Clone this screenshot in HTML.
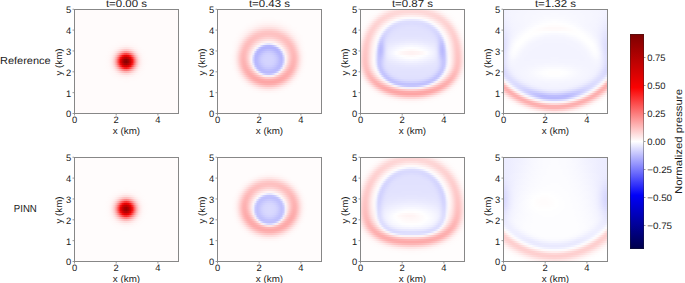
<!DOCTYPE html><html><head><meta charset="utf-8"><style>html,body{margin:0;padding:0;background:#fff;width:685px;height:283px;overflow:hidden}</style></head><body><div style="position:relative;width:685px;height:283px"><div style="position:absolute;left:74px;top:9px;width:105px;height:105px"><div style="height:2px;background:linear-gradient(90deg,#fffbfb,#fffbfb,#fffbfb,#fffbfb,#fffbfb,#fffbfb,#fffbfb,#fffbfb,#fffbfb,#fffbfb,#fffbfb,#fffbfb,#fffbfb,#fffbfb,#fffbfb,#fffbfb,#fffbfb,#fffbfb,#fffbfb,#fffbfb,#fffbfb,#fffbfb,#fffbfb,#fffbfb,#fffbfb,#fffbfb,#fffbfb,#fffbfb,#fffbfb,#fffbfb,#fffbfb,#fffbfb,#fffbfb,#fffbfb,#fffbfb,#fffbfb,#fffbfb,#fffbfb,#fffbfb,#fffbfb,#fffbfb,#fffbfb,#fffbfb,#fffbfb,#fffbfb,#fffbfb,#fffbfb,#fffbfb,#fffbfb,#fffbfb,#fffbfb,#fffbfb,#fffbfb)"></div><div style="height:2px;background:linear-gradient(90deg,#fffbfb,#fffbfb,#fffbfb,#fffbfb,#fffbfb,#fffbfb,#fffbfb,#fffbfb,#fffbfb,#fffbfb,#fffbfb,#fffbfb,#fffbfb,#fffbfb,#fffbfb,#fffbfb,#fffbfb,#fffbfb,#fffbfb,#fffbfb,#fffbfb,#fffbfb,#fffbfb,#fffbfb,#fffbfb,#fffbfb,#fffbfb,#fffbfb,#fffbfb,#fffbfb,#fffbfb,#fffbfb,#fffbfb,#fffbfb,#fffbfb,#fffbfb,#fffbfb,#fffbfb,#fffbfb,#fffbfb,#fffbfb,#fffbfb,#fffbfb,#fffbfb,#fffbfb,#fffbfb,#fffbfb,#fffbfb,#fffbfb,#fffbfb,#fffbfb,#fffbfb,#fffbfb)"></div><div style="height:2px;background:linear-gradient(90deg,#fffbfb,#fffbfb,#fffbfb,#fffbfb,#fffbfb,#fffbfb,#fffbfb,#fffbfb,#fffbfb,#fffbfb,#fffbfb,#fffbfb,#fffbfb,#fffbfb,#fffbfb,#fffbfb,#fffbfb,#fffbfb,#fffbfb,#fffbfb,#fffbfb,#fffbfb,#fffbfb,#fffbfb,#fffbfb,#fffbfb,#fffbfb,#fffbfb,#fffbfb,#fffbfb,#fffbfb,#fffbfb,#fffbfb,#fffbfb,#fffbfb,#fffbfb,#fffbfb,#fffbfb,#fffbfb,#fffbfb,#fffbfb,#fffbfb,#fffbfb,#fffbfb,#fffbfb,#fffbfb,#fffbfb,#fffbfb,#fffbfb,#fffbfb,#fffbfb,#fffbfb,#fffbfb)"></div><div style="height:2px;background:linear-gradient(90deg,#fffbfb,#fffbfb,#fffbfb,#fffbfb,#fffbfb,#fffbfb,#fffbfb,#fffbfb,#fffbfb,#fffbfb,#fffbfb,#fffbfb,#fffbfb,#fffbfb,#fffbfb,#fffbfb,#fffbfb,#fffbfb,#fffbfb,#fffbfb,#fffbfb,#fffbfb,#fffbfb,#fffbfb,#fffbfb,#fffbfb,#fffbfb,#fffbfb,#fffbfb,#fffbfb,#fffbfb,#fffbfb,#fffbfb,#fffbfb,#fffbfb,#fffbfb,#fffbfb,#fffbfb,#fffbfb,#fffbfb,#fffbfb,#fffbfb,#fffbfb,#fffbfb,#fffbfb,#fffbfb,#fffbfb,#fffbfb,#fffbfb,#fffbfb,#fffbfb,#fffbfb,#fffbfb)"></div><div style="height:2px;background:linear-gradient(90deg,#fffbfb,#fffbfb,#fffbfb,#fffbfb,#fffbfb,#fffbfb,#fffbfb,#fffbfb,#fffbfb,#fffbfb,#fffbfb,#fffbfb,#fffbfb,#fffbfb,#fffbfb,#fffbfb,#fffbfb,#fffbfb,#fffbfb,#fffbfb,#fffbfb,#fffbfb,#fffbfb,#fffbfb,#fffbfb,#fffbfb,#fffbfb,#fffbfb,#fffbfb,#fffbfb,#fffbfb,#fffbfb,#fffbfb,#fffbfb,#fffbfb,#fffbfb,#fffbfb,#fffbfb,#fffbfb,#fffbfb,#fffbfb,#fffbfb,#fffbfb,#fffbfb,#fffbfb,#fffbfb,#fffbfb,#fffbfb,#fffbfb,#fffbfb,#fffbfb,#fffbfb,#fffbfb)"></div><div style="height:2px;background:linear-gradient(90deg,#fffbfb,#fffbfb,#fffbfb,#fffbfb,#fffbfb,#fffbfb,#fffbfb,#fffbfb,#fffbfb,#fffbfb,#fffbfb,#fffbfb,#fffbfb,#fffbfb,#fffbfb,#fffbfb,#fffbfb,#fffbfb,#fffbfb,#fffbfb,#fffbfb,#fffbfb,#fffbfb,#fffbfb,#fffbfb,#fffbfb,#fffbfb,#fffbfb,#fffbfb,#fffbfb,#fffbfb,#fffbfb,#fffbfb,#fffbfb,#fffbfb,#fffbfb,#fffbfb,#fffbfb,#fffbfb,#fffbfb,#fffbfb,#fffbfb,#fffbfb,#fffbfb,#fffbfb,#fffbfb,#fffbfb,#fffbfb,#fffbfb,#fffbfb,#fffbfb,#fffbfb,#fffbfb)"></div><div style="height:2px;background:linear-gradient(90deg,#fffbfb,#fffbfb,#fffbfb,#fffbfb,#fffbfb,#fffbfb,#fffbfb,#fffbfb,#fffbfb,#fffbfb,#fffbfb,#fffbfb,#fffbfb,#fffbfb,#fffbfb,#fffbfb,#fffbfb,#fffbfb,#fffbfb,#fffbfb,#fffbfb,#fffbfb,#fffbfb,#fffbfb,#fffbfb,#fffbfb,#fffbfb,#fffbfb,#fffbfb,#fffbfb,#fffbfb,#fffbfb,#fffbfb,#fffbfb,#fffbfb,#fffbfb,#fffbfb,#fffbfb,#fffbfb,#fffbfb,#fffbfb,#fffbfb,#fffbfb,#fffbfb,#fffbfb,#fffbfb,#fffbfb,#fffbfb,#fffbfb,#fffbfb,#fffbfb,#fffbfb,#fffbfb)"></div><div style="height:2px;background:linear-gradient(90deg,#fffbfb,#fffbfb,#fffbfb,#fffbfb,#fffbfb,#fffbfb,#fffbfb,#fffbfb,#fffbfb,#fffbfb,#fffbfb,#fffbfb,#fffbfb,#fffbfb,#fffbfb,#fffbfb,#fffbfb,#fffbfb,#fffbfb,#fffbfb,#fffbfb,#fffbfb,#fffbfb,#fffbfb,#fffbfb,#fffbfb,#fffbfb,#fffbfb,#fffbfb,#fffbfb,#fffbfb,#fffbfb,#fffbfb,#fffbfb,#fffbfb,#fffbfb,#fffbfb,#fffbfb,#fffbfb,#fffbfb,#fffbfb,#fffbfb,#fffbfb,#fffbfb,#fffbfb,#fffbfb,#fffbfb,#fffbfb,#fffbfb,#fffbfb,#fffbfb,#fffbfb,#fffbfb)"></div><div style="height:2px;background:linear-gradient(90deg,#fffbfb,#fffbfb,#fffbfb,#fffbfb,#fffbfb,#fffbfb,#fffbfb,#fffbfb,#fffbfb,#fffbfb,#fffbfb,#fffbfb,#fffbfb,#fffbfb,#fffbfb,#fffbfb,#fffbfb,#fffbfb,#fffbfb,#fffbfb,#fffbfb,#fffbfb,#fffbfb,#fffbfb,#fffbfb,#fffbfb,#fffbfb,#fffbfb,#fffbfb,#fffbfb,#fffbfb,#fffbfb,#fffbfb,#fffbfb,#fffbfb,#fffbfb,#fffbfb,#fffbfb,#fffbfb,#fffbfb,#fffbfb,#fffbfb,#fffbfb,#fffbfb,#fffbfb,#fffbfb,#fffbfb,#fffbfb,#fffbfb,#fffbfb,#fffbfb,#fffbfb,#fffbfb)"></div><div style="height:2px;background:linear-gradient(90deg,#fffbfb,#fffbfb,#fffbfb,#fffbfb,#fffbfb,#fffbfb,#fffbfb,#fffbfb,#fffbfb,#fffbfb,#fffbfb,#fffbfb,#fffbfb,#fffbfb,#fffbfb,#fffbfb,#fffbfb,#fffbfb,#fffbfb,#fffbfb,#fffbfb,#fffbfb,#fffbfb,#fffbfb,#fffbfb,#fffbfb,#fffbfb,#fffbfb,#fffbfb,#fffbfb,#fffbfb,#fffbfb,#fffbfb,#fffbfb,#fffbfb,#fffbfb,#fffbfb,#fffbfb,#fffbfb,#fffbfb,#fffbfb,#fffbfb,#fffbfb,#fffbfb,#fffbfb,#fffbfb,#fffbfb,#fffbfb,#fffbfb,#fffbfb,#fffbfb,#fffbfb,#fffbfb)"></div><div style="height:2px;background:linear-gradient(90deg,#fffbfb,#fffbfb,#fffbfb,#fffbfb,#fffbfb,#fffbfb,#fffbfb,#fffbfb,#fffbfb,#fffbfb,#fffbfb,#fffbfb,#fffbfb,#fffbfb,#fffbfb,#fffbfb,#fffbfb,#fffbfb,#fffbfb,#fffbfb,#fffbfb,#fffbfb,#fffbfb,#fffbfb,#fffbfb,#fffbfb,#fffbfb,#fffbfb,#fffbfb,#fffbfb,#fffbfb,#fffbfb,#fffbfb,#fffbfb,#fffbfb,#fffbfb,#fffbfb,#fffbfb,#fffbfb,#fffbfb,#fffbfb,#fffbfb,#fffbfb,#fffbfb,#fffbfb,#fffbfb,#fffbfb,#fffbfb,#fffbfb,#fffbfb,#fffbfb,#fffbfb,#fffbfb)"></div><div style="height:2px;background:linear-gradient(90deg,#fffbfb,#fffbfb,#fffbfb,#fffbfb,#fffbfb,#fffbfb,#fffbfb,#fffbfb,#fffbfb,#fffbfb,#fffbfb,#fffbfb,#fffbfb,#fffbfb,#fffbfb,#fffbfb,#fffbfb,#fffbfb,#fffbfb,#fffbfb,#fffbfb,#fffbfb,#fffbfb,#fffbfb,#fffbfb,#fffbfb,#fffbfb,#fffbfb,#fffbfb,#fffbfb,#fffbfb,#fffbfb,#fffbfb,#fffbfb,#fffbfb,#fffbfb,#fffbfb,#fffbfb,#fffbfb,#fffbfb,#fffbfb,#fffbfb,#fffbfb,#fffbfb,#fffbfb,#fffbfb,#fffbfb,#fffbfb,#fffbfb,#fffbfb,#fffbfb,#fffbfb,#fffbfb)"></div><div style="height:2px;background:linear-gradient(90deg,#fffbfb,#fffbfb,#fffbfb,#fffbfb,#fffbfb,#fffbfb,#fffbfb,#fffbfb,#fffbfb,#fffbfb,#fffbfb,#fffbfb,#fffbfb,#fffbfb,#fffbfb,#fffbfb,#fffbfb,#fffbfb,#fffbfb,#fffbfb,#fffbfb,#fffbfb,#fffbfb,#fffbfb,#fffbfb,#fffbfb,#fffbfb,#fffbfb,#fffbfb,#fffbfb,#fffbfb,#fffbfb,#fffbfb,#fffbfb,#fffbfb,#fffbfb,#fffbfb,#fffbfb,#fffbfb,#fffbfb,#fffbfb,#fffbfb,#fffbfb,#fffbfb,#fffbfb,#fffbfb,#fffbfb,#fffbfb,#fffbfb,#fffbfb,#fffbfb,#fffbfb,#fffbfb)"></div><div style="height:2px;background:linear-gradient(90deg,#fffbfb,#fffbfb,#fffbfb,#fffbfb,#fffbfb,#fffbfb,#fffbfb,#fffbfb,#fffbfb,#fffbfb,#fffbfb,#fffbfb,#fffbfb,#fffbfb,#fffbfb,#fffbfb,#fffbfb,#fffbfb,#fffbfb,#fffbfb,#fffbfb,#fffbfb,#fffbfb,#fffbfb,#fffbfb,#fffbfb,#fffbfb,#fffbfb,#fffbfb,#fffbfb,#fffbfb,#fffbfb,#fffbfb,#fffbfb,#fffbfb,#fffbfb,#fffbfb,#fffbfb,#fffbfb,#fffbfb,#fffbfb,#fffbfb,#fffbfb,#fffbfb,#fffbfb,#fffbfb,#fffbfb,#fffbfb,#fffbfb,#fffbfb,#fffbfb,#fffbfb,#fffbfb)"></div><div style="height:2px;background:linear-gradient(90deg,#fffbfb,#fffbfb,#fffbfb,#fffbfb,#fffbfb,#fffbfb,#fffbfb,#fffbfb,#fffbfb,#fffbfb,#fffbfb,#fffbfb,#fffbfb,#fffbfb,#fffbfb,#fffbfb,#fffbfb,#fffbfb,#fffbfb,#fffbfb,#fffbfb,#fffbfb,#fffbfb,#fffbfb,#fffbfb,#fffbfb,#fffbfb,#fffbfb,#fffbfb,#fffbfb,#fffbfb,#fffbfb,#fffbfb,#fffbfb,#fffbfb,#fffbfb,#fffbfb,#fffbfb,#fffbfb,#fffbfb,#fffbfb,#fffbfb,#fffbfb,#fffbfb,#fffbfb,#fffbfb,#fffbfb,#fffbfb,#fffbfb,#fffbfb,#fffbfb,#fffbfb,#fffbfb)"></div><div style="height:2px;background:linear-gradient(90deg,#fffbfb,#fffbfb,#fffbfb,#fffbfb,#fffbfb,#fffbfb,#fffbfb,#fffbfb,#fffbfb,#fffbfb,#fffbfb,#fffbfb,#fffbfb,#fffbfb,#fffbfb,#fffbfb,#fffbfb,#fffbfb,#fffbfb,#fffbfb,#fffbfb,#fffbfb,#fffbfb,#fffbfb,#fffbfb,#fffbfb,#fffbfb,#fffbfb,#fffbfb,#fffbfb,#fffbfb,#fffbfb,#fffbfb,#fffbfb,#fffbfb,#fffbfb,#fffbfb,#fffbfb,#fffbfb,#fffbfb,#fffbfb,#fffbfb,#fffbfb,#fffbfb,#fffbfb,#fffbfb,#fffbfb,#fffbfb,#fffbfb,#fffbfb,#fffbfb,#fffbfb,#fffbfb)"></div><div style="height:2px;background:linear-gradient(90deg,#fffbfb,#fffbfb,#fffbfb,#fffbfb,#fffbfb,#fffbfb,#fffbfb,#fffbfb,#fffbfb,#fffbfb,#fffbfb,#fffbfb,#fffbfb,#fffbfb,#fffbfb,#fffbfb,#fffbfb,#fffbfb,#fffbfb,#fffbfb,#fffbfb,#fffbfb,#fffafa,#fffafa,#fffafa,#fffafa,#fffafa,#fffafa,#fffafa,#fffafa,#fffbfb,#fffbfb,#fffbfb,#fffbfb,#fffbfb,#fffbfb,#fffbfb,#fffbfb,#fffbfb,#fffbfb,#fffbfb,#fffbfb,#fffbfb,#fffbfb,#fffbfb,#fffbfb,#fffbfb,#fffbfb,#fffbfb,#fffbfb,#fffbfb,#fffbfb,#fffbfb)"></div><div style="height:2px;background:linear-gradient(90deg,#fffbfb,#fffbfb,#fffbfb,#fffbfb,#fffbfb,#fffbfb,#fffbfb,#fffbfb,#fffbfb,#fffbfb,#fffbfb,#fffbfb,#fffbfb,#fffbfb,#fffbfb,#fffbfb,#fffbfb,#fffbfb,#fffbfb,#fffbfb,#fffbfb,#fffafa,#fffafa,#fff9f9,#fff9f9,#fff8f8,#fff8f8,#fff8f8,#fff9f9,#fff9f9,#fffafa,#fffafa,#fffbfb,#fffbfb,#fffbfb,#fffbfb,#fffbfb,#fffbfb,#fffbfb,#fffbfb,#fffbfb,#fffbfb,#fffbfb,#fffbfb,#fffbfb,#fffbfb,#fffbfb,#fffbfb,#fffbfb,#fffbfb,#fffbfb,#fffbfb,#fffbfb)"></div><div style="height:2px;background:linear-gradient(90deg,#fffbfb,#fffbfb,#fffbfb,#fffbfb,#fffbfb,#fffbfb,#fffbfb,#fffbfb,#fffbfb,#fffbfb,#fffbfb,#fffbfb,#fffbfb,#fffbfb,#fffbfb,#fffbfb,#fffbfb,#fffbfb,#fffbfb,#fffafa,#fffafa,#fff9f9,#fff8f8,#fff6f6,#fff4f4,#fff3f3,#fff2f2,#fff3f3,#fff5f5,#fff7f7,#fff8f8,#fff9f9,#fffafa,#fffbfb,#fffbfb,#fffbfb,#fffbfb,#fffbfb,#fffbfb,#fffbfb,#fffbfb,#fffbfb,#fffbfb,#fffbfb,#fffbfb,#fffbfb,#fffbfb,#fffbfb,#fffbfb,#fffbfb,#fffbfb,#fffbfb,#fffbfb)"></div><div style="height:2px;background:linear-gradient(90deg,#fffbfb,#fffbfb,#fffbfb,#fffbfb,#fffbfb,#fffbfb,#fffbfb,#fffbfb,#fffbfb,#fffbfb,#fffbfb,#fffbfb,#fffbfb,#fffbfb,#fffbfb,#fffbfb,#fffbfb,#fffbfb,#fffafa,#fffafa,#fff8f8,#fff6f6,#fff2f2,#ffeded,#ffe9e9,#fee5e5,#fee4e4,#fee6e6,#ffeaea,#ffefef,#fff4f4,#fff7f7,#fff9f9,#fffafa,#fffbfb,#fffbfb,#fffbfb,#fffbfb,#fffbfb,#fffbfb,#fffbfb,#fffbfb,#fffbfb,#fffbfb,#fffbfb,#fffbfb,#fffbfb,#fffbfb,#fffbfb,#fffbfb,#fffbfb,#fffbfb,#fffbfb)"></div><div style="height:2px;background:linear-gradient(90deg,#fffbfb,#fffbfb,#fffbfb,#fffbfb,#fffbfb,#fffbfb,#fffbfb,#fffbfb,#fffbfb,#fffbfb,#fffbfb,#fffbfb,#fffbfb,#fffbfb,#fffbfb,#fffbfb,#fffbfb,#fffbfb,#fffafa,#fff9f9,#fff5f5,#fff0f0,#fee7e7,#fedcdc,#fed0d0,#fec8c8,#fec6c6,#fecbcb,#fed5d5,#fee1e1,#ffebeb,#fff2f2,#fff7f7,#fff9f9,#fffafa,#fffbfb,#fffbfb,#fffbfb,#fffbfb,#fffbfb,#fffbfb,#fffbfb,#fffbfb,#fffbfb,#fffbfb,#fffbfb,#fffbfb,#fffbfb,#fffbfb,#fffbfb,#fffbfb,#fffbfb,#fffbfb)"></div><div style="height:2px;background:linear-gradient(90deg,#fffbfb,#fffbfb,#fffbfb,#fffbfb,#fffbfb,#fffbfb,#fffbfb,#fffbfb,#fffbfb,#fffbfb,#fffbfb,#fffbfb,#fffbfb,#fffbfb,#fffbfb,#fffbfb,#fffbfb,#fffafa,#fff9f9,#fff6f6,#fff0f0,#fee4e4,#fed3d3,#febcbc,#fda5a5,#fd9494,#fd9090,#fd9a9a,#fdaeae,#fec5c5,#fedbdb,#ffeaea,#fff3f3,#fff8f8,#fffafa,#fffafa,#fffbfb,#fffbfb,#fffbfb,#fffbfb,#fffbfb,#fffbfb,#fffbfb,#fffbfb,#fffbfb,#fffbfb,#fffbfb,#fffbfb,#fffbfb,#fffbfb,#fffbfb,#fffbfb,#fffbfb)"></div><div style="height:2px;background:linear-gradient(90deg,#fffbfb,#fffbfb,#fffbfb,#fffbfb,#fffbfb,#fffbfb,#fffbfb,#fffbfb,#fffbfb,#fffbfb,#fffbfb,#fffbfb,#fffbfb,#fffbfb,#fffbfb,#fffbfb,#fffbfb,#fffafa,#fff8f8,#fff3f3,#ffe8e8,#fed3d3,#fdb4b4,#fd8c8c,#fc6363,#fb4646,#fb3e3e,#fb4f4f,#fc7373,#fd9c9c,#fec2c2,#fedddd,#ffeded,#fff5f5,#fff9f9,#fffafa,#fffbfb,#fffbfb,#fffbfb,#fffbfb,#fffbfb,#fffbfb,#fffbfb,#fffbfb,#fffbfb,#fffbfb,#fffbfb,#fffbfb,#fffbfb,#fffbfb,#fffbfb,#fffbfb,#fffbfb)"></div><div style="height:2px;background:linear-gradient(90deg,#fffbfb,#fffbfb,#fffbfb,#fffbfb,#fffbfb,#fffbfb,#fffbfb,#fffbfb,#fffbfb,#fffbfb,#fffbfb,#fffbfb,#fffbfb,#fffbfb,#fffbfb,#fffbfb,#fffafa,#fff9f9,#fff6f6,#ffeeee,#fedddd,#febebe,#fd8d8d,#fb4f4f,#f71616,#ea0202,#e40202,#ef0707,#fa2828,#fc6969,#fda3a3,#fecccc,#fee5e5,#fff2f2,#fff8f8,#fffafa,#fffbfb,#fffbfb,#fffbfb,#fffbfb,#fffbfb,#fffbfb,#fffbfb,#fffbfb,#fffbfb,#fffbfb,#fffbfb,#fffbfb,#fffbfb,#fffbfb,#fffbfb,#fffbfb,#fffbfb)"></div><div style="height:2px;background:linear-gradient(90deg,#fffbfb,#fffbfb,#fffbfb,#fffbfb,#fffbfb,#fffbfb,#fffbfb,#fffbfb,#fffbfb,#fffbfb,#fffbfb,#fffbfb,#fffbfb,#fffbfb,#fffbfb,#fffbfb,#fffafa,#fff9f9,#fff4f4,#ffeaea,#fed3d3,#fda8a8,#fc6767,#f81818,#d80202,#ba0202,#b20202,#c40202,#e80202,#fb3636,#fc8484,#febcbc,#fedede,#ffefef,#fff7f7,#fffafa,#fffafa,#fffbfb,#fffbfb,#fffbfb,#fffbfb,#fffbfb,#fffbfb,#fffbfb,#fffbfb,#fffbfb,#fffbfb,#fffbfb,#fffbfb,#fffbfb,#fffbfb,#fffbfb,#fffbfb)"></div><div style="height:2px;background:linear-gradient(90deg,#fffbfb,#fffbfb,#fffbfb,#fffbfb,#fffbfb,#fffbfb,#fffbfb,#fffbfb,#fffbfb,#fffbfb,#fffbfb,#fffbfb,#fffbfb,#fffbfb,#fffbfb,#fffbfb,#fffafa,#fff8f8,#fff3f3,#fee7e7,#fecccc,#fd9a9a,#fb4d4d,#ed0404,#bc0202,#990101,#900101,#a40202,#cf0202,#f81717,#fc6f6f,#fdb1b1,#fed9d9,#ffeded,#fff6f6,#fff9f9,#fffafa,#fffbfb,#fffbfb,#fffbfb,#fffbfb,#fffbfb,#fffbfb,#fffbfb,#fffbfb,#fffbfb,#fffbfb,#fffbfb,#fffbfb,#fffbfb,#fffbfb,#fffbfb,#fffbfb)"></div><div style="height:2px;background:linear-gradient(90deg,#fffbfb,#fffbfb,#fffbfb,#fffbfb,#fffbfb,#fffbfb,#fffbfb,#fffbfb,#fffbfb,#fffbfb,#fffbfb,#fffbfb,#fffbfb,#fffbfb,#fffbfb,#fffbfb,#fffafa,#fff8f8,#fff3f3,#fee6e6,#fecaca,#fd9797,#fb4848,#ea0202,#b70202,#930101,#890101,#9f0101,#cb0202,#f61515,#fc6b6b,#fdafaf,#fed8d8,#ffeded,#fff6f6,#fff9f9,#fffafa,#fffbfb,#fffbfb,#fffbfb,#fffbfb,#fffbfb,#fffbfb,#fffbfb,#fffbfb,#fffbfb,#fffbfb,#fffbfb,#fffbfb,#fffbfb,#fffbfb,#fffbfb,#fffbfb)"></div><div style="height:2px;background:linear-gradient(90deg,#fffbfb,#fffbfb,#fffbfb,#fffbfb,#fffbfb,#fffbfb,#fffbfb,#fffbfb,#fffbfb,#fffbfb,#fffbfb,#fffbfb,#fffbfb,#fffbfb,#fffbfb,#fffbfb,#fffafa,#fff9f9,#fff4f4,#ffe8e8,#fecfcf,#fda1a1,#fc5a5a,#f30d0d,#cb0202,#aa0202,#a20101,#b50202,#dc0202,#fa2525,#fc7a7a,#fdb7b7,#fedbdb,#ffeeee,#fff6f6,#fff9f9,#fffafa,#fffbfb,#fffbfb,#fffbfb,#fffbfb,#fffbfb,#fffbfb,#fffbfb,#fffbfb,#fffbfb,#fffbfb,#fffbfb,#fffbfb,#fffbfb,#fffbfb,#fffbfb,#fffbfb)"></div><div style="height:2px;background:linear-gradient(90deg,#fffbfb,#fffbfb,#fffbfb,#fffbfb,#fffbfb,#fffbfb,#fffbfb,#fffbfb,#fffbfb,#fffbfb,#fffbfb,#fffbfb,#fffbfb,#fffbfb,#fffbfb,#fffbfb,#fffafa,#fff9f9,#fff5f5,#ffecec,#fed9d9,#fdb5b5,#fc7d7d,#fb3636,#ee0606,#d60202,#cf0202,#de0202,#f61111,#fb5454,#fd9696,#fec5c5,#fee2e2,#fff1f1,#fff7f7,#fffafa,#fffbfb,#fffbfb,#fffbfb,#fffbfb,#fffbfb,#fffbfb,#fffbfb,#fffbfb,#fffbfb,#fffbfb,#fffbfb,#fffbfb,#fffbfb,#fffbfb,#fffbfb,#fffbfb,#fffbfb)"></div><div style="height:2px;background:linear-gradient(90deg,#fffbfb,#fffbfb,#fffbfb,#fffbfb,#fffbfb,#fffbfb,#fffbfb,#fffbfb,#fffbfb,#fffbfb,#fffbfb,#fffbfb,#fffbfb,#fffbfb,#fffbfb,#fffbfb,#fffafa,#fffafa,#fff7f7,#fff1f1,#fee4e4,#fecbcb,#fda5a5,#fc7474,#fb4343,#fa2020,#f91919,#fb2b2b,#fb5656,#fc8989,#fdb6b6,#fed6d6,#ffeaea,#fff4f4,#fff8f8,#fffafa,#fffbfb,#fffbfb,#fffbfb,#fffbfb,#fffbfb,#fffbfb,#fffbfb,#fffbfb,#fffbfb,#fffbfb,#fffbfb,#fffbfb,#fffbfb,#fffbfb,#fffbfb,#fffbfb,#fffbfb)"></div><div style="height:2px;background:linear-gradient(90deg,#fffbfb,#fffbfb,#fffbfb,#fffbfb,#fffbfb,#fffbfb,#fffbfb,#fffbfb,#fffbfb,#fffbfb,#fffbfb,#fffbfb,#fffbfb,#fffbfb,#fffbfb,#fffbfb,#fffbfb,#fffafa,#fff9f9,#fff5f5,#ffeded,#fedede,#fec8c8,#fdabab,#fd8d8d,#fc7878,#fc7373,#fc7f7f,#fd9999,#fdb7b7,#fed2d2,#fee5e5,#fff1f1,#fff7f7,#fff9f9,#fffafa,#fffbfb,#fffbfb,#fffbfb,#fffbfb,#fffbfb,#fffbfb,#fffbfb,#fffbfb,#fffbfb,#fffbfb,#fffbfb,#fffbfb,#fffbfb,#fffbfb,#fffbfb,#fffbfb,#fffbfb)"></div><div style="height:2px;background:linear-gradient(90deg,#fffbfb,#fffbfb,#fffbfb,#fffbfb,#fffbfb,#fffbfb,#fffbfb,#fffbfb,#fffbfb,#fffbfb,#fffbfb,#fffbfb,#fffbfb,#fffbfb,#fffbfb,#fffbfb,#fffbfb,#fffafa,#fffafa,#fff8f8,#fff4f4,#ffecec,#fee0e0,#fed1d1,#fec2c2,#fdb7b7,#fdb4b4,#febaba,#fec8c8,#fed7d7,#fee5e5,#ffefef,#fff6f6,#fff9f9,#fffafa,#fffbfb,#fffbfb,#fffbfb,#fffbfb,#fffbfb,#fffbfb,#fffbfb,#fffbfb,#fffbfb,#fffbfb,#fffbfb,#fffbfb,#fffbfb,#fffbfb,#fffbfb,#fffbfb,#fffbfb,#fffbfb)"></div><div style="height:2px;background:linear-gradient(90deg,#fffbfb,#fffbfb,#fffbfb,#fffbfb,#fffbfb,#fffbfb,#fffbfb,#fffbfb,#fffbfb,#fffbfb,#fffbfb,#fffbfb,#fffbfb,#fffbfb,#fffbfb,#fffbfb,#fffbfb,#fffbfb,#fffafa,#fff9f9,#fff8f8,#fff4f4,#ffefef,#ffe8e8,#fee1e1,#fedcdc,#fedbdb,#fedddd,#fee4e4,#ffebeb,#fff1f1,#fff6f6,#fff8f8,#fffafa,#fffafa,#fffbfb,#fffbfb,#fffbfb,#fffbfb,#fffbfb,#fffbfb,#fffbfb,#fffbfb,#fffbfb,#fffbfb,#fffbfb,#fffbfb,#fffbfb,#fffbfb,#fffbfb,#fffbfb,#fffbfb,#fffbfb)"></div><div style="height:2px;background:linear-gradient(90deg,#fffbfb,#fffbfb,#fffbfb,#fffbfb,#fffbfb,#fffbfb,#fffbfb,#fffbfb,#fffbfb,#fffbfb,#fffbfb,#fffbfb,#fffbfb,#fffbfb,#fffbfb,#fffbfb,#fffbfb,#fffbfb,#fffbfb,#fffafa,#fff9f9,#fff8f8,#fff6f6,#fff3f3,#fff1f1,#ffefef,#ffeeee,#ffefef,#fff2f2,#fff4f4,#fff7f7,#fff9f9,#fffafa,#fffafa,#fffbfb,#fffbfb,#fffbfb,#fffbfb,#fffbfb,#fffbfb,#fffbfb,#fffbfb,#fffbfb,#fffbfb,#fffbfb,#fffbfb,#fffbfb,#fffbfb,#fffbfb,#fffbfb,#fffbfb,#fffbfb,#fffbfb)"></div><div style="height:2px;background:linear-gradient(90deg,#fffbfb,#fffbfb,#fffbfb,#fffbfb,#fffbfb,#fffbfb,#fffbfb,#fffbfb,#fffbfb,#fffbfb,#fffbfb,#fffbfb,#fffbfb,#fffbfb,#fffbfb,#fffbfb,#fffbfb,#fffbfb,#fffbfb,#fffbfb,#fffafa,#fffafa,#fff9f9,#fff8f8,#fff7f7,#fff7f7,#fff6f6,#fff7f7,#fff8f8,#fff9f9,#fff9f9,#fffafa,#fffafa,#fffbfb,#fffbfb,#fffbfb,#fffbfb,#fffbfb,#fffbfb,#fffbfb,#fffbfb,#fffbfb,#fffbfb,#fffbfb,#fffbfb,#fffbfb,#fffbfb,#fffbfb,#fffbfb,#fffbfb,#fffbfb,#fffbfb,#fffbfb)"></div><div style="height:2px;background:linear-gradient(90deg,#fffbfb,#fffbfb,#fffbfb,#fffbfb,#fffbfb,#fffbfb,#fffbfb,#fffbfb,#fffbfb,#fffbfb,#fffbfb,#fffbfb,#fffbfb,#fffbfb,#fffbfb,#fffbfb,#fffbfb,#fffbfb,#fffbfb,#fffbfb,#fffbfb,#fffbfb,#fffafa,#fffafa,#fffafa,#fffafa,#fff9f9,#fffafa,#fffafa,#fffafa,#fffafa,#fffbfb,#fffbfb,#fffbfb,#fffbfb,#fffbfb,#fffbfb,#fffbfb,#fffbfb,#fffbfb,#fffbfb,#fffbfb,#fffbfb,#fffbfb,#fffbfb,#fffbfb,#fffbfb,#fffbfb,#fffbfb,#fffbfb,#fffbfb,#fffbfb,#fffbfb)"></div><div style="height:2px;background:linear-gradient(90deg,#fffbfb,#fffbfb,#fffbfb,#fffbfb,#fffbfb,#fffbfb,#fffbfb,#fffbfb,#fffbfb,#fffbfb,#fffbfb,#fffbfb,#fffbfb,#fffbfb,#fffbfb,#fffbfb,#fffbfb,#fffbfb,#fffbfb,#fffbfb,#fffbfb,#fffbfb,#fffbfb,#fffbfb,#fffbfb,#fffafa,#fffafa,#fffafa,#fffbfb,#fffbfb,#fffbfb,#fffbfb,#fffbfb,#fffbfb,#fffbfb,#fffbfb,#fffbfb,#fffbfb,#fffbfb,#fffbfb,#fffbfb,#fffbfb,#fffbfb,#fffbfb,#fffbfb,#fffbfb,#fffbfb,#fffbfb,#fffbfb,#fffbfb,#fffbfb,#fffbfb,#fffbfb)"></div><div style="height:2px;background:linear-gradient(90deg,#fffbfb,#fffbfb,#fffbfb,#fffbfb,#fffbfb,#fffbfb,#fffbfb,#fffbfb,#fffbfb,#fffbfb,#fffbfb,#fffbfb,#fffbfb,#fffbfb,#fffbfb,#fffbfb,#fffbfb,#fffbfb,#fffbfb,#fffbfb,#fffbfb,#fffbfb,#fffbfb,#fffbfb,#fffbfb,#fffbfb,#fffbfb,#fffbfb,#fffbfb,#fffbfb,#fffbfb,#fffbfb,#fffbfb,#fffbfb,#fffbfb,#fffbfb,#fffbfb,#fffbfb,#fffbfb,#fffbfb,#fffbfb,#fffbfb,#fffbfb,#fffbfb,#fffbfb,#fffbfb,#fffbfb,#fffbfb,#fffbfb,#fffbfb,#fffbfb,#fffbfb,#fffbfb)"></div><div style="height:2px;background:linear-gradient(90deg,#fffbfb,#fffbfb,#fffbfb,#fffbfb,#fffbfb,#fffbfb,#fffbfb,#fffbfb,#fffbfb,#fffbfb,#fffbfb,#fffbfb,#fffbfb,#fffbfb,#fffbfb,#fffbfb,#fffbfb,#fffbfb,#fffbfb,#fffbfb,#fffbfb,#fffbfb,#fffbfb,#fffbfb,#fffbfb,#fffbfb,#fffbfb,#fffbfb,#fffbfb,#fffbfb,#fffbfb,#fffbfb,#fffbfb,#fffbfb,#fffbfb,#fffbfb,#fffbfb,#fffbfb,#fffbfb,#fffbfb,#fffbfb,#fffbfb,#fffbfb,#fffbfb,#fffbfb,#fffbfb,#fffbfb,#fffbfb,#fffbfb,#fffbfb,#fffbfb,#fffbfb,#fffbfb)"></div><div style="height:2px;background:linear-gradient(90deg,#fffbfb,#fffbfb,#fffbfb,#fffbfb,#fffbfb,#fffbfb,#fffbfb,#fffbfb,#fffbfb,#fffbfb,#fffbfb,#fffbfb,#fffbfb,#fffbfb,#fffbfb,#fffbfb,#fffbfb,#fffbfb,#fffbfb,#fffbfb,#fffbfb,#fffbfb,#fffbfb,#fffbfb,#fffbfb,#fffbfb,#fffbfb,#fffbfb,#fffbfb,#fffbfb,#fffbfb,#fffbfb,#fffbfb,#fffbfb,#fffbfb,#fffbfb,#fffbfb,#fffbfb,#fffbfb,#fffbfb,#fffbfb,#fffbfb,#fffbfb,#fffbfb,#fffbfb,#fffbfb,#fffbfb,#fffbfb,#fffbfb,#fffbfb,#fffbfb,#fffbfb,#fffbfb)"></div><div style="height:2px;background:linear-gradient(90deg,#fffbfb,#fffbfb,#fffbfb,#fffbfb,#fffbfb,#fffbfb,#fffbfb,#fffbfb,#fffbfb,#fffbfb,#fffbfb,#fffbfb,#fffbfb,#fffbfb,#fffbfb,#fffbfb,#fffbfb,#fffbfb,#fffbfb,#fffbfb,#fffbfb,#fffbfb,#fffbfb,#fffbfb,#fffbfb,#fffbfb,#fffbfb,#fffbfb,#fffbfb,#fffbfb,#fffbfb,#fffbfb,#fffbfb,#fffbfb,#fffbfb,#fffbfb,#fffbfb,#fffbfb,#fffbfb,#fffbfb,#fffbfb,#fffbfb,#fffbfb,#fffbfb,#fffbfb,#fffbfb,#fffbfb,#fffbfb,#fffbfb,#fffbfb,#fffbfb,#fffbfb,#fffbfb)"></div><div style="height:2px;background:linear-gradient(90deg,#fffbfb,#fffbfb,#fffbfb,#fffbfb,#fffbfb,#fffbfb,#fffbfb,#fffbfb,#fffbfb,#fffbfb,#fffbfb,#fffbfb,#fffbfb,#fffbfb,#fffbfb,#fffbfb,#fffbfb,#fffbfb,#fffbfb,#fffbfb,#fffbfb,#fffbfb,#fffbfb,#fffbfb,#fffbfb,#fffbfb,#fffbfb,#fffbfb,#fffbfb,#fffbfb,#fffbfb,#fffbfb,#fffbfb,#fffbfb,#fffbfb,#fffbfb,#fffbfb,#fffbfb,#fffbfb,#fffbfb,#fffbfb,#fffbfb,#fffbfb,#fffbfb,#fffbfb,#fffbfb,#fffbfb,#fffbfb,#fffbfb,#fffbfb,#fffbfb,#fffbfb,#fffbfb)"></div><div style="height:2px;background:linear-gradient(90deg,#fffbfb,#fffbfb,#fffbfb,#fffbfb,#fffbfb,#fffbfb,#fffbfb,#fffbfb,#fffbfb,#fffbfb,#fffbfb,#fffbfb,#fffbfb,#fffbfb,#fffbfb,#fffbfb,#fffbfb,#fffbfb,#fffbfb,#fffbfb,#fffbfb,#fffbfb,#fffbfb,#fffbfb,#fffbfb,#fffbfb,#fffbfb,#fffbfb,#fffbfb,#fffbfb,#fffbfb,#fffbfb,#fffbfb,#fffbfb,#fffbfb,#fffbfb,#fffbfb,#fffbfb,#fffbfb,#fffbfb,#fffbfb,#fffbfb,#fffbfb,#fffbfb,#fffbfb,#fffbfb,#fffbfb,#fffbfb,#fffbfb,#fffbfb,#fffbfb,#fffbfb,#fffbfb)"></div><div style="height:2px;background:linear-gradient(90deg,#fffbfb,#fffbfb,#fffbfb,#fffbfb,#fffbfb,#fffbfb,#fffbfb,#fffbfb,#fffbfb,#fffbfb,#fffbfb,#fffbfb,#fffbfb,#fffbfb,#fffbfb,#fffbfb,#fffbfb,#fffbfb,#fffbfb,#fffbfb,#fffbfb,#fffbfb,#fffbfb,#fffbfb,#fffbfb,#fffbfb,#fffbfb,#fffbfb,#fffbfb,#fffbfb,#fffbfb,#fffbfb,#fffbfb,#fffbfb,#fffbfb,#fffbfb,#fffbfb,#fffbfb,#fffbfb,#fffbfb,#fffbfb,#fffbfb,#fffbfb,#fffbfb,#fffbfb,#fffbfb,#fffbfb,#fffbfb,#fffbfb,#fffbfb,#fffbfb,#fffbfb,#fffbfb)"></div><div style="height:2px;background:linear-gradient(90deg,#fffbfb,#fffbfb,#fffbfb,#fffbfb,#fffbfb,#fffbfb,#fffbfb,#fffbfb,#fffbfb,#fffbfb,#fffbfb,#fffbfb,#fffbfb,#fffbfb,#fffbfb,#fffbfb,#fffbfb,#fffbfb,#fffbfb,#fffbfb,#fffbfb,#fffbfb,#fffbfb,#fffbfb,#fffbfb,#fffbfb,#fffbfb,#fffbfb,#fffbfb,#fffbfb,#fffbfb,#fffbfb,#fffbfb,#fffbfb,#fffbfb,#fffbfb,#fffbfb,#fffbfb,#fffbfb,#fffbfb,#fffbfb,#fffbfb,#fffbfb,#fffbfb,#fffbfb,#fffbfb,#fffbfb,#fffbfb,#fffbfb,#fffbfb,#fffbfb,#fffbfb,#fffbfb)"></div><div style="height:2px;background:linear-gradient(90deg,#fffbfb,#fffbfb,#fffbfb,#fffbfb,#fffbfb,#fffbfb,#fffbfb,#fffbfb,#fffbfb,#fffbfb,#fffbfb,#fffbfb,#fffbfb,#fffbfb,#fffbfb,#fffbfb,#fffbfb,#fffbfb,#fffbfb,#fffbfb,#fffbfb,#fffbfb,#fffbfb,#fffbfb,#fffbfb,#fffbfb,#fffbfb,#fffbfb,#fffbfb,#fffbfb,#fffbfb,#fffbfb,#fffbfb,#fffbfb,#fffbfb,#fffbfb,#fffbfb,#fffbfb,#fffbfb,#fffbfb,#fffbfb,#fffbfb,#fffbfb,#fffbfb,#fffbfb,#fffbfb,#fffbfb,#fffbfb,#fffbfb,#fffbfb,#fffbfb,#fffbfb,#fffbfb)"></div><div style="height:2px;background:linear-gradient(90deg,#fffbfb,#fffbfb,#fffbfb,#fffbfb,#fffbfb,#fffbfb,#fffbfb,#fffbfb,#fffbfb,#fffbfb,#fffbfb,#fffbfb,#fffbfb,#fffbfb,#fffbfb,#fffbfb,#fffbfb,#fffbfb,#fffbfb,#fffbfb,#fffbfb,#fffbfb,#fffbfb,#fffbfb,#fffbfb,#fffbfb,#fffbfb,#fffbfb,#fffbfb,#fffbfb,#fffbfb,#fffbfb,#fffbfb,#fffbfb,#fffbfb,#fffbfb,#fffbfb,#fffbfb,#fffbfb,#fffbfb,#fffbfb,#fffbfb,#fffbfb,#fffbfb,#fffbfb,#fffbfb,#fffbfb,#fffbfb,#fffbfb,#fffbfb,#fffbfb,#fffbfb,#fffbfb)"></div><div style="height:2px;background:linear-gradient(90deg,#fffbfb,#fffbfb,#fffbfb,#fffbfb,#fffbfb,#fffbfb,#fffbfb,#fffbfb,#fffbfb,#fffbfb,#fffbfb,#fffbfb,#fffbfb,#fffbfb,#fffbfb,#fffbfb,#fffbfb,#fffbfb,#fffbfb,#fffbfb,#fffbfb,#fffbfb,#fffbfb,#fffbfb,#fffbfb,#fffbfb,#fffbfb,#fffbfb,#fffbfb,#fffbfb,#fffbfb,#fffbfb,#fffbfb,#fffbfb,#fffbfb,#fffbfb,#fffbfb,#fffbfb,#fffbfb,#fffbfb,#fffbfb,#fffbfb,#fffbfb,#fffbfb,#fffbfb,#fffbfb,#fffbfb,#fffbfb,#fffbfb,#fffbfb,#fffbfb,#fffbfb,#fffbfb)"></div><div style="height:2px;background:linear-gradient(90deg,#fffbfb,#fffbfb,#fffbfb,#fffbfb,#fffbfb,#fffbfb,#fffbfb,#fffbfb,#fffbfb,#fffbfb,#fffbfb,#fffbfb,#fffbfb,#fffbfb,#fffbfb,#fffbfb,#fffbfb,#fffbfb,#fffbfb,#fffbfb,#fffbfb,#fffbfb,#fffbfb,#fffbfb,#fffbfb,#fffbfb,#fffbfb,#fffbfb,#fffbfb,#fffbfb,#fffbfb,#fffbfb,#fffbfb,#fffbfb,#fffbfb,#fffbfb,#fffbfb,#fffbfb,#fffbfb,#fffbfb,#fffbfb,#fffbfb,#fffbfb,#fffbfb,#fffbfb,#fffbfb,#fffbfb,#fffbfb,#fffbfb,#fffbfb,#fffbfb,#fffbfb,#fffbfb)"></div><div style="height:2px;background:linear-gradient(90deg,#fffbfb,#fffbfb,#fffbfb,#fffbfb,#fffbfb,#fffbfb,#fffbfb,#fffbfb,#fffbfb,#fffbfb,#fffbfb,#fffbfb,#fffbfb,#fffbfb,#fffbfb,#fffbfb,#fffbfb,#fffbfb,#fffbfb,#fffbfb,#fffbfb,#fffbfb,#fffbfb,#fffbfb,#fffbfb,#fffbfb,#fffbfb,#fffbfb,#fffbfb,#fffbfb,#fffbfb,#fffbfb,#fffbfb,#fffbfb,#fffbfb,#fffbfb,#fffbfb,#fffbfb,#fffbfb,#fffbfb,#fffbfb,#fffbfb,#fffbfb,#fffbfb,#fffbfb,#fffbfb,#fffbfb,#fffbfb,#fffbfb,#fffbfb,#fffbfb,#fffbfb,#fffbfb)"></div><div style="height:2px;background:linear-gradient(90deg,#fffbfb,#fffbfb,#fffbfb,#fffbfb,#fffbfb,#fffbfb,#fffbfb,#fffbfb,#fffbfb,#fffbfb,#fffbfb,#fffbfb,#fffbfb,#fffbfb,#fffbfb,#fffbfb,#fffbfb,#fffbfb,#fffbfb,#fffbfb,#fffbfb,#fffbfb,#fffbfb,#fffbfb,#fffbfb,#fffbfb,#fffbfb,#fffbfb,#fffbfb,#fffbfb,#fffbfb,#fffbfb,#fffbfb,#fffbfb,#fffbfb,#fffbfb,#fffbfb,#fffbfb,#fffbfb,#fffbfb,#fffbfb,#fffbfb,#fffbfb,#fffbfb,#fffbfb,#fffbfb,#fffbfb,#fffbfb,#fffbfb,#fffbfb,#fffbfb,#fffbfb,#fffbfb)"></div><div style="height:2px;background:linear-gradient(90deg,#fffbfb,#fffbfb,#fffbfb,#fffbfb,#fffbfb,#fffbfb,#fffbfb,#fffbfb,#fffbfb,#fffbfb,#fffbfb,#fffbfb,#fffbfb,#fffbfb,#fffbfb,#fffbfb,#fffbfb,#fffbfb,#fffbfb,#fffbfb,#fffbfb,#fffbfb,#fffbfb,#fffbfb,#fffbfb,#fffbfb,#fffbfb,#fffbfb,#fffbfb,#fffbfb,#fffbfb,#fffbfb,#fffbfb,#fffbfb,#fffbfb,#fffbfb,#fffbfb,#fffbfb,#fffbfb,#fffbfb,#fffbfb,#fffbfb,#fffbfb,#fffbfb,#fffbfb,#fffbfb,#fffbfb,#fffbfb,#fffbfb,#fffbfb,#fffbfb,#fffbfb,#fffbfb)"></div><div style="height:1px;background:linear-gradient(90deg,#fffbfb,#fffbfb,#fffbfb,#fffbfb,#fffbfb,#fffbfb,#fffbfb,#fffbfb,#fffbfb,#fffbfb,#fffbfb,#fffbfb,#fffbfb,#fffbfb,#fffbfb,#fffbfb,#fffbfb,#fffbfb,#fffbfb,#fffbfb,#fffbfb,#fffbfb,#fffbfb,#fffbfb,#fffbfb,#fffbfb,#fffbfb,#fffbfb,#fffbfb,#fffbfb,#fffbfb,#fffbfb,#fffbfb,#fffbfb,#fffbfb,#fffbfb,#fffbfb,#fffbfb,#fffbfb,#fffbfb,#fffbfb,#fffbfb,#fffbfb,#fffbfb,#fffbfb,#fffbfb,#fffbfb,#fffbfb,#fffbfb,#fffbfb,#fffbfb,#fffbfb,#fffbfb)"></div></div><div style="position:absolute;left:217px;top:9px;width:105px;height:105px"><div style="height:2px;background:linear-gradient(90deg,#fffcfc,#fffcfc,#fffcfc,#fffcfc,#fffcfc,#fffcfc,#fffcfc,#fffcfc,#fffcfc,#fffcfc,#fffcfc,#fffcfc,#fffcfc,#fffcfc,#fffcfc,#fffcfc,#fffcfc,#fffcfc,#fffcfc,#fffcfc,#fffcfc,#fffcfc,#fffcfc,#fffcfc,#fffcfc,#fffcfc,#fffcfc,#fffcfc,#fffcfc,#fffcfc,#fffcfc,#fffcfc,#fffcfc,#fffcfc,#fffcfc,#fffcfc,#fffcfc,#fffcfc,#fffcfc,#fffcfc,#fffcfc,#fffcfc,#fffcfc,#fffcfc,#fffcfc,#fffcfc,#fffcfc,#fffcfc,#fffcfc,#fffcfc,#fffcfc,#fffcfc,#fffcfc)"></div><div style="height:2px;background:linear-gradient(90deg,#fffcfc,#fffcfc,#fffcfc,#fffcfc,#fffcfc,#fffcfc,#fffcfc,#fffcfc,#fffcfc,#fffcfc,#fffcfc,#fffcfc,#fffcfc,#fffcfc,#fffcfc,#fffcfc,#fffcfc,#fffcfc,#fffcfc,#fffcfc,#fffcfc,#fffcfc,#fffcfc,#fffcfc,#fffcfc,#fffcfc,#fffcfc,#fffcfc,#fffcfc,#fffcfc,#fffcfc,#fffcfc,#fffcfc,#fffcfc,#fffcfc,#fffcfc,#fffcfc,#fffcfc,#fffcfc,#fffcfc,#fffcfc,#fffcfc,#fffcfc,#fffcfc,#fffcfc,#fffcfc,#fffcfc,#fffcfc,#fffcfc,#fffcfc,#fffcfc,#fffcfc,#fffcfc)"></div><div style="height:2px;background:linear-gradient(90deg,#fffcfc,#fffcfc,#fffcfc,#fffcfc,#fffcfc,#fffcfc,#fffcfc,#fffcfc,#fffcfc,#fffcfc,#fffcfc,#fffcfc,#fffcfc,#fffcfc,#fffcfc,#fffcfc,#fffcfc,#fffcfc,#fffcfc,#fffcfc,#fffcfc,#fffcfc,#fffcfc,#fffcfc,#fffcfc,#fffcfc,#fffcfc,#fffcfc,#fffcfc,#fffcfc,#fffcfc,#fffcfc,#fffcfc,#fffcfc,#fffcfc,#fffcfc,#fffcfc,#fffcfc,#fffcfc,#fffcfc,#fffcfc,#fffcfc,#fffcfc,#fffcfc,#fffcfc,#fffcfc,#fffcfc,#fffcfc,#fffcfc,#fffcfc,#fffcfc,#fffcfc,#fffcfc)"></div><div style="height:2px;background:linear-gradient(90deg,#fffcfc,#fffcfc,#fffcfc,#fffcfc,#fffcfc,#fffcfc,#fffcfc,#fffcfc,#fffcfc,#fffcfc,#fffcfc,#fffcfc,#fffcfc,#fffcfc,#fffcfc,#fffcfc,#fffcfc,#fffcfc,#fffcfc,#fffcfc,#fffcfc,#fffcfc,#fffcfc,#fffcfc,#fffcfc,#fffcfc,#fffcfc,#fffcfc,#fffcfc,#fffcfc,#fffcfc,#fffcfc,#fffcfc,#fffcfc,#fffcfc,#fffcfc,#fffcfc,#fffcfc,#fffcfc,#fffcfc,#fffcfc,#fffcfc,#fffcfc,#fffcfc,#fffcfc,#fffcfc,#fffcfc,#fffcfc,#fffcfc,#fffcfc,#fffcfc,#fffcfc,#fffcfc)"></div><div style="height:2px;background:linear-gradient(90deg,#fffcfc,#fffcfc,#fffcfc,#fffcfc,#fffcfc,#fffcfc,#fffcfc,#fffcfc,#fffcfc,#fffcfc,#fffcfc,#fffcfc,#fffcfc,#fffcfc,#fffcfc,#fffcfc,#fffcfc,#fffcfc,#fffcfc,#fffcfc,#fffcfc,#fffcfc,#fffcfc,#fffbfb,#fffbfb,#fffbfb,#fffbfb,#fffbfb,#fffbfb,#fffcfc,#fffcfc,#fffcfc,#fffcfc,#fffcfc,#fffcfc,#fffcfc,#fffcfc,#fffcfc,#fffcfc,#fffcfc,#fffcfc,#fffcfc,#fffcfc,#fffcfc,#fffcfc,#fffcfc,#fffcfc,#fffcfc,#fffcfc,#fffcfc,#fffcfc,#fffcfc,#fffcfc)"></div><div style="height:2px;background:linear-gradient(90deg,#fffcfc,#fffcfc,#fffcfc,#fffcfc,#fffcfc,#fffcfc,#fffcfc,#fffcfc,#fffcfc,#fffcfc,#fffcfc,#fffcfc,#fffcfc,#fffcfc,#fffcfc,#fffcfc,#fffcfc,#fffcfc,#fffcfc,#fffbfb,#fffbfb,#fffbfb,#fffafa,#fffafa,#fffafa,#fffafa,#fffafa,#fffafa,#fffafa,#fffafa,#fffbfb,#fffbfb,#fffbfb,#fffcfc,#fffcfc,#fffcfc,#fffcfc,#fffcfc,#fffcfc,#fffcfc,#fffcfc,#fffcfc,#fffcfc,#fffcfc,#fffcfc,#fffcfc,#fffcfc,#fffcfc,#fffcfc,#fffcfc,#fffcfc,#fffcfc,#fffcfc)"></div><div style="height:2px;background:linear-gradient(90deg,#fffcfc,#fffcfc,#fffcfc,#fffcfc,#fffcfc,#fffcfc,#fffcfc,#fffcfc,#fffcfc,#fffcfc,#fffcfc,#fffcfc,#fffcfc,#fffcfc,#fffcfc,#fffcfc,#fffcfc,#fffbfb,#fffbfb,#fffafa,#fff9f9,#fff9f9,#fff8f8,#fff7f7,#fff7f7,#fff7f7,#fff7f7,#fff7f7,#fff7f7,#fff8f8,#fff9f9,#fff9f9,#fffafa,#fffbfb,#fffbfb,#fffcfc,#fffcfc,#fffcfc,#fffcfc,#fffcfc,#fffcfc,#fffcfc,#fffcfc,#fffcfc,#fffcfc,#fffcfc,#fffcfc,#fffcfc,#fffcfc,#fffcfc,#fffcfc,#fffcfc,#fffcfc)"></div><div style="height:2px;background:linear-gradient(90deg,#fffcfc,#fffcfc,#fffcfc,#fffcfc,#fffcfc,#fffcfc,#fffcfc,#fffcfc,#fffcfc,#fffcfc,#fffcfc,#fffcfc,#fffcfc,#fffcfc,#fffcfc,#fffbfb,#fffbfb,#fffafa,#fff9f9,#fff8f8,#fff6f6,#fff5f5,#fff4f4,#fff3f3,#fff2f2,#fff2f2,#fff2f2,#fff2f2,#fff3f3,#fff4f4,#fff5f5,#fff6f6,#fff8f8,#fff9f9,#fffafa,#fffbfb,#fffbfb,#fffcfc,#fffcfc,#fffcfc,#fffcfc,#fffcfc,#fffcfc,#fffcfc,#fffcfc,#fffcfc,#fffcfc,#fffcfc,#fffcfc,#fffcfc,#fffcfc,#fffcfc,#fffcfc)"></div><div style="height:2px;background:linear-gradient(90deg,#fffcfc,#fffcfc,#fffcfc,#fffcfc,#fffcfc,#fffcfc,#fffcfc,#fffcfc,#fffcfc,#fffcfc,#fffcfc,#fffcfc,#fffcfc,#fffcfc,#fffbfb,#fffafa,#fff9f9,#fff8f8,#fff6f6,#fff4f4,#fff2f2,#ffefef,#ffeded,#ffecec,#ffebeb,#ffeaea,#ffeaea,#ffebeb,#ffecec,#ffeded,#ffefef,#fff1f1,#fff3f3,#fff6f6,#fff7f7,#fff9f9,#fffafa,#fffbfb,#fffcfc,#fffcfc,#fffcfc,#fffcfc,#fffcfc,#fffcfc,#fffcfc,#fffcfc,#fffcfc,#fffcfc,#fffcfc,#fffcfc,#fffcfc,#fffcfc,#fffcfc)"></div><div style="height:2px;background:linear-gradient(90deg,#fffcfc,#fffcfc,#fffcfc,#fffcfc,#fffcfc,#fffcfc,#fffcfc,#fffcfc,#fffcfc,#fffcfc,#fffcfc,#fffcfc,#fffcfc,#fffbfb,#fffafa,#fff8f8,#fff6f6,#fff4f4,#fff1f1,#ffeded,#ffeaea,#fee7e7,#fee4e4,#fee1e1,#fee0e0,#fedfdf,#fedfdf,#fedfdf,#fee1e1,#fee3e3,#fee6e6,#ffeaea,#ffeded,#fff0f0,#fff3f3,#fff6f6,#fff8f8,#fffafa,#fffbfb,#fffbfb,#fffcfc,#fffcfc,#fffcfc,#fffcfc,#fffcfc,#fffcfc,#fffcfc,#fffcfc,#fffcfc,#fffcfc,#fffcfc,#fffcfc,#fffcfc)"></div><div style="height:2px;background:linear-gradient(90deg,#fffcfc,#fffcfc,#fffcfc,#fffcfc,#fffcfc,#fffcfc,#fffcfc,#fffcfc,#fffcfc,#fffcfc,#fffcfc,#fffcfc,#fffbfb,#fffafa,#fff8f8,#fff5f5,#fff2f2,#ffeeee,#ffe9e9,#fee4e4,#fedfdf,#fedada,#fed7d7,#fed4d4,#fed2d2,#fed1d1,#fed0d0,#fed1d1,#fed3d3,#fed6d6,#fedada,#fedfdf,#fee4e4,#ffe9e9,#ffeded,#fff2f2,#fff5f5,#fff8f8,#fffafa,#fffbfb,#fffcfc,#fffcfc,#fffcfc,#fffcfc,#fffcfc,#fffcfc,#fffcfc,#fffcfc,#fffcfc,#fffcfc,#fffcfc,#fffcfc,#fffcfc)"></div><div style="height:2px;background:linear-gradient(90deg,#fffcfc,#fffcfc,#fffcfc,#fffcfc,#fffcfc,#fffcfc,#fffcfc,#fffcfc,#fffcfc,#fffcfc,#fffcfc,#fffbfb,#fffafa,#fff8f8,#fff5f5,#fff1f1,#ffebeb,#fee5e5,#fedede,#fed8d8,#fed1d1,#fecdcd,#fec9c9,#fec7c7,#fec5c5,#fec5c5,#fec5c5,#fec5c5,#fec7c7,#fec9c9,#fecccc,#fed1d1,#fed7d7,#fedede,#fee4e4,#ffebeb,#fff0f0,#fff5f5,#fff8f8,#fffafa,#fffbfb,#fffcfc,#fffcfc,#fffcfc,#fffcfc,#fffcfc,#fffcfc,#fffcfc,#fffcfc,#fffcfc,#fffcfc,#fffcfc,#fffcfc)"></div><div style="height:2px;background:linear-gradient(90deg,#fffcfc,#fffcfc,#fffcfc,#fffcfc,#fffcfc,#fffcfc,#fffcfc,#fffcfc,#fffcfc,#fffcfc,#fffbfb,#fffafa,#fff8f8,#fff5f5,#fff0f0,#ffeaea,#fee2e2,#fedada,#fed1d1,#fecaca,#fec5c5,#fec3c3,#fec1c1,#fec1c1,#fec1c1,#fec1c1,#fec1c1,#fec1c1,#fec1c1,#fec1c1,#fec2c2,#fec5c5,#fecaca,#fed0d0,#fed9d9,#fee1e1,#ffe9e9,#fff0f0,#fff5f5,#fff8f8,#fffafa,#fffbfb,#fffcfc,#fffcfc,#fffcfc,#fffcfc,#fffcfc,#fffcfc,#fffcfc,#fffcfc,#fffcfc,#fffcfc,#fffcfc)"></div><div style="height:2px;background:linear-gradient(90deg,#fffcfc,#fffcfc,#fffcfc,#fffcfc,#fffcfc,#fffcfc,#fffcfc,#fffcfc,#fffcfc,#fffcfc,#fffbfb,#fff9f9,#fff6f6,#fff1f1,#ffeaea,#fee1e1,#fed7d7,#fecdcd,#fec5c5,#fec1c1,#fec0c0,#fec1c1,#fec2c2,#fec4c4,#fec6c6,#fec7c7,#fec7c7,#fec6c6,#fec4c4,#fec3c3,#fec1c1,#fec0c0,#fec1c1,#fec5c5,#fecccc,#fed6d6,#fee0e0,#ffe9e9,#fff0f0,#fff5f5,#fff9f9,#fffafa,#fffbfb,#fffcfc,#fffcfc,#fffcfc,#fffcfc,#fffcfc,#fffcfc,#fffcfc,#fffcfc,#fffcfc,#fffcfc)"></div><div style="height:2px;background:linear-gradient(90deg,#fffcfc,#fffcfc,#fffcfc,#fffcfc,#fffcfc,#fffcfc,#fffcfc,#fffcfc,#fffcfc,#fffbfb,#fffafa,#fff7f7,#fff2f2,#ffebeb,#fee1e1,#fed5d5,#fecaca,#fec3c3,#febfbf,#febfbf,#fec2c2,#fec7c7,#fecbcb,#fecfcf,#fed2d2,#fed3d3,#fed3d3,#fed2d2,#fecfcf,#fecbcb,#fec7c7,#fec3c3,#fec0c0,#febfbf,#fec2c2,#fec9c9,#fed4d4,#fee0e0,#ffeaea,#fff2f2,#fff7f7,#fff9f9,#fffbfb,#fffcfc,#fffcfc,#fffcfc,#fffcfc,#fffcfc,#fffcfc,#fffcfc,#fffcfc,#fffcfc,#fffcfc)"></div><div style="height:2px;background:linear-gradient(90deg,#fffcfc,#fffcfc,#fffcfc,#fffcfc,#fffcfc,#fffcfc,#fffcfc,#fffcfc,#fffcfc,#fffbfb,#fff9f9,#fff4f4,#ffeeee,#fee3e3,#fed7d7,#fecaca,#fec1c1,#febdbd,#febfbf,#fec4c4,#fecbcb,#fed2d2,#fed8d8,#fedddd,#fee0e0,#fee2e2,#fee2e2,#fee1e1,#fedede,#fed9d9,#fed3d3,#fecccc,#fec5c5,#fec0c0,#febdbd,#fec0c0,#fec9c9,#fed5d5,#fee2e2,#ffeded,#fff4f4,#fff8f8,#fffafa,#fffcfc,#fffcfc,#fffcfc,#fffcfc,#fffcfc,#fffcfc,#fffcfc,#fffcfc,#fffcfc,#fffcfc)"></div><div style="height:2px;background:linear-gradient(90deg,#fffcfc,#fffcfc,#fffcfc,#fffcfc,#fffcfc,#fffcfc,#fffcfc,#fffcfc,#fffbfb,#fffafa,#fff7f7,#fff1f1,#ffe8e8,#fedada,#fecccc,#fec1c1,#febcbc,#febebe,#fec5c5,#fecece,#fed8d8,#fee0e0,#fee7e7,#ffecec,#fff0f0,#fff2f2,#fff2f2,#fff0f0,#ffeded,#ffe8e8,#fee1e1,#fed9d9,#fecfcf,#fec6c6,#febfbf,#febcbc,#fec0c0,#fecbcb,#fed9d9,#fee6e6,#fff0f0,#fff6f6,#fffafa,#fffbfb,#fffcfc,#fffcfc,#fffcfc,#fffcfc,#fffcfc,#fffcfc,#fffcfc,#fffcfc,#fffcfc)"></div><div style="height:2px;background:linear-gradient(90deg,#fffcfc,#fffcfc,#fffcfc,#fffcfc,#fffcfc,#fffcfc,#fffcfc,#fffcfc,#fffbfb,#fff9f9,#fff5f5,#ffeded,#fee0e0,#fed1d1,#fec3c3,#febcbc,#febcbc,#fec4c4,#fecfcf,#fedbdb,#fee5e5,#ffeeee,#fef7f7,#f7f5fd,#ececfe,#e5e5fe,#e4e4fe,#ebebfe,#f6f4fd,#fef7f8,#ffefef,#fee6e6,#fedcdc,#fed0d0,#fec5c5,#febdbd,#febbbb,#fec2c2,#fecfcf,#fedfdf,#ffecec,#fff4f4,#fff9f9,#fffbfb,#fffcfc,#fffcfc,#fffcfc,#fffcfc,#fffcfc,#fffcfc,#fffcfc,#fffcfc,#fffcfc)"></div><div style="height:2px;background:linear-gradient(90deg,#fffcfc,#fffcfc,#fffcfc,#fffcfc,#fffcfc,#fffcfc,#fffcfc,#fffcfc,#fffbfb,#fff8f8,#fff3f3,#ffe8e8,#fed9d9,#fec9c9,#febdbd,#febbbb,#fec1c1,#fecdcd,#fedbdb,#fee7e7,#fff3f3,#f6f4fd,#dbdbfe,#c4c4fd,#b9b9fd,#b6b6fd,#b5b5fd,#b9b9fd,#c3c3fd,#d8d8fe,#f4f2fd,#fff5f5,#ffe8e8,#fedcdc,#fecece,#fec2c2,#febbbb,#febcbc,#fec7c7,#fed7d7,#fee7e7,#fff2f2,#fff8f8,#fffbfb,#fffcfc,#fffcfc,#fffcfc,#fffcfc,#fffcfc,#fffcfc,#fffcfc,#fffcfc,#fffcfc)"></div><div style="height:2px;background:linear-gradient(90deg,#fffcfc,#fffcfc,#fffcfc,#fffcfc,#fffcfc,#fffcfc,#fffcfc,#fffcfc,#fffbfb,#fff7f7,#fff0f0,#fee3e3,#fed2d2,#fec2c2,#febaba,#febdbd,#fec8c8,#fed7d7,#fee5e5,#fff4f4,#efeffe,#cacafe,#b6b6fd,#b2b2fd,#b2b2fd,#b3b3fd,#b3b3fd,#b2b2fd,#b2b2fd,#b5b5fd,#c6c6fd,#ececfe,#fff6f6,#fee7e7,#fed8d8,#fec9c9,#febebe,#febaba,#fec1c1,#fed0d0,#fee2e2,#ffefef,#fff7f7,#fffafa,#fffcfc,#fffcfc,#fffcfc,#fffcfc,#fffcfc,#fffcfc,#fffcfc,#fffcfc,#fffcfc)"></div><div style="height:2px;background:linear-gradient(90deg,#fffcfc,#fffcfc,#fffcfc,#fffcfc,#fffcfc,#fffcfc,#fffcfc,#fffcfc,#fffafa,#fff6f6,#ffeded,#fedede,#fecccc,#febdbd,#feb9b9,#fec1c1,#fecfcf,#fee0e0,#ffefef,#f3f2fe,#c8c8fe,#b4b4fd,#b3b3fd,#b7b7fd,#bbbbfd,#bebefd,#bebefd,#bcbcfd,#b8b8fd,#b3b3fd,#b3b3fd,#c4c4fd,#efeffe,#fff1f1,#fee1e1,#fed1d1,#fec2c2,#feb9b9,#febcbc,#fecaca,#fedcdc,#ffecec,#fff5f5,#fffafa,#fffcfc,#fffcfc,#fffcfc,#fffcfc,#fffcfc,#fffcfc,#fffcfc,#fffcfc,#fffcfc)"></div><div style="height:2px;background:linear-gradient(90deg,#fffcfc,#fffcfc,#fffcfc,#fffcfc,#fffcfc,#fffcfc,#fffcfc,#fffcfc,#fffafa,#fff4f4,#ffe9e9,#fed8d8,#fec6c6,#feb9b9,#feb9b9,#fec5c5,#fed6d6,#fee7e7,#fcf7fa,#d4d4fe,#b5b5fd,#b4b4fd,#babafd,#c1c1fd,#c6c6fd,#c9c9fe,#c9c9fe,#c7c7fd,#c2c2fd,#bbbbfd,#b4b4fd,#b5b5fd,#cfcffe,#faf6fb,#ffe9e9,#fed7d7,#fec6c6,#febaba,#feb9b9,#fec4c4,#fed6d6,#ffe8e8,#fff3f3,#fff9f9,#fffbfb,#fffcfc,#fffcfc,#fffcfc,#fffcfc,#fffcfc,#fffcfc,#fffcfc,#fffcfc)"></div><div style="height:2px;background:linear-gradient(90deg,#fffcfc,#fffcfc,#fffcfc,#fffcfc,#fffcfc,#fffcfc,#fffcfc,#fffbfb,#fff9f9,#fff3f3,#fee6e6,#fed4d4,#fec1c1,#fdb7b7,#febaba,#fec8c8,#fedbdb,#ffeded,#f0effe,#bfbffd,#b4b4fd,#b9b9fd,#c2c2fd,#cacafe,#cecefe,#d0d0fe,#d0d0fe,#cecefe,#cacafe,#c3c3fd,#babafd,#b4b4fd,#bcbcfd,#ebebfe,#ffefef,#fedcdc,#fecaca,#febbbb,#fdb7b7,#fec0c0,#fed2d2,#fee5e5,#fff2f2,#fff8f8,#fffbfb,#fffcfc,#fffcfc,#fffcfc,#fffcfc,#fffcfc,#fffcfc,#fffcfc,#fffcfc)"></div><div style="height:2px;background:linear-gradient(90deg,#fffcfc,#fffcfc,#fffcfc,#fffcfc,#fffcfc,#fffcfc,#fffcfc,#fffbfb,#fff8f8,#fff1f1,#fee4e4,#fed1d1,#febebe,#fdb6b6,#febbbb,#fecaca,#fedede,#fff3f3,#dfdffe,#b7b7fd,#b6b6fd,#bfbffd,#c8c8fe,#cfcffe,#d2d2fe,#d3d3fe,#d3d3fe,#d2d2fe,#cfcffe,#c9c9fe,#c0c0fd,#b7b7fd,#b6b6fd,#d9d9fe,#fff6f6,#fee0e0,#fecccc,#febcbc,#fdb5b5,#febdbd,#fecfcf,#fee2e2,#fff0f0,#fff8f8,#fffbfb,#fffcfc,#fffcfc,#fffcfc,#fffcfc,#fffcfc,#fffcfc,#fffcfc,#fffcfc)"></div><div style="height:2px;background:linear-gradient(90deg,#fffcfc,#fffcfc,#fffcfc,#fffcfc,#fffcfc,#fffcfc,#fffcfc,#fffbfb,#fff8f8,#fff1f1,#fee3e3,#fecfcf,#febdbd,#fdb4b4,#febaba,#fecbcb,#fedfdf,#fff6f7,#d5d5fe,#b6b6fd,#b8b8fd,#c3c3fd,#ccccfe,#d1d1fe,#d3d3fe,#d4d4fe,#d4d4fe,#d4d4fe,#d1d1fe,#ccccfe,#c4c4fd,#b9b9fd,#b5b5fd,#cfcffe,#fdf6f8,#fee1e1,#fecdcd,#febcbc,#fdb4b4,#febbbb,#fecdcd,#fee1e1,#fff0f0,#fff8f8,#fffbfb,#fffcfc,#fffcfc,#fffcfc,#fffcfc,#fffcfc,#fffcfc,#fffcfc,#fffcfc)"></div><div style="height:2px;background:linear-gradient(90deg,#fffcfc,#fffcfc,#fffcfc,#fffcfc,#fffcfc,#fffcfc,#fffcfc,#fffbfb,#fff8f8,#fff1f1,#fee3e3,#fecfcf,#febcbc,#fdb3b3,#feb9b9,#fec9c9,#fedede,#fef6f7,#d2d2fe,#b6b6fd,#babafd,#c4c4fd,#cdcdfe,#d2d2fe,#d4d4fe,#d4d4fe,#d4d4fe,#d4d4fe,#d2d2fe,#cdcdfe,#c5c5fd,#bbbbfd,#b6b6fd,#cdcdfe,#fcf5f8,#fee0e0,#fecbcb,#febaba,#fdb3b3,#febbbb,#fecdcd,#fee1e1,#fff0f0,#fff8f8,#fffbfb,#fffcfc,#fffcfc,#fffcfc,#fffcfc,#fffcfc,#fffcfc,#fffcfc,#fffcfc)"></div><div style="height:2px;background:linear-gradient(90deg,#fffcfc,#fffcfc,#fffcfc,#fffcfc,#fffcfc,#fffcfc,#fffcfc,#fffbfb,#fff9f9,#fff2f2,#fee4e4,#fed1d1,#febdbd,#fdb2b2,#fdb6b6,#fec6c6,#fedada,#fff4f4,#d8d8fe,#b8b8fd,#b9b9fd,#c3c3fd,#ccccfe,#d1d1fe,#d3d3fe,#d4d4fe,#d4d4fe,#d3d3fe,#d1d1fe,#ccccfe,#c4c4fd,#babafd,#b7b7fd,#d2d2fe,#fef6f6,#fedcdc,#fec7c7,#fdb7b7,#fdb2b2,#febbbb,#fecfcf,#fee3e3,#fff1f1,#fff8f8,#fffbfb,#fffcfc,#fffcfc,#fffcfc,#fffcfc,#fffcfc,#fffcfc,#fffcfc,#fffcfc)"></div><div style="height:2px;background:linear-gradient(90deg,#fffcfc,#fffcfc,#fffcfc,#fffcfc,#fffcfc,#fffcfc,#fffcfc,#fffbfb,#fff9f9,#fff3f3,#fee7e7,#fed4d4,#febfbf,#fdb2b2,#fdb3b3,#fec0c0,#fed4d4,#ffecec,#e5e5fe,#bbbbfd,#b8b8fd,#c0c0fd,#c8c8fe,#cecefe,#d2d2fe,#d3d3fe,#d3d3fe,#d2d2fe,#cfcffe,#c9c9fe,#c1c1fd,#b9b9fd,#babafd,#dfdffe,#ffefef,#fed6d6,#fec2c2,#fdb4b4,#fdb2b2,#febebe,#fed2d2,#fee5e5,#fff2f2,#fff9f9,#fffbfb,#fffcfc,#fffcfc,#fffcfc,#fffcfc,#fffcfc,#fffcfc,#fffcfc,#fffcfc)"></div><div style="height:2px;background:linear-gradient(90deg,#fffcfc,#fffcfc,#fffcfc,#fffcfc,#fffcfc,#fffcfc,#fffcfc,#fffcfc,#fffafa,#fff5f5,#ffeaea,#fed8d8,#fec4c4,#fdb3b3,#fdb0b0,#feb9b9,#fecbcb,#fee1e1,#f5f2fc,#c6c6fd,#b8b8fd,#bcbcfd,#c3c3fd,#cacafe,#cecefe,#cfcffe,#cfcffe,#cecefe,#cacafe,#c4c4fd,#bcbcfd,#b8b8fd,#c3c3fd,#f2f0fd,#fee4e4,#fecdcd,#febbbb,#fdb0b0,#fdb2b2,#fec2c2,#fed6d6,#ffe8e8,#fff4f4,#fff9f9,#fffcfc,#fffcfc,#fffcfc,#fffcfc,#fffcfc,#fffcfc,#fffcfc,#fffcfc,#fffcfc)"></div><div style="height:2px;background:linear-gradient(90deg,#fffcfc,#fffcfc,#fffcfc,#fffcfc,#fffcfc,#fffcfc,#fffcfc,#fffcfc,#fffafa,#fff6f6,#ffeeee,#fedede,#fecaca,#fdb7b7,#fdaeae,#fdb3b3,#fec1c1,#fed4d4,#ffefef,#e0e0fe,#bdbdfd,#b9b9fd,#bdbdfd,#c3c3fd,#c7c7fd,#c9c9fe,#c9c9fe,#c7c7fe,#c3c3fd,#bebefd,#b9b9fd,#bcbcfd,#dbdbfe,#fef1f2,#fed7d7,#fec3c3,#fdb4b4,#fdaeae,#fdb6b6,#fec8c8,#fedcdc,#ffecec,#fff6f6,#fffafa,#fffcfc,#fffcfc,#fffcfc,#fffcfc,#fffcfc,#fffcfc,#fffcfc,#fffcfc,#fffcfc)"></div><div style="height:2px;background:linear-gradient(90deg,#fffcfc,#fffcfc,#fffcfc,#fffcfc,#fffcfc,#fffcfc,#fffcfc,#fffcfc,#fffbfb,#fff8f8,#fff1f1,#fee4e4,#fed2d2,#febebe,#fdb0b0,#fdadad,#fdb6b6,#fec6c6,#fedbdb,#fbf3f7,#d5d5fe,#bcbcfd,#b9b9fd,#bbbbfd,#bebefd,#c0c0fd,#c0c0fd,#bebefd,#bbbbfd,#b9b9fd,#bcbcfd,#d1d1fe,#f9f4fa,#fedede,#fec8c8,#fdb8b8,#fdaeae,#fdafaf,#febcbc,#fed0d0,#fee3e3,#fff0f0,#fff8f8,#fffbfb,#fffcfc,#fffcfc,#fffcfc,#fffcfc,#fffcfc,#fffcfc,#fffcfc,#fffcfc,#fffcfc)"></div><div style="height:2px;background:linear-gradient(90deg,#fffcfc,#fffcfc,#fffcfc,#fffcfc,#fffcfc,#fffcfc,#fffcfc,#fffcfc,#fffcfc,#fffafa,#fff5f5,#ffebeb,#fedbdb,#fec7c7,#fdb6b6,#fdacac,#fdaeae,#fdb8b8,#fec8c8,#fedddd,#faf3f7,#dadafe,#c1c1fd,#babafd,#b9b9fd,#b9b9fd,#b9b9fd,#b9b9fd,#babafd,#c0c0fd,#d6d6fe,#f8f3fa,#fedfdf,#fecaca,#febaba,#fdaeae,#fdacac,#fdb4b4,#fec5c5,#fed9d9,#ffeaea,#fff4f4,#fff9f9,#fffbfb,#fffcfc,#fffcfc,#fffcfc,#fffcfc,#fffcfc,#fffcfc,#fffcfc,#fffcfc,#fffcfc)"></div><div style="height:2px;background:linear-gradient(90deg,#fffcfc,#fffcfc,#fffcfc,#fffcfc,#fffcfc,#fffcfc,#fffcfc,#fffcfc,#fffcfc,#fffbfb,#fff8f8,#fff1f1,#fee4e4,#fed3d3,#fec0c0,#fdb1b1,#fdaaaa,#fdadad,#fdb7b7,#fec5c5,#fed7d7,#fdedef,#eeecfd,#d7d7fe,#c9c9fe,#c4c4fd,#c3c3fd,#c8c8fe,#d5d5fe,#ecebfd,#fceff1,#fedada,#fec7c7,#fdb8b8,#fdaeae,#fdaaaa,#fdb0b0,#febebe,#fed1d1,#fee3e3,#fff0f0,#fff7f7,#fffbfb,#fffcfc,#fffcfc,#fffcfc,#fffcfc,#fffcfc,#fffcfc,#fffcfc,#fffcfc,#fffcfc,#fffcfc)"></div><div style="height:2px;background:linear-gradient(90deg,#fffcfc,#fffcfc,#fffcfc,#fffcfc,#fffcfc,#fffcfc,#fffcfc,#fffcfc,#fffcfc,#fffcfc,#fffafa,#fff5f5,#ffeded,#fedfdf,#fecece,#febcbc,#fdafaf,#fda9a9,#fdabab,#fdb3b3,#febebe,#fecbcb,#fedada,#ffebeb,#faeff4,#f5eef7,#f5eef7,#f9eff4,#ffecec,#fedcdc,#fecccc,#febfbf,#fdb4b4,#fdacac,#fda9a9,#fdaeae,#febaba,#fecccc,#fedddd,#ffecec,#fff5f5,#fff9f9,#fffbfb,#fffcfc,#fffcfc,#fffcfc,#fffcfc,#fffcfc,#fffcfc,#fffcfc,#fffcfc,#fffcfc,#fffcfc)"></div><div style="height:2px;background:linear-gradient(90deg,#fffcfc,#fffcfc,#fffcfc,#fffcfc,#fffcfc,#fffcfc,#fffcfc,#fffcfc,#fffcfc,#fffcfc,#fffbfb,#fff9f9,#fff3f3,#ffeaea,#fedcdc,#fecbcb,#febbbb,#fdafaf,#fda8a8,#fda8a8,#fdacac,#fdb3b3,#febbbb,#fec2c2,#fec9c9,#fecccc,#fecccc,#fec9c9,#fec3c3,#febcbc,#fdb4b4,#fdadad,#fda8a8,#fda8a8,#fdaeae,#feb9b9,#fecaca,#fedada,#ffe9e9,#fff2f2,#fff8f8,#fffbfb,#fffcfc,#fffcfc,#fffcfc,#fffcfc,#fffcfc,#fffcfc,#fffcfc,#fffcfc,#fffcfc,#fffcfc,#fffcfc)"></div><div style="height:2px;background:linear-gradient(90deg,#fffcfc,#fffcfc,#fffcfc,#fffcfc,#fffcfc,#fffcfc,#fffcfc,#fffcfc,#fffcfc,#fffcfc,#fffcfc,#fffbfb,#fff8f8,#fff2f2,#ffe9e9,#fedcdc,#fecccc,#febdbd,#fdb1b1,#fda9a9,#fda6a6,#fda7a7,#fda9a9,#fdacac,#fdafaf,#fdb0b0,#fdb0b0,#fdafaf,#fdacac,#fda9a9,#fda7a7,#fda6a6,#fda9a9,#fdb0b0,#febcbc,#fecbcb,#fedada,#fee7e7,#fff1f1,#fff7f7,#fffafa,#fffcfc,#fffcfc,#fffcfc,#fffcfc,#fffcfc,#fffcfc,#fffcfc,#fffcfc,#fffcfc,#fffcfc,#fffcfc,#fffcfc)"></div><div style="height:2px;background:linear-gradient(90deg,#fffcfc,#fffcfc,#fffcfc,#fffcfc,#fffcfc,#fffcfc,#fffcfc,#fffcfc,#fffcfc,#fffcfc,#fffcfc,#fffcfc,#fffafa,#fff7f7,#fff2f2,#ffe9e9,#fedede,#fed1d1,#fec3c3,#fdb8b8,#fdafaf,#fda9a9,#fda6a6,#fda5a5,#fda5a5,#fda5a5,#fda5a5,#fda5a5,#fda5a5,#fda6a6,#fda9a9,#fdaeae,#fdb7b7,#fec2c2,#fecfcf,#fedddd,#ffe8e8,#fff1f1,#fff7f7,#fffafa,#fffcfc,#fffcfc,#fffcfc,#fffcfc,#fffcfc,#fffcfc,#fffcfc,#fffcfc,#fffcfc,#fffcfc,#fffcfc,#fffcfc,#fffcfc)"></div><div style="height:2px;background:linear-gradient(90deg,#fffcfc,#fffcfc,#fffcfc,#fffcfc,#fffcfc,#fffcfc,#fffcfc,#fffcfc,#fffcfc,#fffcfc,#fffcfc,#fffcfc,#fffcfc,#fffafa,#fff8f8,#fff3f3,#ffecec,#fee3e3,#fed8d8,#fecdcd,#fec3c3,#febaba,#fdb4b4,#fdb0b0,#fdadad,#fdacac,#fdacac,#fdadad,#fdafaf,#fdb3b3,#febaba,#fec2c2,#fecccc,#fed7d7,#fee2e2,#ffebeb,#fff2f2,#fff7f7,#fffafa,#fffbfb,#fffcfc,#fffcfc,#fffcfc,#fffcfc,#fffcfc,#fffcfc,#fffcfc,#fffcfc,#fffcfc,#fffcfc,#fffcfc,#fffcfc,#fffcfc)"></div><div style="height:2px;background:linear-gradient(90deg,#fffcfc,#fffcfc,#fffcfc,#fffcfc,#fffcfc,#fffcfc,#fffcfc,#fffcfc,#fffcfc,#fffcfc,#fffcfc,#fffcfc,#fffcfc,#fffcfc,#fffafa,#fff8f8,#fff5f5,#fff0f0,#ffe9e9,#fee2e2,#fedada,#fed2d2,#fecccc,#fec7c7,#fec3c3,#fec1c1,#fec1c1,#fec3c3,#fec6c6,#fecbcb,#fed1d1,#fed9d9,#fee1e1,#ffe9e9,#ffefef,#fff5f5,#fff8f8,#fffafa,#fffcfc,#fffcfc,#fffcfc,#fffcfc,#fffcfc,#fffcfc,#fffcfc,#fffcfc,#fffcfc,#fffcfc,#fffcfc,#fffcfc,#fffcfc,#fffcfc,#fffcfc)"></div><div style="height:2px;background:linear-gradient(90deg,#fffcfc,#fffcfc,#fffcfc,#fffcfc,#fffcfc,#fffcfc,#fffcfc,#fffcfc,#fffcfc,#fffcfc,#fffcfc,#fffcfc,#fffcfc,#fffcfc,#fffcfc,#fffbfb,#fffafa,#fff7f7,#fff4f4,#fff0f0,#ffebeb,#fee6e6,#fee2e2,#fedede,#fedbdb,#fedada,#fedada,#fedbdb,#fedede,#fee2e2,#fee6e6,#ffebeb,#fff0f0,#fff4f4,#fff7f7,#fff9f9,#fffbfb,#fffcfc,#fffcfc,#fffcfc,#fffcfc,#fffcfc,#fffcfc,#fffcfc,#fffcfc,#fffcfc,#fffcfc,#fffcfc,#fffcfc,#fffcfc,#fffcfc,#fffcfc,#fffcfc)"></div><div style="height:2px;background:linear-gradient(90deg,#fffcfc,#fffcfc,#fffcfc,#fffcfc,#fffcfc,#fffcfc,#fffcfc,#fffcfc,#fffcfc,#fffcfc,#fffcfc,#fffcfc,#fffcfc,#fffcfc,#fffcfc,#fffcfc,#fffbfb,#fffbfb,#fff9f9,#fff8f8,#fff6f6,#fff3f3,#fff1f1,#ffefef,#ffeded,#ffecec,#ffecec,#ffeded,#ffefef,#fff1f1,#fff3f3,#fff5f5,#fff7f7,#fff9f9,#fffbfb,#fffbfb,#fffcfc,#fffcfc,#fffcfc,#fffcfc,#fffcfc,#fffcfc,#fffcfc,#fffcfc,#fffcfc,#fffcfc,#fffcfc,#fffcfc,#fffcfc,#fffcfc,#fffcfc,#fffcfc,#fffcfc)"></div><div style="height:2px;background:linear-gradient(90deg,#fffcfc,#fffcfc,#fffcfc,#fffcfc,#fffcfc,#fffcfc,#fffcfc,#fffcfc,#fffcfc,#fffcfc,#fffcfc,#fffcfc,#fffcfc,#fffcfc,#fffcfc,#fffcfc,#fffcfc,#fffcfc,#fffbfb,#fffbfb,#fffafa,#fff9f9,#fff8f8,#fff7f7,#fff7f7,#fff6f6,#fff6f6,#fff7f7,#fff7f7,#fff8f8,#fff9f9,#fffafa,#fffbfb,#fffbfb,#fffcfc,#fffcfc,#fffcfc,#fffcfc,#fffcfc,#fffcfc,#fffcfc,#fffcfc,#fffcfc,#fffcfc,#fffcfc,#fffcfc,#fffcfc,#fffcfc,#fffcfc,#fffcfc,#fffcfc,#fffcfc,#fffcfc)"></div><div style="height:2px;background:linear-gradient(90deg,#fffcfc,#fffcfc,#fffcfc,#fffcfc,#fffcfc,#fffcfc,#fffcfc,#fffcfc,#fffcfc,#fffcfc,#fffcfc,#fffcfc,#fffcfc,#fffcfc,#fffcfc,#fffcfc,#fffcfc,#fffcfc,#fffcfc,#fffcfc,#fffcfc,#fffcfc,#fffbfb,#fffbfb,#fffbfb,#fffbfb,#fffbfb,#fffbfb,#fffbfb,#fffbfb,#fffbfb,#fffcfc,#fffcfc,#fffcfc,#fffcfc,#fffcfc,#fffcfc,#fffcfc,#fffcfc,#fffcfc,#fffcfc,#fffcfc,#fffcfc,#fffcfc,#fffcfc,#fffcfc,#fffcfc,#fffcfc,#fffcfc,#fffcfc,#fffcfc,#fffcfc,#fffcfc)"></div><div style="height:2px;background:linear-gradient(90deg,#fffcfc,#fffcfc,#fffcfc,#fffcfc,#fffcfc,#fffcfc,#fffcfc,#fffcfc,#fffcfc,#fffcfc,#fffcfc,#fffcfc,#fffcfc,#fffcfc,#fffcfc,#fffcfc,#fffcfc,#fffcfc,#fffcfc,#fffcfc,#fffcfc,#fffcfc,#fffcfc,#fffcfc,#fffcfc,#fffcfc,#fffcfc,#fffcfc,#fffcfc,#fffcfc,#fffcfc,#fffcfc,#fffcfc,#fffcfc,#fffcfc,#fffcfc,#fffcfc,#fffcfc,#fffcfc,#fffcfc,#fffcfc,#fffcfc,#fffcfc,#fffcfc,#fffcfc,#fffcfc,#fffcfc,#fffcfc,#fffcfc,#fffcfc,#fffcfc,#fffcfc,#fffcfc)"></div><div style="height:2px;background:linear-gradient(90deg,#fffcfc,#fffcfc,#fffcfc,#fffcfc,#fffcfc,#fffcfc,#fffcfc,#fffcfc,#fffcfc,#fffcfc,#fffcfc,#fffcfc,#fffcfc,#fffcfc,#fffcfc,#fffcfc,#fffcfc,#fffcfc,#fffcfc,#fffcfc,#fffcfc,#fffcfc,#fffcfc,#fffcfc,#fffcfc,#fffcfc,#fffcfc,#fffcfc,#fffcfc,#fffcfc,#fffcfc,#fffcfc,#fffcfc,#fffcfc,#fffcfc,#fffcfc,#fffcfc,#fffcfc,#fffcfc,#fffcfc,#fffcfc,#fffcfc,#fffcfc,#fffcfc,#fffcfc,#fffcfc,#fffcfc,#fffcfc,#fffcfc,#fffcfc,#fffcfc,#fffcfc,#fffcfc)"></div><div style="height:2px;background:linear-gradient(90deg,#fffcfc,#fffcfc,#fffcfc,#fffcfc,#fffcfc,#fffcfc,#fffcfc,#fffcfc,#fffcfc,#fffcfc,#fffcfc,#fffcfc,#fffcfc,#fffcfc,#fffcfc,#fffcfc,#fffcfc,#fffcfc,#fffcfc,#fffcfc,#fffcfc,#fffcfc,#fffcfc,#fffcfc,#fffcfc,#fffcfc,#fffcfc,#fffcfc,#fffcfc,#fffcfc,#fffcfc,#fffcfc,#fffcfc,#fffcfc,#fffcfc,#fffcfc,#fffcfc,#fffcfc,#fffcfc,#fffcfc,#fffcfc,#fffcfc,#fffcfc,#fffcfc,#fffcfc,#fffcfc,#fffcfc,#fffcfc,#fffcfc,#fffcfc,#fffcfc,#fffcfc,#fffcfc)"></div><div style="height:2px;background:linear-gradient(90deg,#fffcfc,#fffcfc,#fffcfc,#fffcfc,#fffcfc,#fffcfc,#fffcfc,#fffcfc,#fffcfc,#fffcfc,#fffcfc,#fffcfc,#fffcfc,#fffcfc,#fffcfc,#fffcfc,#fffcfc,#fffcfc,#fffcfc,#fffcfc,#fffcfc,#fffcfc,#fffcfc,#fffcfc,#fffcfc,#fffcfc,#fffcfc,#fffcfc,#fffcfc,#fffcfc,#fffcfc,#fffcfc,#fffcfc,#fffcfc,#fffcfc,#fffcfc,#fffcfc,#fffcfc,#fffcfc,#fffcfc,#fffcfc,#fffcfc,#fffcfc,#fffcfc,#fffcfc,#fffcfc,#fffcfc,#fffcfc,#fffcfc,#fffcfc,#fffcfc,#fffcfc,#fffcfc)"></div><div style="height:2px;background:linear-gradient(90deg,#fffcfc,#fffcfc,#fffcfc,#fffcfc,#fffcfc,#fffcfc,#fffcfc,#fffcfc,#fffcfc,#fffcfc,#fffcfc,#fffcfc,#fffcfc,#fffcfc,#fffcfc,#fffcfc,#fffcfc,#fffcfc,#fffcfc,#fffcfc,#fffcfc,#fffcfc,#fffcfc,#fffcfc,#fffcfc,#fffcfc,#fffcfc,#fffcfc,#fffcfc,#fffcfc,#fffcfc,#fffcfc,#fffcfc,#fffcfc,#fffcfc,#fffcfc,#fffcfc,#fffcfc,#fffcfc,#fffcfc,#fffcfc,#fffcfc,#fffcfc,#fffcfc,#fffcfc,#fffcfc,#fffcfc,#fffcfc,#fffcfc,#fffcfc,#fffcfc,#fffcfc,#fffcfc)"></div><div style="height:2px;background:linear-gradient(90deg,#fffcfc,#fffcfc,#fffcfc,#fffcfc,#fffcfc,#fffcfc,#fffcfc,#fffcfc,#fffcfc,#fffcfc,#fffcfc,#fffcfc,#fffcfc,#fffcfc,#fffcfc,#fffcfc,#fffcfc,#fffcfc,#fffcfc,#fffcfc,#fffcfc,#fffcfc,#fffcfc,#fffcfc,#fffcfc,#fffcfc,#fffcfc,#fffcfc,#fffcfc,#fffcfc,#fffcfc,#fffcfc,#fffcfc,#fffcfc,#fffcfc,#fffcfc,#fffcfc,#fffcfc,#fffcfc,#fffcfc,#fffcfc,#fffcfc,#fffcfc,#fffcfc,#fffcfc,#fffcfc,#fffcfc,#fffcfc,#fffcfc,#fffcfc,#fffcfc,#fffcfc,#fffcfc)"></div><div style="height:2px;background:linear-gradient(90deg,#fffcfc,#fffcfc,#fffcfc,#fffcfc,#fffcfc,#fffcfc,#fffcfc,#fffcfc,#fffcfc,#fffcfc,#fffcfc,#fffcfc,#fffcfc,#fffcfc,#fffcfc,#fffcfc,#fffcfc,#fffcfc,#fffcfc,#fffcfc,#fffcfc,#fffcfc,#fffcfc,#fffcfc,#fffcfc,#fffcfc,#fffcfc,#fffcfc,#fffcfc,#fffcfc,#fffcfc,#fffcfc,#fffcfc,#fffcfc,#fffcfc,#fffcfc,#fffcfc,#fffcfc,#fffcfc,#fffcfc,#fffcfc,#fffcfc,#fffcfc,#fffcfc,#fffcfc,#fffcfc,#fffcfc,#fffcfc,#fffcfc,#fffcfc,#fffcfc,#fffcfc,#fffcfc)"></div><div style="height:2px;background:linear-gradient(90deg,#fffcfc,#fffcfc,#fffcfc,#fffcfc,#fffcfc,#fffcfc,#fffcfc,#fffcfc,#fffcfc,#fffcfc,#fffcfc,#fffcfc,#fffcfc,#fffcfc,#fffcfc,#fffcfc,#fffcfc,#fffcfc,#fffcfc,#fffcfc,#fffcfc,#fffcfc,#fffcfc,#fffcfc,#fffcfc,#fffcfc,#fffcfc,#fffcfc,#fffcfc,#fffcfc,#fffcfc,#fffcfc,#fffcfc,#fffcfc,#fffcfc,#fffcfc,#fffcfc,#fffcfc,#fffcfc,#fffcfc,#fffcfc,#fffcfc,#fffcfc,#fffcfc,#fffcfc,#fffcfc,#fffcfc,#fffcfc,#fffcfc,#fffcfc,#fffcfc,#fffcfc,#fffcfc)"></div><div style="height:2px;background:linear-gradient(90deg,#fffcfc,#fffcfc,#fffcfc,#fffcfc,#fffcfc,#fffcfc,#fffcfc,#fffcfc,#fffcfc,#fffcfc,#fffcfc,#fffcfc,#fffcfc,#fffcfc,#fffcfc,#fffcfc,#fffcfc,#fffcfc,#fffcfc,#fffcfc,#fffcfc,#fffcfc,#fffcfc,#fffcfc,#fffcfc,#fffcfc,#fffcfc,#fffcfc,#fffcfc,#fffcfc,#fffcfc,#fffcfc,#fffcfc,#fffcfc,#fffcfc,#fffcfc,#fffcfc,#fffcfc,#fffcfc,#fffcfc,#fffcfc,#fffcfc,#fffcfc,#fffcfc,#fffcfc,#fffcfc,#fffcfc,#fffcfc,#fffcfc,#fffcfc,#fffcfc,#fffcfc,#fffcfc)"></div><div style="height:1px;background:linear-gradient(90deg,#fffcfc,#fffcfc,#fffcfc,#fffcfc,#fffcfc,#fffcfc,#fffcfc,#fffcfc,#fffcfc,#fffcfc,#fffcfc,#fffcfc,#fffcfc,#fffcfc,#fffcfc,#fffcfc,#fffcfc,#fffcfc,#fffcfc,#fffcfc,#fffcfc,#fffcfc,#fffcfc,#fffcfc,#fffcfc,#fffcfc,#fffcfc,#fffcfc,#fffcfc,#fffcfc,#fffcfc,#fffcfc,#fffcfc,#fffcfc,#fffcfc,#fffcfc,#fffcfc,#fffcfc,#fffcfc,#fffcfc,#fffcfc,#fffcfc,#fffcfc,#fffcfc,#fffcfc,#fffcfc,#fffcfc,#fffcfc,#fffcfc,#fffcfc,#fffcfc,#fffcfc,#fffcfc)"></div></div><div style="position:absolute;left:360px;top:9px;width:105px;height:105px"><div style="height:2px;background:linear-gradient(90deg,#fffdfd,#fffdfd,#fffdfd,#fffdfd,#fffdfd,#fffdfd,#fffdfd,#fffdfd,#fffdfd,#fffcfc,#fffbfb,#fffafa,#fff7f7,#fff4f4,#fff0f0,#ffecec,#ffe8e8,#fee4e4,#fee1e1,#fedede,#fedddd,#fedbdb,#fedada,#fedada,#fedada,#fedada,#fedada,#fedada,#fedada,#fedada,#fedbdb,#fedddd,#fedede,#fee1e1,#fee4e4,#ffe8e8,#ffecec,#fff0f0,#fff4f4,#fff7f7,#fffafa,#fffbfb,#fffcfc,#fffdfd,#fffdfd,#fffdfd,#fffdfd,#fffdfd,#fffdfd,#fffdfd,#fffdfd,#fffdfd,#fffdfd)"></div><div style="height:2px;background:linear-gradient(90deg,#fffdfd,#fffdfd,#fffdfd,#fffdfd,#fffdfd,#fffdfd,#fffdfd,#fffdfd,#fffcfc,#fffbfb,#fff8f8,#fff4f4,#ffefef,#ffeaea,#fee4e4,#fedfdf,#fedcdc,#fed9d9,#fed8d8,#fed7d7,#fed7d7,#fed7d7,#fed8d8,#fed8d8,#fed8d8,#fed8d8,#fed8d8,#fed8d8,#fed8d8,#fed8d8,#fed7d7,#fed7d7,#fed7d7,#fed8d8,#fed9d9,#fedcdc,#fedfdf,#fee4e4,#ffeaea,#ffefef,#fff4f4,#fff8f8,#fffbfb,#fffcfc,#fffdfd,#fffdfd,#fffdfd,#fffdfd,#fffdfd,#fffdfd,#fffdfd,#fffdfd,#fffdfd)"></div><div style="height:2px;background:linear-gradient(90deg,#fffdfd,#fffdfd,#fffdfd,#fffdfd,#fffdfd,#fffdfd,#fffcfc,#fffcfc,#fffafa,#fff6f6,#fff1f1,#ffebeb,#fee4e4,#fedede,#fed9d9,#fed7d7,#fed6d6,#fed7d7,#fed8d8,#fedada,#fedcdc,#fedede,#fedfdf,#fee0e0,#fee1e1,#fee1e1,#fee1e1,#fee1e1,#fee0e0,#fedfdf,#fedede,#fedcdc,#fedada,#fed8d8,#fed7d7,#fed6d6,#fed7d7,#fed9d9,#fedede,#fee4e4,#ffebeb,#fff1f1,#fff6f6,#fffafa,#fffcfc,#fffcfc,#fffdfd,#fffdfd,#fffdfd,#fffdfd,#fffdfd,#fffdfd,#fffdfd)"></div><div style="height:2px;background:linear-gradient(90deg,#fffdfd,#fffdfd,#fffdfd,#fffdfd,#fffdfd,#fffcfc,#fffbfb,#fff9f9,#fff5f5,#ffeeee,#fee7e7,#fedfdf,#fed9d9,#fed6d6,#fed5d5,#fed7d7,#fedada,#fedede,#fee2e2,#fee5e5,#ffe8e8,#ffeaea,#ffecec,#ffeded,#ffeeee,#ffefef,#ffefef,#ffeeee,#ffeded,#ffecec,#ffeaea,#ffe8e8,#fee5e5,#fee2e2,#fedede,#fedada,#fed7d7,#fed5d5,#fed6d6,#fed9d9,#fedfdf,#fee7e7,#ffeeee,#fff5f5,#fff9f9,#fffbfb,#fffcfc,#fffdfd,#fffdfd,#fffdfd,#fffdfd,#fffdfd,#fffdfd)"></div><div style="height:2px;background:linear-gradient(90deg,#fffdfd,#fffdfd,#fffdfd,#fffdfd,#fffcfc,#fffbfb,#fff9f9,#fff4f4,#ffeded,#fee3e3,#fedbdb,#fed6d6,#fed4d4,#fed6d6,#fedbdb,#fee0e0,#fee5e5,#ffeaea,#ffefef,#fff3f3,#fff6f6,#fff9f9,#fefafb,#fdfafc,#fcfafc,#fcfafd,#fcfafd,#fcfafc,#fdfafc,#fefafb,#fff9f9,#fff6f6,#fff3f3,#ffefef,#ffeaea,#fee5e5,#fee0e0,#fedbdb,#fed6d6,#fed4d4,#fed6d6,#fedbdb,#fee3e3,#ffeded,#fff4f4,#fff9f9,#fffbfb,#fffcfc,#fffdfd,#fffdfd,#fffdfd,#fffdfd,#fffdfd)"></div><div style="height:2px;background:linear-gradient(90deg,#fffdfd,#fffdfd,#fffdfd,#fffdfd,#fffcfc,#fff9f9,#fff4f4,#ffecec,#fee2e2,#fed9d9,#fed4d4,#fed4d4,#fed8d8,#fedede,#fee5e5,#ffecec,#fff1f1,#fff7f7,#fefbfc,#fafafe,#f5f5ff,#f0f0ff,#ececff,#eaeafe,#e9e9fe,#e8e8fe,#e8e8fe,#e9e9fe,#eaeafe,#ececff,#f0f0ff,#f5f5ff,#fafafe,#fefbfc,#fff7f7,#fff1f1,#ffecec,#fee5e5,#fedede,#fed8d8,#fed4d4,#fed4d4,#fed9d9,#fee2e2,#ffecec,#fff4f4,#fff9f9,#fffcfc,#fffdfd,#fffdfd,#fffdfd,#fffdfd,#fffdfd)"></div><div style="height:2px;background:linear-gradient(90deg,#fffdfd,#fffdfd,#fffdfd,#fffcfc,#fffafa,#fff5f5,#ffecec,#fee1e1,#fed8d8,#fed3d3,#fed4d4,#fedada,#fee1e1,#ffe9e9,#fff0f0,#fff7f7,#fdfbfd,#f6f6ff,#ededff,#e6e6fe,#e1e1fe,#dfdffe,#dedefe,#ddddfe,#ddddfe,#ddddfe,#ddddfe,#ddddfe,#ddddfe,#dedefe,#dfdffe,#e1e1fe,#e6e6fe,#ededff,#f6f6ff,#fdfbfd,#fff7f7,#fff0f0,#ffe9e9,#fee1e1,#fedada,#fed4d4,#fed3d3,#fed8d8,#fee1e1,#ffecec,#fff5f5,#fffafa,#fffcfc,#fffdfd,#fffdfd,#fffdfd,#fffdfd)"></div><div style="height:2px;background:linear-gradient(90deg,#fffdfd,#fffdfd,#fffcfc,#fffbfb,#fff6f6,#ffeeee,#fee2e2,#fed8d8,#fed2d2,#fed3d3,#fedada,#fee3e3,#ffecec,#fff3f3,#fffafb,#f9f9ff,#ececff,#e2e2fe,#dedefe,#dcdcfe,#dbdbfe,#dcdcfe,#dcdcfe,#dcdcfe,#dcdcfe,#ddddfe,#ddddfe,#dcdcfe,#dcdcfe,#dcdcfe,#dcdcfe,#dbdbfe,#dcdcfe,#dedefe,#e2e2fe,#ececff,#f9f9ff,#fffafb,#fff3f3,#ffecec,#fee3e3,#fedada,#fed3d3,#fed2d2,#fed8d8,#fee2e2,#ffeeee,#fff6f6,#fffbfb,#fffcfc,#fffdfd,#fffdfd,#fffdfd)"></div><div style="height:2px;background:linear-gradient(90deg,#fffdfd,#fffdfd,#fffbfb,#fff8f8,#fff1f1,#fee5e5,#fed9d9,#fed1d1,#fed2d2,#fed9d9,#fee3e3,#ffeded,#fff5f5,#fefbfc,#f4f4ff,#e5e5fe,#ddddfe,#dadafe,#dadafe,#dcdcfe,#ddddfe,#dedefe,#dedefe,#dfdffe,#dfdffe,#dfdffe,#dfdffe,#dfdffe,#dfdffe,#dedefe,#dedefe,#ddddfe,#dcdcfe,#dadafe,#dadafe,#ddddfe,#e5e5fe,#f4f4ff,#fefbfc,#fff5f5,#ffeded,#fee3e3,#fed9d9,#fed2d2,#fed1d1,#fed9d9,#fee5e5,#fff1f1,#fff8f8,#fffbfb,#fffdfd,#fffdfd,#fffdfd)"></div><div style="height:2px;background:linear-gradient(90deg,#fffdfd,#fffcfc,#fffafa,#fff4f4,#ffe9e9,#fedcdc,#fed2d2,#fed0d0,#fed7d7,#fee1e1,#ffecec,#fff5f5,#fefbfc,#f2f2ff,#e2e2fe,#dadafe,#d9d9fe,#dbdbfe,#ddddfe,#dedefe,#dfdffe,#e0e0fe,#e0e0fe,#e1e1fe,#e1e1fe,#e1e1fe,#e1e1fe,#e1e1fe,#e1e1fe,#e0e0fe,#e0e0fe,#dfdffe,#dedefe,#ddddfe,#dbdbfe,#d9d9fe,#dadafe,#e2e2fe,#f2f2ff,#fefbfc,#fff5f5,#ffecec,#fee1e1,#fed7d7,#fed0d0,#fed2d2,#fedcdc,#ffe9e9,#fff4f4,#fffafa,#fffcfc,#fffdfd,#fffdfd)"></div><div style="height:2px;background:linear-gradient(90deg,#fffcfc,#fffbfb,#fff7f7,#ffeeee,#fee1e1,#fed4d4,#fecfcf,#fed3d3,#fedede,#ffeaea,#fff3f3,#fffbfb,#f4f4ff,#e0e0fe,#d8d8fe,#d8d8fe,#dbdbfe,#dedefe,#dfdffe,#e0e0fe,#e1e1fe,#e1e1fe,#e1e1fe,#e1e1fe,#e1e1fe,#e1e1fe,#e1e1fe,#e1e1fe,#e1e1fe,#e1e1fe,#e1e1fe,#e1e1fe,#e0e0fe,#dfdffe,#dedefe,#dbdbfe,#d8d8fe,#d8d8fe,#e0e0fe,#f4f4ff,#fffbfb,#fff3f3,#ffeaea,#fedede,#fed3d3,#fecfcf,#fed4d4,#fee1e1,#ffeeee,#fff7f7,#fffbfb,#fffcfc,#fffdfd)"></div><div style="height:2px;background:linear-gradient(90deg,#fffcfc,#fffafa,#fff3f3,#fee7e7,#fed9d9,#fecfcf,#fed0d0,#fed9d9,#fee5e5,#fff1f1,#fff9f9,#f8f8ff,#e2e2fe,#d7d7fe,#d7d7fe,#dbdbfe,#dedefe,#e0e0fe,#e1e1fe,#e1e1fe,#e2e2fe,#e2e2fe,#e2e2fe,#e2e2fe,#e2e2fe,#e2e2fe,#e2e2fe,#e2e2fe,#e2e2fe,#e2e2fe,#e2e2fe,#e2e2fe,#e1e1fe,#e1e1fe,#e0e0fe,#dedefe,#dbdbfe,#d7d7fe,#d7d7fe,#e2e2fe,#f8f8ff,#fff9f9,#fff1f1,#fee5e5,#fed9d9,#fed0d0,#fecfcf,#fed9d9,#fee7e7,#fff3f3,#fffafa,#fffcfc,#fffdfd)"></div><div style="height:2px;background:linear-gradient(90deg,#fffbfb,#fff7f7,#ffeeee,#fee0e0,#fed2d2,#fecdcd,#fed3d3,#fedfdf,#ffecec,#fff6f6,#fdfbfe,#e8e8fe,#d7d7fe,#d5d5fe,#dadafe,#dedefe,#e0e0fe,#e1e1fe,#e2e2fe,#e2e2fe,#e2e2fe,#e2e2fe,#e2e2fe,#e2e2fe,#e2e2fe,#e2e2fe,#e2e2fe,#e2e2fe,#e2e2fe,#e2e2fe,#e2e2fe,#e2e2fe,#e2e2fe,#e2e2fe,#e1e1fe,#e0e0fe,#dedefe,#dadafe,#d5d5fe,#d7d7fe,#e8e8fe,#fdfbfe,#fff6f6,#ffecec,#fedfdf,#fed3d3,#fecdcd,#fed2d2,#fee0e0,#ffeeee,#fff7f7,#fffbfb,#fffcfc)"></div><div style="height:2px;background:linear-gradient(90deg,#fffafa,#fff5f5,#ffe9e9,#fed9d9,#fecdcd,#fecece,#fed8d8,#fee6e6,#fff2f2,#fffbfb,#f3f3ff,#d9d9fe,#d2d2fe,#d7d7fe,#ddddfe,#e0e0fe,#e2e2fe,#e2e2fe,#e3e3fe,#e3e3fe,#e3e3fe,#e3e3fe,#e3e3fe,#e3e3fe,#e3e3fe,#e3e3fe,#e3e3fe,#e3e3fe,#e3e3fe,#e3e3fe,#e3e3fe,#e3e3fe,#e3e3fe,#e3e3fe,#e2e2fe,#e2e2fe,#e0e0fe,#ddddfe,#d7d7fe,#d2d2fe,#d9d9fe,#f3f3ff,#fffbfb,#fff2f2,#fee6e6,#fed8d8,#fecece,#fecdcd,#fed9d9,#ffe9e9,#fff5f5,#fffafa,#fffcfc)"></div><div style="height:2px;background:linear-gradient(90deg,#fff9f9,#fff1f1,#fee3e3,#fed3d3,#fecbcb,#fed0d0,#fedddd,#ffebeb,#fff6f6,#fcfbfe,#e3e3fe,#cfcffe,#d1d1fe,#dadafe,#e0e0fe,#e2e2fe,#e3e3fe,#e4e4fe,#e4e4fe,#e4e4fe,#e4e4fe,#e5e5fe,#e5e5fe,#e5e5fe,#e5e5fe,#e5e5fe,#e5e5fe,#e5e5fe,#e5e5fe,#e5e5fe,#e5e5fe,#e4e4fe,#e4e4fe,#e4e4fe,#e4e4fe,#e3e3fe,#e2e2fe,#e0e0fe,#dadafe,#d1d1fe,#cfcffe,#e3e3fe,#fcfbfe,#fff6f6,#ffebeb,#fedddd,#fed0d0,#fecbcb,#fed3d3,#fee3e3,#fff1f1,#fff9f9,#fffcfc)"></div><div style="height:2px;background:linear-gradient(90deg,#fff7f7,#ffeded,#fedddd,#fecece,#fecaca,#fed3d3,#fee2e2,#ffefef,#fff9f9,#f5f5ff,#d5d5fe,#cacafe,#d2d2fe,#ddddfe,#e2e2fe,#e4e4fe,#e5e5fe,#e5e5fe,#e6e6fe,#e6e6fe,#e7e7fe,#e7e7fe,#e7e7fe,#e8e8fe,#e8e8fe,#e8e8fe,#e8e8fe,#e8e8fe,#e8e8fe,#e7e7fe,#e7e7fe,#e7e7fe,#e6e6fe,#e6e6fe,#e5e5fe,#e5e5fe,#e4e4fe,#e2e2fe,#ddddfe,#d2d2fe,#cacafe,#d5d5fe,#f5f5ff,#fff9f9,#ffefef,#fee2e2,#fed3d3,#fecaca,#fecece,#fedddd,#ffeded,#fff7f7,#fffbfb)"></div><div style="height:2px;background:linear-gradient(90deg,#fff5f5,#ffe9e9,#fed8d8,#fecbcb,#fecbcb,#fed7d7,#fee6e6,#fff2f2,#fffbfb,#ebebfe,#cacafe,#c6c6fd,#d3d3fe,#dfdffe,#e4e4fe,#e6e6fe,#e7e7fe,#e8e8fe,#e9e9fe,#e9e9fe,#eaeafe,#ebebfe,#ebebfe,#ececfe,#ececfe,#ececfe,#ececfe,#ececfe,#ececfe,#ebebfe,#ebebfe,#eaeafe,#e9e9fe,#e9e9fe,#e8e8fe,#e7e7fe,#e6e6fe,#e4e4fe,#dfdffe,#d3d3fe,#c6c6fd,#cacafe,#ebebfe,#fffbfb,#fff2f2,#fee6e6,#fed7d7,#fecbcb,#fecbcb,#fed8d8,#ffe9e9,#fff5f5,#fffafa)"></div><div style="height:2px;background:linear-gradient(90deg,#fff3f3,#fee5e5,#fed3d3,#fec8c8,#fecccc,#fedada,#ffe9e9,#fff4f4,#fdfbfd,#dfdffe,#c2c2fd,#c3c3fd,#d3d3fe,#e1e1fe,#e7e7fe,#e9e9fe,#eaeafe,#ebebfe,#ececff,#ededff,#efefff,#efefff,#f0f0ff,#f1f1ff,#f1f1ff,#f2f2ff,#f2f2ff,#f1f1ff,#f1f1ff,#f0f0ff,#efefff,#efefff,#ededff,#ececff,#ebebfe,#eaeafe,#e9e9fe,#e7e7fe,#e1e1fe,#d3d3fe,#c3c3fd,#c2c2fd,#dfdffe,#fdfbfd,#fff4f4,#ffe9e9,#fedada,#fecccc,#fec8c8,#fed3d3,#fee5e5,#fff3f3,#fff9f9)"></div><div style="height:2px;background:linear-gradient(90deg,#fff1f1,#fee1e1,#fecfcf,#fec7c7,#fecdcd,#fedcdc,#ffebeb,#fff6f6,#faf9fe,#d5d5fe,#bdbdfd,#c0c0fd,#d3d3fe,#e2e2fe,#e9e9fe,#ececfe,#ededff,#efefff,#f1f1ff,#f2f2ff,#f4f4ff,#f5f5ff,#f6f6ff,#f7f7ff,#f7f7ff,#f8f8ff,#f8f8ff,#f7f7ff,#f7f7ff,#f6f6ff,#f5f5ff,#f4f4ff,#f2f2ff,#f1f1ff,#efefff,#ededff,#ececfe,#e9e9fe,#e2e2fe,#d3d3fe,#c0c0fd,#bdbdfd,#d5d5fe,#faf9fe,#fff6f6,#ffebeb,#fedcdc,#fecdcd,#fec7c7,#fecfcf,#fee1e1,#fff1f1,#fff8f8)"></div><div style="height:2px;background:linear-gradient(90deg,#ffefef,#fedede,#fecccc,#fec6c6,#fecece,#fedede,#ffeded,#fff7f7,#f6f6ff,#cecefe,#babafd,#bfbffd,#d3d3fe,#e4e4fe,#ececfe,#efefff,#f1f1ff,#f3f3ff,#f5f5ff,#f7f7ff,#f9f9ff,#fafaff,#fcfcff,#fdfdff,#fefdff,#fefeff,#fefeff,#fefdff,#fdfdff,#fcfcff,#fafaff,#f9f9ff,#f7f7ff,#f5f5ff,#f3f3ff,#f1f1ff,#efefff,#ececfe,#e4e4fe,#d3d3fe,#bfbffd,#babafd,#cecefe,#f6f6ff,#fff7f7,#ffeded,#fedede,#fecece,#fec6c6,#fecccc,#fedede,#ffefef,#fff7f7)"></div><div style="height:2px;background:linear-gradient(90deg,#ffeded,#fedbdb,#fecaca,#fec5c5,#fecfcf,#fee0e0,#ffeeee,#fff8f8,#f2f2ff,#c9c9fe,#b8b8fd,#bfbffd,#d4d4fe,#e5e5fe,#eeeeff,#f1f1ff,#f4f4ff,#f6f6ff,#f9f9ff,#fbfbff,#fdfdff,#fefefe,#fffdfd,#fffcfc,#fffbfb,#fffafa,#fffafa,#fffbfb,#fffcfc,#fffdfd,#fefefe,#fdfdff,#fbfbff,#f9f9ff,#f6f6ff,#f4f4ff,#f1f1ff,#eeeeff,#e5e5fe,#d4d4fe,#bfbffd,#b8b8fd,#c9c9fe,#f2f2ff,#fff8f8,#ffeeee,#fee0e0,#fecfcf,#fec5c5,#fecaca,#fedbdb,#ffeded,#fff6f6)"></div><div style="height:2px;background:linear-gradient(90deg,#ffebeb,#fed8d8,#fec8c8,#fec5c5,#fed0d0,#fee1e1,#ffefef,#fff8f8,#eeeeff,#c7c7fe,#b9b9fd,#c0c0fd,#d5d5fe,#e7e7fe,#efefff,#f3f3ff,#f6f6ff,#fafaff,#fefdff,#fffcfc,#fff9f9,#fff7f7,#fff5f5,#fff4f4,#fff3f3,#fff2f2,#fff2f2,#fff3f3,#fff4f4,#fff5f5,#fff7f7,#fff9f9,#fffcfc,#fefdff,#fafaff,#f6f6ff,#f3f3ff,#efefff,#e7e7fe,#d5d5fe,#c0c0fd,#b9b9fd,#c7c7fe,#eeeeff,#fff8f8,#ffefef,#fee1e1,#fed0d0,#fec5c5,#fec8c8,#fed8d8,#ffebeb,#fff5f5)"></div><div style="height:2px;background:linear-gradient(90deg,#ffeaea,#fed7d7,#fec6c6,#fec4c4,#fed0d0,#fee2e2,#fff0f0,#fff9f9,#ebebfe,#c6c6fd,#bbbbfd,#c3c3fd,#d7d7fe,#e7e7fe,#efefff,#f3f3ff,#f6f6ff,#fafaff,#fefdff,#fffcfc,#fff9f9,#fff7f7,#fff5f5,#fff4f4,#fff3f3,#fff2f2,#fff2f2,#fff3f3,#fff4f4,#fff5f5,#fff7f7,#fff9f9,#fffcfc,#fefdff,#fafaff,#f6f6ff,#f3f3ff,#efefff,#e7e7fe,#d7d7fe,#c3c3fd,#bbbbfd,#c6c6fd,#ebebfe,#fff9f9,#fff0f0,#fee2e2,#fed0d0,#fec4c4,#fec6c6,#fed7d7,#ffeaea,#fff4f4)"></div><div style="height:2px;background:linear-gradient(90deg,#ffe9e9,#fed5d5,#fec5c5,#fec4c4,#fed1d1,#fee2e2,#fff0f0,#fffafa,#e9e9fe,#c6c6fd,#bebefd,#c7c7fe,#d9d9fe,#e7e7fe,#eeeeff,#f1f1ff,#f4f4ff,#f6f6ff,#f9f9ff,#fbfbff,#fdfdff,#fefefe,#fffdfd,#fffcfc,#fffbfb,#fffafa,#fffafa,#fffbfb,#fffcfc,#fffdfd,#fefefe,#fdfdff,#fbfbff,#f9f9ff,#f6f6ff,#f4f4ff,#f1f1ff,#eeeeff,#e7e7fe,#d9d9fe,#c7c7fe,#bebefd,#c6c6fd,#e9e9fe,#fffafa,#fff0f0,#fee2e2,#fed1d1,#fec4c4,#fec5c5,#fed5d5,#ffe9e9,#fff3f3)"></div><div style="height:2px;background:linear-gradient(90deg,#ffe8e8,#fed4d4,#fec4c4,#fec3c3,#fed0d0,#fee2e2,#fff0f0,#fffbfb,#e8e8fe,#c7c7fd,#c1c1fd,#cbcbfe,#dadafe,#e6e6fe,#ececfe,#efefff,#f1f1ff,#f3f3ff,#f5f5ff,#f7f7ff,#f9f9ff,#fafaff,#fcfcff,#fdfdff,#fefdff,#fefeff,#fefeff,#fefdff,#fdfdff,#fcfcff,#fafaff,#f9f9ff,#f7f7ff,#f5f5ff,#f3f3ff,#f1f1ff,#efefff,#ececfe,#e6e6fe,#dadafe,#cbcbfe,#c1c1fd,#c7c7fd,#e8e8fe,#fffbfb,#fff0f0,#fee2e2,#fed0d0,#fec3c3,#fec4c4,#fed4d4,#ffe8e8,#fff3f3)"></div><div style="height:2px;background:linear-gradient(90deg,#ffe8e8,#fed4d4,#fec3c3,#fec2c2,#fed0d0,#fee2e2,#fff1f1,#fffbfb,#e7e7fe,#c7c7fe,#c4c4fd,#cecefe,#dcdcfe,#e5e5fe,#eaeafe,#ececfe,#ededff,#efefff,#f1f1ff,#f2f2ff,#f4f4ff,#f5f5ff,#f6f6ff,#f7f7ff,#f7f7ff,#f8f8ff,#f8f8ff,#f7f7ff,#f7f7ff,#f6f6ff,#f5f5ff,#f4f4ff,#f2f2ff,#f1f1ff,#efefff,#ededff,#ececfe,#eaeafe,#e5e5fe,#dcdcfe,#cecefe,#c4c4fd,#c7c7fe,#e7e7fe,#fffbfb,#fff1f1,#fee2e2,#fed0d0,#fec2c2,#fec3c3,#fed4d4,#ffe8e8,#fff3f3)"></div><div style="height:2px;background:linear-gradient(90deg,#ffe8e8,#fed4d4,#fec3c3,#fec1c1,#fecfcf,#fee1e1,#fff0f0,#fffbfb,#e9e9fe,#c8c8fe,#c5c5fd,#d0d0fe,#dcdcfe,#e4e4fe,#e7e7fe,#e9e9fe,#eaeafe,#ebebfe,#ececff,#ededff,#efefff,#efefff,#f0f0ff,#f1f1ff,#f1f1ff,#f2f2ff,#f2f2ff,#f1f1ff,#f1f1ff,#f0f0ff,#efefff,#efefff,#ededff,#ececff,#ebebfe,#eaeafe,#e9e9fe,#e7e7fe,#e4e4fe,#dcdcfe,#d0d0fe,#c5c5fd,#c8c8fe,#e9e9fe,#fffbfb,#fff0f0,#fee1e1,#fecfcf,#fec1c1,#fec3c3,#fed4d4,#ffe8e8,#fff3f3)"></div><div style="height:2px;background:linear-gradient(90deg,#ffeaea,#fed6d6,#fec3c3,#fec0c0,#fecccc,#fedfdf,#ffefef,#fffafa,#ededff,#c9c9fe,#c5c5fd,#d0d0fe,#dcdcfe,#e3e3fe,#e5e5fe,#e6e6fe,#e7e7fe,#e8e8fe,#e9e9fe,#e9e9fe,#eaeafe,#ebebfe,#ebebfe,#ececfe,#ececfe,#ececfe,#ececfe,#ececfe,#ececfe,#ebebfe,#ebebfe,#eaeafe,#e9e9fe,#e9e9fe,#e8e8fe,#e7e7fe,#e6e6fe,#e5e5fe,#e3e3fe,#dcdcfe,#d0d0fe,#c5c5fd,#c9c9fe,#ededff,#fffafa,#ffefef,#fedfdf,#fecccc,#fec0c0,#fec3c3,#fed6d6,#ffeaea,#fff4f4)"></div><div style="height:2px;background:linear-gradient(90deg,#ffecec,#fed8d8,#fec5c5,#febebe,#fec8c8,#fedbdb,#ffecec,#fff8f8,#f3f3ff,#cdcdfe,#c4c4fd,#cfcffe,#dadafe,#e1e1fe,#e4e4fe,#e4e4fe,#e5e5fe,#e5e5fe,#e6e6fe,#e6e6fe,#e7e7fe,#e7e7fe,#e7e7fe,#e8e8fe,#e8e8fe,#e8e8fe,#e8e8fe,#e8e8fe,#e8e8fe,#e7e7fe,#e7e7fe,#e7e7fe,#e6e6fe,#e6e6fe,#e5e5fe,#e5e5fe,#e4e4fe,#e4e4fe,#e1e1fe,#dadafe,#cfcffe,#c4c4fd,#cdcdfe,#f3f3ff,#fff8f8,#ffecec,#fedbdb,#fec8c8,#febebe,#fec5c5,#fed8d8,#ffecec,#fff5f5)"></div><div style="height:2px;background:linear-gradient(90deg,#ffefef,#fedddd,#fec8c8,#febdbd,#fec4c4,#fed5d5,#ffe8e8,#fff5f5,#faf9fe,#d6d6fe,#c4c4fd,#cbcbfe,#d7d7fe,#dfdffe,#e2e2fe,#e3e3fe,#e3e3fe,#e4e4fe,#e4e4fe,#e4e4fe,#e4e4fe,#e5e5fe,#e5e5fe,#e5e5fe,#e5e5fe,#e5e5fe,#e5e5fe,#e5e5fe,#e5e5fe,#e5e5fe,#e5e5fe,#e4e4fe,#e4e4fe,#e4e4fe,#e4e4fe,#e3e3fe,#e3e3fe,#e2e2fe,#dfdffe,#d7d7fe,#cbcbfe,#c4c4fd,#d6d6fe,#faf9fe,#fff5f5,#ffe8e8,#fed5d5,#fec4c4,#febdbd,#fec8c8,#fedddd,#ffefef,#fff7f7)"></div><div style="height:2px;background:linear-gradient(90deg,#fff2f2,#fee2e2,#fecccc,#febdbd,#febfbf,#fecece,#fee1e1,#fff0f0,#fefbfc,#e4e4fe,#c6c6fd,#c6c6fd,#d2d2fe,#dbdbfe,#e0e0fe,#e2e2fe,#e2e2fe,#e3e3fe,#e3e3fe,#e3e3fe,#e3e3fe,#e3e3fe,#e3e3fe,#e3e3fe,#e3e3fe,#e3e3fe,#e3e3fe,#e3e3fe,#e3e3fe,#e3e3fe,#e3e3fe,#e3e3fe,#e3e3fe,#e3e3fe,#e3e3fe,#e2e2fe,#e2e2fe,#e0e0fe,#dbdbfe,#d2d2fe,#c6c6fd,#c6c6fd,#e4e4fe,#fefbfc,#fff0f0,#fee1e1,#fecece,#febfbf,#febdbd,#fecccc,#fee2e2,#fff2f2,#fff8f8)"></div><div style="height:2px;background:linear-gradient(90deg,#fff5f5,#fee7e7,#fed2d2,#febfbf,#febaba,#fec4c4,#fed7d7,#ffe8e8,#fff6f6,#f5f5ff,#d0d0fe,#c3c3fd,#cacafe,#d5d5fe,#ddddfe,#e0e0fe,#e1e1fe,#e2e2fe,#e2e2fe,#e2e2fe,#e2e2fe,#e2e2fe,#e2e2fe,#e2e2fe,#e2e2fe,#e2e2fe,#e2e2fe,#e2e2fe,#e2e2fe,#e2e2fe,#e2e2fe,#e2e2fe,#e2e2fe,#e2e2fe,#e2e2fe,#e1e1fe,#e0e0fe,#ddddfe,#d5d5fe,#cacafe,#c3c3fd,#d0d0fe,#f5f5ff,#fff6f6,#ffe8e8,#fed7d7,#fec4c4,#febaba,#febfbf,#fed2d2,#fee7e7,#fff5f5,#fffafa)"></div><div style="height:2px;background:linear-gradient(90deg,#fff8f8,#ffeded,#fedbdb,#fec5c5,#fdb8b8,#febbbb,#fecaca,#fedddd,#ffeded,#fefafb,#e6e6fe,#c7c7fe,#c3c3fd,#ccccfe,#d6d6fe,#dcdcfe,#e0e0fe,#e1e1fe,#e1e1fe,#e2e2fe,#e2e2fe,#e2e2fe,#e2e2fe,#e2e2fe,#e2e2fe,#e2e2fe,#e2e2fe,#e2e2fe,#e2e2fe,#e2e2fe,#e2e2fe,#e2e2fe,#e2e2fe,#e1e1fe,#e1e1fe,#e0e0fe,#dcdcfe,#d6d6fe,#ccccfe,#c3c3fd,#c7c7fe,#e6e6fe,#fefafb,#ffeded,#fedddd,#fecaca,#febbbb,#fdb8b8,#fec5c5,#fedbdb,#ffeded,#fff8f8,#fffbfb)"></div><div style="height:2px;background:linear-gradient(90deg,#fffafa,#fff3f3,#fee4e4,#fecfcf,#febcbc,#fdb5b5,#febebe,#fecfcf,#fee1e1,#fff0f0,#fbf9fd,#dcdcfe,#c4c4fd,#c3c3fd,#ccccfe,#d5d5fe,#dbdbfe,#dedefe,#e0e0fe,#e1e1fe,#e1e1fe,#e1e1fe,#e1e1fe,#e1e1fe,#e1e1fe,#e1e1fe,#e1e1fe,#e1e1fe,#e1e1fe,#e1e1fe,#e1e1fe,#e1e1fe,#e1e1fe,#e0e0fe,#dedefe,#dbdbfe,#d5d5fe,#ccccfe,#c3c3fd,#c4c4fd,#dcdcfe,#fbf9fd,#fff0f0,#fee1e1,#fecfcf,#febebe,#fdb5b5,#febcbc,#fecfcf,#fee4e4,#fff3f3,#fffafa,#fffcfc)"></div><div style="height:2px;background:linear-gradient(90deg,#fffbfb,#fff7f7,#ffeded,#fedbdb,#fec6c6,#fdb6b6,#fdb4b4,#febfbf,#fed0d0,#fee1e1,#fff1f1,#f8f6fd,#d9d9fe,#c4c4fd,#c2c2fd,#c9c9fe,#d0d0fe,#d7d7fe,#dbdbfe,#ddddfe,#dfdffe,#e0e0fe,#e0e0fe,#e0e0fe,#e0e0fe,#e0e0fe,#e0e0fe,#e0e0fe,#e0e0fe,#e0e0fe,#e0e0fe,#dfdffe,#ddddfe,#dbdbfe,#d7d7fe,#d0d0fe,#c9c9fe,#c2c2fd,#c4c4fd,#d9d9fe,#f8f6fd,#fff1f1,#fee1e1,#fed0d0,#febfbf,#fdb4b4,#fdb6b6,#fec6c6,#fedbdb,#ffeded,#fff7f7,#fffbfb,#fffcfc)"></div><div style="height:2px;background:linear-gradient(90deg,#fffcfc,#fffafa,#fff4f4,#fee7e7,#fed4d4,#febfbf,#fdb2b2,#fdb3b3,#febebe,#fecece,#fedfdf,#ffefef,#f9f7fd,#ddddfe,#c6c6fd,#c1c1fd,#c4c4fd,#cacafe,#cfcffe,#d4d4fe,#d7d7fe,#d9d9fe,#dbdbfe,#dbdbfe,#dcdcfe,#dcdcfe,#dcdcfe,#dcdcfe,#dbdbfe,#dbdbfe,#d9d9fe,#d7d7fe,#d4d4fe,#cfcffe,#cacafe,#c4c4fd,#c1c1fd,#c6c6fd,#ddddfe,#f9f7fd,#ffefef,#fedfdf,#fecece,#febebe,#fdb3b3,#fdb2b2,#febfbf,#fed4d4,#fee7e7,#fff4f4,#fffafa,#fffcfc,#fffdfd)"></div><div style="height:2px;background:linear-gradient(90deg,#fffdfd,#fffcfc,#fff9f9,#fff1f1,#fee3e3,#fecfcf,#febcbc,#fdb0b0,#fdb0b0,#febaba,#fec8c8,#fed8d8,#ffe8e8,#fcf6f8,#eaeafe,#d0d0fe,#c3c3fd,#c0c0fd,#c2c2fd,#c6c6fd,#c9c9fe,#ccccfe,#cecefe,#d0d0fe,#d0d0fe,#d1d1fe,#d1d1fe,#d0d0fe,#d0d0fe,#cecefe,#ccccfe,#c9c9fe,#c6c6fd,#c2c2fd,#c0c0fd,#c3c3fd,#d0d0fe,#eaeafe,#fcf6f8,#ffe8e8,#fed8d8,#fec8c8,#febaba,#fdb0b0,#fdb0b0,#febcbc,#fecfcf,#fee3e3,#fff1f1,#fff9f9,#fffcfc,#fffdfd,#fffdfd)"></div><div style="height:2px;background:linear-gradient(90deg,#fffdfd,#fffcfc,#fffbfb,#fff7f7,#ffefef,#fee1e1,#fecece,#febbbb,#fdafaf,#fdadad,#fdb4b4,#fec0c0,#fecece,#fedddd,#ffeded,#f9f4fa,#e6e6fe,#d2d2fe,#c6c6fd,#c1c1fd,#c0c0fd,#c0c0fd,#c1c1fd,#c2c2fd,#c2c2fd,#c2c2fd,#c2c2fd,#c2c2fd,#c2c2fd,#c1c1fd,#c0c0fd,#c0c0fd,#c1c1fd,#c6c6fd,#d2d2fe,#e6e6fe,#f9f4fa,#ffeded,#fedddd,#fecece,#fec0c0,#fdb4b4,#fdadad,#fdafaf,#febbbb,#fecece,#fee1e1,#ffefef,#fff7f7,#fffbfb,#fffcfc,#fffdfd,#fffdfd)"></div><div style="height:2px;background:linear-gradient(90deg,#fffdfd,#fffdfd,#fffcfc,#fffbfb,#fff7f7,#ffefef,#fee1e1,#fecfcf,#febdbd,#fdb0b0,#fdabab,#fdadad,#fdb5b5,#fec0c0,#fecccc,#fedada,#ffe8e8,#fcf3f5,#f2f0fd,#e4e4fe,#d8d8fe,#cfcffe,#cacafe,#c7c7fd,#c5c5fd,#c5c5fd,#c5c5fd,#c5c5fd,#c7c7fd,#cacafe,#cfcffe,#d8d8fe,#e4e4fe,#f2f0fd,#fcf3f5,#ffe8e8,#fedada,#fecccc,#fec0c0,#fdb5b5,#fdadad,#fdabab,#fdb0b0,#febdbd,#fecfcf,#fee1e1,#ffefef,#fff7f7,#fffbfb,#fffcfc,#fffdfd,#fffdfd,#fffdfd)"></div><div style="height:2px;background:linear-gradient(90deg,#fffdfd,#fffdfd,#fffdfd,#fffcfc,#fffbfb,#fff7f7,#fff0f0,#fee4e4,#fed4d4,#fec3c3,#fdb5b5,#fdabab,#fda8a8,#fdabab,#fdb1b1,#febaba,#fec3c3,#fecece,#fed8d8,#fee2e2,#ffecec,#fcf1f3,#f8f0f6,#f5eff9,#f3effa,#f2effb,#f2effb,#f3effa,#f5eff9,#f8f0f6,#fcf1f3,#ffecec,#fee2e2,#fed8d8,#fecece,#fec3c3,#febaba,#fdb1b1,#fdabab,#fda8a8,#fdabab,#fdb5b5,#fec3c3,#fed4d4,#fee4e4,#fff0f0,#fff7f7,#fffbfb,#fffcfc,#fffdfd,#fffdfd,#fffdfd,#fffdfd)"></div><div style="height:2px;background:linear-gradient(90deg,#fffdfd,#fffdfd,#fffdfd,#fffdfd,#fffcfc,#fffbfb,#fff8f8,#fff2f2,#ffe9e9,#fedcdc,#fecdcd,#febebe,#fdb2b2,#fdaaaa,#fda7a7,#fda7a7,#fdaaaa,#fdafaf,#fdb4b4,#febaba,#fec0c0,#fec5c5,#fec9c9,#fecdcd,#fecfcf,#fed0d0,#fed0d0,#fecfcf,#fecdcd,#fec9c9,#fec5c5,#fec0c0,#febaba,#fdb4b4,#fdafaf,#fdaaaa,#fda7a7,#fda7a7,#fdaaaa,#fdb2b2,#febebe,#fecdcd,#fedcdc,#ffe9e9,#fff2f2,#fff8f8,#fffbfb,#fffcfc,#fffdfd,#fffdfd,#fffdfd,#fffdfd,#fffdfd)"></div><div style="height:2px;background:linear-gradient(90deg,#fffdfd,#fffdfd,#fffdfd,#fffdfd,#fffdfd,#fffcfc,#fffcfc,#fff9f9,#fff5f5,#ffeeee,#fee5e5,#fed9d9,#fecbcb,#febfbf,#fdb4b4,#fdacac,#fda7a7,#fda5a5,#fda4a4,#fda5a5,#fda7a7,#fda8a8,#fdaaaa,#fdabab,#fdacac,#fdacac,#fdacac,#fdacac,#fdabab,#fdaaaa,#fda8a8,#fda7a7,#fda5a5,#fda4a4,#fda5a5,#fda7a7,#fdacac,#fdb4b4,#febfbf,#fecbcb,#fed9d9,#fee5e5,#ffeeee,#fff5f5,#fff9f9,#fffcfc,#fffcfc,#fffdfd,#fffdfd,#fffdfd,#fffdfd,#fffdfd,#fffdfd)"></div><div style="height:2px;background:linear-gradient(90deg,#fffdfd,#fffdfd,#fffdfd,#fffdfd,#fffdfd,#fffdfd,#fffdfd,#fffcfc,#fffbfb,#fff8f8,#fff4f4,#ffeded,#fee5e5,#fedbdb,#fed1d1,#fec7c7,#febdbd,#fdb6b6,#fdb0b0,#fdabab,#fda8a8,#fda6a6,#fda5a5,#fda4a4,#fda4a4,#fda4a4,#fda4a4,#fda4a4,#fda4a4,#fda5a5,#fda6a6,#fda8a8,#fdabab,#fdb0b0,#fdb6b6,#febdbd,#fec7c7,#fed1d1,#fedbdb,#fee5e5,#ffeded,#fff4f4,#fff8f8,#fffbfb,#fffcfc,#fffdfd,#fffdfd,#fffdfd,#fffdfd,#fffdfd,#fffdfd,#fffdfd,#fffdfd)"></div><div style="height:2px;background:linear-gradient(90deg,#fffdfd,#fffdfd,#fffdfd,#fffdfd,#fffdfd,#fffdfd,#fffdfd,#fffdfd,#fffcfc,#fffcfc,#fffafa,#fff8f8,#fff5f5,#fff0f0,#ffeaea,#fee3e3,#fedcdc,#fed5d5,#fecece,#fec8c8,#fec3c3,#febfbf,#febcbc,#febaba,#feb9b9,#feb9b9,#feb9b9,#feb9b9,#febaba,#febcbc,#febfbf,#fec3c3,#fec8c8,#fecece,#fed5d5,#fedcdc,#fee3e3,#ffeaea,#fff0f0,#fff5f5,#fff8f8,#fffafa,#fffcfc,#fffcfc,#fffdfd,#fffdfd,#fffdfd,#fffdfd,#fffdfd,#fffdfd,#fffdfd,#fffdfd,#fffdfd)"></div><div style="height:2px;background:linear-gradient(90deg,#fffdfd,#fffdfd,#fffdfd,#fffdfd,#fffdfd,#fffdfd,#fffdfd,#fffdfd,#fffdfd,#fffdfd,#fffcfc,#fffcfc,#fffbfb,#fff9f9,#fff7f7,#fff4f4,#fff1f1,#ffeded,#ffe9e9,#fee5e5,#fee1e1,#fedede,#fedbdb,#fedada,#fed8d8,#fed8d8,#fed8d8,#fed8d8,#fedada,#fedbdb,#fedede,#fee1e1,#fee5e5,#ffe9e9,#ffeded,#fff1f1,#fff4f4,#fff7f7,#fff9f9,#fffbfb,#fffcfc,#fffcfc,#fffdfd,#fffdfd,#fffdfd,#fffdfd,#fffdfd,#fffdfd,#fffdfd,#fffdfd,#fffdfd,#fffdfd,#fffdfd)"></div><div style="height:2px;background:linear-gradient(90deg,#fffdfd,#fffdfd,#fffdfd,#fffdfd,#fffdfd,#fffdfd,#fffdfd,#fffdfd,#fffdfd,#fffdfd,#fffdfd,#fffdfd,#fffcfc,#fffcfc,#fffcfc,#fffbfb,#fffafa,#fff8f8,#fff7f7,#fff5f5,#fff3f3,#fff2f2,#fff1f1,#fff0f0,#ffefef,#ffefef,#ffefef,#ffefef,#fff0f0,#fff1f1,#fff2f2,#fff3f3,#fff5f5,#fff7f7,#fff8f8,#fffafa,#fffbfb,#fffcfc,#fffcfc,#fffcfc,#fffdfd,#fffdfd,#fffdfd,#fffdfd,#fffdfd,#fffdfd,#fffdfd,#fffdfd,#fffdfd,#fffdfd,#fffdfd,#fffdfd,#fffdfd)"></div><div style="height:2px;background:linear-gradient(90deg,#fffdfd,#fffdfd,#fffdfd,#fffdfd,#fffdfd,#fffdfd,#fffdfd,#fffdfd,#fffdfd,#fffdfd,#fffdfd,#fffdfd,#fffdfd,#fffdfd,#fffdfd,#fffcfc,#fffcfc,#fffcfc,#fffcfc,#fffbfb,#fffbfb,#fffafa,#fffafa,#fff9f9,#fff9f9,#fff9f9,#fff9f9,#fff9f9,#fff9f9,#fffafa,#fffafa,#fffbfb,#fffbfb,#fffcfc,#fffcfc,#fffcfc,#fffcfc,#fffdfd,#fffdfd,#fffdfd,#fffdfd,#fffdfd,#fffdfd,#fffdfd,#fffdfd,#fffdfd,#fffdfd,#fffdfd,#fffdfd,#fffdfd,#fffdfd,#fffdfd,#fffdfd)"></div><div style="height:2px;background:linear-gradient(90deg,#fffdfd,#fffdfd,#fffdfd,#fffdfd,#fffdfd,#fffdfd,#fffdfd,#fffdfd,#fffdfd,#fffdfd,#fffdfd,#fffdfd,#fffdfd,#fffdfd,#fffdfd,#fffdfd,#fffdfd,#fffdfd,#fffdfd,#fffdfd,#fffcfc,#fffcfc,#fffcfc,#fffcfc,#fffcfc,#fffcfc,#fffcfc,#fffcfc,#fffcfc,#fffcfc,#fffcfc,#fffcfc,#fffdfd,#fffdfd,#fffdfd,#fffdfd,#fffdfd,#fffdfd,#fffdfd,#fffdfd,#fffdfd,#fffdfd,#fffdfd,#fffdfd,#fffdfd,#fffdfd,#fffdfd,#fffdfd,#fffdfd,#fffdfd,#fffdfd,#fffdfd,#fffdfd)"></div><div style="height:2px;background:linear-gradient(90deg,#fffdfd,#fffdfd,#fffdfd,#fffdfd,#fffdfd,#fffdfd,#fffdfd,#fffdfd,#fffdfd,#fffdfd,#fffdfd,#fffdfd,#fffdfd,#fffdfd,#fffdfd,#fffdfd,#fffdfd,#fffdfd,#fffdfd,#fffdfd,#fffdfd,#fffdfd,#fffdfd,#fffdfd,#fffdfd,#fffdfd,#fffdfd,#fffdfd,#fffdfd,#fffdfd,#fffdfd,#fffdfd,#fffdfd,#fffdfd,#fffdfd,#fffdfd,#fffdfd,#fffdfd,#fffdfd,#fffdfd,#fffdfd,#fffdfd,#fffdfd,#fffdfd,#fffdfd,#fffdfd,#fffdfd,#fffdfd,#fffdfd,#fffdfd,#fffdfd,#fffdfd,#fffdfd)"></div><div style="height:2px;background:linear-gradient(90deg,#fffdfd,#fffdfd,#fffdfd,#fffdfd,#fffdfd,#fffdfd,#fffdfd,#fffdfd,#fffdfd,#fffdfd,#fffdfd,#fffdfd,#fffdfd,#fffdfd,#fffdfd,#fffdfd,#fffdfd,#fffdfd,#fffdfd,#fffdfd,#fffdfd,#fffdfd,#fffdfd,#fffdfd,#fffdfd,#fffdfd,#fffdfd,#fffdfd,#fffdfd,#fffdfd,#fffdfd,#fffdfd,#fffdfd,#fffdfd,#fffdfd,#fffdfd,#fffdfd,#fffdfd,#fffdfd,#fffdfd,#fffdfd,#fffdfd,#fffdfd,#fffdfd,#fffdfd,#fffdfd,#fffdfd,#fffdfd,#fffdfd,#fffdfd,#fffdfd,#fffdfd,#fffdfd)"></div><div style="height:2px;background:linear-gradient(90deg,#fffdfd,#fffdfd,#fffdfd,#fffdfd,#fffdfd,#fffdfd,#fffdfd,#fffdfd,#fffdfd,#fffdfd,#fffdfd,#fffdfd,#fffdfd,#fffdfd,#fffdfd,#fffdfd,#fffdfd,#fffdfd,#fffdfd,#fffdfd,#fffdfd,#fffdfd,#fffdfd,#fffdfd,#fffdfd,#fffdfd,#fffdfd,#fffdfd,#fffdfd,#fffdfd,#fffdfd,#fffdfd,#fffdfd,#fffdfd,#fffdfd,#fffdfd,#fffdfd,#fffdfd,#fffdfd,#fffdfd,#fffdfd,#fffdfd,#fffdfd,#fffdfd,#fffdfd,#fffdfd,#fffdfd,#fffdfd,#fffdfd,#fffdfd,#fffdfd,#fffdfd,#fffdfd)"></div><div style="height:2px;background:linear-gradient(90deg,#fffdfd,#fffdfd,#fffdfd,#fffdfd,#fffdfd,#fffdfd,#fffdfd,#fffdfd,#fffdfd,#fffdfd,#fffdfd,#fffdfd,#fffdfd,#fffdfd,#fffdfd,#fffdfd,#fffdfd,#fffdfd,#fffdfd,#fffdfd,#fffdfd,#fffdfd,#fffdfd,#fffdfd,#fffdfd,#fffdfd,#fffdfd,#fffdfd,#fffdfd,#fffdfd,#fffdfd,#fffdfd,#fffdfd,#fffdfd,#fffdfd,#fffdfd,#fffdfd,#fffdfd,#fffdfd,#fffdfd,#fffdfd,#fffdfd,#fffdfd,#fffdfd,#fffdfd,#fffdfd,#fffdfd,#fffdfd,#fffdfd,#fffdfd,#fffdfd,#fffdfd,#fffdfd)"></div><div style="height:1px;background:linear-gradient(90deg,#fffdfd,#fffdfd,#fffdfd,#fffdfd,#fffdfd,#fffdfd,#fffdfd,#fffdfd,#fffdfd,#fffdfd,#fffdfd,#fffdfd,#fffdfd,#fffdfd,#fffdfd,#fffdfd,#fffdfd,#fffdfd,#fffdfd,#fffdfd,#fffdfd,#fffdfd,#fffdfd,#fffdfd,#fffdfd,#fffdfd,#fffdfd,#fffdfd,#fffdfd,#fffdfd,#fffdfd,#fffdfd,#fffdfd,#fffdfd,#fffdfd,#fffdfd,#fffdfd,#fffdfd,#fffdfd,#fffdfd,#fffdfd,#fffdfd,#fffdfd,#fffdfd,#fffdfd,#fffdfd,#fffdfd,#fffdfd,#fffdfd,#fffdfd,#fffdfd,#fffdfd,#fffdfd)"></div></div><div style="position:absolute;left:503px;top:9px;width:105px;height:105px"><div style="height:2px;background:linear-gradient(90deg,#f2f2ff,#f3f3ff,#f3f3ff,#f4f4ff,#f4f4ff,#f5f5ff,#f5f5ff,#f5f5ff,#f5f5ff,#f5f5ff,#f6f6ff,#f6f6ff,#f6f6ff,#f6f6ff,#f6f6ff,#f6f6ff,#f7f7ff,#f7f7ff,#f7f7ff,#f7f7ff,#f7f7ff,#f7f7ff,#f7f7ff,#f7f7ff,#f7f7ff,#f7f7ff,#f7f7ff,#f7f7ff,#f7f7ff,#f7f7ff,#f7f7ff,#f7f7ff,#f7f7ff,#f7f7ff,#f7f7ff,#f7f7ff,#f6f6ff,#f6f6ff,#f6f6ff,#f6f6ff,#f6f6ff,#f6f6ff,#f5f5ff,#f5f5ff,#f5f5ff,#f5f5ff,#f5f5ff,#f4f4ff,#f4f4ff,#f3f3ff,#f3f3ff,#f2f2ff,#f2f2ff)"></div><div style="height:2px;background:linear-gradient(90deg,#f2f2ff,#f3f3ff,#f3f3ff,#f4f4ff,#f5f5ff,#f5f5ff,#f5f5ff,#f5f5ff,#f6f6ff,#f6f6ff,#f6f6ff,#f6f6ff,#f6f6ff,#f7f7ff,#f7f7ff,#f7f7ff,#f7f7ff,#f7f7ff,#f7f7ff,#f8f8ff,#f8f8ff,#f8f8ff,#f8f8ff,#f8f8ff,#f8f8ff,#f8f8ff,#f8f8ff,#f8f8ff,#f8f8ff,#f8f8ff,#f8f8ff,#f8f8ff,#f8f8ff,#f7f7ff,#f7f7ff,#f7f7ff,#f7f7ff,#f7f7ff,#f7f7ff,#f6f6ff,#f6f6ff,#f6f6ff,#f6f6ff,#f6f6ff,#f5f5ff,#f5f5ff,#f5f5ff,#f5f5ff,#f4f4ff,#f3f3ff,#f3f3ff,#f2f2ff,#f2f2ff)"></div><div style="height:2px;background:linear-gradient(90deg,#f2f2ff,#f2f2ff,#f3f3ff,#f4f4ff,#f5f5ff,#f5f5ff,#f5f5ff,#f6f6ff,#f6f6ff,#f6f6ff,#f6f6ff,#f6f6ff,#f7f7ff,#f7f7ff,#f7f7ff,#f7f7ff,#f7f7ff,#f8f8ff,#f8f8ff,#f8f8ff,#f8f8ff,#f8f8ff,#f8f8ff,#f8f8ff,#f9f9ff,#f9f9ff,#f9f9ff,#f9f9ff,#f8f8ff,#f8f8ff,#f8f8ff,#f8f8ff,#f8f8ff,#f8f8ff,#f8f8ff,#f7f7ff,#f7f7ff,#f7f7ff,#f7f7ff,#f7f7ff,#f6f6ff,#f6f6ff,#f6f6ff,#f6f6ff,#f6f6ff,#f5f5ff,#f5f5ff,#f5f5ff,#f4f4ff,#f3f3ff,#f2f2ff,#f2f2ff,#f1f1ff)"></div><div style="height:2px;background:linear-gradient(90deg,#f1f1ff,#f2f2ff,#f3f3ff,#f4f4ff,#f5f5ff,#f5f5ff,#f5f5ff,#f6f6ff,#f6f6ff,#f6f6ff,#f6f6ff,#f7f7ff,#f7f7ff,#f7f7ff,#f7f7ff,#f8f8ff,#f8f8ff,#f8f8ff,#f8f8ff,#f8f8ff,#f9f9ff,#f9f9ff,#f9f9ff,#f9f9ff,#f9f9ff,#f9f9ff,#f9f9ff,#f9f9ff,#f9f9ff,#f9f9ff,#f9f9ff,#f9f9ff,#f8f8ff,#f8f8ff,#f8f8ff,#f8f8ff,#f8f8ff,#f7f7ff,#f7f7ff,#f7f7ff,#f7f7ff,#f6f6ff,#f6f6ff,#f6f6ff,#f6f6ff,#f5f5ff,#f5f5ff,#f5f5ff,#f4f4ff,#f3f3ff,#f2f2ff,#f1f1ff,#f1f1ff)"></div><div style="height:2px;background:linear-gradient(90deg,#f0f0ff,#f1f1ff,#f2f2ff,#f3f3ff,#f4f4ff,#f5f5ff,#f5f5ff,#f6f6ff,#f6f6ff,#f6f6ff,#f6f6ff,#f7f7ff,#f7f7ff,#f7f7ff,#f7f7ff,#f8f8ff,#f8f8ff,#f8f8ff,#f9f9ff,#f9f9ff,#f9f9ff,#fafaff,#fafaff,#fafaff,#fafaff,#fafaff,#fafaff,#fafaff,#fafaff,#fafaff,#fafaff,#f9f9ff,#f9f9ff,#f9f9ff,#f8f8ff,#f8f8ff,#f8f8ff,#f7f7ff,#f7f7ff,#f7f7ff,#f7f7ff,#f6f6ff,#f6f6ff,#f6f6ff,#f6f6ff,#f5f5ff,#f5f5ff,#f4f4ff,#f3f3ff,#f2f2ff,#f1f1ff,#f0f0ff,#f0f0ff)"></div><div style="height:2px;background:linear-gradient(90deg,#efefff,#f0f0ff,#f2f2ff,#f3f3ff,#f4f4ff,#f5f5ff,#f5f5ff,#f6f6ff,#f6f6ff,#f6f6ff,#f6f6ff,#f7f7ff,#f7f7ff,#f7f7ff,#f8f8ff,#f8f8ff,#f8f8ff,#f9f9ff,#f9f9ff,#fafaff,#fafaff,#fbfbff,#fbfbff,#fbfbff,#fcfcff,#fcfcff,#fcfcff,#fcfcff,#fbfbff,#fbfbff,#fbfbff,#fafaff,#fafaff,#f9f9ff,#f9f9ff,#f8f8ff,#f8f8ff,#f8f8ff,#f7f7ff,#f7f7ff,#f7f7ff,#f6f6ff,#f6f6ff,#f6f6ff,#f6f6ff,#f5f5ff,#f5f5ff,#f4f4ff,#f3f3ff,#f2f2ff,#f0f0ff,#efefff,#efefff)"></div><div style="height:2px;background:linear-gradient(90deg,#eeeeff,#efefff,#f1f1ff,#f2f2ff,#f4f4ff,#f5f5ff,#f5f5ff,#f5f5ff,#f6f6ff,#f6f6ff,#f6f6ff,#f7f7ff,#f7f7ff,#f7f7ff,#f8f8ff,#f9f9ff,#f9f9ff,#fafaff,#fbfbff,#fbfbff,#fcfcff,#fcfcff,#fdfdff,#fdfdff,#fdfdff,#fefeff,#fefeff,#fdfdff,#fdfdff,#fdfdff,#fcfcff,#fcfcff,#fbfbff,#fbfbff,#fafaff,#f9f9ff,#f9f9ff,#f8f8ff,#f7f7ff,#f7f7ff,#f7f7ff,#f6f6ff,#f6f6ff,#f6f6ff,#f5f5ff,#f5f5ff,#f5f5ff,#f4f4ff,#f2f2ff,#f1f1ff,#efefff,#eeeeff,#eeeeff)"></div><div style="height:2px;background:linear-gradient(90deg,#ededff,#eeeeff,#f0f0ff,#f2f2ff,#f3f3ff,#f4f4ff,#f5f5ff,#f5f5ff,#f5f5ff,#f6f6ff,#f6f6ff,#f7f7ff,#f7f7ff,#f8f8ff,#f9f9ff,#fafaff,#fbfbff,#fbfbff,#fcfcff,#fdfdff,#fefeff,#fefeff,#fffeff,#fffeff,#fffefe,#fffefe,#fffefe,#fffefe,#fffeff,#fffeff,#fefeff,#fefeff,#fdfdff,#fcfcff,#fbfbff,#fbfbff,#fafaff,#f9f9ff,#f8f8ff,#f7f7ff,#f7f7ff,#f6f6ff,#f6f6ff,#f5f5ff,#f5f5ff,#f5f5ff,#f4f4ff,#f3f3ff,#f2f2ff,#f0f0ff,#eeeeff,#ededff,#ececff)"></div><div style="height:2px;background:linear-gradient(90deg,#ebebfe,#ededff,#efefff,#f1f1ff,#f3f3ff,#f4f4ff,#f5f5ff,#f5f5ff,#f5f5ff,#f6f6ff,#f6f6ff,#f7f7ff,#f8f8ff,#f9f9ff,#fafaff,#fbfbff,#fdfdff,#fefeff,#fffeff,#fffefe,#fffefe,#fffdfd,#fffdfd,#fffcfc,#fffcfc,#fffcfc,#fffcfc,#fffcfc,#fffcfc,#fffdfd,#fffdfd,#fffefe,#fffefe,#fffeff,#fefeff,#fdfdff,#fbfbff,#fafaff,#f9f9ff,#f8f8ff,#f7f7ff,#f6f6ff,#f6f6ff,#f5f5ff,#f5f5ff,#f5f5ff,#f4f4ff,#f3f3ff,#f1f1ff,#efefff,#ededff,#ebebfe,#ebebfe)"></div><div style="height:2px;background:linear-gradient(90deg,#eaeafe,#ebebfe,#eeeeff,#f0f0ff,#f2f2ff,#f4f4ff,#f4f4ff,#f5f5ff,#f6f6ff,#f6f6ff,#f7f7ff,#f8f8ff,#fafaff,#fbfbff,#fcfcff,#fefeff,#fffeff,#fffefe,#fffdfd,#fffcfc,#fffbfb,#fffafa,#fff9f9,#fff9f9,#fff9f9,#fff9f9,#fff9f9,#fff9f9,#fff9f9,#fff9f9,#fffafa,#fffbfb,#fffcfc,#fffdfd,#fffefe,#fffeff,#fefeff,#fcfcff,#fbfbff,#fafaff,#f8f8ff,#f7f7ff,#f6f6ff,#f6f6ff,#f5f5ff,#f4f4ff,#f4f4ff,#f2f2ff,#f0f0ff,#eeeeff,#ebebfe,#eaeafe,#e9e9fe)"></div><div style="height:2px;background:linear-gradient(90deg,#e8e8fe,#eaeafe,#ededff,#efefff,#f2f2ff,#f3f3ff,#f4f4ff,#f5f5ff,#f6f6ff,#f7f7ff,#f8f8ff,#fafaff,#fbfbff,#fdfdff,#fefeff,#fffefe,#fffefe,#fffdfd,#fffcfc,#fffcfc,#fffbfb,#fffbfb,#fffbfb,#fffafa,#fffafa,#fffafa,#fffafa,#fffafa,#fffafa,#fffbfb,#fffbfb,#fffbfb,#fffcfc,#fffcfc,#fffdfd,#fffefe,#fffefe,#fefeff,#fdfdff,#fbfbff,#fafaff,#f8f8ff,#f7f7ff,#f6f6ff,#f5f5ff,#f4f4ff,#f3f3ff,#f2f2ff,#efefff,#ededff,#eaeafe,#e8e8fe,#e8e8fe)"></div><div style="height:2px;background:linear-gradient(90deg,#e6e6fe,#e8e8fe,#ececfe,#efefff,#f1f1ff,#f3f3ff,#f5f5ff,#f6f6ff,#f7f7ff,#f9f9ff,#fafaff,#fcfcff,#fdfdff,#fffeff,#ffffff,#fffefe,#fffefe,#fffefe,#fffefe,#fffefe,#fefeff,#fefeff,#fefeff,#fefeff,#fdfdff,#fdfdff,#fdfdff,#fdfdff,#fefeff,#fefeff,#fefeff,#fefeff,#fffefe,#fffefe,#fffefe,#fffefe,#fffefe,#ffffff,#fffeff,#fdfdff,#fcfcff,#fafaff,#f9f9ff,#f7f7ff,#f6f6ff,#f5f5ff,#f3f3ff,#f1f1ff,#efefff,#ececfe,#e8e8fe,#e6e6fe,#e6e6fe)"></div><div style="height:2px;background:linear-gradient(90deg,#e5e5fe,#e7e7fe,#eaeafe,#eeeeff,#f1f1ff,#f4f4ff,#f5f5ff,#f7f7ff,#f9f9ff,#fafaff,#fcfcff,#fefeff,#ffffff,#ffffff,#fffefe,#ffffff,#fffeff,#fefeff,#fdfdff,#fcfcff,#fbfbff,#fafaff,#fafaff,#f9f9ff,#f9f9ff,#f9f9ff,#f9f9ff,#f9f9ff,#f9f9ff,#fafaff,#fafaff,#fbfbff,#fcfcff,#fdfdff,#fefeff,#fffeff,#ffffff,#fffefe,#ffffff,#ffffff,#fefeff,#fcfcff,#fafaff,#f9f9ff,#f7f7ff,#f5f5ff,#f4f4ff,#f1f1ff,#eeeeff,#eaeafe,#e7e7fe,#e5e5fe,#e4e4fe)"></div><div style="height:2px;background:linear-gradient(90deg,#e3e3fe,#e6e6fe,#eaeafe,#eeeeff,#f1f1ff,#f4f4ff,#f6f6ff,#f9f9ff,#fbfbff,#fcfcff,#fefeff,#ffffff,#ffffff,#ffffff,#fefeff,#fdfdff,#fcfcff,#fbfbff,#fafaff,#f9f9ff,#f8f8ff,#f7f7ff,#f7f7ff,#f7f7ff,#f6f6ff,#f6f6ff,#f6f6ff,#f6f6ff,#f7f7ff,#f7f7ff,#f7f7ff,#f8f8ff,#f9f9ff,#fafaff,#fbfbff,#fcfcff,#fdfdff,#fefeff,#ffffff,#ffffff,#ffffff,#fefeff,#fcfcff,#fbfbff,#f9f9ff,#f6f6ff,#f4f4ff,#f1f1ff,#eeeeff,#eaeafe,#e6e6fe,#e3e3fe,#e3e3fe)"></div><div style="height:2px;background:linear-gradient(90deg,#e2e2fe,#e4e4fe,#e9e9fe,#eeeeff,#f2f2ff,#f5f5ff,#f8f8ff,#fafaff,#fcfcff,#fefeff,#ffffff,#ffffff,#ffffff,#fdfdff,#fcfcff,#fafaff,#f9f9ff,#f8f8ff,#f7f7ff,#f6f6ff,#f6f6ff,#f5f5ff,#f5f5ff,#f5f5ff,#f5f5ff,#f5f5ff,#f5f5ff,#f5f5ff,#f5f5ff,#f5f5ff,#f5f5ff,#f6f6ff,#f6f6ff,#f7f7ff,#f8f8ff,#f9f9ff,#fafaff,#fcfcff,#fdfdff,#ffffff,#ffffff,#ffffff,#fefeff,#fcfcff,#fafaff,#f8f8ff,#f5f5ff,#f2f2ff,#eeeeff,#e9e9fe,#e4e4fe,#e2e2fe,#e1e1fe)"></div><div style="height:2px;background:linear-gradient(90deg,#e0e0fe,#e3e3fe,#e8e8fe,#eeeeff,#f3f3ff,#f7f7ff,#fafaff,#fcfcff,#fefeff,#ffffff,#ffffff,#fefeff,#fdfdff,#fbfbff,#f9f9ff,#f8f8ff,#f7f7ff,#f6f6ff,#f5f5ff,#f5f5ff,#f4f4ff,#f4f4ff,#f4f4ff,#f4f4ff,#f4f4ff,#f4f4ff,#f4f4ff,#f4f4ff,#f4f4ff,#f4f4ff,#f4f4ff,#f4f4ff,#f5f5ff,#f5f5ff,#f6f6ff,#f7f7ff,#f8f8ff,#f9f9ff,#fbfbff,#fdfdff,#fefeff,#ffffff,#ffffff,#fefeff,#fcfcff,#fafaff,#f7f7ff,#f3f3ff,#eeeeff,#e8e8fe,#e3e3fe,#e0e0fe,#e0e0fe)"></div><div style="height:2px;background:linear-gradient(90deg,#dfdffe,#e3e3fe,#e8e8fe,#eeeeff,#f4f4ff,#f8f8ff,#fbfbff,#fefeff,#ffffff,#ffffff,#fefeff,#fcfcff,#fafaff,#f8f8ff,#f7f7ff,#f6f6ff,#f5f5ff,#f4f4ff,#f4f4ff,#f4f4ff,#f4f4ff,#f4f4ff,#f4f4ff,#f4f4ff,#f4f4ff,#f4f4ff,#f4f4ff,#f4f4ff,#f4f4ff,#f4f4ff,#f4f4ff,#f4f4ff,#f4f4ff,#f4f4ff,#f4f4ff,#f5f5ff,#f6f6ff,#f7f7ff,#f8f8ff,#fafaff,#fcfcff,#fefeff,#ffffff,#ffffff,#fefeff,#fbfbff,#f8f8ff,#f4f4ff,#eeeeff,#e8e8fe,#e3e3fe,#dfdffe,#dfdffe)"></div><div style="height:2px;background:linear-gradient(90deg,#dedefe,#e2e2fe,#e8e8fe,#efefff,#f5f5ff,#fafaff,#fdfdff,#ffffff,#ffffff,#fefeff,#fcfcff,#fafaff,#f8f8ff,#f6f6ff,#f5f5ff,#f4f4ff,#f4f4ff,#f4f4ff,#f4f4ff,#f4f4ff,#f3f3ff,#f3f3ff,#f3f3ff,#f3f3ff,#f3f3ff,#f3f3ff,#f3f3ff,#f3f3ff,#f3f3ff,#f3f3ff,#f3f3ff,#f3f3ff,#f4f4ff,#f4f4ff,#f4f4ff,#f4f4ff,#f4f4ff,#f5f5ff,#f6f6ff,#f8f8ff,#fafaff,#fcfcff,#fefeff,#ffffff,#ffffff,#fdfdff,#fafaff,#f5f5ff,#efefff,#e8e8fe,#e2e2fe,#dedefe,#dedefe)"></div><div style="height:2px;background:linear-gradient(90deg,#dedefe,#e2e2fe,#e9e9fe,#f0f0ff,#f6f6ff,#fbfbff,#fefeff,#ffffff,#fefeff,#fcfcff,#fafaff,#f8f8ff,#f6f6ff,#f5f5ff,#f4f4ff,#f4f4ff,#f4f4ff,#f4f4ff,#f3f3ff,#f3f3ff,#f3f3ff,#f3f3ff,#f3f3ff,#f3f3ff,#f3f3ff,#f3f3ff,#f3f3ff,#f3f3ff,#f3f3ff,#f3f3ff,#f3f3ff,#f3f3ff,#f3f3ff,#f3f3ff,#f4f4ff,#f4f4ff,#f4f4ff,#f4f4ff,#f5f5ff,#f6f6ff,#f8f8ff,#fafaff,#fcfcff,#fefeff,#ffffff,#fefeff,#fbfbff,#f6f6ff,#f0f0ff,#e9e9fe,#e2e2fe,#dedefe,#ddddfe)"></div><div style="height:2px;background:linear-gradient(90deg,#dedefe,#e2e2fe,#eaeafe,#f1f1ff,#f8f8ff,#fcfcff,#fefeff,#fefeff,#fcfcff,#fafaff,#f8f8ff,#f6f6ff,#f5f5ff,#f4f4ff,#f4f4ff,#f4f4ff,#f3f3ff,#f3f3ff,#f3f3ff,#f3f3ff,#f3f3ff,#f3f3ff,#f3f3ff,#f3f3ff,#f3f3ff,#f3f3ff,#f3f3ff,#f3f3ff,#f3f3ff,#f3f3ff,#f3f3ff,#f3f3ff,#f3f3ff,#f3f3ff,#f3f3ff,#f3f3ff,#f4f4ff,#f4f4ff,#f4f4ff,#f5f5ff,#f6f6ff,#f8f8ff,#fafaff,#fcfcff,#fefeff,#fefeff,#fcfcff,#f8f8ff,#f1f1ff,#eaeafe,#e2e2fe,#dedefe,#ddddfe)"></div><div style="height:2px;background:linear-gradient(90deg,#dedefe,#e3e3fe,#ebebfe,#f2f2ff,#f9f9ff,#fdfdff,#fefeff,#fdfdff,#fbfbff,#f8f8ff,#f6f6ff,#f5f5ff,#f4f4ff,#f4f4ff,#f4f4ff,#f3f3ff,#f3f3ff,#f3f3ff,#f3f3ff,#f3f3ff,#f3f3ff,#f3f3ff,#f3f3ff,#f3f3ff,#f3f3ff,#f3f3ff,#f3f3ff,#f3f3ff,#f3f3ff,#f3f3ff,#f3f3ff,#f3f3ff,#f3f3ff,#f3f3ff,#f3f3ff,#f3f3ff,#f3f3ff,#f4f4ff,#f4f4ff,#f4f4ff,#f5f5ff,#f6f6ff,#f8f8ff,#fbfbff,#fdfdff,#fefeff,#fdfdff,#f9f9ff,#f2f2ff,#ebebfe,#e3e3fe,#dedefe,#dcdcfe)"></div><div style="height:2px;background:linear-gradient(90deg,#dedefe,#e4e4fe,#ececfe,#f4f4ff,#fafaff,#fdfdff,#fdfdff,#fbfbff,#f9f9ff,#f7f7ff,#f5f5ff,#f4f4ff,#f4f4ff,#f3f3ff,#f3f3ff,#f3f3ff,#f3f3ff,#f3f3ff,#f3f3ff,#f3f3ff,#f3f3ff,#f3f3ff,#f3f3ff,#f3f3ff,#f3f3ff,#f3f3ff,#f3f3ff,#f3f3ff,#f3f3ff,#f3f3ff,#f3f3ff,#f3f3ff,#f3f3ff,#f3f3ff,#f3f3ff,#f3f3ff,#f3f3ff,#f3f3ff,#f3f3ff,#f4f4ff,#f4f4ff,#f5f5ff,#f7f7ff,#f9f9ff,#fbfbff,#fdfdff,#fdfdff,#fafaff,#f4f4ff,#ececfe,#e4e4fe,#dedefe,#ddddfe)"></div><div style="height:2px;background:linear-gradient(90deg,#dfdffe,#e5e5fe,#ededff,#f5f5ff,#fafaff,#fcfcff,#fcfcff,#fafaff,#f7f7ff,#f6f6ff,#f4f4ff,#f4f4ff,#f4f4ff,#f3f3ff,#f3f3ff,#f3f3ff,#f3f3ff,#f3f3ff,#f3f3ff,#f3f3ff,#f3f3ff,#f3f3ff,#f3f3ff,#f3f3ff,#f3f3ff,#f3f3ff,#f3f3ff,#f3f3ff,#f3f3ff,#f3f3ff,#f3f3ff,#f3f3ff,#f3f3ff,#f3f3ff,#f3f3ff,#f3f3ff,#f3f3ff,#f3f3ff,#f3f3ff,#f4f4ff,#f4f4ff,#f4f4ff,#f6f6ff,#f7f7ff,#fafaff,#fcfcff,#fcfcff,#fafaff,#f5f5ff,#ededff,#e5e5fe,#dfdffe,#ddddfe)"></div><div style="height:2px;background:linear-gradient(90deg,#e0e0fe,#e6e6fe,#ededff,#f4f4ff,#f9f9ff,#fbfbff,#fafaff,#f8f8ff,#f6f6ff,#f5f5ff,#f4f4ff,#f4f4ff,#f3f3ff,#f3f3ff,#f3f3ff,#f3f3ff,#f3f3ff,#f3f3ff,#f3f3ff,#f3f3ff,#f3f3ff,#f3f3ff,#f3f3ff,#f3f3ff,#f3f3ff,#f3f3ff,#f3f3ff,#f3f3ff,#f3f3ff,#f3f3ff,#f3f3ff,#f3f3ff,#f3f3ff,#f3f3ff,#f3f3ff,#f3f3ff,#f3f3ff,#f3f3ff,#f3f3ff,#f3f3ff,#f4f4ff,#f4f4ff,#f5f5ff,#f6f6ff,#f8f8ff,#fafaff,#fbfbff,#f9f9ff,#f4f4ff,#ededff,#e6e6fe,#e0e0fe,#ddddfe)"></div><div style="height:2px;background:linear-gradient(90deg,#e0e0fe,#e6e6fe,#ededff,#f4f4ff,#f8f8ff,#f9f9ff,#f8f8ff,#f6f6ff,#f5f5ff,#f4f4ff,#f4f4ff,#f3f3ff,#f3f3ff,#f3f3ff,#f3f3ff,#f3f3ff,#f3f3ff,#f3f3ff,#f3f3ff,#f3f3ff,#f3f3ff,#f3f3ff,#f3f3ff,#f3f3ff,#f4f4ff,#f4f4ff,#f4f4ff,#f4f4ff,#f3f3ff,#f3f3ff,#f3f3ff,#f3f3ff,#f3f3ff,#f3f3ff,#f3f3ff,#f3f3ff,#f3f3ff,#f3f3ff,#f3f3ff,#f3f3ff,#f3f3ff,#f4f4ff,#f4f4ff,#f5f5ff,#f6f6ff,#f8f8ff,#f9f9ff,#f8f8ff,#f4f4ff,#ededff,#e6e6fe,#e0e0fe,#ddddfe)"></div><div style="height:2px;background:linear-gradient(90deg,#e0e0fe,#e6e6fe,#ededff,#f3f3ff,#f6f6ff,#f7f7ff,#f6f6ff,#f5f5ff,#f4f4ff,#f4f4ff,#f4f4ff,#f3f3ff,#f3f3ff,#f3f3ff,#f4f4ff,#f4f4ff,#f4f4ff,#f4f4ff,#f4f4ff,#f4f4ff,#f4f4ff,#f4f4ff,#f4f4ff,#f4f4ff,#f4f4ff,#f4f4ff,#f4f4ff,#f4f4ff,#f4f4ff,#f4f4ff,#f4f4ff,#f4f4ff,#f4f4ff,#f4f4ff,#f4f4ff,#f4f4ff,#f4f4ff,#f4f4ff,#f3f3ff,#f3f3ff,#f3f3ff,#f4f4ff,#f4f4ff,#f4f4ff,#f5f5ff,#f6f6ff,#f7f7ff,#f6f6ff,#f3f3ff,#ededff,#e6e6fe,#e0e0fe,#ddddfe)"></div><div style="height:2px;background:linear-gradient(90deg,#dfdffe,#e6e6fe,#ededff,#f2f2ff,#f5f5ff,#f6f6ff,#f5f5ff,#f5f5ff,#f4f4ff,#f4f4ff,#f4f4ff,#f4f4ff,#f4f4ff,#f4f4ff,#f4f4ff,#f4f4ff,#f4f4ff,#f4f4ff,#f4f4ff,#f4f4ff,#f4f4ff,#f4f4ff,#f4f4ff,#f4f4ff,#f5f5ff,#f5f5ff,#f5f5ff,#f5f5ff,#f4f4ff,#f4f4ff,#f4f4ff,#f4f4ff,#f4f4ff,#f4f4ff,#f4f4ff,#f4f4ff,#f4f4ff,#f4f4ff,#f4f4ff,#f4f4ff,#f4f4ff,#f4f4ff,#f4f4ff,#f4f4ff,#f5f5ff,#f5f5ff,#f6f6ff,#f5f5ff,#f2f2ff,#ededff,#e6e6fe,#dfdffe,#dcdcfe)"></div><div style="height:2px;background:linear-gradient(90deg,#dedefe,#e5e5fe,#ececfe,#f1f1ff,#f4f4ff,#f5f5ff,#f5f5ff,#f4f4ff,#f4f4ff,#f4f4ff,#f4f4ff,#f4f4ff,#f4f4ff,#f4f4ff,#f4f4ff,#f4f4ff,#f5f5ff,#f5f5ff,#f5f5ff,#f5f5ff,#f5f5ff,#f6f6ff,#f6f6ff,#f6f6ff,#f6f6ff,#f6f6ff,#f6f6ff,#f6f6ff,#f6f6ff,#f6f6ff,#f6f6ff,#f5f5ff,#f5f5ff,#f5f5ff,#f5f5ff,#f5f5ff,#f4f4ff,#f4f4ff,#f4f4ff,#f4f4ff,#f4f4ff,#f4f4ff,#f4f4ff,#f4f4ff,#f4f4ff,#f5f5ff,#f5f5ff,#f4f4ff,#f1f1ff,#ececfe,#e5e5fe,#dedefe,#dadafe)"></div><div style="height:2px;background:linear-gradient(90deg,#dcdcfe,#e3e3fe,#eaeafe,#f0f0ff,#f3f3ff,#f4f4ff,#f4f4ff,#f4f4ff,#f4f4ff,#f4f4ff,#f4f4ff,#f4f4ff,#f5f5ff,#f5f5ff,#f5f5ff,#f5f5ff,#f6f6ff,#f6f6ff,#f7f7ff,#f7f7ff,#f7f7ff,#f8f8ff,#f8f8ff,#f8f8ff,#f8f8ff,#f8f8ff,#f8f8ff,#f8f8ff,#f8f8ff,#f8f8ff,#f8f8ff,#f7f7ff,#f7f7ff,#f7f7ff,#f6f6ff,#f6f6ff,#f5f5ff,#f5f5ff,#f5f5ff,#f5f5ff,#f4f4ff,#f4f4ff,#f4f4ff,#f4f4ff,#f4f4ff,#f4f4ff,#f4f4ff,#f3f3ff,#f0f0ff,#eaeafe,#e3e3fe,#dcdcfe,#d9d9fe)"></div><div style="height:2px;background:linear-gradient(90deg,#dadafe,#e0e0fe,#e8e8fe,#eeeeff,#f1f1ff,#f3f3ff,#f4f4ff,#f4f4ff,#f4f4ff,#f4f4ff,#f5f5ff,#f5f5ff,#f5f5ff,#f6f6ff,#f6f6ff,#f7f7ff,#f7f7ff,#f8f8ff,#f9f9ff,#f9f9ff,#fafaff,#fafaff,#fbfbff,#fbfbff,#fbfbff,#fbfbff,#fbfbff,#fbfbff,#fbfbff,#fbfbff,#fafaff,#fafaff,#f9f9ff,#f9f9ff,#f8f8ff,#f7f7ff,#f7f7ff,#f6f6ff,#f6f6ff,#f5f5ff,#f5f5ff,#f5f5ff,#f4f4ff,#f4f4ff,#f4f4ff,#f4f4ff,#f3f3ff,#f1f1ff,#eeeeff,#e8e8fe,#e0e0fe,#dadafe,#d7d7fe)"></div><div style="height:2px;background:linear-gradient(90deg,#d8d8fe,#ddddfe,#e4e4fe,#ebebfe,#f0f0ff,#f2f2ff,#f3f3ff,#f4f4ff,#f4f4ff,#f5f5ff,#f5f5ff,#f5f5ff,#f6f6ff,#f7f7ff,#f7f7ff,#f8f8ff,#f9f9ff,#fafaff,#fafaff,#fbfbff,#fcfcff,#fdfdff,#fdfdff,#fefeff,#fefeff,#fefeff,#fefeff,#fefeff,#fefeff,#fdfdff,#fdfdff,#fcfcff,#fbfbff,#fafaff,#fafaff,#f9f9ff,#f8f8ff,#f7f7ff,#f7f7ff,#f6f6ff,#f5f5ff,#f5f5ff,#f5f5ff,#f4f4ff,#f4f4ff,#f3f3ff,#f2f2ff,#f0f0ff,#ebebfe,#e4e4fe,#ddddfe,#d8d8fe,#d8d8fe)"></div><div style="height:2px;background:linear-gradient(90deg,#d9d9fe,#dbdbfe,#e1e1fe,#e8e8fe,#ededff,#f1f1ff,#f3f3ff,#f4f4ff,#f4f4ff,#f5f5ff,#f5f5ff,#f6f6ff,#f6f6ff,#f7f7ff,#f8f8ff,#f9f9ff,#fafaff,#fbfbff,#fcfcff,#fdfdff,#fefeff,#fefeff,#ffffff,#fffefe,#fffefe,#fffefe,#fffefe,#fffefe,#fffefe,#ffffff,#fefeff,#fefeff,#fdfdff,#fcfcff,#fbfbff,#fafaff,#f9f9ff,#f8f8ff,#f7f7ff,#f6f6ff,#f6f6ff,#f5f5ff,#f5f5ff,#f4f4ff,#f4f4ff,#f3f3ff,#f1f1ff,#ededff,#e8e8fe,#e1e1fe,#dbdbfe,#d9d9fe,#dcdcfe)"></div><div style="height:2px;background:linear-gradient(90deg,#ddddfe,#dadafe,#dedefe,#e4e4fe,#eaeafe,#efefff,#f2f2ff,#f3f3ff,#f4f4ff,#f5f5ff,#f5f5ff,#f6f6ff,#f6f6ff,#f7f7ff,#f8f8ff,#f9f9ff,#fafaff,#fbfbff,#fcfcff,#fdfdff,#fefeff,#fefeff,#ffffff,#fffefe,#fffefe,#fffefe,#fffefe,#fffefe,#fffefe,#ffffff,#fefeff,#fefeff,#fdfdff,#fcfcff,#fbfbff,#fafaff,#f9f9ff,#f8f8ff,#f7f7ff,#f6f6ff,#f6f6ff,#f5f5ff,#f5f5ff,#f4f4ff,#f3f3ff,#f2f2ff,#efefff,#eaeafe,#e4e4fe,#dedefe,#dadafe,#ddddfe,#e4e4fe)"></div><div style="height:2px;background:linear-gradient(90deg,#e6e6fe,#ddddfe,#dcdcfe,#e0e0fe,#e5e5fe,#ebebfe,#efefff,#f2f2ff,#f3f3ff,#f4f4ff,#f5f5ff,#f5f5ff,#f6f6ff,#f7f7ff,#f7f7ff,#f8f8ff,#f9f9ff,#fafaff,#fafaff,#fbfbff,#fcfcff,#fdfdff,#fdfdff,#fefeff,#fefeff,#fefeff,#fefeff,#fefeff,#fefeff,#fdfdff,#fdfdff,#fcfcff,#fbfbff,#fafaff,#fafaff,#f9f9ff,#f8f8ff,#f7f7ff,#f7f7ff,#f6f6ff,#f5f5ff,#f5f5ff,#f4f4ff,#f3f3ff,#f2f2ff,#efefff,#ebebfe,#e5e5fe,#e0e0fe,#dcdcfe,#ddddfe,#e6e6fe,#f0f0ff)"></div><div style="height:2px;background:linear-gradient(90deg,#f3f3ff,#e6e6fe,#dedefe,#ddddfe,#e0e0fe,#e5e5fe,#eaeafe,#efefff,#f1f1ff,#f3f3ff,#f4f4ff,#f5f5ff,#f5f5ff,#f6f6ff,#f6f6ff,#f7f7ff,#f7f7ff,#f8f8ff,#f9f9ff,#f9f9ff,#fafaff,#fafaff,#fbfbff,#fbfbff,#fbfbff,#fbfbff,#fbfbff,#fbfbff,#fbfbff,#fbfbff,#fafaff,#fafaff,#f9f9ff,#f9f9ff,#f8f8ff,#f7f7ff,#f7f7ff,#f6f6ff,#f6f6ff,#f5f5ff,#f5f5ff,#f4f4ff,#f3f3ff,#f1f1ff,#efefff,#eaeafe,#e5e5fe,#e0e0fe,#ddddfe,#dedefe,#e6e6fe,#f3f3ff,#fefafb)"></div><div style="height:2px;background:linear-gradient(90deg,#fef5f6,#f3f3ff,#e6e6fe,#dfdffe,#ddddfe,#e0e0fe,#e4e4fe,#e9e9fe,#ededff,#f0f0ff,#f2f2ff,#f3f3ff,#f4f4ff,#f5f5ff,#f5f5ff,#f5f5ff,#f6f6ff,#f6f6ff,#f7f7ff,#f7f7ff,#f7f7ff,#f8f8ff,#f8f8ff,#f8f8ff,#f8f8ff,#f8f8ff,#f8f8ff,#f8f8ff,#f8f8ff,#f8f8ff,#f8f8ff,#f7f7ff,#f7f7ff,#f7f7ff,#f6f6ff,#f6f6ff,#f5f5ff,#f5f5ff,#f5f5ff,#f4f4ff,#f3f3ff,#f2f2ff,#f0f0ff,#ededff,#e9e9fe,#e4e4fe,#e0e0fe,#ddddfe,#dfdffe,#e6e6fe,#f3f3ff,#fef5f6,#fee1e1)"></div><div style="height:2px;background:linear-gradient(90deg,#fedada,#fef6f6,#f4f4ff,#e8e8fe,#dfdffe,#dcdcfe,#dedefe,#e2e2fe,#e7e7fe,#ebebfe,#eeeeff,#f1f1ff,#f2f2ff,#f3f3ff,#f4f4ff,#f4f4ff,#f5f5ff,#f5f5ff,#f5f5ff,#f5f5ff,#f5f5ff,#f6f6ff,#f6f6ff,#f6f6ff,#f6f6ff,#f6f6ff,#f6f6ff,#f6f6ff,#f6f6ff,#f6f6ff,#f6f6ff,#f5f5ff,#f5f5ff,#f5f5ff,#f5f5ff,#f5f5ff,#f4f4ff,#f4f4ff,#f3f3ff,#f2f2ff,#f1f1ff,#eeeeff,#ebebfe,#e7e7fe,#e2e2fe,#dedefe,#dcdcfe,#dfdffe,#e8e8fe,#f4f4ff,#fef6f6,#fedada,#fec1c1)"></div><div style="height:2px;background:linear-gradient(90deg,#febcbc,#fedada,#fef5f5,#f6f6ff,#e9e9fe,#dfdffe,#dbdbfe,#dbdbfe,#dfdffe,#e3e3fe,#e8e8fe,#ebebfe,#eeeeff,#f0f0ff,#f2f2ff,#f3f3ff,#f3f3ff,#f4f4ff,#f4f4ff,#f4f4ff,#f4f4ff,#f4f4ff,#f4f4ff,#f4f4ff,#f5f5ff,#f5f5ff,#f5f5ff,#f5f5ff,#f4f4ff,#f4f4ff,#f4f4ff,#f4f4ff,#f4f4ff,#f4f4ff,#f4f4ff,#f3f3ff,#f3f3ff,#f2f2ff,#f0f0ff,#eeeeff,#ebebfe,#e8e8fe,#e3e3fe,#dfdffe,#dbdbfe,#dbdbfe,#dfdffe,#e9e9fe,#f6f6ff,#fef5f5,#fedada,#febcbc,#fdaeae)"></div><div style="height:2px;background:linear-gradient(90deg,#fdadad,#febbbb,#fed7d7,#fff3f3,#f8f8fe,#ebebfe,#e0e0fe,#dadafe,#d9d9fe,#dbdbfe,#dedefe,#e2e2fe,#e7e7fe,#eaeafe,#ededff,#efefff,#f1f1ff,#f2f2ff,#f2f2ff,#f3f3ff,#f3f3ff,#f3f3ff,#f3f3ff,#f4f4ff,#f4f4ff,#f4f4ff,#f4f4ff,#f4f4ff,#f4f4ff,#f3f3ff,#f3f3ff,#f3f3ff,#f3f3ff,#f2f2ff,#f2f2ff,#f1f1ff,#efefff,#ededff,#eaeafe,#e7e7fe,#e2e2fe,#dedefe,#dbdbfe,#d9d9fe,#dadafe,#e0e0fe,#ebebfe,#f8f8fe,#fff3f3,#fed7d7,#febbbb,#fdadad,#fdb0b0)"></div><div style="height:2px;background:linear-gradient(90deg,#fdb4b4,#fdadad,#fdb8b8,#fed2d2,#ffeded,#fbf9fd,#efefff,#e2e2fe,#dadafe,#d7d7fe,#d6d6fe,#d8d8fe,#dbdbfe,#e0e0fe,#e4e4fe,#e8e8fe,#eaeafe,#ededff,#eeeeff,#f0f0ff,#f1f1ff,#f1f1ff,#f2f2ff,#f2f2ff,#f2f2ff,#f2f2ff,#f2f2ff,#f2f2ff,#f2f2ff,#f2f2ff,#f1f1ff,#f1f1ff,#f0f0ff,#eeeeff,#ededff,#eaeafe,#e8e8fe,#e4e4fe,#e0e0fe,#dbdbfe,#d8d8fe,#d6d6fe,#d7d7fe,#dadafe,#e2e2fe,#efefff,#fbf9fd,#ffeded,#fed2d2,#fdb8b8,#fdadad,#fdb4b4,#fec1c1)"></div><div style="height:2px;background:linear-gradient(90deg,#fec8c8,#fdb6b6,#fdadad,#fdb4b4,#fecbcb,#fee5e5,#fdf8f9,#f4f4ff,#e7e7fe,#dcdcfe,#d5d5fe,#d1d1fe,#d1d1fe,#d3d3fe,#d6d6fe,#dadafe,#dedefe,#e2e2fe,#e5e5fe,#e7e7fe,#eaeafe,#ebebfe,#ededff,#ededff,#eeeeff,#eeeeff,#eeeeff,#eeeeff,#ededff,#ededff,#ebebfe,#eaeafe,#e7e7fe,#e5e5fe,#e2e2fe,#dedefe,#dadafe,#d6d6fe,#d3d3fe,#d1d1fe,#d1d1fe,#d5d5fe,#dcdcfe,#e7e7fe,#f4f4ff,#fdf8f9,#fee5e5,#fecbcb,#fdb4b4,#fdadad,#fdb6b6,#fec8c8,#fed8d8)"></div><div style="height:2px;background:linear-gradient(90deg,#fedfdf,#fecbcb,#feb9b9,#fdaeae,#fdb0b0,#fec2c2,#fedbdb,#fff1f1,#faf8fd,#eeeeff,#e1e1fe,#d6d6fe,#cfcffe,#cbcbfe,#cacafe,#ccccfe,#cecefe,#d1d1fe,#d5d5fe,#d8d8fe,#dbdbfe,#dedefe,#e0e0fe,#e2e2fe,#e3e3fe,#e4e4fe,#e4e4fe,#e3e3fe,#e2e2fe,#e0e0fe,#dedefe,#dbdbfe,#d8d8fe,#d5d5fe,#d1d1fe,#cecefe,#ccccfe,#cacafe,#cbcbfe,#cfcffe,#d6d6fe,#e1e1fe,#eeeeff,#faf8fd,#fff1f1,#fedbdb,#fec2c2,#fdb0b0,#fdaeae,#feb9b9,#fecbcb,#fedfdf,#ffebeb)"></div><div style="height:2px;background:linear-gradient(90deg,#fff0f0,#fee2e2,#fed0d0,#febebe,#fdb0b0,#fdadad,#fdb8b8,#fecdcd,#fee4e4,#fef6f6,#f7f7fe,#eaeafe,#ddddfe,#d2d2fe,#cacafe,#c5c5fd,#c2c2fd,#c2c2fd,#c3c3fd,#c4c4fd,#c7c7fd,#cacafe,#cdcdfe,#cfcffe,#d0d0fe,#d1d1fe,#d1d1fe,#d0d0fe,#cfcffe,#cdcdfe,#cacafe,#c7c7fd,#c4c4fd,#c3c3fd,#c2c2fd,#c2c2fd,#c5c5fd,#cacafe,#d2d2fe,#ddddfe,#eaeafe,#f7f7fe,#fef6f6,#fee4e4,#fecdcd,#fdb8b8,#fdadad,#fdb0b0,#febebe,#fed0d0,#fee2e2,#fff0f0,#fff7f7)"></div><div style="height:2px;background:linear-gradient(90deg,#fff9f9,#fff2f2,#fee6e6,#fed6d6,#fec4c4,#fdb5b5,#fdadad,#fdb0b0,#febebe,#fed3d3,#fee7e7,#fef6f7,#f7f6fe,#ebebfe,#dedefe,#d2d2fe,#c8c8fe,#c1c1fd,#bcbcfd,#b8b8fd,#b8b8fd,#b9b9fd,#bbbbfd,#bcbcfd,#bdbdfd,#bdbdfd,#bdbdfd,#bdbdfd,#bcbcfd,#bbbbfd,#b9b9fd,#b8b8fd,#b8b8fd,#bcbcfd,#c1c1fd,#c8c8fe,#d2d2fe,#dedefe,#ebebfe,#f7f6fe,#fef6f7,#fee7e7,#fed3d3,#febebe,#fdb0b0,#fdadad,#fdb5b5,#fec4c4,#fed6d6,#fee6e6,#fff2f2,#fff9f9,#fffcfc)"></div><div style="height:2px;background:linear-gradient(90deg,#fffdfd,#fffbfb,#fff5f5,#ffebeb,#fedddd,#fecdcd,#febdbd,#fdb1b1,#fdadad,#fdb2b2,#fec0c0,#fed2d2,#fee5e5,#fef4f4,#faf7fc,#f1f1ff,#e5e5fe,#dadafe,#cfcffe,#c6c6fd,#bfbffd,#bcbcfd,#babafd,#b9b9fd,#b8b8fd,#b8b8fd,#b8b8fd,#b8b8fd,#b9b9fd,#babafd,#bcbcfd,#bfbffd,#c6c6fd,#cfcffe,#dadafe,#e5e5fe,#f1f1ff,#faf7fc,#fef4f4,#fee5e5,#fed2d2,#fec0c0,#fdb2b2,#fdadad,#fdb1b1,#febdbd,#fecdcd,#fedddd,#ffebeb,#fff5f5,#fffbfb,#fffdfd,#fffefe)"></div><div style="height:2px;background:linear-gradient(90deg,#ffffff,#fffefe,#fffcfc,#fff8f8,#fff0f0,#fee5e5,#fed7d7,#fec8c8,#febaba,#fdb0b0,#fdadad,#fdb1b1,#febcbc,#fecbcb,#fedbdb,#ffe9e9,#fef4f5,#faf6fb,#f4f4ff,#ebebfe,#e3e3fe,#ddddfe,#d8d8fe,#d4d4fe,#d2d2fe,#d1d1fe,#d1d1fe,#d2d2fe,#d4d4fe,#d8d8fe,#ddddfe,#e3e3fe,#ebebfe,#f4f4ff,#faf6fb,#fef4f5,#ffe9e9,#fedbdb,#fecbcb,#febcbc,#fdb1b1,#fdadad,#fdb0b0,#febaba,#fec8c8,#fed7d7,#fee5e5,#fff0f0,#fff8f8,#fffcfc,#fffefe,#ffffff,#ffffff)"></div><div style="height:2px;background:linear-gradient(90deg,#ffffff,#ffffff,#fffefe,#fffdfd,#fffafa,#fff5f5,#ffeded,#fee1e1,#fed4d4,#fec6c6,#febaba,#fdb1b1,#fdadad,#fdaeae,#fdb5b5,#febfbf,#fecbcb,#fed7d7,#fee2e2,#ffebeb,#fff2f2,#fdf5f7,#fbf5f9,#f9f5fb,#f8f5fc,#f7f5fd,#f7f5fd,#f8f5fc,#f9f5fb,#fbf5f9,#fdf5f7,#fff2f2,#ffebeb,#fee2e2,#fed7d7,#fecbcb,#febfbf,#fdb5b5,#fdaeae,#fdadad,#fdb1b1,#febaba,#fec6c6,#fed4d4,#fee1e1,#ffeded,#fff5f5,#fffafa,#fffdfd,#fffefe,#ffffff,#ffffff,#ffffff)"></div><div style="height:2px;background:linear-gradient(90deg,#ffffff,#ffffff,#ffffff,#ffffff,#fffefe,#fffcfc,#fff9f9,#fff3f3,#ffebeb,#fee1e1,#fed5d5,#fec9c9,#febebe,#fdb5b5,#fdafaf,#fdadad,#fdaeae,#fdb2b2,#fdb8b8,#febfbf,#fec6c6,#fecccc,#fed1d1,#fed5d5,#fed8d8,#fed9d9,#fed9d9,#fed8d8,#fed5d5,#fed1d1,#fecccc,#fec6c6,#febfbf,#fdb8b8,#fdb2b2,#fdaeae,#fdadad,#fdafaf,#fdb5b5,#febebe,#fec9c9,#fed5d5,#fee1e1,#ffebeb,#fff3f3,#fff9f9,#fffcfc,#fffefe,#ffffff,#ffffff,#ffffff,#ffffff,#ffffff)"></div><div style="height:2px;background:linear-gradient(90deg,#ffffff,#ffffff,#ffffff,#ffffff,#ffffff,#fffefe,#fffdfd,#fffcfc,#fff8f8,#fff4f4,#ffeded,#fee4e4,#fedada,#fed0d0,#fec6c6,#febdbd,#fdb7b7,#fdb2b2,#fdafaf,#fdadad,#fdadad,#fdaeae,#fdafaf,#fdb1b1,#fdb2b2,#fdb2b2,#fdb2b2,#fdb2b2,#fdb1b1,#fdafaf,#fdaeae,#fdadad,#fdadad,#fdafaf,#fdb2b2,#fdb7b7,#febdbd,#fec6c6,#fed0d0,#fedada,#fee4e4,#ffeded,#fff4f4,#fff8f8,#fffcfc,#fffdfd,#fffefe,#ffffff,#ffffff,#ffffff,#ffffff,#ffffff,#ffffff)"></div><div style="height:2px;background:linear-gradient(90deg,#ffffff,#ffffff,#ffffff,#ffffff,#ffffff,#ffffff,#ffffff,#fffefe,#fffdfd,#fffcfc,#fff9f9,#fff5f5,#fff0f0,#ffeaea,#fee2e2,#fedada,#fed2d2,#fecbcb,#fec5c5,#febfbf,#febbbb,#fdb7b7,#fdb5b5,#fdb3b3,#fdb2b2,#fdb2b2,#fdb2b2,#fdb2b2,#fdb3b3,#fdb5b5,#fdb7b7,#febbbb,#febfbf,#fec5c5,#fecbcb,#fed2d2,#fedada,#fee2e2,#ffeaea,#fff0f0,#fff5f5,#fff9f9,#fffcfc,#fffdfd,#fffefe,#ffffff,#ffffff,#ffffff,#ffffff,#ffffff,#ffffff,#ffffff,#ffffff)"></div><div style="height:2px;background:linear-gradient(90deg,#ffffff,#ffffff,#ffffff,#ffffff,#ffffff,#ffffff,#ffffff,#ffffff,#ffffff,#fffefe,#fffefe,#fffdfd,#fffbfb,#fff8f8,#fff5f5,#fff1f1,#ffecec,#fee7e7,#fee2e2,#fedddd,#fed8d8,#fed4d4,#fed1d1,#fecfcf,#fecdcd,#fecccc,#fecccc,#fecdcd,#fecfcf,#fed1d1,#fed4d4,#fed8d8,#fedddd,#fee2e2,#fee7e7,#ffecec,#fff1f1,#fff5f5,#fff8f8,#fffbfb,#fffdfd,#fffefe,#fffefe,#ffffff,#ffffff,#ffffff,#ffffff,#ffffff,#ffffff,#ffffff,#ffffff,#ffffff,#ffffff)"></div><div style="height:2px;background:linear-gradient(90deg,#ffffff,#ffffff,#ffffff,#ffffff,#ffffff,#ffffff,#ffffff,#ffffff,#ffffff,#ffffff,#ffffff,#ffffff,#fffefe,#fffdfd,#fffcfc,#fffbfb,#fff9f9,#fff7f7,#fff5f5,#fff2f2,#fff0f0,#ffeeee,#ffebeb,#ffeaea,#ffe9e9,#ffe8e8,#ffe8e8,#ffe9e9,#ffeaea,#ffebeb,#ffeeee,#fff0f0,#fff2f2,#fff5f5,#fff7f7,#fff9f9,#fffbfb,#fffcfc,#fffdfd,#fffefe,#ffffff,#ffffff,#ffffff,#ffffff,#ffffff,#ffffff,#ffffff,#ffffff,#ffffff,#ffffff,#ffffff,#ffffff,#ffffff)"></div><div style="height:1px;background:linear-gradient(90deg,#ffffff,#ffffff,#ffffff,#ffffff,#ffffff,#ffffff,#ffffff,#ffffff,#ffffff,#ffffff,#ffffff,#ffffff,#ffffff,#ffffff,#fffefe,#fffefe,#fffdfd,#fffdfd,#fffcfc,#fffbfb,#fff9f9,#fff8f8,#fff7f7,#fff7f7,#fff6f6,#fff6f6,#fff6f6,#fff6f6,#fff7f7,#fff7f7,#fff8f8,#fff9f9,#fffbfb,#fffcfc,#fffdfd,#fffdfd,#fffefe,#fffefe,#ffffff,#ffffff,#ffffff,#ffffff,#ffffff,#ffffff,#ffffff,#ffffff,#ffffff,#ffffff,#ffffff,#ffffff,#ffffff,#ffffff,#ffffff)"></div></div><div style="position:absolute;left:74px;top:157px;width:105px;height:105px"><div style="height:2px;background:linear-gradient(90deg,#fffcfc,#fffcfc,#fffcfc,#fffcfc,#fffcfc,#fffcfc,#fffcfc,#fffcfc,#fffcfc,#fffcfc,#fffcfc,#fffcfc,#fffcfc,#fffcfc,#fffcfc,#fffcfc,#fffcfc,#fffcfc,#fffcfc,#fffcfc,#fffcfc,#fffcfc,#fffcfc,#fffcfc,#fffcfc,#fffcfc,#fffcfc,#fffcfc,#fffcfc,#fffcfc,#fffcfc,#fffcfc,#fffcfc,#fffcfc,#fffcfc,#fffcfc,#fffcfc,#fffcfc,#fffcfc,#fffcfc,#fffcfc,#fffcfc,#fffcfc,#fffcfc,#fffcfc,#fffcfc,#fffcfc,#fffcfc,#fffcfc,#fffcfc,#fffcfc,#fffcfc,#fffcfc)"></div><div style="height:2px;background:linear-gradient(90deg,#fffcfc,#fffcfc,#fffcfc,#fffcfc,#fffcfc,#fffcfc,#fffcfc,#fffcfc,#fffcfc,#fffcfc,#fffcfc,#fffcfc,#fffcfc,#fffcfc,#fffcfc,#fffcfc,#fffcfc,#fffcfc,#fffcfc,#fffcfc,#fffcfc,#fffcfc,#fffcfc,#fffcfc,#fffcfc,#fffcfc,#fffcfc,#fffcfc,#fffcfc,#fffcfc,#fffcfc,#fffcfc,#fffcfc,#fffcfc,#fffcfc,#fffcfc,#fffcfc,#fffcfc,#fffcfc,#fffcfc,#fffcfc,#fffcfc,#fffcfc,#fffcfc,#fffcfc,#fffcfc,#fffcfc,#fffcfc,#fffcfc,#fffcfc,#fffcfc,#fffcfc,#fffcfc)"></div><div style="height:2px;background:linear-gradient(90deg,#fffcfc,#fffcfc,#fffcfc,#fffcfc,#fffcfc,#fffcfc,#fffcfc,#fffcfc,#fffcfc,#fffcfc,#fffcfc,#fffcfc,#fffcfc,#fffcfc,#fffcfc,#fffcfc,#fffcfc,#fffcfc,#fffcfc,#fffcfc,#fffcfc,#fffcfc,#fffcfc,#fffcfc,#fffcfc,#fffcfc,#fffcfc,#fffcfc,#fffcfc,#fffcfc,#fffcfc,#fffcfc,#fffcfc,#fffcfc,#fffcfc,#fffcfc,#fffcfc,#fffcfc,#fffcfc,#fffcfc,#fffcfc,#fffcfc,#fffcfc,#fffcfc,#fffcfc,#fffcfc,#fffcfc,#fffcfc,#fffcfc,#fffcfc,#fffcfc,#fffcfc,#fffcfc)"></div><div style="height:2px;background:linear-gradient(90deg,#fffcfc,#fffcfc,#fffcfc,#fffcfc,#fffcfc,#fffcfc,#fffcfc,#fffcfc,#fffcfc,#fffcfc,#fffcfc,#fffcfc,#fffcfc,#fffcfc,#fffcfc,#fffcfc,#fffcfc,#fffcfc,#fffcfc,#fffcfc,#fffcfc,#fffcfc,#fffcfc,#fffcfc,#fffcfc,#fffcfc,#fffcfc,#fffcfc,#fffcfc,#fffcfc,#fffcfc,#fffcfc,#fffcfc,#fffcfc,#fffcfc,#fffcfc,#fffcfc,#fffcfc,#fffcfc,#fffcfc,#fffcfc,#fffcfc,#fffcfc,#fffcfc,#fffcfc,#fffcfc,#fffcfc,#fffcfc,#fffcfc,#fffcfc,#fffcfc,#fffcfc,#fffcfc)"></div><div style="height:2px;background:linear-gradient(90deg,#fffcfc,#fffcfc,#fffcfc,#fffcfc,#fffcfc,#fffcfc,#fffcfc,#fffcfc,#fffcfc,#fffcfc,#fffcfc,#fffcfc,#fffcfc,#fffcfc,#fffcfc,#fffcfc,#fffcfc,#fffcfc,#fffcfc,#fffcfc,#fffcfc,#fffcfc,#fffcfc,#fffcfc,#fffcfc,#fffcfc,#fffcfc,#fffcfc,#fffcfc,#fffcfc,#fffcfc,#fffcfc,#fffcfc,#fffcfc,#fffcfc,#fffcfc,#fffcfc,#fffcfc,#fffcfc,#fffcfc,#fffcfc,#fffcfc,#fffcfc,#fffcfc,#fffcfc,#fffcfc,#fffcfc,#fffcfc,#fffcfc,#fffcfc,#fffcfc,#fffcfc,#fffcfc)"></div><div style="height:2px;background:linear-gradient(90deg,#fffcfc,#fffcfc,#fffcfc,#fffcfc,#fffcfc,#fffcfc,#fffcfc,#fffcfc,#fffcfc,#fffcfc,#fffcfc,#fffcfc,#fffcfc,#fffcfc,#fffcfc,#fffcfc,#fffcfc,#fffcfc,#fffcfc,#fffcfc,#fffcfc,#fffcfc,#fffcfc,#fffcfc,#fffcfc,#fffcfc,#fffcfc,#fffcfc,#fffcfc,#fffcfc,#fffcfc,#fffcfc,#fffcfc,#fffcfc,#fffcfc,#fffcfc,#fffcfc,#fffcfc,#fffcfc,#fffcfc,#fffcfc,#fffcfc,#fffcfc,#fffcfc,#fffcfc,#fffcfc,#fffcfc,#fffcfc,#fffcfc,#fffcfc,#fffcfc,#fffcfc,#fffcfc)"></div><div style="height:2px;background:linear-gradient(90deg,#fffcfc,#fffcfc,#fffcfc,#fffcfc,#fffcfc,#fffcfc,#fffcfc,#fffcfc,#fffcfc,#fffcfc,#fffcfc,#fffcfc,#fffcfc,#fffcfc,#fffcfc,#fffcfc,#fffcfc,#fffcfc,#fffcfc,#fffcfc,#fffcfc,#fffcfc,#fffcfc,#fffcfc,#fffcfc,#fffcfc,#fffcfc,#fffcfc,#fffcfc,#fffcfc,#fffcfc,#fffcfc,#fffcfc,#fffcfc,#fffcfc,#fffcfc,#fffcfc,#fffcfc,#fffcfc,#fffcfc,#fffcfc,#fffcfc,#fffcfc,#fffcfc,#fffcfc,#fffcfc,#fffcfc,#fffcfc,#fffcfc,#fffcfc,#fffcfc,#fffcfc,#fffcfc)"></div><div style="height:2px;background:linear-gradient(90deg,#fffcfc,#fffcfc,#fffcfc,#fffcfc,#fffcfc,#fffcfc,#fffcfc,#fffcfc,#fffcfc,#fffcfc,#fffcfc,#fffcfc,#fffcfc,#fffcfc,#fffcfc,#fffcfc,#fffcfc,#fffcfc,#fffcfc,#fffcfc,#fffcfc,#fffcfc,#fffcfc,#fffcfc,#fffcfc,#fffcfc,#fffcfc,#fffcfc,#fffcfc,#fffcfc,#fffcfc,#fffcfc,#fffcfc,#fffcfc,#fffcfc,#fffcfc,#fffcfc,#fffcfc,#fffcfc,#fffcfc,#fffcfc,#fffcfc,#fffcfc,#fffcfc,#fffcfc,#fffcfc,#fffcfc,#fffcfc,#fffcfc,#fffcfc,#fffcfc,#fffcfc,#fffcfc)"></div><div style="height:2px;background:linear-gradient(90deg,#fffcfc,#fffcfc,#fffcfc,#fffcfc,#fffcfc,#fffcfc,#fffcfc,#fffcfc,#fffcfc,#fffcfc,#fffcfc,#fffcfc,#fffcfc,#fffcfc,#fffcfc,#fffcfc,#fffcfc,#fffcfc,#fffcfc,#fffcfc,#fffcfc,#fffcfc,#fffcfc,#fffcfc,#fffcfc,#fffcfc,#fffcfc,#fffcfc,#fffcfc,#fffcfc,#fffcfc,#fffcfc,#fffcfc,#fffcfc,#fffcfc,#fffcfc,#fffcfc,#fffcfc,#fffcfc,#fffcfc,#fffcfc,#fffcfc,#fffcfc,#fffcfc,#fffcfc,#fffcfc,#fffcfc,#fffcfc,#fffcfc,#fffcfc,#fffcfc,#fffcfc,#fffcfc)"></div><div style="height:2px;background:linear-gradient(90deg,#fffcfc,#fffcfc,#fffcfc,#fffcfc,#fffcfc,#fffcfc,#fffcfc,#fffcfc,#fffcfc,#fffcfc,#fffcfc,#fffcfc,#fffcfc,#fffcfc,#fffcfc,#fffcfc,#fffcfc,#fffcfc,#fffcfc,#fffcfc,#fffcfc,#fffcfc,#fffcfc,#fffcfc,#fffcfc,#fffcfc,#fffcfc,#fffcfc,#fffcfc,#fffcfc,#fffcfc,#fffcfc,#fffcfc,#fffcfc,#fffcfc,#fffcfc,#fffcfc,#fffcfc,#fffcfc,#fffcfc,#fffcfc,#fffcfc,#fffcfc,#fffcfc,#fffcfc,#fffcfc,#fffcfc,#fffcfc,#fffcfc,#fffcfc,#fffcfc,#fffcfc,#fffcfc)"></div><div style="height:2px;background:linear-gradient(90deg,#fffcfc,#fffcfc,#fffcfc,#fffcfc,#fffcfc,#fffcfc,#fffcfc,#fffcfc,#fffcfc,#fffcfc,#fffcfc,#fffcfc,#fffcfc,#fffcfc,#fffcfc,#fffcfc,#fffcfc,#fffcfc,#fffcfc,#fffcfc,#fffcfc,#fffcfc,#fffcfc,#fffcfc,#fffcfc,#fffcfc,#fffcfc,#fffcfc,#fffcfc,#fffcfc,#fffcfc,#fffcfc,#fffcfc,#fffcfc,#fffcfc,#fffcfc,#fffcfc,#fffcfc,#fffcfc,#fffcfc,#fffcfc,#fffcfc,#fffcfc,#fffcfc,#fffcfc,#fffcfc,#fffcfc,#fffcfc,#fffcfc,#fffcfc,#fffcfc,#fffcfc,#fffcfc)"></div><div style="height:2px;background:linear-gradient(90deg,#fffcfc,#fffcfc,#fffcfc,#fffcfc,#fffcfc,#fffcfc,#fffcfc,#fffcfc,#fffcfc,#fffcfc,#fffcfc,#fffcfc,#fffcfc,#fffcfc,#fffcfc,#fffcfc,#fffcfc,#fffcfc,#fffcfc,#fffcfc,#fffcfc,#fffcfc,#fffcfc,#fffcfc,#fffcfc,#fffcfc,#fffcfc,#fffcfc,#fffcfc,#fffcfc,#fffcfc,#fffcfc,#fffcfc,#fffcfc,#fffcfc,#fffcfc,#fffcfc,#fffcfc,#fffcfc,#fffcfc,#fffcfc,#fffcfc,#fffcfc,#fffcfc,#fffcfc,#fffcfc,#fffcfc,#fffcfc,#fffcfc,#fffcfc,#fffcfc,#fffcfc,#fffcfc)"></div><div style="height:2px;background:linear-gradient(90deg,#fffcfc,#fffcfc,#fffcfc,#fffcfc,#fffcfc,#fffcfc,#fffcfc,#fffcfc,#fffcfc,#fffcfc,#fffcfc,#fffcfc,#fffcfc,#fffcfc,#fffcfc,#fffcfc,#fffcfc,#fffcfc,#fffcfc,#fffcfc,#fffcfc,#fffcfc,#fffcfc,#fffcfc,#fffcfc,#fffcfc,#fffcfc,#fffcfc,#fffcfc,#fffcfc,#fffcfc,#fffcfc,#fffcfc,#fffcfc,#fffcfc,#fffcfc,#fffcfc,#fffcfc,#fffcfc,#fffcfc,#fffcfc,#fffcfc,#fffcfc,#fffcfc,#fffcfc,#fffcfc,#fffcfc,#fffcfc,#fffcfc,#fffcfc,#fffcfc,#fffcfc,#fffcfc)"></div><div style="height:2px;background:linear-gradient(90deg,#fffcfc,#fffcfc,#fffcfc,#fffcfc,#fffcfc,#fffcfc,#fffcfc,#fffcfc,#fffcfc,#fffcfc,#fffcfc,#fffcfc,#fffcfc,#fffcfc,#fffcfc,#fffcfc,#fffcfc,#fffcfc,#fffcfc,#fffcfc,#fffcfc,#fffcfc,#fffcfc,#fffcfc,#fffcfc,#fffcfc,#fffcfc,#fffcfc,#fffcfc,#fffcfc,#fffcfc,#fffcfc,#fffcfc,#fffcfc,#fffcfc,#fffcfc,#fffcfc,#fffcfc,#fffcfc,#fffcfc,#fffcfc,#fffcfc,#fffcfc,#fffcfc,#fffcfc,#fffcfc,#fffcfc,#fffcfc,#fffcfc,#fffcfc,#fffcfc,#fffcfc,#fffcfc)"></div><div style="height:2px;background:linear-gradient(90deg,#fffcfc,#fffcfc,#fffcfc,#fffcfc,#fffcfc,#fffcfc,#fffcfc,#fffcfc,#fffcfc,#fffcfc,#fffcfc,#fffcfc,#fffcfc,#fffcfc,#fffcfc,#fffcfc,#fffcfc,#fffcfc,#fffcfc,#fffcfc,#fffcfc,#fffcfc,#fffcfc,#fffcfc,#fffcfc,#fffcfc,#fffcfc,#fffcfc,#fffcfc,#fffcfc,#fffcfc,#fffcfc,#fffcfc,#fffcfc,#fffcfc,#fffcfc,#fffcfc,#fffcfc,#fffcfc,#fffcfc,#fffcfc,#fffcfc,#fffcfc,#fffcfc,#fffcfc,#fffcfc,#fffcfc,#fffcfc,#fffcfc,#fffcfc,#fffcfc,#fffcfc,#fffcfc)"></div><div style="height:2px;background:linear-gradient(90deg,#fffcfc,#fffcfc,#fffcfc,#fffcfc,#fffcfc,#fffcfc,#fffcfc,#fffcfc,#fffcfc,#fffcfc,#fffcfc,#fffcfc,#fffcfc,#fffcfc,#fffcfc,#fffcfc,#fffcfc,#fffcfc,#fffcfc,#fffcfc,#fffcfc,#fffcfc,#fffcfc,#fffcfc,#fffcfc,#fffbfb,#fffbfb,#fffbfb,#fffcfc,#fffcfc,#fffcfc,#fffcfc,#fffcfc,#fffcfc,#fffcfc,#fffcfc,#fffcfc,#fffcfc,#fffcfc,#fffcfc,#fffcfc,#fffcfc,#fffcfc,#fffcfc,#fffcfc,#fffcfc,#fffcfc,#fffcfc,#fffcfc,#fffcfc,#fffcfc,#fffcfc,#fffcfc)"></div><div style="height:2px;background:linear-gradient(90deg,#fffcfc,#fffcfc,#fffcfc,#fffcfc,#fffcfc,#fffcfc,#fffcfc,#fffcfc,#fffcfc,#fffcfc,#fffcfc,#fffcfc,#fffcfc,#fffcfc,#fffcfc,#fffcfc,#fffcfc,#fffcfc,#fffcfc,#fffcfc,#fffcfc,#fffcfc,#fffbfb,#fffbfb,#fffbfb,#fffbfb,#fffafa,#fffbfb,#fffbfb,#fffbfb,#fffbfb,#fffcfc,#fffcfc,#fffcfc,#fffcfc,#fffcfc,#fffcfc,#fffcfc,#fffcfc,#fffcfc,#fffcfc,#fffcfc,#fffcfc,#fffcfc,#fffcfc,#fffcfc,#fffcfc,#fffcfc,#fffcfc,#fffcfc,#fffcfc,#fffcfc,#fffcfc)"></div><div style="height:2px;background:linear-gradient(90deg,#fffcfc,#fffcfc,#fffcfc,#fffcfc,#fffcfc,#fffcfc,#fffcfc,#fffcfc,#fffcfc,#fffcfc,#fffcfc,#fffcfc,#fffcfc,#fffcfc,#fffcfc,#fffcfc,#fffcfc,#fffcfc,#fffcfc,#fffcfc,#fffbfb,#fffbfb,#fffafa,#fff9f9,#fff8f8,#fff8f8,#fff8f8,#fff8f8,#fff9f9,#fffafa,#fffafa,#fffbfb,#fffbfb,#fffcfc,#fffcfc,#fffcfc,#fffcfc,#fffcfc,#fffcfc,#fffcfc,#fffcfc,#fffcfc,#fffcfc,#fffcfc,#fffcfc,#fffcfc,#fffcfc,#fffcfc,#fffcfc,#fffcfc,#fffcfc,#fffcfc,#fffcfc)"></div><div style="height:2px;background:linear-gradient(90deg,#fffcfc,#fffcfc,#fffcfc,#fffcfc,#fffcfc,#fffcfc,#fffcfc,#fffcfc,#fffcfc,#fffcfc,#fffcfc,#fffcfc,#fffcfc,#fffcfc,#fffcfc,#fffcfc,#fffcfc,#fffcfc,#fffcfc,#fffbfb,#fffafa,#fff9f9,#fff7f7,#fff5f5,#fff2f2,#fff0f0,#fff0f0,#fff1f1,#fff3f3,#fff6f6,#fff8f8,#fffafa,#fffbfb,#fffbfb,#fffcfc,#fffcfc,#fffcfc,#fffcfc,#fffcfc,#fffcfc,#fffcfc,#fffcfc,#fffcfc,#fffcfc,#fffcfc,#fffcfc,#fffcfc,#fffcfc,#fffcfc,#fffcfc,#fffcfc,#fffcfc,#fffcfc)"></div><div style="height:2px;background:linear-gradient(90deg,#fffcfc,#fffcfc,#fffcfc,#fffcfc,#fffcfc,#fffcfc,#fffcfc,#fffcfc,#fffcfc,#fffcfc,#fffcfc,#fffcfc,#fffcfc,#fffcfc,#fffcfc,#fffcfc,#fffcfc,#fffcfc,#fffbfb,#fffafa,#fff8f8,#fff5f5,#fff0f0,#ffeaea,#fee4e4,#fee0e0,#fedfdf,#fee1e1,#fee6e6,#ffecec,#fff2f2,#fff7f7,#fff9f9,#fffbfb,#fffbfb,#fffcfc,#fffcfc,#fffcfc,#fffcfc,#fffcfc,#fffcfc,#fffcfc,#fffcfc,#fffcfc,#fffcfc,#fffcfc,#fffcfc,#fffcfc,#fffcfc,#fffcfc,#fffcfc,#fffcfc,#fffcfc)"></div><div style="height:2px;background:linear-gradient(90deg,#fffcfc,#fffcfc,#fffcfc,#fffcfc,#fffcfc,#fffcfc,#fffcfc,#fffcfc,#fffcfc,#fffcfc,#fffcfc,#fffcfc,#fffcfc,#fffcfc,#fffcfc,#fffcfc,#fffcfc,#fffbfb,#fffafa,#fff8f8,#fff4f4,#ffeded,#fee2e2,#fed5d5,#fec8c8,#febfbf,#febdbd,#fec2c2,#fecdcd,#fedbdb,#fee7e7,#fff0f0,#fff6f6,#fff9f9,#fffbfb,#fffcfc,#fffcfc,#fffcfc,#fffcfc,#fffcfc,#fffcfc,#fffcfc,#fffcfc,#fffcfc,#fffcfc,#fffcfc,#fffcfc,#fffcfc,#fffcfc,#fffcfc,#fffcfc,#fffcfc,#fffcfc)"></div><div style="height:2px;background:linear-gradient(90deg,#fffcfc,#fffcfc,#fffcfc,#fffcfc,#fffcfc,#fffcfc,#fffcfc,#fffcfc,#fffcfc,#fffcfc,#fffcfc,#fffcfc,#fffcfc,#fffcfc,#fffcfc,#fffcfc,#fffcfc,#fffbfb,#fff9f9,#fff5f5,#ffeeee,#fee0e0,#fecccc,#fdb3b3,#fd9a9a,#fc8989,#fc8484,#fd8e8e,#fda4a4,#febdbd,#fed5d5,#fee6e6,#fff1f1,#fff7f7,#fffafa,#fffbfb,#fffcfc,#fffcfc,#fffcfc,#fffcfc,#fffcfc,#fffcfc,#fffcfc,#fffcfc,#fffcfc,#fffcfc,#fffcfc,#fffcfc,#fffcfc,#fffcfc,#fffcfc,#fffcfc,#fffcfc)"></div><div style="height:2px;background:linear-gradient(90deg,#fffcfc,#fffcfc,#fffcfc,#fffcfc,#fffcfc,#fffcfc,#fffcfc,#fffcfc,#fffcfc,#fffcfc,#fffcfc,#fffcfc,#fffcfc,#fffcfc,#fffcfc,#fffcfc,#fffbfb,#fffafa,#fff8f8,#fff1f1,#fee4e4,#fecdcd,#fdacac,#fc8282,#fb5959,#fb3c3c,#fb3434,#fb4545,#fc6969,#fd9393,#febaba,#fed8d8,#ffeaea,#fff4f4,#fff9f9,#fffbfb,#fffcfc,#fffcfc,#fffcfc,#fffcfc,#fffcfc,#fffcfc,#fffcfc,#fffcfc,#fffcfc,#fffcfc,#fffcfc,#fffcfc,#fffcfc,#fffcfc,#fffcfc,#fffcfc,#fffcfc)"></div><div style="height:2px;background:linear-gradient(90deg,#fffcfc,#fffcfc,#fffcfc,#fffcfc,#fffcfc,#fffcfc,#fffcfc,#fffcfc,#fffcfc,#fffcfc,#fffcfc,#fffcfc,#fffcfc,#fffcfc,#fffcfc,#fffcfc,#fffbfb,#fffafa,#fff6f6,#ffecec,#fed9d9,#fdb7b7,#fc8686,#fb4949,#f71212,#e90202,#e40202,#ef0505,#fa2323,#fc6262,#fd9b9b,#fec7c7,#fee2e2,#fff1f1,#fff8f8,#fffafa,#fffbfb,#fffcfc,#fffcfc,#fffcfc,#fffcfc,#fffcfc,#fffcfc,#fffcfc,#fffcfc,#fffcfc,#fffcfc,#fffcfc,#fffcfc,#fffcfc,#fffcfc,#fffcfc,#fffcfc)"></div><div style="height:2px;background:linear-gradient(90deg,#fffcfc,#fffcfc,#fffcfc,#fffcfc,#fffcfc,#fffcfc,#fffcfc,#fffcfc,#fffcfc,#fffcfc,#fffcfc,#fffcfc,#fffcfc,#fffcfc,#fffcfc,#fffcfc,#fffbfb,#fff9f9,#fff4f4,#fee7e7,#fecece,#fda3a3,#fc6363,#f81818,#db0202,#c00202,#b90202,#c90202,#ea0202,#fb3434,#fc7f7f,#fdb7b7,#fedada,#ffeded,#fff6f6,#fffafa,#fffbfb,#fffcfc,#fffcfc,#fffcfc,#fffcfc,#fffcfc,#fffcfc,#fffcfc,#fffcfc,#fffcfc,#fffcfc,#fffcfc,#fffcfc,#fffcfc,#fffcfc,#fffcfc,#fffcfc)"></div><div style="height:2px;background:linear-gradient(90deg,#fffcfc,#fffcfc,#fffcfc,#fffcfc,#fffcfc,#fffcfc,#fffcfc,#fffcfc,#fffcfc,#fffcfc,#fffcfc,#fffcfc,#fffcfc,#fffcfc,#fffcfc,#fffcfc,#fffbfb,#fff9f9,#fff3f3,#fee4e4,#fec8c8,#fd9696,#fb4d4d,#f00606,#c60202,#a60202,#9e0101,#b10202,#d70202,#f91919,#fc6d6d,#fdadad,#fed6d6,#ffebeb,#fff6f6,#fffafa,#fffbfb,#fffcfc,#fffcfc,#fffcfc,#fffcfc,#fffcfc,#fffcfc,#fffcfc,#fffcfc,#fffcfc,#fffcfc,#fffcfc,#fffcfc,#fffcfc,#fffcfc,#fffcfc,#fffcfc)"></div><div style="height:2px;background:linear-gradient(90deg,#fffcfc,#fffcfc,#fffcfc,#fffcfc,#fffcfc,#fffcfc,#fffcfc,#fffcfc,#fffcfc,#fffcfc,#fffcfc,#fffcfc,#fffcfc,#fffcfc,#fffcfc,#fffcfc,#fffbfb,#fff9f9,#fff3f3,#fee4e4,#fec8c8,#fd9696,#fb4c4c,#f00505,#c50202,#a50202,#9d0101,#af0202,#d60202,#f91818,#fc6c6c,#fdadad,#fed5d5,#ffebeb,#fff6f6,#fffafa,#fffbfb,#fffcfc,#fffcfc,#fffcfc,#fffcfc,#fffcfc,#fffcfc,#fffcfc,#fffcfc,#fffcfc,#fffcfc,#fffcfc,#fffcfc,#fffcfc,#fffcfc,#fffcfc,#fffcfc)"></div><div style="height:2px;background:linear-gradient(90deg,#fffcfc,#fffcfc,#fffcfc,#fffcfc,#fffcfc,#fffcfc,#fffcfc,#fffcfc,#fffcfc,#fffcfc,#fffcfc,#fffcfc,#fffcfc,#fffcfc,#fffcfc,#fffcfc,#fffbfb,#fff9f9,#fff4f4,#fee7e7,#fecece,#fda1a1,#fc6060,#f81414,#d90202,#bd0202,#b50202,#c60202,#e80202,#fb3131,#fc7d7d,#fdb6b6,#fedada,#ffeded,#fff6f6,#fffafa,#fffbfb,#fffcfc,#fffcfc,#fffcfc,#fffcfc,#fffcfc,#fffcfc,#fffcfc,#fffcfc,#fffcfc,#fffcfc,#fffcfc,#fffcfc,#fffcfc,#fffcfc,#fffcfc,#fffcfc)"></div><div style="height:2px;background:linear-gradient(90deg,#fffcfc,#fffcfc,#fffcfc,#fffcfc,#fffcfc,#fffcfc,#fffcfc,#fffcfc,#fffcfc,#fffcfc,#fffcfc,#fffcfc,#fffcfc,#fffcfc,#fffcfc,#fffcfc,#fffbfb,#fffafa,#fff5f5,#ffecec,#fed8d8,#fdb5b5,#fc8282,#fb4343,#f60d0d,#e50202,#df0202,#ec0303,#f91e1e,#fc5d5d,#fd9898,#fec5c5,#fee1e1,#fff0f0,#fff8f8,#fffafa,#fffbfb,#fffcfc,#fffcfc,#fffcfc,#fffcfc,#fffcfc,#fffcfc,#fffcfc,#fffcfc,#fffcfc,#fffcfc,#fffcfc,#fffcfc,#fffcfc,#fffcfc,#fffcfc,#fffcfc)"></div><div style="height:2px;background:linear-gradient(90deg,#fffcfc,#fffcfc,#fffcfc,#fffcfc,#fffcfc,#fffcfc,#fffcfc,#fffcfc,#fffcfc,#fffcfc,#fffcfc,#fffcfc,#fffcfc,#fffcfc,#fffcfc,#fffcfc,#fffbfb,#fffafa,#fff7f7,#fff1f1,#fee3e3,#fecbcb,#fda8a8,#fc7d7d,#fb5252,#fb3333,#fb2b2b,#fb3d3d,#fc6262,#fd8e8e,#fdb7b7,#fed6d6,#ffe9e9,#fff4f4,#fff9f9,#fffbfb,#fffcfc,#fffcfc,#fffcfc,#fffcfc,#fffcfc,#fffcfc,#fffcfc,#fffcfc,#fffcfc,#fffcfc,#fffcfc,#fffcfc,#fffcfc,#fffcfc,#fffcfc,#fffcfc,#fffcfc)"></div><div style="height:2px;background:linear-gradient(90deg,#fffcfc,#fffcfc,#fffcfc,#fffcfc,#fffcfc,#fffcfc,#fffcfc,#fffcfc,#fffcfc,#fffcfc,#fffcfc,#fffcfc,#fffcfc,#fffcfc,#fffcfc,#fffcfc,#fffcfc,#fffbfb,#fff9f9,#fff5f5,#ffeded,#fedede,#fec9c9,#fdafaf,#fd9595,#fc8282,#fc7d7d,#fc8888,#fd9e9e,#feb9b9,#fed2d2,#fee5e5,#fff1f1,#fff7f7,#fffafa,#fffbfb,#fffcfc,#fffcfc,#fffcfc,#fffcfc,#fffcfc,#fffcfc,#fffcfc,#fffcfc,#fffcfc,#fffcfc,#fffcfc,#fffcfc,#fffcfc,#fffcfc,#fffcfc,#fffcfc,#fffcfc)"></div><div style="height:2px;background:linear-gradient(90deg,#fffcfc,#fffcfc,#fffcfc,#fffcfc,#fffcfc,#fffcfc,#fffcfc,#fffcfc,#fffcfc,#fffcfc,#fffcfc,#fffcfc,#fffcfc,#fffcfc,#fffcfc,#fffcfc,#fffcfc,#fffbfb,#fffafa,#fff8f8,#fff4f4,#ffecec,#fee1e1,#fed3d3,#fec5c5,#febbbb,#fdb8b8,#febebe,#fecaca,#fed8d8,#fee6e6,#fff0f0,#fff6f6,#fff9f9,#fffbfb,#fffcfc,#fffcfc,#fffcfc,#fffcfc,#fffcfc,#fffcfc,#fffcfc,#fffcfc,#fffcfc,#fffcfc,#fffcfc,#fffcfc,#fffcfc,#fffcfc,#fffcfc,#fffcfc,#fffcfc,#fffcfc)"></div><div style="height:2px;background:linear-gradient(90deg,#fffcfc,#fffcfc,#fffcfc,#fffcfc,#fffcfc,#fffcfc,#fffcfc,#fffcfc,#fffcfc,#fffcfc,#fffcfc,#fffcfc,#fffcfc,#fffcfc,#fffcfc,#fffcfc,#fffcfc,#fffcfc,#fffbfb,#fffafa,#fff8f8,#fff4f4,#ffefef,#ffe8e8,#fee2e2,#fedddd,#fedcdc,#fedfdf,#fee4e4,#ffebeb,#fff1f1,#fff6f6,#fff9f9,#fffbfb,#fffbfb,#fffcfc,#fffcfc,#fffcfc,#fffcfc,#fffcfc,#fffcfc,#fffcfc,#fffcfc,#fffcfc,#fffcfc,#fffcfc,#fffcfc,#fffcfc,#fffcfc,#fffcfc,#fffcfc,#fffcfc,#fffcfc)"></div><div style="height:2px;background:linear-gradient(90deg,#fffcfc,#fffcfc,#fffcfc,#fffcfc,#fffcfc,#fffcfc,#fffcfc,#fffcfc,#fffcfc,#fffcfc,#fffcfc,#fffcfc,#fffcfc,#fffcfc,#fffcfc,#fffcfc,#fffcfc,#fffcfc,#fffcfc,#fffbfb,#fffafa,#fff9f9,#fff7f7,#fff4f4,#fff1f1,#ffefef,#ffefef,#fff0f0,#fff2f2,#fff5f5,#fff8f8,#fff9f9,#fffbfb,#fffbfb,#fffcfc,#fffcfc,#fffcfc,#fffcfc,#fffcfc,#fffcfc,#fffcfc,#fffcfc,#fffcfc,#fffcfc,#fffcfc,#fffcfc,#fffcfc,#fffcfc,#fffcfc,#fffcfc,#fffcfc,#fffcfc,#fffcfc)"></div><div style="height:2px;background:linear-gradient(90deg,#fffcfc,#fffcfc,#fffcfc,#fffcfc,#fffcfc,#fffcfc,#fffcfc,#fffcfc,#fffcfc,#fffcfc,#fffcfc,#fffcfc,#fffcfc,#fffcfc,#fffcfc,#fffcfc,#fffcfc,#fffcfc,#fffcfc,#fffcfc,#fffbfb,#fffbfb,#fffafa,#fff9f9,#fff8f8,#fff7f7,#fff7f7,#fff7f7,#fff8f8,#fff9f9,#fffafa,#fffbfb,#fffbfb,#fffcfc,#fffcfc,#fffcfc,#fffcfc,#fffcfc,#fffcfc,#fffcfc,#fffcfc,#fffcfc,#fffcfc,#fffcfc,#fffcfc,#fffcfc,#fffcfc,#fffcfc,#fffcfc,#fffcfc,#fffcfc,#fffcfc,#fffcfc)"></div><div style="height:2px;background:linear-gradient(90deg,#fffcfc,#fffcfc,#fffcfc,#fffcfc,#fffcfc,#fffcfc,#fffcfc,#fffcfc,#fffcfc,#fffcfc,#fffcfc,#fffcfc,#fffcfc,#fffcfc,#fffcfc,#fffcfc,#fffcfc,#fffcfc,#fffcfc,#fffcfc,#fffcfc,#fffbfb,#fffbfb,#fffbfb,#fffbfb,#fffafa,#fffafa,#fffafa,#fffbfb,#fffbfb,#fffbfb,#fffcfc,#fffcfc,#fffcfc,#fffcfc,#fffcfc,#fffcfc,#fffcfc,#fffcfc,#fffcfc,#fffcfc,#fffcfc,#fffcfc,#fffcfc,#fffcfc,#fffcfc,#fffcfc,#fffcfc,#fffcfc,#fffcfc,#fffcfc,#fffcfc,#fffcfc)"></div><div style="height:2px;background:linear-gradient(90deg,#fffcfc,#fffcfc,#fffcfc,#fffcfc,#fffcfc,#fffcfc,#fffcfc,#fffcfc,#fffcfc,#fffcfc,#fffcfc,#fffcfc,#fffcfc,#fffcfc,#fffcfc,#fffcfc,#fffcfc,#fffcfc,#fffcfc,#fffcfc,#fffcfc,#fffcfc,#fffcfc,#fffcfc,#fffbfb,#fffbfb,#fffbfb,#fffbfb,#fffcfc,#fffcfc,#fffcfc,#fffcfc,#fffcfc,#fffcfc,#fffcfc,#fffcfc,#fffcfc,#fffcfc,#fffcfc,#fffcfc,#fffcfc,#fffcfc,#fffcfc,#fffcfc,#fffcfc,#fffcfc,#fffcfc,#fffcfc,#fffcfc,#fffcfc,#fffcfc,#fffcfc,#fffcfc)"></div><div style="height:2px;background:linear-gradient(90deg,#fffcfc,#fffcfc,#fffcfc,#fffcfc,#fffcfc,#fffcfc,#fffcfc,#fffcfc,#fffcfc,#fffcfc,#fffcfc,#fffcfc,#fffcfc,#fffcfc,#fffcfc,#fffcfc,#fffcfc,#fffcfc,#fffcfc,#fffcfc,#fffcfc,#fffcfc,#fffcfc,#fffcfc,#fffcfc,#fffcfc,#fffcfc,#fffcfc,#fffcfc,#fffcfc,#fffcfc,#fffcfc,#fffcfc,#fffcfc,#fffcfc,#fffcfc,#fffcfc,#fffcfc,#fffcfc,#fffcfc,#fffcfc,#fffcfc,#fffcfc,#fffcfc,#fffcfc,#fffcfc,#fffcfc,#fffcfc,#fffcfc,#fffcfc,#fffcfc,#fffcfc,#fffcfc)"></div><div style="height:2px;background:linear-gradient(90deg,#fffcfc,#fffcfc,#fffcfc,#fffcfc,#fffcfc,#fffcfc,#fffcfc,#fffcfc,#fffcfc,#fffcfc,#fffcfc,#fffcfc,#fffcfc,#fffcfc,#fffcfc,#fffcfc,#fffcfc,#fffcfc,#fffcfc,#fffcfc,#fffcfc,#fffcfc,#fffcfc,#fffcfc,#fffcfc,#fffcfc,#fffcfc,#fffcfc,#fffcfc,#fffcfc,#fffcfc,#fffcfc,#fffcfc,#fffcfc,#fffcfc,#fffcfc,#fffcfc,#fffcfc,#fffcfc,#fffcfc,#fffcfc,#fffcfc,#fffcfc,#fffcfc,#fffcfc,#fffcfc,#fffcfc,#fffcfc,#fffcfc,#fffcfc,#fffcfc,#fffcfc,#fffcfc)"></div><div style="height:2px;background:linear-gradient(90deg,#fffcfc,#fffcfc,#fffcfc,#fffcfc,#fffcfc,#fffcfc,#fffcfc,#fffcfc,#fffcfc,#fffcfc,#fffcfc,#fffcfc,#fffcfc,#fffcfc,#fffcfc,#fffcfc,#fffcfc,#fffcfc,#fffcfc,#fffcfc,#fffcfc,#fffcfc,#fffcfc,#fffcfc,#fffcfc,#fffcfc,#fffcfc,#fffcfc,#fffcfc,#fffcfc,#fffcfc,#fffcfc,#fffcfc,#fffcfc,#fffcfc,#fffcfc,#fffcfc,#fffcfc,#fffcfc,#fffcfc,#fffcfc,#fffcfc,#fffcfc,#fffcfc,#fffcfc,#fffcfc,#fffcfc,#fffcfc,#fffcfc,#fffcfc,#fffcfc,#fffcfc,#fffcfc)"></div><div style="height:2px;background:linear-gradient(90deg,#fffcfc,#fffcfc,#fffcfc,#fffcfc,#fffcfc,#fffcfc,#fffcfc,#fffcfc,#fffcfc,#fffcfc,#fffcfc,#fffcfc,#fffcfc,#fffcfc,#fffcfc,#fffcfc,#fffcfc,#fffcfc,#fffcfc,#fffcfc,#fffcfc,#fffcfc,#fffcfc,#fffcfc,#fffcfc,#fffcfc,#fffcfc,#fffcfc,#fffcfc,#fffcfc,#fffcfc,#fffcfc,#fffcfc,#fffcfc,#fffcfc,#fffcfc,#fffcfc,#fffcfc,#fffcfc,#fffcfc,#fffcfc,#fffcfc,#fffcfc,#fffcfc,#fffcfc,#fffcfc,#fffcfc,#fffcfc,#fffcfc,#fffcfc,#fffcfc,#fffcfc,#fffcfc)"></div><div style="height:2px;background:linear-gradient(90deg,#fffcfc,#fffcfc,#fffcfc,#fffcfc,#fffcfc,#fffcfc,#fffcfc,#fffcfc,#fffcfc,#fffcfc,#fffcfc,#fffcfc,#fffcfc,#fffcfc,#fffcfc,#fffcfc,#fffcfc,#fffcfc,#fffcfc,#fffcfc,#fffcfc,#fffcfc,#fffcfc,#fffcfc,#fffcfc,#fffcfc,#fffcfc,#fffcfc,#fffcfc,#fffcfc,#fffcfc,#fffcfc,#fffcfc,#fffcfc,#fffcfc,#fffcfc,#fffcfc,#fffcfc,#fffcfc,#fffcfc,#fffcfc,#fffcfc,#fffcfc,#fffcfc,#fffcfc,#fffcfc,#fffcfc,#fffcfc,#fffcfc,#fffcfc,#fffcfc,#fffcfc,#fffcfc)"></div><div style="height:2px;background:linear-gradient(90deg,#fffcfc,#fffcfc,#fffcfc,#fffcfc,#fffcfc,#fffcfc,#fffcfc,#fffcfc,#fffcfc,#fffcfc,#fffcfc,#fffcfc,#fffcfc,#fffcfc,#fffcfc,#fffcfc,#fffcfc,#fffcfc,#fffcfc,#fffcfc,#fffcfc,#fffcfc,#fffcfc,#fffcfc,#fffcfc,#fffcfc,#fffcfc,#fffcfc,#fffcfc,#fffcfc,#fffcfc,#fffcfc,#fffcfc,#fffcfc,#fffcfc,#fffcfc,#fffcfc,#fffcfc,#fffcfc,#fffcfc,#fffcfc,#fffcfc,#fffcfc,#fffcfc,#fffcfc,#fffcfc,#fffcfc,#fffcfc,#fffcfc,#fffcfc,#fffcfc,#fffcfc,#fffcfc)"></div><div style="height:2px;background:linear-gradient(90deg,#fffcfc,#fffcfc,#fffcfc,#fffcfc,#fffcfc,#fffcfc,#fffcfc,#fffcfc,#fffcfc,#fffcfc,#fffcfc,#fffcfc,#fffcfc,#fffcfc,#fffcfc,#fffcfc,#fffcfc,#fffcfc,#fffcfc,#fffcfc,#fffcfc,#fffcfc,#fffcfc,#fffcfc,#fffcfc,#fffcfc,#fffcfc,#fffcfc,#fffcfc,#fffcfc,#fffcfc,#fffcfc,#fffcfc,#fffcfc,#fffcfc,#fffcfc,#fffcfc,#fffcfc,#fffcfc,#fffcfc,#fffcfc,#fffcfc,#fffcfc,#fffcfc,#fffcfc,#fffcfc,#fffcfc,#fffcfc,#fffcfc,#fffcfc,#fffcfc,#fffcfc,#fffcfc)"></div><div style="height:2px;background:linear-gradient(90deg,#fffcfc,#fffcfc,#fffcfc,#fffcfc,#fffcfc,#fffcfc,#fffcfc,#fffcfc,#fffcfc,#fffcfc,#fffcfc,#fffcfc,#fffcfc,#fffcfc,#fffcfc,#fffcfc,#fffcfc,#fffcfc,#fffcfc,#fffcfc,#fffcfc,#fffcfc,#fffcfc,#fffcfc,#fffcfc,#fffcfc,#fffcfc,#fffcfc,#fffcfc,#fffcfc,#fffcfc,#fffcfc,#fffcfc,#fffcfc,#fffcfc,#fffcfc,#fffcfc,#fffcfc,#fffcfc,#fffcfc,#fffcfc,#fffcfc,#fffcfc,#fffcfc,#fffcfc,#fffcfc,#fffcfc,#fffcfc,#fffcfc,#fffcfc,#fffcfc,#fffcfc,#fffcfc)"></div><div style="height:2px;background:linear-gradient(90deg,#fffcfc,#fffcfc,#fffcfc,#fffcfc,#fffcfc,#fffcfc,#fffcfc,#fffcfc,#fffcfc,#fffcfc,#fffcfc,#fffcfc,#fffcfc,#fffcfc,#fffcfc,#fffcfc,#fffcfc,#fffcfc,#fffcfc,#fffcfc,#fffcfc,#fffcfc,#fffcfc,#fffcfc,#fffcfc,#fffcfc,#fffcfc,#fffcfc,#fffcfc,#fffcfc,#fffcfc,#fffcfc,#fffcfc,#fffcfc,#fffcfc,#fffcfc,#fffcfc,#fffcfc,#fffcfc,#fffcfc,#fffcfc,#fffcfc,#fffcfc,#fffcfc,#fffcfc,#fffcfc,#fffcfc,#fffcfc,#fffcfc,#fffcfc,#fffcfc,#fffcfc,#fffcfc)"></div><div style="height:2px;background:linear-gradient(90deg,#fffcfc,#fffcfc,#fffcfc,#fffcfc,#fffcfc,#fffcfc,#fffcfc,#fffcfc,#fffcfc,#fffcfc,#fffcfc,#fffcfc,#fffcfc,#fffcfc,#fffcfc,#fffcfc,#fffcfc,#fffcfc,#fffcfc,#fffcfc,#fffcfc,#fffcfc,#fffcfc,#fffcfc,#fffcfc,#fffcfc,#fffcfc,#fffcfc,#fffcfc,#fffcfc,#fffcfc,#fffcfc,#fffcfc,#fffcfc,#fffcfc,#fffcfc,#fffcfc,#fffcfc,#fffcfc,#fffcfc,#fffcfc,#fffcfc,#fffcfc,#fffcfc,#fffcfc,#fffcfc,#fffcfc,#fffcfc,#fffcfc,#fffcfc,#fffcfc,#fffcfc,#fffcfc)"></div><div style="height:2px;background:linear-gradient(90deg,#fffcfc,#fffcfc,#fffcfc,#fffcfc,#fffcfc,#fffcfc,#fffcfc,#fffcfc,#fffcfc,#fffcfc,#fffcfc,#fffcfc,#fffcfc,#fffcfc,#fffcfc,#fffcfc,#fffcfc,#fffcfc,#fffcfc,#fffcfc,#fffcfc,#fffcfc,#fffcfc,#fffcfc,#fffcfc,#fffcfc,#fffcfc,#fffcfc,#fffcfc,#fffcfc,#fffcfc,#fffcfc,#fffcfc,#fffcfc,#fffcfc,#fffcfc,#fffcfc,#fffcfc,#fffcfc,#fffcfc,#fffcfc,#fffcfc,#fffcfc,#fffcfc,#fffcfc,#fffcfc,#fffcfc,#fffcfc,#fffcfc,#fffcfc,#fffcfc,#fffcfc,#fffcfc)"></div><div style="height:2px;background:linear-gradient(90deg,#fffcfc,#fffcfc,#fffcfc,#fffcfc,#fffcfc,#fffcfc,#fffcfc,#fffcfc,#fffcfc,#fffcfc,#fffcfc,#fffcfc,#fffcfc,#fffcfc,#fffcfc,#fffcfc,#fffcfc,#fffcfc,#fffcfc,#fffcfc,#fffcfc,#fffcfc,#fffcfc,#fffcfc,#fffcfc,#fffcfc,#fffcfc,#fffcfc,#fffcfc,#fffcfc,#fffcfc,#fffcfc,#fffcfc,#fffcfc,#fffcfc,#fffcfc,#fffcfc,#fffcfc,#fffcfc,#fffcfc,#fffcfc,#fffcfc,#fffcfc,#fffcfc,#fffcfc,#fffcfc,#fffcfc,#fffcfc,#fffcfc,#fffcfc,#fffcfc,#fffcfc,#fffcfc)"></div><div style="height:2px;background:linear-gradient(90deg,#fffcfc,#fffcfc,#fffcfc,#fffcfc,#fffcfc,#fffcfc,#fffcfc,#fffcfc,#fffcfc,#fffcfc,#fffcfc,#fffcfc,#fffcfc,#fffcfc,#fffcfc,#fffcfc,#fffcfc,#fffcfc,#fffcfc,#fffcfc,#fffcfc,#fffcfc,#fffcfc,#fffcfc,#fffcfc,#fffcfc,#fffcfc,#fffcfc,#fffcfc,#fffcfc,#fffcfc,#fffcfc,#fffcfc,#fffcfc,#fffcfc,#fffcfc,#fffcfc,#fffcfc,#fffcfc,#fffcfc,#fffcfc,#fffcfc,#fffcfc,#fffcfc,#fffcfc,#fffcfc,#fffcfc,#fffcfc,#fffcfc,#fffcfc,#fffcfc,#fffcfc,#fffcfc)"></div><div style="height:2px;background:linear-gradient(90deg,#fffcfc,#fffcfc,#fffcfc,#fffcfc,#fffcfc,#fffcfc,#fffcfc,#fffcfc,#fffcfc,#fffcfc,#fffcfc,#fffcfc,#fffcfc,#fffcfc,#fffcfc,#fffcfc,#fffcfc,#fffcfc,#fffcfc,#fffcfc,#fffcfc,#fffcfc,#fffcfc,#fffcfc,#fffcfc,#fffcfc,#fffcfc,#fffcfc,#fffcfc,#fffcfc,#fffcfc,#fffcfc,#fffcfc,#fffcfc,#fffcfc,#fffcfc,#fffcfc,#fffcfc,#fffcfc,#fffcfc,#fffcfc,#fffcfc,#fffcfc,#fffcfc,#fffcfc,#fffcfc,#fffcfc,#fffcfc,#fffcfc,#fffcfc,#fffcfc,#fffcfc,#fffcfc)"></div><div style="height:2px;background:linear-gradient(90deg,#fffcfc,#fffcfc,#fffcfc,#fffcfc,#fffcfc,#fffcfc,#fffcfc,#fffcfc,#fffcfc,#fffcfc,#fffcfc,#fffcfc,#fffcfc,#fffcfc,#fffcfc,#fffcfc,#fffcfc,#fffcfc,#fffcfc,#fffcfc,#fffcfc,#fffcfc,#fffcfc,#fffcfc,#fffcfc,#fffcfc,#fffcfc,#fffcfc,#fffcfc,#fffcfc,#fffcfc,#fffcfc,#fffcfc,#fffcfc,#fffcfc,#fffcfc,#fffcfc,#fffcfc,#fffcfc,#fffcfc,#fffcfc,#fffcfc,#fffcfc,#fffcfc,#fffcfc,#fffcfc,#fffcfc,#fffcfc,#fffcfc,#fffcfc,#fffcfc,#fffcfc,#fffcfc)"></div><div style="height:1px;background:linear-gradient(90deg,#fffcfc,#fffcfc,#fffcfc,#fffcfc,#fffcfc,#fffcfc,#fffcfc,#fffcfc,#fffcfc,#fffcfc,#fffcfc,#fffcfc,#fffcfc,#fffcfc,#fffcfc,#fffcfc,#fffcfc,#fffcfc,#fffcfc,#fffcfc,#fffcfc,#fffcfc,#fffcfc,#fffcfc,#fffcfc,#fffcfc,#fffcfc,#fffcfc,#fffcfc,#fffcfc,#fffcfc,#fffcfc,#fffcfc,#fffcfc,#fffcfc,#fffcfc,#fffcfc,#fffcfc,#fffcfc,#fffcfc,#fffcfc,#fffcfc,#fffcfc,#fffcfc,#fffcfc,#fffcfc,#fffcfc,#fffcfc,#fffcfc,#fffcfc,#fffcfc,#fffcfc,#fffcfc)"></div></div><div style="position:absolute;left:217px;top:157px;width:105px;height:105px"><div style="height:2px;background:linear-gradient(90deg,#fffcfc,#fffcfc,#fffcfc,#fffcfc,#fffcfc,#fffcfc,#fffcfc,#fffcfc,#fffcfc,#fffcfc,#fffcfc,#fffcfc,#fffcfc,#fffcfc,#fffcfc,#fffcfc,#fffcfc,#fffcfc,#fffcfc,#fffcfc,#fffcfc,#fffcfc,#fffcfc,#fffcfc,#fffcfc,#fffcfc,#fffcfc,#fffcfc,#fffcfc,#fffcfc,#fffcfc,#fffcfc,#fffcfc,#fffcfc,#fffcfc,#fffcfc,#fffcfc,#fffcfc,#fffcfc,#fffcfc,#fffcfc,#fffcfc,#fffcfc,#fffcfc,#fffcfc,#fffcfc,#fffcfc,#fffcfc,#fffcfc,#fffcfc,#fffcfc,#fffcfc,#fffcfc)"></div><div style="height:2px;background:linear-gradient(90deg,#fffcfc,#fffcfc,#fffcfc,#fffcfc,#fffcfc,#fffcfc,#fffcfc,#fffcfc,#fffcfc,#fffcfc,#fffcfc,#fffcfc,#fffcfc,#fffcfc,#fffcfc,#fffcfc,#fffcfc,#fffcfc,#fffcfc,#fffcfc,#fffcfc,#fffcfc,#fffcfc,#fffcfc,#fffcfc,#fffcfc,#fffcfc,#fffcfc,#fffcfc,#fffcfc,#fffcfc,#fffcfc,#fffcfc,#fffcfc,#fffcfc,#fffcfc,#fffcfc,#fffcfc,#fffcfc,#fffcfc,#fffcfc,#fffcfc,#fffcfc,#fffcfc,#fffcfc,#fffcfc,#fffcfc,#fffcfc,#fffcfc,#fffcfc,#fffcfc,#fffcfc,#fffcfc)"></div><div style="height:2px;background:linear-gradient(90deg,#fffcfc,#fffcfc,#fffcfc,#fffcfc,#fffcfc,#fffcfc,#fffcfc,#fffcfc,#fffcfc,#fffcfc,#fffcfc,#fffcfc,#fffcfc,#fffcfc,#fffcfc,#fffcfc,#fffcfc,#fffcfc,#fffcfc,#fffcfc,#fffcfc,#fffcfc,#fffcfc,#fffcfc,#fffcfc,#fffcfc,#fffcfc,#fffcfc,#fffcfc,#fffcfc,#fffcfc,#fffcfc,#fffcfc,#fffcfc,#fffcfc,#fffcfc,#fffcfc,#fffcfc,#fffcfc,#fffcfc,#fffcfc,#fffcfc,#fffcfc,#fffcfc,#fffcfc,#fffcfc,#fffcfc,#fffcfc,#fffcfc,#fffcfc,#fffcfc,#fffcfc,#fffcfc)"></div><div style="height:2px;background:linear-gradient(90deg,#fffcfc,#fffcfc,#fffcfc,#fffcfc,#fffcfc,#fffcfc,#fffcfc,#fffcfc,#fffcfc,#fffcfc,#fffcfc,#fffcfc,#fffcfc,#fffcfc,#fffcfc,#fffcfc,#fffcfc,#fffcfc,#fffcfc,#fffcfc,#fffcfc,#fffcfc,#fffcfc,#fffcfc,#fffcfc,#fffcfc,#fffcfc,#fffcfc,#fffcfc,#fffcfc,#fffcfc,#fffcfc,#fffcfc,#fffcfc,#fffcfc,#fffcfc,#fffcfc,#fffcfc,#fffcfc,#fffcfc,#fffcfc,#fffcfc,#fffcfc,#fffcfc,#fffcfc,#fffcfc,#fffcfc,#fffcfc,#fffcfc,#fffcfc,#fffcfc,#fffcfc,#fffcfc)"></div><div style="height:2px;background:linear-gradient(90deg,#fffcfc,#fffcfc,#fffcfc,#fffcfc,#fffcfc,#fffcfc,#fffcfc,#fffcfc,#fffcfc,#fffcfc,#fffcfc,#fffcfc,#fffcfc,#fffcfc,#fffcfc,#fffcfc,#fffcfc,#fffcfc,#fffcfc,#fffcfc,#fffcfc,#fffcfc,#fffcfc,#fffcfc,#fffcfc,#fffcfc,#fffcfc,#fffcfc,#fffcfc,#fffcfc,#fffcfc,#fffcfc,#fffcfc,#fffcfc,#fffcfc,#fffcfc,#fffcfc,#fffcfc,#fffcfc,#fffcfc,#fffcfc,#fffcfc,#fffcfc,#fffcfc,#fffcfc,#fffcfc,#fffcfc,#fffcfc,#fffcfc,#fffcfc,#fffcfc,#fffcfc,#fffcfc)"></div><div style="height:2px;background:linear-gradient(90deg,#fffcfc,#fffcfc,#fffcfc,#fffcfc,#fffcfc,#fffcfc,#fffcfc,#fffcfc,#fffcfc,#fffcfc,#fffcfc,#fffcfc,#fffcfc,#fffcfc,#fffcfc,#fffcfc,#fffcfc,#fffcfc,#fffcfc,#fffcfc,#fffcfc,#fffcfc,#fffcfc,#fffcfc,#fffcfc,#fffcfc,#fffcfc,#fffcfc,#fffcfc,#fffcfc,#fffcfc,#fffcfc,#fffcfc,#fffcfc,#fffcfc,#fffcfc,#fffcfc,#fffcfc,#fffcfc,#fffcfc,#fffcfc,#fffcfc,#fffcfc,#fffcfc,#fffcfc,#fffcfc,#fffcfc,#fffcfc,#fffcfc,#fffcfc,#fffcfc,#fffcfc,#fffcfc)"></div><div style="height:2px;background:linear-gradient(90deg,#fffcfc,#fffcfc,#fffcfc,#fffcfc,#fffcfc,#fffcfc,#fffcfc,#fffcfc,#fffcfc,#fffcfc,#fffcfc,#fffcfc,#fffcfc,#fffcfc,#fffcfc,#fffcfc,#fffcfc,#fffcfc,#fffcfc,#fffcfc,#fffcfc,#fffcfc,#fffcfc,#fffcfc,#fffcfc,#fffcfc,#fffcfc,#fffcfc,#fffcfc,#fffcfc,#fffcfc,#fffcfc,#fffcfc,#fffcfc,#fffcfc,#fffcfc,#fffcfc,#fffcfc,#fffcfc,#fffcfc,#fffcfc,#fffcfc,#fffcfc,#fffcfc,#fffcfc,#fffcfc,#fffcfc,#fffcfc,#fffcfc,#fffcfc,#fffcfc,#fffcfc,#fffcfc)"></div><div style="height:2px;background:linear-gradient(90deg,#fffcfc,#fffcfc,#fffcfc,#fffcfc,#fffcfc,#fffcfc,#fffcfc,#fffcfc,#fffcfc,#fffcfc,#fffcfc,#fffcfc,#fffcfc,#fffcfc,#fffcfc,#fffcfc,#fffcfc,#fffcfc,#fffcfc,#fffcfc,#fffcfc,#fffcfc,#fffcfc,#fffcfc,#fffbfb,#fffbfb,#fffbfb,#fffbfb,#fffbfb,#fffcfc,#fffcfc,#fffcfc,#fffcfc,#fffcfc,#fffcfc,#fffcfc,#fffcfc,#fffcfc,#fffcfc,#fffcfc,#fffcfc,#fffcfc,#fffcfc,#fffcfc,#fffcfc,#fffcfc,#fffcfc,#fffcfc,#fffcfc,#fffcfc,#fffcfc,#fffcfc,#fffcfc)"></div><div style="height:2px;background:linear-gradient(90deg,#fffcfc,#fffcfc,#fffcfc,#fffcfc,#fffcfc,#fffcfc,#fffcfc,#fffcfc,#fffcfc,#fffcfc,#fffcfc,#fffcfc,#fffcfc,#fffcfc,#fffcfc,#fffcfc,#fffcfc,#fffcfc,#fffcfc,#fffcfc,#fffbfb,#fffbfb,#fffafa,#fffafa,#fff9f9,#fff9f9,#fff9f9,#fff9f9,#fff9f9,#fffafa,#fffafa,#fffbfb,#fffbfb,#fffcfc,#fffcfc,#fffcfc,#fffcfc,#fffcfc,#fffcfc,#fffcfc,#fffcfc,#fffcfc,#fffcfc,#fffcfc,#fffcfc,#fffcfc,#fffcfc,#fffcfc,#fffcfc,#fffcfc,#fffcfc,#fffcfc,#fffcfc)"></div><div style="height:2px;background:linear-gradient(90deg,#fffcfc,#fffcfc,#fffcfc,#fffcfc,#fffcfc,#fffcfc,#fffcfc,#fffcfc,#fffcfc,#fffcfc,#fffcfc,#fffcfc,#fffcfc,#fffcfc,#fffcfc,#fffcfc,#fffcfc,#fffcfc,#fffbfb,#fffafa,#fff9f9,#fff7f7,#fff6f6,#fff5f5,#fff4f4,#fff3f3,#fff3f3,#fff3f3,#fff4f4,#fff5f5,#fff6f6,#fff7f7,#fff9f9,#fffafa,#fffbfb,#fffcfc,#fffcfc,#fffcfc,#fffcfc,#fffcfc,#fffcfc,#fffcfc,#fffcfc,#fffcfc,#fffcfc,#fffcfc,#fffcfc,#fffcfc,#fffcfc,#fffcfc,#fffcfc,#fffcfc,#fffcfc)"></div><div style="height:2px;background:linear-gradient(90deg,#fffcfc,#fffcfc,#fffcfc,#fffcfc,#fffcfc,#fffcfc,#fffcfc,#fffcfc,#fffcfc,#fffcfc,#fffcfc,#fffcfc,#fffcfc,#fffcfc,#fffcfc,#fffcfc,#fffbfb,#fffafa,#fff8f8,#fff6f6,#fff3f3,#fff0f0,#ffeded,#ffebeb,#ffe9e9,#fee7e7,#fee7e7,#fee7e7,#ffe9e9,#ffebeb,#ffeded,#fff0f0,#fff3f3,#fff6f6,#fff8f8,#fffafa,#fffbfb,#fffcfc,#fffcfc,#fffcfc,#fffcfc,#fffcfc,#fffcfc,#fffcfc,#fffcfc,#fffcfc,#fffcfc,#fffcfc,#fffcfc,#fffcfc,#fffcfc,#fffcfc,#fffcfc)"></div><div style="height:2px;background:linear-gradient(90deg,#fffcfc,#fffcfc,#fffcfc,#fffcfc,#fffcfc,#fffcfc,#fffcfc,#fffcfc,#fffcfc,#fffcfc,#fffcfc,#fffcfc,#fffcfc,#fffcfc,#fffcfc,#fffbfb,#fff9f9,#fff6f6,#fff2f2,#ffeded,#ffe8e8,#fee3e3,#fedfdf,#fedbdb,#fed9d9,#fed7d7,#fed6d6,#fed7d7,#fed9d9,#fedbdb,#fedfdf,#fee3e3,#ffe8e8,#ffeded,#fff2f2,#fff6f6,#fff9f9,#fffbfb,#fffcfc,#fffcfc,#fffcfc,#fffcfc,#fffcfc,#fffcfc,#fffcfc,#fffcfc,#fffcfc,#fffcfc,#fffcfc,#fffcfc,#fffcfc,#fffcfc,#fffcfc)"></div><div style="height:2px;background:linear-gradient(90deg,#fffcfc,#fffcfc,#fffcfc,#fffcfc,#fffcfc,#fffcfc,#fffcfc,#fffcfc,#fffcfc,#fffcfc,#fffcfc,#fffcfc,#fffcfc,#fffbfb,#fffafa,#fff8f8,#fff4f4,#ffeeee,#ffe7e7,#fee0e0,#fed9d9,#fed3d3,#fecece,#fecbcb,#fec9c9,#fec7c7,#fec7c7,#fec7c7,#fec9c9,#fecbcb,#fecece,#fed3d3,#fed9d9,#fee0e0,#ffe7e7,#ffeeee,#fff4f4,#fff8f8,#fffafa,#fffbfb,#fffcfc,#fffcfc,#fffcfc,#fffcfc,#fffcfc,#fffcfc,#fffcfc,#fffcfc,#fffcfc,#fffcfc,#fffcfc,#fffcfc,#fffcfc)"></div><div style="height:2px;background:linear-gradient(90deg,#fffcfc,#fffcfc,#fffcfc,#fffcfc,#fffcfc,#fffcfc,#fffcfc,#fffcfc,#fffcfc,#fffcfc,#fffcfc,#fffcfc,#fffbfb,#fffafa,#fff7f7,#fff2f2,#ffebeb,#fee2e2,#fed9d9,#fed0d0,#fec9c9,#fec5c5,#fec2c2,#fec1c1,#fec0c0,#fec0c0,#fec0c0,#fec0c0,#fec0c0,#fec1c1,#fec2c2,#fec5c5,#fec9c9,#fed0d0,#fed9d9,#fee2e2,#ffebeb,#fff2f2,#fff7f7,#fffafa,#fffbfb,#fffcfc,#fffcfc,#fffcfc,#fffcfc,#fffcfc,#fffcfc,#fffcfc,#fffcfc,#fffcfc,#fffcfc,#fffcfc,#fffcfc)"></div><div style="height:2px;background:linear-gradient(90deg,#fffcfc,#fffcfc,#fffcfc,#fffcfc,#fffcfc,#fffcfc,#fffcfc,#fffcfc,#fffcfc,#fffcfc,#fffcfc,#fffcfc,#fffafa,#fff7f7,#fff1f1,#ffe9e9,#fedfdf,#fed4d4,#fecaca,#fec3c3,#febfbf,#febebe,#fec0c0,#fec2c2,#fec3c3,#fec5c5,#fec5c5,#fec5c5,#fec3c3,#fec2c2,#fec0c0,#febebe,#febfbf,#fec3c3,#fecaca,#fed4d4,#fedfdf,#ffe9e9,#fff1f1,#fff7f7,#fffafa,#fffcfc,#fffcfc,#fffcfc,#fffcfc,#fffcfc,#fffcfc,#fffcfc,#fffcfc,#fffcfc,#fffcfc,#fffcfc,#fffcfc)"></div><div style="height:2px;background:linear-gradient(90deg,#fffcfc,#fffcfc,#fffcfc,#fffcfc,#fffcfc,#fffcfc,#fffcfc,#fffcfc,#fffcfc,#fffcfc,#fffcfc,#fffbfb,#fff8f8,#fff2f2,#ffe9e9,#fedddd,#fed0d0,#fec6c6,#febfbf,#febdbd,#febfbf,#fec3c3,#fec8c8,#fecccc,#fed0d0,#fed2d2,#fed3d3,#fed2d2,#fed0d0,#fecccc,#fec8c8,#fec3c3,#febfbf,#febdbd,#febfbf,#fec6c6,#fed0d0,#fedddd,#ffe9e9,#fff2f2,#fff8f8,#fffbfb,#fffcfc,#fffcfc,#fffcfc,#fffcfc,#fffcfc,#fffcfc,#fffcfc,#fffcfc,#fffcfc,#fffcfc,#fffcfc)"></div><div style="height:2px;background:linear-gradient(90deg,#fffcfc,#fffcfc,#fffcfc,#fffcfc,#fffcfc,#fffcfc,#fffcfc,#fffcfc,#fffcfc,#fffcfc,#fffbfb,#fff9f9,#fff4f4,#ffebeb,#fedede,#fed0d0,#fec3c3,#febcbc,#febcbc,#fec0c0,#fec7c7,#fecfcf,#fed6d6,#fedcdc,#fee0e0,#fee3e3,#fee3e3,#fee3e3,#fee0e0,#fedcdc,#fed6d6,#fecfcf,#fec7c7,#fec0c0,#febcbc,#febcbc,#fec3c3,#fed0d0,#fedede,#ffebeb,#fff4f4,#fff9f9,#fffbfb,#fffcfc,#fffcfc,#fffcfc,#fffcfc,#fffcfc,#fffcfc,#fffcfc,#fffcfc,#fffcfc,#fffcfc)"></div><div style="height:2px;background:linear-gradient(90deg,#fffcfc,#fffcfc,#fffcfc,#fffcfc,#fffcfc,#fffcfc,#fffcfc,#fffcfc,#fffcfc,#fffcfc,#fffafa,#fff6f6,#ffeeee,#fee2e2,#fed2d2,#fec4c4,#febbbb,#febaba,#fec0c0,#fec9c9,#fed4d4,#fedede,#fee5e5,#ffebeb,#fff0f0,#fff3f3,#fff4f4,#fff3f3,#fff0f0,#ffebeb,#fee5e5,#fedede,#fed4d4,#fec9c9,#fec0c0,#febaba,#febbbb,#fec4c4,#fed2d2,#fee2e2,#ffeeee,#fff6f6,#fffafa,#fffcfc,#fffcfc,#fffcfc,#fffcfc,#fffcfc,#fffcfc,#fffcfc,#fffcfc,#fffcfc,#fffcfc)"></div><div style="height:2px;background:linear-gradient(90deg,#fffcfc,#fffcfc,#fffcfc,#fffcfc,#fffcfc,#fffcfc,#fffcfc,#fffcfc,#fffcfc,#fffbfb,#fff8f8,#fff2f2,#fee7e7,#fed7d7,#fec7c7,#febbbb,#fdb8b8,#febebe,#fec9c9,#fed6d6,#fee2e2,#ffecec,#fff5f5,#faf7fc,#f1f1ff,#e8e8fe,#e4e4fe,#e8e8fe,#f1f1ff,#faf7fc,#fff5f5,#ffecec,#fee2e2,#fed6d6,#fec9c9,#febebe,#fdb8b8,#febbbb,#fec7c7,#fed7d7,#fee7e7,#fff2f2,#fff8f8,#fffbfb,#fffcfc,#fffcfc,#fffcfc,#fffcfc,#fffcfc,#fffcfc,#fffcfc,#fffcfc,#fffcfc)"></div><div style="height:2px;background:linear-gradient(90deg,#fffcfc,#fffcfc,#fffcfc,#fffcfc,#fffcfc,#fffcfc,#fffcfc,#fffcfc,#fffcfc,#fffafa,#fff6f6,#ffeded,#fedfdf,#fecdcd,#febdbd,#fdb6b6,#febaba,#fec5c5,#fed4d4,#fee2e2,#ffefef,#fcf8fb,#eaeafe,#d3d3fe,#c7c7fe,#c3c3fd,#c2c2fd,#c3c3fd,#c7c7fe,#d3d3fe,#eaeafe,#fcf8fb,#ffefef,#fee2e2,#fed4d4,#fec5c5,#febaba,#fdb6b6,#febdbd,#fecdcd,#fedfdf,#ffeded,#fff6f6,#fffafa,#fffcfc,#fffcfc,#fffcfc,#fffcfc,#fffcfc,#fffcfc,#fffcfc,#fffcfc,#fffcfc)"></div><div style="height:2px;background:linear-gradient(90deg,#fffcfc,#fffcfc,#fffcfc,#fffcfc,#fffcfc,#fffcfc,#fffcfc,#fffcfc,#fffbfb,#fff9f9,#fff4f4,#ffe8e8,#fed7d7,#fec5c5,#fdb7b7,#fdb5b5,#febfbf,#fecece,#fedfdf,#ffeded,#fbf9fc,#dfdffe,#c6c6fd,#c0c0fd,#bfbffd,#c0c0fd,#c1c1fd,#c0c0fd,#bfbffd,#c0c0fd,#c6c6fd,#dfdffe,#fbf9fc,#ffeded,#fedfdf,#fecece,#febfbf,#fdb5b5,#fdb7b7,#fec5c5,#fed7d7,#ffe8e8,#fff4f4,#fff9f9,#fffbfb,#fffcfc,#fffcfc,#fffcfc,#fffcfc,#fffcfc,#fffcfc,#fffcfc,#fffcfc)"></div><div style="height:2px;background:linear-gradient(90deg,#fffcfc,#fffcfc,#fffcfc,#fffcfc,#fffcfc,#fffcfc,#fffcfc,#fffcfc,#fffbfb,#fff8f8,#fff1f1,#fee3e3,#fed0d0,#febebe,#fdb4b4,#fdb7b7,#fec5c5,#fed7d7,#ffe8e8,#fdf7f9,#e1e1fe,#c4c4fd,#bfbffd,#c2c2fd,#c5c5fd,#c8c8fe,#c9c9fe,#c8c8fe,#c5c5fd,#c2c2fd,#bfbffd,#c4c4fd,#e1e1fe,#fdf7f9,#ffe8e8,#fed7d7,#fec5c5,#fdb7b7,#fdb4b4,#febebe,#fed0d0,#fee3e3,#fff1f1,#fff8f8,#fffbfb,#fffcfc,#fffcfc,#fffcfc,#fffcfc,#fffcfc,#fffcfc,#fffcfc,#fffcfc)"></div><div style="height:2px;background:linear-gradient(90deg,#fffcfc,#fffcfc,#fffcfc,#fffcfc,#fffcfc,#fffcfc,#fffcfc,#fffcfc,#fffbfb,#fff7f7,#ffeeee,#fedfdf,#fecbcb,#feb9b9,#fdb2b2,#feb9b9,#fecaca,#fedddd,#fff0f0,#f0efff,#c9c9fe,#bfbffd,#c3c3fd,#c9c9fe,#cdcdfe,#d0d0fe,#d1d1fe,#d0d0fe,#cdcdfe,#c9c9fe,#c3c3fd,#bfbffd,#c9c9fe,#f0efff,#fff0f0,#fedddd,#fecaca,#feb9b9,#fdb2b2,#feb9b9,#fecbcb,#fedfdf,#ffeeee,#fff7f7,#fffbfb,#fffcfc,#fffcfc,#fffcfc,#fffcfc,#fffcfc,#fffcfc,#fffcfc,#fffcfc)"></div><div style="height:2px;background:linear-gradient(90deg,#fffcfc,#fffcfc,#fffcfc,#fffcfc,#fffcfc,#fffcfc,#fffcfc,#fffcfc,#fffafa,#fff6f6,#ffecec,#fedcdc,#fec7c7,#fdb5b5,#fdb1b1,#febbbb,#fecece,#fee2e2,#fef7f8,#dbdbfe,#c1c1fd,#c1c1fd,#c8c8fe,#cfcffe,#d3d3fe,#d6d6fe,#d6d6fe,#d6d6fe,#d3d3fe,#cfcffe,#c8c8fe,#c1c1fd,#c1c1fd,#dbdbfe,#fef7f8,#fee2e2,#fecece,#febbbb,#fdb1b1,#fdb5b5,#fec7c7,#fedcdc,#ffecec,#fff6f6,#fffafa,#fffcfc,#fffcfc,#fffcfc,#fffcfc,#fffcfc,#fffcfc,#fffcfc,#fffcfc)"></div><div style="height:2px;background:linear-gradient(90deg,#fffcfc,#fffcfc,#fffcfc,#fffcfc,#fffcfc,#fffcfc,#fffcfc,#fffcfc,#fffafa,#fff6f6,#ffebeb,#fedada,#fec4c4,#fdb3b3,#fdb0b0,#febcbc,#fed0d0,#fee5e5,#f8f5fb,#cecefe,#bfbffd,#c4c4fd,#ccccfe,#d3d3fe,#d7d7fe,#d8d8fe,#d9d9fe,#d8d8fe,#d7d7fe,#d3d3fe,#ccccfe,#c4c4fd,#bfbffd,#cecefe,#f8f5fb,#fee5e5,#fed0d0,#febcbc,#fdb0b0,#fdb3b3,#fec4c4,#fedada,#ffebeb,#fff6f6,#fffafa,#fffcfc,#fffcfc,#fffcfc,#fffcfc,#fffcfc,#fffcfc,#fffcfc,#fffcfc)"></div><div style="height:2px;background:linear-gradient(90deg,#fffcfc,#fffcfc,#fffcfc,#fffcfc,#fffcfc,#fffcfc,#fffcfc,#fffcfc,#fffafa,#fff5f5,#ffebeb,#fed9d9,#fec3c3,#fdb2b2,#fdafaf,#febbbb,#fecfcf,#fee6e6,#f5f3fd,#c8c8fe,#bfbffd,#c6c6fd,#cfcffe,#d5d5fe,#d8d8fe,#d9d9fe,#dadafe,#d9d9fe,#d8d8fe,#d5d5fe,#cfcffe,#c6c6fd,#bfbffd,#c8c8fe,#f5f3fd,#fee6e6,#fecfcf,#febbbb,#fdafaf,#fdb2b2,#fec3c3,#fed9d9,#ffebeb,#fff5f5,#fffafa,#fffcfc,#fffcfc,#fffcfc,#fffcfc,#fffcfc,#fffcfc,#fffcfc,#fffcfc)"></div><div style="height:2px;background:linear-gradient(90deg,#fffcfc,#fffcfc,#fffcfc,#fffcfc,#fffcfc,#fffcfc,#fffcfc,#fffcfc,#fffafa,#fff6f6,#ffecec,#fedada,#fec4c4,#fdb2b2,#fdadad,#fdb8b8,#fecccc,#fee3e3,#f4f2fd,#c8c8fe,#bfbffd,#c6c6fd,#cfcffe,#d5d5fe,#d8d8fe,#d9d9fe,#dadafe,#d9d9fe,#d8d8fe,#d5d5fe,#cfcffe,#c6c6fd,#bfbffd,#c8c8fe,#f4f2fd,#fee3e3,#fecccc,#fdb8b8,#fdadad,#fdb2b2,#fec4c4,#fedada,#ffecec,#fff6f6,#fffafa,#fffcfc,#fffcfc,#fffcfc,#fffcfc,#fffcfc,#fffcfc,#fffcfc,#fffcfc)"></div><div style="height:2px;background:linear-gradient(90deg,#fffcfc,#fffcfc,#fffcfc,#fffcfc,#fffcfc,#fffcfc,#fffcfc,#fffcfc,#fffbfb,#fff7f7,#ffeded,#fedddd,#fec7c7,#fdb3b3,#fdacac,#fdb4b4,#fec6c6,#fedede,#f7f3fa,#cbcbfe,#bfbffd,#c5c5fd,#cdcdfe,#d4d4fe,#d7d7fe,#d9d9fe,#d9d9fe,#d9d9fe,#d7d7fe,#d4d4fe,#cdcdfe,#c5c5fd,#bfbffd,#cbcbfe,#f7f3fa,#fedede,#fec6c6,#fdb4b4,#fdacac,#fdb3b3,#fec7c7,#fedddd,#ffeded,#fff7f7,#fffbfb,#fffcfc,#fffcfc,#fffcfc,#fffcfc,#fffcfc,#fffcfc,#fffcfc,#fffcfc)"></div><div style="height:2px;background:linear-gradient(90deg,#fffcfc,#fffcfc,#fffcfc,#fffcfc,#fffcfc,#fffcfc,#fffcfc,#fffcfc,#fffbfb,#fff8f8,#fff0f0,#fee0e0,#fecbcb,#fdb6b6,#fdabab,#fdafaf,#febebe,#fed5d5,#fdf3f4,#d6d6fe,#c0c0fd,#c2c2fd,#cacafe,#d1d1fe,#d5d5fe,#d7d7fe,#d8d8fe,#d7d7fe,#d5d5fe,#d1d1fe,#cacafe,#c2c2fd,#c0c0fd,#d6d6fe,#fdf3f4,#fed5d5,#febebe,#fdafaf,#fdabab,#fdb6b6,#fecbcb,#fee0e0,#fff0f0,#fff8f8,#fffbfb,#fffcfc,#fffcfc,#fffcfc,#fffcfc,#fffcfc,#fffcfc,#fffcfc,#fffcfc)"></div><div style="height:2px;background:linear-gradient(90deg,#fffcfc,#fffcfc,#fffcfc,#fffcfc,#fffcfc,#fffcfc,#fffcfc,#fffcfc,#fffbfb,#fff9f9,#fff2f2,#fee5e5,#fed2d2,#febcbc,#fdacac,#fdaaaa,#fdb5b5,#fec9c9,#fee4e4,#eaeafe,#c4c4fd,#c0c0fd,#c5c5fd,#cbcbfe,#d0d0fe,#d3d3fe,#d4d4fe,#d3d3fe,#d0d0fe,#cbcbfe,#c5c5fd,#c0c0fd,#c4c4fd,#eaeafe,#fee4e4,#fec9c9,#fdb5b5,#fdaaaa,#fdacac,#febcbc,#fed2d2,#fee5e5,#fff2f2,#fff9f9,#fffbfb,#fffcfc,#fffcfc,#fffcfc,#fffcfc,#fffcfc,#fffcfc,#fffcfc,#fffcfc)"></div><div style="height:2px;background:linear-gradient(90deg,#fffcfc,#fffcfc,#fffcfc,#fffcfc,#fffcfc,#fffcfc,#fffcfc,#fffcfc,#fffcfc,#fffafa,#fff5f5,#ffebeb,#fedada,#fec4c4,#fdb1b1,#fda9a9,#fdadad,#febcbc,#fed2d2,#fcf0f3,#d7d7fe,#c1c1fd,#c0c0fd,#c4c4fd,#c9c9fe,#ccccfe,#cdcdfe,#ccccfe,#c9c9fe,#c4c4fd,#c0c0fd,#c1c1fd,#d7d7fe,#fcf0f3,#fed2d2,#febcbc,#fdadad,#fda9a9,#fdb1b1,#fec4c4,#fedada,#ffebeb,#fff5f5,#fffafa,#fffcfc,#fffcfc,#fffcfc,#fffcfc,#fffcfc,#fffcfc,#fffcfc,#fffcfc,#fffcfc)"></div><div style="height:2px;background:linear-gradient(90deg,#fffcfc,#fffcfc,#fffcfc,#fffcfc,#fffcfc,#fffcfc,#fffcfc,#fffcfc,#fffcfc,#fffbfb,#fff7f7,#fff0f0,#fee2e2,#fecfcf,#febbbb,#fdacac,#fda9a9,#fdb0b0,#fec0c0,#fed8d8,#f8f3f9,#d3d3fe,#c1c1fd,#bfbffd,#c1c1fd,#c3c3fd,#c4c4fd,#c3c3fd,#c1c1fd,#bfbffd,#c1c1fd,#d3d3fe,#f8f3f9,#fed8d8,#fec0c0,#fdb0b0,#fda9a9,#fdacac,#febbbb,#fecfcf,#fee2e2,#fff0f0,#fff7f7,#fffbfb,#fffcfc,#fffcfc,#fffcfc,#fffcfc,#fffcfc,#fffcfc,#fffcfc,#fffcfc,#fffcfc)"></div><div style="height:2px;background:linear-gradient(90deg,#fffcfc,#fffcfc,#fffcfc,#fffcfc,#fffcfc,#fffcfc,#fffcfc,#fffcfc,#fffcfc,#fffbfb,#fff9f9,#fff4f4,#ffeaea,#fedbdb,#fec8c8,#fdb6b6,#fdabab,#fdaaaa,#fdb1b1,#fec0c0,#fed7d7,#faf1f6,#ddddfe,#c8c8fe,#c1c1fd,#c0c0fd,#bfbffd,#c0c0fd,#c1c1fd,#c8c8fe,#ddddfe,#faf1f6,#fed7d7,#fec0c0,#fdb1b1,#fdaaaa,#fdabab,#fdb6b6,#fec8c8,#fedbdb,#ffeaea,#fff4f4,#fff9f9,#fffbfb,#fffcfc,#fffcfc,#fffcfc,#fffcfc,#fffcfc,#fffcfc,#fffcfc,#fffcfc,#fffcfc)"></div><div style="height:2px;background:linear-gradient(90deg,#fffcfc,#fffcfc,#fffcfc,#fffcfc,#fffcfc,#fffcfc,#fffcfc,#fffcfc,#fffcfc,#fffcfc,#fffbfb,#fff8f8,#fff1f1,#fee6e6,#fed6d6,#fec3c3,#fdb3b3,#fdaaaa,#fda9a9,#fdafaf,#febbbb,#fecdcd,#fee7e7,#f4eef8,#e4e4fe,#d8d8fe,#d5d5fe,#d8d8fe,#e4e4fe,#f4eef8,#fee7e7,#fecdcd,#febbbb,#fdafaf,#fda9a9,#fdaaaa,#fdb3b3,#fec3c3,#fed6d6,#fee6e6,#fff1f1,#fff8f8,#fffbfb,#fffcfc,#fffcfc,#fffcfc,#fffcfc,#fffcfc,#fffcfc,#fffcfc,#fffcfc,#fffcfc,#fffcfc)"></div><div style="height:2px;background:linear-gradient(90deg,#fffcfc,#fffcfc,#fffcfc,#fffcfc,#fffcfc,#fffcfc,#fffcfc,#fffcfc,#fffcfc,#fffcfc,#fffcfc,#fffafa,#fff6f6,#ffefef,#fee3e3,#fed3d3,#fec3c3,#fdb4b4,#fdabab,#fda9a9,#fdacac,#fdb3b3,#febdbd,#fecaca,#fed8d8,#fee2e2,#fee5e5,#fee2e2,#fed8d8,#fecaca,#febdbd,#fdb3b3,#fdacac,#fda9a9,#fdabab,#fdb4b4,#fec3c3,#fed3d3,#fee3e3,#ffefef,#fff6f6,#fffafa,#fffcfc,#fffcfc,#fffcfc,#fffcfc,#fffcfc,#fffcfc,#fffcfc,#fffcfc,#fffcfc,#fffcfc,#fffcfc)"></div><div style="height:2px;background:linear-gradient(90deg,#fffcfc,#fffcfc,#fffcfc,#fffcfc,#fffcfc,#fffcfc,#fffcfc,#fffcfc,#fffcfc,#fffcfc,#fffcfc,#fffbfb,#fff9f9,#fff5f5,#ffeeee,#fee2e2,#fed4d4,#fec5c5,#fdb8b8,#fdafaf,#fdaaaa,#fda9a9,#fdabab,#fdafaf,#fdb3b3,#fdb6b6,#fdb7b7,#fdb6b6,#fdb3b3,#fdafaf,#fdabab,#fda9a9,#fdaaaa,#fdafaf,#fdb8b8,#fec5c5,#fed4d4,#fee2e2,#ffeeee,#fff5f5,#fff9f9,#fffbfb,#fffcfc,#fffcfc,#fffcfc,#fffcfc,#fffcfc,#fffcfc,#fffcfc,#fffcfc,#fffcfc,#fffcfc,#fffcfc)"></div><div style="height:2px;background:linear-gradient(90deg,#fffcfc,#fffcfc,#fffcfc,#fffcfc,#fffcfc,#fffcfc,#fffcfc,#fffcfc,#fffcfc,#fffcfc,#fffcfc,#fffcfc,#fffbfb,#fff9f9,#fff5f5,#ffeeee,#fee4e4,#fed8d8,#fecbcb,#febfbf,#fdb6b6,#fdafaf,#fdabab,#fda9a9,#fda9a9,#fda9a9,#fda9a9,#fda9a9,#fda9a9,#fda9a9,#fdabab,#fdafaf,#fdb6b6,#febfbf,#fecbcb,#fed8d8,#fee4e4,#ffeeee,#fff5f5,#fff9f9,#fffbfb,#fffcfc,#fffcfc,#fffcfc,#fffcfc,#fffcfc,#fffcfc,#fffcfc,#fffcfc,#fffcfc,#fffcfc,#fffcfc,#fffcfc)"></div><div style="height:2px;background:linear-gradient(90deg,#fffcfc,#fffcfc,#fffcfc,#fffcfc,#fffcfc,#fffcfc,#fffcfc,#fffcfc,#fffcfc,#fffcfc,#fffcfc,#fffcfc,#fffcfc,#fffbfb,#fff9f9,#fff6f6,#fff0f0,#ffe8e8,#fedfdf,#fed4d4,#fecaca,#fec1c1,#febbbb,#fdb6b6,#fdb2b2,#fdb1b1,#fdb0b0,#fdb1b1,#fdb2b2,#fdb6b6,#febbbb,#fec1c1,#fecaca,#fed4d4,#fedfdf,#ffe8e8,#fff0f0,#fff6f6,#fff9f9,#fffbfb,#fffcfc,#fffcfc,#fffcfc,#fffcfc,#fffcfc,#fffcfc,#fffcfc,#fffcfc,#fffcfc,#fffcfc,#fffcfc,#fffcfc,#fffcfc)"></div><div style="height:2px;background:linear-gradient(90deg,#fffcfc,#fffcfc,#fffcfc,#fffcfc,#fffcfc,#fffcfc,#fffcfc,#fffcfc,#fffcfc,#fffcfc,#fffcfc,#fffcfc,#fffcfc,#fffcfc,#fffbfb,#fffafa,#fff7f7,#fff3f3,#ffeded,#fee6e6,#fedfdf,#fed8d8,#fed1d1,#fecccc,#fec8c8,#fec5c5,#fec5c5,#fec5c5,#fec8c8,#fecccc,#fed1d1,#fed8d8,#fedfdf,#fee6e6,#ffeded,#fff3f3,#fff7f7,#fffafa,#fffbfb,#fffcfc,#fffcfc,#fffcfc,#fffcfc,#fffcfc,#fffcfc,#fffcfc,#fffcfc,#fffcfc,#fffcfc,#fffcfc,#fffcfc,#fffcfc,#fffcfc)"></div><div style="height:2px;background:linear-gradient(90deg,#fffcfc,#fffcfc,#fffcfc,#fffcfc,#fffcfc,#fffcfc,#fffcfc,#fffcfc,#fffcfc,#fffcfc,#fffcfc,#fffcfc,#fffcfc,#fffcfc,#fffcfc,#fffbfb,#fffafa,#fff9f9,#fff6f6,#fff2f2,#ffeeee,#ffeaea,#fee5e5,#fee1e1,#fedede,#fedcdc,#fedcdc,#fedcdc,#fedede,#fee1e1,#fee5e5,#ffeaea,#ffeeee,#fff2f2,#fff6f6,#fff9f9,#fffafa,#fffbfb,#fffcfc,#fffcfc,#fffcfc,#fffcfc,#fffcfc,#fffcfc,#fffcfc,#fffcfc,#fffcfc,#fffcfc,#fffcfc,#fffcfc,#fffcfc,#fffcfc,#fffcfc)"></div><div style="height:2px;background:linear-gradient(90deg,#fffcfc,#fffcfc,#fffcfc,#fffcfc,#fffcfc,#fffcfc,#fffcfc,#fffcfc,#fffcfc,#fffcfc,#fffcfc,#fffcfc,#fffcfc,#fffcfc,#fffcfc,#fffcfc,#fffcfc,#fffbfb,#fffafa,#fff9f9,#fff7f7,#fff5f5,#fff2f2,#fff0f0,#ffefef,#ffeeee,#ffeded,#ffeeee,#ffefef,#fff0f0,#fff2f2,#fff5f5,#fff7f7,#fff9f9,#fffafa,#fffbfb,#fffcfc,#fffcfc,#fffcfc,#fffcfc,#fffcfc,#fffcfc,#fffcfc,#fffcfc,#fffcfc,#fffcfc,#fffcfc,#fffcfc,#fffcfc,#fffcfc,#fffcfc,#fffcfc,#fffcfc)"></div><div style="height:2px;background:linear-gradient(90deg,#fffcfc,#fffcfc,#fffcfc,#fffcfc,#fffcfc,#fffcfc,#fffcfc,#fffcfc,#fffcfc,#fffcfc,#fffcfc,#fffcfc,#fffcfc,#fffcfc,#fffcfc,#fffcfc,#fffcfc,#fffcfc,#fffcfc,#fffbfb,#fffbfb,#fffafa,#fff9f9,#fff8f8,#fff7f7,#fff7f7,#fff7f7,#fff7f7,#fff7f7,#fff8f8,#fff9f9,#fffafa,#fffbfb,#fffbfb,#fffcfc,#fffcfc,#fffcfc,#fffcfc,#fffcfc,#fffcfc,#fffcfc,#fffcfc,#fffcfc,#fffcfc,#fffcfc,#fffcfc,#fffcfc,#fffcfc,#fffcfc,#fffcfc,#fffcfc,#fffcfc,#fffcfc)"></div><div style="height:2px;background:linear-gradient(90deg,#fffcfc,#fffcfc,#fffcfc,#fffcfc,#fffcfc,#fffcfc,#fffcfc,#fffcfc,#fffcfc,#fffcfc,#fffcfc,#fffcfc,#fffcfc,#fffcfc,#fffcfc,#fffcfc,#fffcfc,#fffcfc,#fffcfc,#fffcfc,#fffcfc,#fffcfc,#fffbfb,#fffbfb,#fffbfb,#fffbfb,#fffbfb,#fffbfb,#fffbfb,#fffbfb,#fffbfb,#fffcfc,#fffcfc,#fffcfc,#fffcfc,#fffcfc,#fffcfc,#fffcfc,#fffcfc,#fffcfc,#fffcfc,#fffcfc,#fffcfc,#fffcfc,#fffcfc,#fffcfc,#fffcfc,#fffcfc,#fffcfc,#fffcfc,#fffcfc,#fffcfc,#fffcfc)"></div><div style="height:2px;background:linear-gradient(90deg,#fffcfc,#fffcfc,#fffcfc,#fffcfc,#fffcfc,#fffcfc,#fffcfc,#fffcfc,#fffcfc,#fffcfc,#fffcfc,#fffcfc,#fffcfc,#fffcfc,#fffcfc,#fffcfc,#fffcfc,#fffcfc,#fffcfc,#fffcfc,#fffcfc,#fffcfc,#fffcfc,#fffcfc,#fffcfc,#fffcfc,#fffcfc,#fffcfc,#fffcfc,#fffcfc,#fffcfc,#fffcfc,#fffcfc,#fffcfc,#fffcfc,#fffcfc,#fffcfc,#fffcfc,#fffcfc,#fffcfc,#fffcfc,#fffcfc,#fffcfc,#fffcfc,#fffcfc,#fffcfc,#fffcfc,#fffcfc,#fffcfc,#fffcfc,#fffcfc,#fffcfc,#fffcfc)"></div><div style="height:2px;background:linear-gradient(90deg,#fffcfc,#fffcfc,#fffcfc,#fffcfc,#fffcfc,#fffcfc,#fffcfc,#fffcfc,#fffcfc,#fffcfc,#fffcfc,#fffcfc,#fffcfc,#fffcfc,#fffcfc,#fffcfc,#fffcfc,#fffcfc,#fffcfc,#fffcfc,#fffcfc,#fffcfc,#fffcfc,#fffcfc,#fffcfc,#fffcfc,#fffcfc,#fffcfc,#fffcfc,#fffcfc,#fffcfc,#fffcfc,#fffcfc,#fffcfc,#fffcfc,#fffcfc,#fffcfc,#fffcfc,#fffcfc,#fffcfc,#fffcfc,#fffcfc,#fffcfc,#fffcfc,#fffcfc,#fffcfc,#fffcfc,#fffcfc,#fffcfc,#fffcfc,#fffcfc,#fffcfc,#fffcfc)"></div><div style="height:2px;background:linear-gradient(90deg,#fffcfc,#fffcfc,#fffcfc,#fffcfc,#fffcfc,#fffcfc,#fffcfc,#fffcfc,#fffcfc,#fffcfc,#fffcfc,#fffcfc,#fffcfc,#fffcfc,#fffcfc,#fffcfc,#fffcfc,#fffcfc,#fffcfc,#fffcfc,#fffcfc,#fffcfc,#fffcfc,#fffcfc,#fffcfc,#fffcfc,#fffcfc,#fffcfc,#fffcfc,#fffcfc,#fffcfc,#fffcfc,#fffcfc,#fffcfc,#fffcfc,#fffcfc,#fffcfc,#fffcfc,#fffcfc,#fffcfc,#fffcfc,#fffcfc,#fffcfc,#fffcfc,#fffcfc,#fffcfc,#fffcfc,#fffcfc,#fffcfc,#fffcfc,#fffcfc,#fffcfc,#fffcfc)"></div><div style="height:2px;background:linear-gradient(90deg,#fffcfc,#fffcfc,#fffcfc,#fffcfc,#fffcfc,#fffcfc,#fffcfc,#fffcfc,#fffcfc,#fffcfc,#fffcfc,#fffcfc,#fffcfc,#fffcfc,#fffcfc,#fffcfc,#fffcfc,#fffcfc,#fffcfc,#fffcfc,#fffcfc,#fffcfc,#fffcfc,#fffcfc,#fffcfc,#fffcfc,#fffcfc,#fffcfc,#fffcfc,#fffcfc,#fffcfc,#fffcfc,#fffcfc,#fffcfc,#fffcfc,#fffcfc,#fffcfc,#fffcfc,#fffcfc,#fffcfc,#fffcfc,#fffcfc,#fffcfc,#fffcfc,#fffcfc,#fffcfc,#fffcfc,#fffcfc,#fffcfc,#fffcfc,#fffcfc,#fffcfc,#fffcfc)"></div><div style="height:2px;background:linear-gradient(90deg,#fffcfc,#fffcfc,#fffcfc,#fffcfc,#fffcfc,#fffcfc,#fffcfc,#fffcfc,#fffcfc,#fffcfc,#fffcfc,#fffcfc,#fffcfc,#fffcfc,#fffcfc,#fffcfc,#fffcfc,#fffcfc,#fffcfc,#fffcfc,#fffcfc,#fffcfc,#fffcfc,#fffcfc,#fffcfc,#fffcfc,#fffcfc,#fffcfc,#fffcfc,#fffcfc,#fffcfc,#fffcfc,#fffcfc,#fffcfc,#fffcfc,#fffcfc,#fffcfc,#fffcfc,#fffcfc,#fffcfc,#fffcfc,#fffcfc,#fffcfc,#fffcfc,#fffcfc,#fffcfc,#fffcfc,#fffcfc,#fffcfc,#fffcfc,#fffcfc,#fffcfc,#fffcfc)"></div><div style="height:2px;background:linear-gradient(90deg,#fffcfc,#fffcfc,#fffcfc,#fffcfc,#fffcfc,#fffcfc,#fffcfc,#fffcfc,#fffcfc,#fffcfc,#fffcfc,#fffcfc,#fffcfc,#fffcfc,#fffcfc,#fffcfc,#fffcfc,#fffcfc,#fffcfc,#fffcfc,#fffcfc,#fffcfc,#fffcfc,#fffcfc,#fffcfc,#fffcfc,#fffcfc,#fffcfc,#fffcfc,#fffcfc,#fffcfc,#fffcfc,#fffcfc,#fffcfc,#fffcfc,#fffcfc,#fffcfc,#fffcfc,#fffcfc,#fffcfc,#fffcfc,#fffcfc,#fffcfc,#fffcfc,#fffcfc,#fffcfc,#fffcfc,#fffcfc,#fffcfc,#fffcfc,#fffcfc,#fffcfc,#fffcfc)"></div><div style="height:2px;background:linear-gradient(90deg,#fffcfc,#fffcfc,#fffcfc,#fffcfc,#fffcfc,#fffcfc,#fffcfc,#fffcfc,#fffcfc,#fffcfc,#fffcfc,#fffcfc,#fffcfc,#fffcfc,#fffcfc,#fffcfc,#fffcfc,#fffcfc,#fffcfc,#fffcfc,#fffcfc,#fffcfc,#fffcfc,#fffcfc,#fffcfc,#fffcfc,#fffcfc,#fffcfc,#fffcfc,#fffcfc,#fffcfc,#fffcfc,#fffcfc,#fffcfc,#fffcfc,#fffcfc,#fffcfc,#fffcfc,#fffcfc,#fffcfc,#fffcfc,#fffcfc,#fffcfc,#fffcfc,#fffcfc,#fffcfc,#fffcfc,#fffcfc,#fffcfc,#fffcfc,#fffcfc,#fffcfc,#fffcfc)"></div><div style="height:2px;background:linear-gradient(90deg,#fffcfc,#fffcfc,#fffcfc,#fffcfc,#fffcfc,#fffcfc,#fffcfc,#fffcfc,#fffcfc,#fffcfc,#fffcfc,#fffcfc,#fffcfc,#fffcfc,#fffcfc,#fffcfc,#fffcfc,#fffcfc,#fffcfc,#fffcfc,#fffcfc,#fffcfc,#fffcfc,#fffcfc,#fffcfc,#fffcfc,#fffcfc,#fffcfc,#fffcfc,#fffcfc,#fffcfc,#fffcfc,#fffcfc,#fffcfc,#fffcfc,#fffcfc,#fffcfc,#fffcfc,#fffcfc,#fffcfc,#fffcfc,#fffcfc,#fffcfc,#fffcfc,#fffcfc,#fffcfc,#fffcfc,#fffcfc,#fffcfc,#fffcfc,#fffcfc,#fffcfc,#fffcfc)"></div><div style="height:2px;background:linear-gradient(90deg,#fffcfc,#fffcfc,#fffcfc,#fffcfc,#fffcfc,#fffcfc,#fffcfc,#fffcfc,#fffcfc,#fffcfc,#fffcfc,#fffcfc,#fffcfc,#fffcfc,#fffcfc,#fffcfc,#fffcfc,#fffcfc,#fffcfc,#fffcfc,#fffcfc,#fffcfc,#fffcfc,#fffcfc,#fffcfc,#fffcfc,#fffcfc,#fffcfc,#fffcfc,#fffcfc,#fffcfc,#fffcfc,#fffcfc,#fffcfc,#fffcfc,#fffcfc,#fffcfc,#fffcfc,#fffcfc,#fffcfc,#fffcfc,#fffcfc,#fffcfc,#fffcfc,#fffcfc,#fffcfc,#fffcfc,#fffcfc,#fffcfc,#fffcfc,#fffcfc,#fffcfc,#fffcfc)"></div><div style="height:1px;background:linear-gradient(90deg,#fffcfc,#fffcfc,#fffcfc,#fffcfc,#fffcfc,#fffcfc,#fffcfc,#fffcfc,#fffcfc,#fffcfc,#fffcfc,#fffcfc,#fffcfc,#fffcfc,#fffcfc,#fffcfc,#fffcfc,#fffcfc,#fffcfc,#fffcfc,#fffcfc,#fffcfc,#fffcfc,#fffcfc,#fffcfc,#fffcfc,#fffcfc,#fffcfc,#fffcfc,#fffcfc,#fffcfc,#fffcfc,#fffcfc,#fffcfc,#fffcfc,#fffcfc,#fffcfc,#fffcfc,#fffcfc,#fffcfc,#fffcfc,#fffcfc,#fffcfc,#fffcfc,#fffcfc,#fffcfc,#fffcfc,#fffcfc,#fffcfc,#fffcfc,#fffcfc,#fffcfc,#fffcfc)"></div></div><div style="position:absolute;left:360px;top:157px;width:105px;height:105px"><div style="height:2px;background:linear-gradient(90deg,#fffdfd,#fffdfd,#fffdfd,#fffdfd,#fffdfd,#fffdfd,#fffdfd,#fffdfd,#fffdfd,#fffcfc,#fffcfc,#fffafa,#fff8f8,#fff5f5,#fff2f2,#ffeded,#ffe9e9,#fee5e5,#fee1e1,#fedede,#fedcdc,#fedbdb,#fed9d9,#fed9d9,#fed8d8,#fed8d8,#fed8d8,#fed8d8,#fed9d9,#fed9d9,#fedbdb,#fedcdc,#fedede,#fee1e1,#fee5e5,#ffe9e9,#ffeded,#fff2f2,#fff5f5,#fff8f8,#fffafa,#fffcfc,#fffcfc,#fffdfd,#fffdfd,#fffdfd,#fffdfd,#fffdfd,#fffdfd,#fffdfd,#fffdfd,#fffdfd,#fffdfd)"></div><div style="height:2px;background:linear-gradient(90deg,#fffdfd,#fffdfd,#fffdfd,#fffdfd,#fffdfd,#fffdfd,#fffdfd,#fffdfd,#fffcfc,#fffbfb,#fff9f9,#fff6f6,#fff2f2,#ffeded,#fee7e7,#fee2e2,#fedede,#fedada,#fed8d8,#fed7d7,#fed6d6,#fed6d6,#fed6d6,#fed7d7,#fed7d7,#fed7d7,#fed7d7,#fed7d7,#fed7d7,#fed6d6,#fed6d6,#fed6d6,#fed7d7,#fed8d8,#fedada,#fedede,#fee2e2,#fee7e7,#ffeded,#fff2f2,#fff6f6,#fff9f9,#fffbfb,#fffcfc,#fffdfd,#fffdfd,#fffdfd,#fffdfd,#fffdfd,#fffdfd,#fffdfd,#fffdfd,#fffdfd)"></div><div style="height:2px;background:linear-gradient(90deg,#fffdfd,#fffdfd,#fffdfd,#fffdfd,#fffdfd,#fffdfd,#fffdfd,#fffcfc,#fffafa,#fff8f8,#fff4f4,#ffeeee,#ffe8e8,#fee2e2,#fedcdc,#fed8d8,#fed6d6,#fed5d5,#fed6d6,#fed8d8,#fed9d9,#fedbdb,#fedddd,#fedfdf,#fedfdf,#fee0e0,#fee0e0,#fedfdf,#fedfdf,#fedddd,#fedbdb,#fed9d9,#fed8d8,#fed6d6,#fed5d5,#fed6d6,#fed8d8,#fedcdc,#fee2e2,#ffe8e8,#ffeeee,#fff4f4,#fff8f8,#fffafa,#fffcfc,#fffdfd,#fffdfd,#fffdfd,#fffdfd,#fffdfd,#fffdfd,#fffdfd,#fffdfd)"></div><div style="height:2px;background:linear-gradient(90deg,#fffdfd,#fffdfd,#fffdfd,#fffdfd,#fffdfd,#fffcfc,#fffcfc,#fffafa,#fff7f7,#fff2f2,#ffebeb,#fee4e4,#fedddd,#fed8d8,#fed5d5,#fed5d5,#fed6d6,#fed9d9,#fedddd,#fee1e1,#fee4e4,#fee7e7,#ffe9e9,#ffebeb,#ffecec,#ffeded,#ffeded,#ffecec,#ffebeb,#ffe9e9,#fee7e7,#fee4e4,#fee1e1,#fedddd,#fed9d9,#fed6d6,#fed5d5,#fed5d5,#fed8d8,#fedddd,#fee4e4,#ffebeb,#fff2f2,#fff7f7,#fffafa,#fffcfc,#fffcfc,#fffdfd,#fffdfd,#fffdfd,#fffdfd,#fffdfd,#fffdfd)"></div><div style="height:2px;background:linear-gradient(90deg,#fffdfd,#fffdfd,#fffdfd,#fffdfd,#fffdfd,#fffcfc,#fffafa,#fff6f6,#fff1f1,#ffe9e9,#fee1e1,#fedada,#fed5d5,#fed4d4,#fed5d5,#fed9d9,#fedede,#fee4e4,#ffe9e9,#ffeded,#fff0f0,#fff3f3,#fff6f6,#fff8f8,#fff9f9,#fff9f9,#fff9f9,#fff9f9,#fff8f8,#fff6f6,#fff3f3,#fff0f0,#ffeded,#ffe9e9,#fee4e4,#fedede,#fed9d9,#fed5d5,#fed4d4,#fed5d5,#fedada,#fee1e1,#ffe9e9,#fff1f1,#fff6f6,#fffafa,#fffcfc,#fffdfd,#fffdfd,#fffdfd,#fffdfd,#fffdfd,#fffdfd)"></div><div style="height:2px;background:linear-gradient(90deg,#fffdfd,#fffdfd,#fffdfd,#fffdfd,#fffcfc,#fffafa,#fff6f6,#fff0f0,#ffe8e8,#fedfdf,#fed7d7,#fed3d3,#fed3d3,#fed7d7,#fedddd,#fee4e4,#ffeaea,#fff0f0,#fff4f4,#fff9f9,#fefbfc,#fbfafe,#f8f8ff,#f4f4ff,#f1f1ff,#f0f0ff,#f0f0ff,#f1f1ff,#f4f4ff,#f8f8ff,#fbfafe,#fefbfc,#fff9f9,#fff4f4,#fff0f0,#ffeaea,#fee4e4,#fedddd,#fed7d7,#fed3d3,#fed3d3,#fed7d7,#fedfdf,#ffe8e8,#fff0f0,#fff6f6,#fffafa,#fffcfc,#fffdfd,#fffdfd,#fffdfd,#fffdfd,#fffdfd)"></div><div style="height:2px;background:linear-gradient(90deg,#fffdfd,#fffdfd,#fffdfd,#fffcfc,#fffafa,#fff7f7,#fff1f1,#ffe8e8,#fedede,#fed6d6,#fed2d2,#fed3d3,#fed9d9,#fee0e0,#ffe8e8,#ffefef,#fff5f5,#fffafa,#fcfbfe,#f4f4ff,#ebebfe,#e5e5fe,#e0e0fe,#dedefe,#ddddfe,#dcdcfe,#dcdcfe,#ddddfe,#dedefe,#e0e0fe,#e5e5fe,#ebebfe,#f4f4ff,#fcfbfe,#fffafa,#fff5f5,#ffefef,#ffe8e8,#fee0e0,#fed9d9,#fed3d3,#fed2d2,#fed6d6,#fedede,#ffe8e8,#fff1f1,#fff7f7,#fffafa,#fffcfc,#fffdfd,#fffdfd,#fffdfd,#fffdfd)"></div><div style="height:2px;background:linear-gradient(90deg,#fffdfd,#fffdfd,#fffcfc,#fffbfb,#fff8f8,#fff2f2,#ffe9e9,#fedede,#fed5d5,#fed1d1,#fed3d3,#fed9d9,#fee2e2,#ffebeb,#fff2f2,#fff8f8,#fdfbfe,#f3f3ff,#e7e7fe,#dedefe,#dadafe,#d9d9fe,#d9d9fe,#d9d9fe,#d9d9fe,#d9d9fe,#d9d9fe,#d9d9fe,#d9d9fe,#d9d9fe,#d9d9fe,#dadafe,#dedefe,#e7e7fe,#f3f3ff,#fdfbfe,#fff8f8,#fff2f2,#ffebeb,#fee2e2,#fed9d9,#fed3d3,#fed1d1,#fed5d5,#fedede,#ffe9e9,#fff2f2,#fff8f8,#fffbfb,#fffcfc,#fffdfd,#fffdfd,#fffdfd)"></div><div style="height:2px;background:linear-gradient(90deg,#fffdfd,#fffdfd,#fffcfc,#fff9f9,#fff3f3,#ffebeb,#fee0e0,#fed6d6,#fed0d0,#fed2d2,#fed9d9,#fee3e3,#ffecec,#fff4f4,#fffbfb,#f8f8ff,#eaeafe,#dedefe,#d9d9fe,#d8d8fe,#d8d8fe,#dadafe,#dbdbfe,#dcdcfe,#dcdcfe,#ddddfe,#ddddfe,#dcdcfe,#dcdcfe,#dbdbfe,#dadafe,#d8d8fe,#d8d8fe,#d9d9fe,#dedefe,#eaeafe,#f8f8ff,#fffbfb,#fff4f4,#ffecec,#fee3e3,#fed9d9,#fed2d2,#fed0d0,#fed6d6,#fee0e0,#ffebeb,#fff3f3,#fff9f9,#fffcfc,#fffdfd,#fffdfd,#fffdfd)"></div><div style="height:2px;background:linear-gradient(90deg,#fffdfd,#fffcfc,#fffafa,#fff6f6,#ffeeee,#fee2e2,#fed7d7,#fed0d0,#fed1d1,#fed8d8,#fee2e2,#ffecec,#fff5f5,#fefbfc,#f5f5ff,#e4e4fe,#dadafe,#d7d7fe,#d8d8fe,#dadafe,#dcdcfe,#dedefe,#dfdffe,#dfdffe,#e0e0fe,#e0e0fe,#e0e0fe,#e0e0fe,#dfdffe,#dfdffe,#dedefe,#dcdcfe,#dadafe,#d8d8fe,#d7d7fe,#dadafe,#e4e4fe,#f5f5ff,#fefbfc,#fff5f5,#ffecec,#fee2e2,#fed8d8,#fed1d1,#fed0d0,#fed7d7,#fee2e2,#ffeeee,#fff6f6,#fffafa,#fffcfc,#fffdfd,#fffdfd)"></div><div style="height:2px;background:linear-gradient(90deg,#fffcfc,#fffbfb,#fff8f8,#fff1f1,#fee6e6,#fedada,#fed1d1,#fecfcf,#fed5d5,#fee0e0,#ffebeb,#fff4f4,#fffbfc,#f5f5ff,#e2e2fe,#d8d8fe,#d7d7fe,#d9d9fe,#dcdcfe,#dedefe,#dfdffe,#e0e0fe,#e1e1fe,#e1e1fe,#e1e1fe,#e1e1fe,#e1e1fe,#e1e1fe,#e1e1fe,#e1e1fe,#e0e0fe,#dfdffe,#dedefe,#dcdcfe,#d9d9fe,#d7d7fe,#d8d8fe,#e2e2fe,#f5f5ff,#fffbfc,#fff4f4,#ffebeb,#fee0e0,#fed5d5,#fecfcf,#fed1d1,#fedada,#fee6e6,#fff1f1,#fff8f8,#fffbfb,#fffcfc,#fffdfd)"></div><div style="height:2px;background:linear-gradient(90deg,#fffcfc,#fffafa,#fff5f5,#ffebeb,#fedede,#fed3d3,#fecece,#fed1d1,#fedcdc,#ffe8e8,#fff2f2,#fffafa,#f7f7ff,#e2e2fe,#d7d7fe,#d6d6fe,#d9d9fe,#ddddfe,#dfdffe,#e0e0fe,#e1e1fe,#e1e1fe,#e1e1fe,#e1e1fe,#e1e1fe,#e1e1fe,#e1e1fe,#e1e1fe,#e1e1fe,#e1e1fe,#e1e1fe,#e1e1fe,#e0e0fe,#dfdffe,#ddddfe,#d9d9fe,#d6d6fe,#d7d7fe,#e2e2fe,#f7f7ff,#fffafa,#fff2f2,#ffe8e8,#fedcdc,#fed1d1,#fecece,#fed3d3,#fedede,#ffebeb,#fff5f5,#fffafa,#fffcfc,#fffdfd)"></div><div style="height:2px;background:linear-gradient(90deg,#fffbfb,#fff8f8,#fff0f0,#fee4e4,#fed7d7,#fecece,#fecece,#fed7d7,#fee4e4,#ffefef,#fff8f8,#fbfafe,#e6e6fe,#d7d7fe,#d5d5fe,#d9d9fe,#ddddfe,#e0e0fe,#e1e1fe,#e1e1fe,#e1e1fe,#e1e1fe,#e1e1fe,#e1e1fe,#e1e1fe,#e1e1fe,#e1e1fe,#e1e1fe,#e1e1fe,#e1e1fe,#e1e1fe,#e1e1fe,#e1e1fe,#e1e1fe,#e0e0fe,#ddddfe,#d9d9fe,#d5d5fe,#d7d7fe,#e6e6fe,#fbfafe,#fff8f8,#ffefef,#fee4e4,#fed7d7,#fecece,#fecece,#fed7d7,#fee4e4,#fff0f0,#fff8f8,#fffbfb,#fffcfc)"></div><div style="height:2px;background:linear-gradient(90deg,#fffafa,#fff5f5,#ffebeb,#fedede,#fed1d1,#fecccc,#fed1d1,#fedede,#ffebeb,#fff5f5,#fefcfd,#ededff,#d8d8fe,#d4d4fe,#d8d8fe,#ddddfe,#e0e0fe,#e1e1fe,#e1e1fe,#e1e1fe,#e1e1fe,#e1e1fe,#e1e1fe,#e1e1fe,#e1e1fe,#e1e1fe,#e1e1fe,#e1e1fe,#e1e1fe,#e1e1fe,#e1e1fe,#e1e1fe,#e1e1fe,#e1e1fe,#e1e1fe,#e0e0fe,#ddddfe,#d8d8fe,#d4d4fe,#d8d8fe,#ededff,#fefcfd,#fff5f5,#ffebeb,#fedede,#fed1d1,#fecccc,#fed1d1,#fedede,#ffebeb,#fff5f5,#fffafa,#fffcfc)"></div><div style="height:2px;background:linear-gradient(90deg,#fff9f9,#fff1f1,#fee5e5,#fed7d7,#fecdcd,#fecccc,#fed6d6,#fee4e4,#fff0f0,#fff9f9,#f7f7ff,#dedefe,#d4d4fe,#d6d6fe,#dbdbfe,#dfdffe,#e1e1fe,#e1e1fe,#e2e2fe,#e2e2fe,#e2e2fe,#e2e2fe,#e2e2fe,#e2e2fe,#e2e2fe,#e2e2fe,#e2e2fe,#e2e2fe,#e2e2fe,#e2e2fe,#e2e2fe,#e2e2fe,#e2e2fe,#e2e2fe,#e1e1fe,#e1e1fe,#dfdffe,#dbdbfe,#d6d6fe,#d4d4fe,#dedefe,#f7f7ff,#fff9f9,#fff0f0,#fee4e4,#fed6d6,#fecccc,#fecdcd,#fed7d7,#fee5e5,#fff1f1,#fff9f9,#fffbfb)"></div><div style="height:2px;background:linear-gradient(90deg,#fff7f7,#ffeded,#fee0e0,#fed2d2,#fecaca,#fecfcf,#fedcdc,#ffeaea,#fff5f5,#fefcfd,#eaeafe,#d5d5fe,#d4d4fe,#d9d9fe,#dedefe,#e1e1fe,#e1e1fe,#e2e2fe,#e2e2fe,#e2e2fe,#e2e2fe,#e2e2fe,#e2e2fe,#e2e2fe,#e2e2fe,#e2e2fe,#e2e2fe,#e2e2fe,#e2e2fe,#e2e2fe,#e2e2fe,#e2e2fe,#e2e2fe,#e2e2fe,#e2e2fe,#e1e1fe,#e1e1fe,#dedefe,#d9d9fe,#d4d4fe,#d5d5fe,#eaeafe,#fefcfd,#fff5f5,#ffeaea,#fedcdc,#fecfcf,#fecaca,#fed2d2,#fee0e0,#ffeded,#fff7f7,#fffafa)"></div><div style="height:2px;background:linear-gradient(90deg,#fff4f4,#ffe9e9,#fedada,#fecdcd,#fecaca,#fed2d2,#fee1e1,#ffefef,#fff8f8,#f9f9ff,#dedefe,#d2d2fe,#d6d6fe,#dcdcfe,#e0e0fe,#e1e1fe,#e2e2fe,#e2e2fe,#e2e2fe,#e2e2fe,#e2e2fe,#e2e2fe,#e2e2fe,#e2e2fe,#e2e2fe,#e2e2fe,#e2e2fe,#e2e2fe,#e2e2fe,#e2e2fe,#e2e2fe,#e2e2fe,#e2e2fe,#e2e2fe,#e2e2fe,#e2e2fe,#e1e1fe,#e0e0fe,#dcdcfe,#d6d6fe,#d2d2fe,#dedefe,#f9f9ff,#fff8f8,#ffefef,#fee1e1,#fed2d2,#fecaca,#fecdcd,#fedada,#ffe9e9,#fff4f4,#fff9f9)"></div><div style="height:2px;background:linear-gradient(90deg,#fff2f2,#fee5e5,#fed5d5,#fecaca,#fecaca,#fed6d6,#fee5e5,#fff2f2,#fffbfb,#f0f0ff,#d6d6fe,#d2d2fe,#d8d8fe,#dedefe,#e1e1fe,#e2e2fe,#e2e2fe,#e2e2fe,#e2e2fe,#e2e2fe,#e2e2fe,#e3e3fe,#e3e3fe,#e3e3fe,#e3e3fe,#e3e3fe,#e3e3fe,#e3e3fe,#e3e3fe,#e3e3fe,#e3e3fe,#e2e2fe,#e2e2fe,#e2e2fe,#e2e2fe,#e2e2fe,#e2e2fe,#e1e1fe,#dedefe,#d8d8fe,#d2d2fe,#d6d6fe,#f0f0ff,#fffbfb,#fff2f2,#fee5e5,#fed6d6,#fecaca,#fecaca,#fed5d5,#fee5e5,#fff2f2,#fff8f8)"></div><div style="height:2px;background:linear-gradient(90deg,#ffefef,#fee1e1,#fed1d1,#fec8c8,#fecccc,#fed9d9,#ffe9e9,#fff5f5,#fdfcfd,#e6e6fe,#d2d2fe,#d4d4fe,#dbdbfe,#e0e0fe,#e2e2fe,#e3e3fe,#e3e3fe,#e3e3fe,#e3e3fe,#e3e3fe,#e3e3fe,#e3e3fe,#e3e3fe,#e3e3fe,#e3e3fe,#e3e3fe,#e3e3fe,#e3e3fe,#e3e3fe,#e3e3fe,#e3e3fe,#e3e3fe,#e3e3fe,#e3e3fe,#e3e3fe,#e3e3fe,#e3e3fe,#e2e2fe,#e0e0fe,#dbdbfe,#d4d4fe,#d2d2fe,#e6e6fe,#fdfcfd,#fff5f5,#ffe9e9,#fed9d9,#fecccc,#fec8c8,#fed1d1,#fee1e1,#ffefef,#fff6f6)"></div><div style="height:2px;background:linear-gradient(90deg,#ffecec,#fedddd,#fecdcd,#fec7c7,#fecdcd,#fedcdc,#ffecec,#fff7f7,#fbfafe,#dedefe,#d1d1fe,#d6d6fe,#ddddfe,#e2e2fe,#e3e3fe,#e3e3fe,#e4e4fe,#e4e4fe,#e4e4fe,#e4e4fe,#e4e4fe,#e4e4fe,#e4e4fe,#e5e5fe,#e5e5fe,#e5e5fe,#e5e5fe,#e5e5fe,#e5e5fe,#e4e4fe,#e4e4fe,#e4e4fe,#e4e4fe,#e4e4fe,#e4e4fe,#e4e4fe,#e3e3fe,#e3e3fe,#e2e2fe,#ddddfe,#d6d6fe,#d1d1fe,#dedefe,#fbfafe,#fff7f7,#ffecec,#fedcdc,#fecdcd,#fec7c7,#fecdcd,#fedddd,#ffecec,#fff5f5)"></div><div style="height:2px;background:linear-gradient(90deg,#ffeaea,#fed9d9,#fecaca,#fec6c6,#fecfcf,#fedfdf,#ffeeee,#fff8f8,#f7f7ff,#d9d9fe,#d1d1fe,#d8d8fe,#dfdffe,#e3e3fe,#e4e4fe,#e5e5fe,#e5e5fe,#e5e5fe,#e5e5fe,#e6e6fe,#e6e6fe,#e6e6fe,#e6e6fe,#e6e6fe,#e6e6fe,#e6e6fe,#e6e6fe,#e6e6fe,#e6e6fe,#e6e6fe,#e6e6fe,#e6e6fe,#e6e6fe,#e5e5fe,#e5e5fe,#e5e5fe,#e5e5fe,#e4e4fe,#e3e3fe,#dfdffe,#d8d8fe,#d1d1fe,#d9d9fe,#f7f7ff,#fff8f8,#ffeeee,#fedfdf,#fecfcf,#fec6c6,#fecaca,#fed9d9,#ffeaea,#fff3f3)"></div><div style="height:2px;background:linear-gradient(90deg,#ffe7e7,#fed7d7,#fec8c8,#fec5c5,#fed0d0,#fee1e1,#ffefef,#fff9f9,#f3f3ff,#d7d7fe,#d3d3fe,#dadafe,#e1e1fe,#e4e4fe,#e6e6fe,#e6e6fe,#e6e6fe,#e7e7fe,#e7e7fe,#e8e8fe,#e8e8fe,#e8e8fe,#e8e8fe,#e9e9fe,#e9e9fe,#e9e9fe,#e9e9fe,#e9e9fe,#e9e9fe,#e8e8fe,#e8e8fe,#e8e8fe,#e8e8fe,#e7e7fe,#e7e7fe,#e6e6fe,#e6e6fe,#e6e6fe,#e4e4fe,#e1e1fe,#dadafe,#d3d3fe,#d7d7fe,#f3f3ff,#fff9f9,#ffefef,#fee1e1,#fed0d0,#fec5c5,#fec8c8,#fed7d7,#ffe7e7,#fff1f1)"></div><div style="height:2px;background:linear-gradient(90deg,#fee6e6,#fed4d4,#fec6c6,#fec4c4,#fed0d0,#fee1e1,#fff0f0,#fff9f9,#f0f0ff,#d6d6fe,#d4d4fe,#ddddfe,#e3e3fe,#e6e6fe,#e7e7fe,#e8e8fe,#e8e8fe,#e9e9fe,#eaeafe,#eaeafe,#eaeafe,#ebebfe,#ebebfe,#ebebfe,#ececfe,#ececfe,#ececfe,#ececfe,#ebebfe,#ebebfe,#ebebfe,#eaeafe,#eaeafe,#eaeafe,#e9e9fe,#e8e8fe,#e8e8fe,#e7e7fe,#e6e6fe,#e3e3fe,#ddddfe,#d4d4fe,#d6d6fe,#f0f0ff,#fff9f9,#fff0f0,#fee1e1,#fed0d0,#fec4c4,#fec6c6,#fed4d4,#fee6e6,#fff0f0)"></div><div style="height:2px;background:linear-gradient(90deg,#fee4e4,#fed2d2,#fec4c4,#fec4c4,#fed0d0,#fee2e2,#ffefef,#fff9f9,#efefff,#d6d6fe,#d6d6fe,#dfdffe,#e5e5fe,#e8e8fe,#e9e9fe,#eaeafe,#ebebfe,#ececfe,#ececff,#ededff,#eeeeff,#eeeeff,#efefff,#efefff,#efefff,#efefff,#efefff,#efefff,#efefff,#efefff,#eeeeff,#eeeeff,#ededff,#ececff,#ececfe,#ebebfe,#eaeafe,#e9e9fe,#e8e8fe,#e5e5fe,#dfdffe,#d6d6fe,#d6d6fe,#efefff,#fff9f9,#ffefef,#fee2e2,#fed0d0,#fec4c4,#fec4c4,#fed2d2,#fee4e4,#ffefef)"></div><div style="height:2px;background:linear-gradient(90deg,#fee3e3,#fed1d1,#fec3c3,#fec3c3,#fecfcf,#fee1e1,#ffefef,#fff9f9,#efefff,#d7d7fe,#d8d8fe,#e1e1fe,#e7e7fe,#eaeafe,#ececfe,#ededff,#eeeeff,#efefff,#f0f0ff,#f1f1ff,#f1f1ff,#f2f2ff,#f3f3ff,#f3f3ff,#f3f3ff,#f3f3ff,#f3f3ff,#f3f3ff,#f3f3ff,#f3f3ff,#f2f2ff,#f1f1ff,#f1f1ff,#f0f0ff,#efefff,#eeeeff,#ededff,#ececfe,#eaeafe,#e7e7fe,#e1e1fe,#d8d8fe,#d7d7fe,#efefff,#fff9f9,#ffefef,#fee1e1,#fecfcf,#fec3c3,#fec3c3,#fed1d1,#fee3e3,#ffeeee)"></div><div style="height:2px;background:linear-gradient(90deg,#fee2e2,#fed0d0,#fec2c2,#fec1c1,#fecece,#fee0e0,#ffeeee,#fff7f7,#f0f0ff,#d8d8fe,#dadafe,#e3e3fe,#e9e9fe,#ededff,#eeeeff,#f0f0ff,#f1f1ff,#f2f2ff,#f3f3ff,#f4f4ff,#f5f5ff,#f6f6ff,#f7f7ff,#f7f7ff,#f8f8ff,#f8f8ff,#f8f8ff,#f8f8ff,#f7f7ff,#f7f7ff,#f6f6ff,#f5f5ff,#f4f4ff,#f3f3ff,#f2f2ff,#f1f1ff,#f0f0ff,#eeeeff,#ededff,#e9e9fe,#e3e3fe,#dadafe,#d8d8fe,#f0f0ff,#fff7f7,#ffeeee,#fee0e0,#fecece,#fec1c1,#fec2c2,#fed0d0,#fee2e2,#ffeeee)"></div><div style="height:2px;background:linear-gradient(90deg,#fee2e2,#fecfcf,#fec1c1,#fec0c0,#fecccc,#fedede,#ffecec,#fff6f6,#f2f2ff,#dadafe,#dbdbfe,#e4e4fe,#ececfe,#efefff,#f1f1ff,#f2f2ff,#f4f4ff,#f5f5ff,#f7f7ff,#f8f8ff,#f9f9ff,#fafaff,#fbfbff,#fcfcff,#fcfcff,#fcfcff,#fcfcff,#fcfcff,#fcfcff,#fbfbff,#fafaff,#f9f9ff,#f8f8ff,#f7f7ff,#f5f5ff,#f4f4ff,#f2f2ff,#f1f1ff,#efefff,#ececfe,#e4e4fe,#dbdbfe,#dadafe,#f2f2ff,#fff6f6,#ffecec,#fedede,#fecccc,#fec0c0,#fec1c1,#fecfcf,#fee2e2,#ffeeee)"></div><div style="height:2px;background:linear-gradient(90deg,#fee2e2,#fecfcf,#fec0c0,#febebe,#fecaca,#fedcdc,#ffeaea,#fff4f4,#f4f4ff,#dcdcfe,#dcdcfe,#e6e6fe,#ededff,#f1f1ff,#f3f3ff,#f5f5ff,#f7f7ff,#f8f8ff,#fafaff,#fcfcff,#fdfdff,#fefeff,#fffefe,#fffefe,#fffdfd,#fffdfd,#fffdfd,#fffefe,#fffefe,#fefeff,#fefeff,#fdfdff,#fbfbff,#fafaff,#f8f8ff,#f7f7ff,#f5f5ff,#f3f3ff,#f1f1ff,#ededff,#e6e6fe,#dcdcfe,#dcdcfe,#f4f4ff,#fff4f4,#ffeaea,#fedcdc,#fecaca,#febebe,#fec0c0,#fecfcf,#fee2e2,#ffeeee)"></div><div style="height:2px;background:linear-gradient(90deg,#fee4e4,#fed0d0,#fec0c0,#febcbc,#fec7c7,#fed9d9,#ffe8e8,#fff2f2,#f7f7fe,#dedefe,#ddddfe,#e6e6fe,#eeeeff,#f3f3ff,#f5f5ff,#f7f7ff,#f9f9ff,#fcfcff,#fefeff,#fffdfd,#fffbfb,#fff9f9,#fff8f8,#fff7f7,#fff7f7,#fff7f7,#fff7f7,#fff8f8,#fffafa,#fffbfb,#fffdfd,#fffefe,#fefeff,#fcfcff,#fbfbff,#f9f9ff,#f7f7ff,#f5f5ff,#f3f3ff,#eeeeff,#e6e6fe,#ddddfe,#dedefe,#f7f7fe,#fff2f2,#ffe8e8,#fed9d9,#fec7c7,#febcbc,#fec0c0,#fed0d0,#fee4e4,#ffefef)"></div><div style="height:2px;background:linear-gradient(90deg,#fee6e6,#fed3d3,#fec1c1,#febaba,#fec3c3,#fed4d4,#fee4e4,#fff0f0,#faf8fc,#e1e1fe,#ddddfe,#e6e6fe,#efefff,#f3f3ff,#f6f6ff,#f9f9ff,#fbfbff,#fefeff,#fffdfd,#fffafa,#fff8f8,#fff6f6,#fff5f5,#fff4f4,#fff3f3,#fff3f3,#fff4f4,#fff5f5,#fff7f7,#fff9f9,#fffbfb,#fffcfc,#fffefe,#fefeff,#fcfcff,#fafaff,#f8f8ff,#f6f6ff,#f3f3ff,#efefff,#e6e6fe,#ddddfe,#e1e1fe,#faf8fc,#fff0f0,#fee4e4,#fed4d4,#fec3c3,#febaba,#fec1c1,#fed3d3,#fee6e6,#fff0f0)"></div><div style="height:2px;background:linear-gradient(90deg,#ffe8e8,#fed6d6,#fec3c3,#feb9b9,#febebe,#fecece,#fedfdf,#ffecec,#fef9fa,#e6e6fe,#ddddfe,#e4e4fe,#ededff,#f3f3ff,#f6f6ff,#f9f9ff,#fbfbff,#fdfdff,#fffefe,#fffcfc,#fffbfb,#fff9f9,#fff8f8,#fff7f7,#fff7f7,#fff6f6,#fff6f6,#fff7f7,#fff8f8,#fff9f9,#fffbfb,#fffcfc,#fffefe,#ffffff,#fdfdff,#fbfbff,#f9f9ff,#f6f6ff,#f3f3ff,#ededff,#e4e4fe,#ddddfe,#e6e6fe,#fef9fa,#ffecec,#fedfdf,#fecece,#febebe,#feb9b9,#fec3c3,#fed6d6,#ffe8e8,#fff2f2)"></div><div style="height:2px;background:linear-gradient(90deg,#ffebeb,#fedada,#fec7c7,#feb9b9,#feb9b9,#fec6c6,#fed8d8,#fee7e7,#fff5f5,#efefff,#ddddfe,#e1e1fe,#eaeafe,#f1f1ff,#f6f6ff,#f8f8ff,#fafaff,#fcfcff,#fefeff,#fffefe,#fffdfd,#fffbfb,#fffafa,#fff9f9,#fff9f9,#fff8f8,#fff8f8,#fff9f9,#fff9f9,#fffafa,#fffbfb,#fffdfd,#fffefe,#fefeff,#fcfcff,#fafaff,#f8f8ff,#f6f6ff,#f1f1ff,#eaeafe,#e1e1fe,#ddddfe,#efefff,#fff5f5,#fee7e7,#fed8d8,#fec6c6,#feb9b9,#feb9b9,#fec7c7,#fedada,#ffebeb,#fff4f4)"></div><div style="height:2px;background:linear-gradient(90deg,#ffefef,#fee0e0,#fecccc,#febbbb,#fdb5b5,#febebe,#fecfcf,#fee0e0,#ffeeee,#f9f7fd,#e1e1fe,#dedefe,#e5e5fe,#ededff,#f3f3ff,#f6f6ff,#f9f9ff,#fbfbff,#fcfcff,#fefeff,#fffefe,#fffdfd,#fffcfc,#fffbfb,#fffbfb,#fffbfb,#fffbfb,#fffbfb,#fffbfb,#fffcfc,#fffdfd,#fffefe,#fefeff,#fcfcff,#fbfbff,#f9f9ff,#f6f6ff,#f3f3ff,#ededff,#e5e5fe,#dedefe,#e1e1fe,#f9f7fd,#ffeeee,#fee0e0,#fecfcf,#febebe,#fdb5b5,#febbbb,#fecccc,#fee0e0,#ffefef,#fff6f6)"></div><div style="height:2px;background:linear-gradient(90deg,#fff2f2,#fee6e6,#fed4d4,#fec0c0,#fdb5b5,#fdb6b6,#fec4c4,#fed5d5,#fee5e5,#fff6f6,#ededff,#ddddfe,#dfdffe,#e7e7fe,#eeeeff,#f3f3ff,#f6f6ff,#f8f8ff,#fafaff,#fbfbff,#fdfdff,#fefeff,#fefeff,#fffefe,#fffefe,#fffefe,#fffefe,#fffefe,#fffefe,#fefeff,#fefeff,#fdfdff,#fbfbff,#fafaff,#f8f8ff,#f6f6ff,#f3f3ff,#eeeeff,#e7e7fe,#dfdffe,#ddddfe,#ededff,#fff6f6,#fee5e5,#fed5d5,#fec4c4,#fdb6b6,#fdb5b5,#fec0c0,#fed4d4,#fee6e6,#fff2f2,#fff8f8)"></div><div style="height:2px;background:linear-gradient(90deg,#fff6f6,#ffecec,#fedddd,#fec9c9,#feb8b8,#fdb2b2,#feb9b9,#fec8c8,#fed9d9,#ffe9e9,#fcf8fb,#e6e6fe,#dcdcfe,#dfdffe,#e6e6fe,#ececfe,#f0f0ff,#f3f3ff,#f5f5ff,#f7f7ff,#f8f8ff,#fafaff,#fafaff,#fbfbff,#fbfbff,#fcfcff,#fcfcff,#fbfbff,#fbfbff,#fafaff,#fafaff,#f8f8ff,#f7f7ff,#f5f5ff,#f3f3ff,#f0f0ff,#ececfe,#e6e6fe,#dfdffe,#dcdcfe,#e6e6fe,#fcf8fb,#ffe9e9,#fed9d9,#fec8c8,#feb9b9,#fdb2b2,#feb8b8,#fec9c9,#fedddd,#ffecec,#fff6f6,#fff9f9)"></div><div style="height:2px;background:linear-gradient(90deg,#fff8f8,#fff2f2,#fee6e6,#fed4d4,#fec1c1,#fdb4b4,#fdb1b1,#febaba,#fec9c9,#fedada,#ffebeb,#faf7fc,#e5e5fe,#dcdcfe,#ddddfe,#e2e2fe,#e7e7fe,#ebebfe,#eeeeff,#f0f0ff,#f2f2ff,#f3f3ff,#f4f4ff,#f4f4ff,#f4f4ff,#f5f5ff,#f5f5ff,#f4f4ff,#f4f4ff,#f4f4ff,#f3f3ff,#f2f2ff,#f0f0ff,#eeeeff,#ebebfe,#e7e7fe,#e2e2fe,#ddddfe,#dcdcfe,#e5e5fe,#faf7fc,#ffebeb,#fedada,#fec9c9,#febaba,#fdb1b1,#fdb4b4,#fec1c1,#fed4d4,#fee6e6,#fff2f2,#fff8f8,#fffafa)"></div><div style="height:2px;background:linear-gradient(90deg,#fffafa,#fff6f6,#ffeeee,#fee1e1,#fecece,#febdbd,#fdb1b1,#fdb0b0,#feb9b9,#fec7c7,#fed8d8,#ffe9e9,#fcf7fa,#eaeafe,#dedefe,#dbdbfe,#dcdcfe,#dfdffe,#e2e2fe,#e5e5fe,#e7e7fe,#e8e8fe,#e9e9fe,#e9e9fe,#eaeafe,#eaeafe,#eaeafe,#eaeafe,#e9e9fe,#e9e9fe,#e8e8fe,#e7e7fe,#e5e5fe,#e2e2fe,#dfdffe,#dcdcfe,#dbdbfe,#dedefe,#eaeafe,#fcf7fa,#ffe9e9,#fed8d8,#fec7c7,#feb9b9,#fdb0b0,#fdb1b1,#febdbd,#fecece,#fee1e1,#ffeeee,#fff6f6,#fffafa,#fffbfb)"></div><div style="height:2px;background:linear-gradient(90deg,#fffbfb,#fff9f9,#fff4f4,#ffebeb,#fedddd,#fecbcb,#febbbb,#fdb0b0,#fdafaf,#fdb6b6,#fec2c2,#fed1d1,#fee1e1,#fef2f2,#f6f4fd,#e8e8fe,#dfdffe,#dbdbfe,#dbdbfe,#dbdbfe,#dcdcfe,#ddddfe,#ddddfe,#dedefe,#dedefe,#dedefe,#dedefe,#dedefe,#dedefe,#ddddfe,#ddddfe,#dcdcfe,#dbdbfe,#dbdbfe,#dbdbfe,#dfdffe,#e8e8fe,#f6f4fd,#fef2f2,#fee1e1,#fed1d1,#fec2c2,#fdb6b6,#fdafaf,#fdb0b0,#febbbb,#fecbcb,#fedddd,#ffebeb,#fff4f4,#fff9f9,#fffbfb,#fffcfc)"></div><div style="height:2px;background:linear-gradient(90deg,#fffcfc,#fffbfb,#fff9f9,#fff3f3,#ffeaea,#fedcdc,#fecbcb,#febbbb,#fdb0b0,#fdadad,#fdb1b1,#feb9b9,#fec5c5,#fed3d3,#fee1e1,#ffefef,#faf4f9,#f3f3fe,#ebebfe,#e5e5fe,#e2e2fe,#e0e0fe,#dfdffe,#dfdffe,#dfdffe,#dfdffe,#dfdffe,#dfdffe,#dfdffe,#dfdffe,#e0e0fe,#e2e2fe,#e5e5fe,#ebebfe,#f3f3fe,#faf4f9,#ffefef,#fee1e1,#fed3d3,#fec5c5,#feb9b9,#fdb1b1,#fdadad,#fdb0b0,#febbbb,#fecbcb,#fedcdc,#ffeaea,#fff3f3,#fff9f9,#fffbfb,#fffcfc,#fffcfc)"></div><div style="height:2px;background:linear-gradient(90deg,#fffcfc,#fffcfc,#fffbfb,#fff8f8,#fff3f3,#ffeaea,#fedddd,#fecece,#febfbf,#fdb3b3,#fdadad,#fdacac,#fdb0b0,#fdb8b8,#fec1c1,#fecbcb,#fed5d5,#fedfdf,#fee7e7,#ffeeee,#fef3f3,#fcf3f6,#fbf3f7,#faf3f8,#faf3f8,#faf3f8,#faf3f8,#faf3f8,#faf3f8,#fbf3f7,#fcf3f6,#fef3f3,#ffeeee,#fee7e7,#fedfdf,#fed5d5,#fecbcb,#fec1c1,#fdb8b8,#fdb0b0,#fdacac,#fdadad,#fdb3b3,#febfbf,#fecece,#fedddd,#ffeaea,#fff3f3,#fff8f8,#fffbfb,#fffcfc,#fffcfc,#fffcfc)"></div><div style="height:2px;background:linear-gradient(90deg,#fffdfd,#fffcfc,#fffcfc,#fffbfb,#fff8f8,#fff4f4,#ffecec,#fee1e1,#fed4d4,#fec6c6,#feb9b9,#fdb0b0,#fdacac,#fdabab,#fdadad,#fdb1b1,#fdb6b6,#febcbc,#fec1c1,#fec6c6,#fecaca,#fecdcd,#fed0d0,#fed1d1,#fed2d2,#fed2d2,#fed2d2,#fed2d2,#fed1d1,#fed0d0,#fecdcd,#fecaca,#fec6c6,#fec1c1,#febcbc,#fdb6b6,#fdb1b1,#fdadad,#fdabab,#fdacac,#fdb0b0,#feb9b9,#fec6c6,#fed4d4,#fee1e1,#ffecec,#fff4f4,#fff8f8,#fffbfb,#fffcfc,#fffcfc,#fffdfd,#fffdfd)"></div><div style="height:2px;background:linear-gradient(90deg,#fffdfd,#fffdfd,#fffcfc,#fffcfc,#fffbfb,#fff9f9,#fff5f5,#ffefef,#fee7e7,#fedcdc,#fed0d0,#fec4c4,#febaba,#fdb2b2,#fdadad,#fdaaaa,#fda9a9,#fdaaaa,#fdabab,#fdadad,#fdafaf,#fdb0b0,#fdb1b1,#fdb2b2,#fdb3b3,#fdb3b3,#fdb3b3,#fdb3b3,#fdb2b2,#fdb1b1,#fdb0b0,#fdafaf,#fdadad,#fdabab,#fdaaaa,#fda9a9,#fdaaaa,#fdadad,#fdb2b2,#febaba,#fec4c4,#fed0d0,#fedcdc,#fee7e7,#ffefef,#fff5f5,#fff9f9,#fffbfb,#fffcfc,#fffcfc,#fffdfd,#fffdfd,#fffdfd)"></div><div style="height:2px;background:linear-gradient(90deg,#fffdfd,#fffdfd,#fffdfd,#fffdfd,#fffcfc,#fffcfc,#fffafa,#fff8f8,#fff3f3,#ffeded,#fee5e5,#fedcdc,#fed2d2,#fec8c8,#fec0c0,#feb9b9,#fdb3b3,#fdafaf,#fdacac,#fdaaaa,#fda9a9,#fda9a9,#fda8a8,#fda8a8,#fda8a8,#fda8a8,#fda8a8,#fda8a8,#fda8a8,#fda8a8,#fda9a9,#fda9a9,#fdaaaa,#fdacac,#fdafaf,#fdb3b3,#feb9b9,#fec0c0,#fec8c8,#fed2d2,#fedcdc,#fee5e5,#ffeded,#fff3f3,#fff8f8,#fffafa,#fffcfc,#fffcfc,#fffdfd,#fffdfd,#fffdfd,#fffdfd,#fffdfd)"></div><div style="height:2px;background:linear-gradient(90deg,#fffdfd,#fffdfd,#fffdfd,#fffdfd,#fffdfd,#fffcfc,#fffcfc,#fffbfb,#fffafa,#fff7f7,#fff3f3,#ffeeee,#ffe8e8,#fee1e1,#fedada,#fed3d3,#fecccc,#fec6c6,#fec2c2,#febebe,#febbbb,#feb8b8,#fdb7b7,#fdb6b6,#fdb5b5,#fdb5b5,#fdb5b5,#fdb5b5,#fdb6b6,#fdb7b7,#feb8b8,#febbbb,#febebe,#fec2c2,#fec6c6,#fecccc,#fed3d3,#fedada,#fee1e1,#ffe8e8,#ffeeee,#fff3f3,#fff7f7,#fffafa,#fffbfb,#fffcfc,#fffcfc,#fffdfd,#fffdfd,#fffdfd,#fffdfd,#fffdfd,#fffdfd)"></div><div style="height:2px;background:linear-gradient(90deg,#fffdfd,#fffdfd,#fffdfd,#fffdfd,#fffdfd,#fffdfd,#fffdfd,#fffcfc,#fffcfc,#fffbfb,#fffafa,#fff8f8,#fff5f5,#fff1f1,#ffeded,#ffe9e9,#fee4e4,#fee0e0,#fedcdc,#fed8d8,#fed5d5,#fed3d3,#fed1d1,#fed0d0,#fecfcf,#fecece,#fecece,#fecfcf,#fed0d0,#fed1d1,#fed3d3,#fed5d5,#fed8d8,#fedcdc,#fee0e0,#fee4e4,#ffe9e9,#ffeded,#fff1f1,#fff5f5,#fff8f8,#fffafa,#fffbfb,#fffcfc,#fffcfc,#fffdfd,#fffdfd,#fffdfd,#fffdfd,#fffdfd,#fffdfd,#fffdfd,#fffdfd)"></div><div style="height:2px;background:linear-gradient(90deg,#fffdfd,#fffdfd,#fffdfd,#fffdfd,#fffdfd,#fffdfd,#fffdfd,#fffdfd,#fffdfd,#fffcfc,#fffcfc,#fffbfb,#fffafa,#fff9f9,#fff8f8,#fff6f6,#fff3f3,#fff1f1,#ffefef,#ffeded,#ffebeb,#ffe9e9,#ffe8e8,#fee7e7,#fee6e6,#fee6e6,#fee6e6,#fee6e6,#fee7e7,#ffe8e8,#ffe9e9,#ffebeb,#ffeded,#ffefef,#fff1f1,#fff3f3,#fff6f6,#fff8f8,#fff9f9,#fffafa,#fffbfb,#fffcfc,#fffcfc,#fffdfd,#fffdfd,#fffdfd,#fffdfd,#fffdfd,#fffdfd,#fffdfd,#fffdfd,#fffdfd,#fffdfd)"></div><div style="height:2px;background:linear-gradient(90deg,#fffdfd,#fffdfd,#fffdfd,#fffdfd,#fffdfd,#fffdfd,#fffdfd,#fffdfd,#fffdfd,#fffdfd,#fffdfd,#fffdfd,#fffcfc,#fffcfc,#fffbfb,#fffbfb,#fffafa,#fff9f9,#fff8f8,#fff7f7,#fff7f7,#fff6f6,#fff5f5,#fff5f5,#fff4f4,#fff4f4,#fff4f4,#fff4f4,#fff5f5,#fff5f5,#fff6f6,#fff7f7,#fff7f7,#fff8f8,#fff9f9,#fffafa,#fffbfb,#fffbfb,#fffcfc,#fffcfc,#fffdfd,#fffdfd,#fffdfd,#fffdfd,#fffdfd,#fffdfd,#fffdfd,#fffdfd,#fffdfd,#fffdfd,#fffdfd,#fffdfd,#fffdfd)"></div><div style="height:2px;background:linear-gradient(90deg,#fffdfd,#fffdfd,#fffdfd,#fffdfd,#fffdfd,#fffdfd,#fffdfd,#fffdfd,#fffdfd,#fffdfd,#fffdfd,#fffdfd,#fffdfd,#fffdfd,#fffdfd,#fffcfc,#fffcfc,#fffcfc,#fffcfc,#fffbfb,#fffbfb,#fffbfb,#fffbfb,#fffbfb,#fffafa,#fffafa,#fffafa,#fffafa,#fffbfb,#fffbfb,#fffbfb,#fffbfb,#fffbfb,#fffcfc,#fffcfc,#fffcfc,#fffcfc,#fffdfd,#fffdfd,#fffdfd,#fffdfd,#fffdfd,#fffdfd,#fffdfd,#fffdfd,#fffdfd,#fffdfd,#fffdfd,#fffdfd,#fffdfd,#fffdfd,#fffdfd,#fffdfd)"></div><div style="height:2px;background:linear-gradient(90deg,#fffdfd,#fffdfd,#fffdfd,#fffdfd,#fffdfd,#fffdfd,#fffdfd,#fffdfd,#fffdfd,#fffdfd,#fffdfd,#fffdfd,#fffdfd,#fffdfd,#fffdfd,#fffdfd,#fffdfd,#fffdfd,#fffdfd,#fffdfd,#fffdfd,#fffcfc,#fffcfc,#fffcfc,#fffcfc,#fffcfc,#fffcfc,#fffcfc,#fffcfc,#fffcfc,#fffcfc,#fffdfd,#fffdfd,#fffdfd,#fffdfd,#fffdfd,#fffdfd,#fffdfd,#fffdfd,#fffdfd,#fffdfd,#fffdfd,#fffdfd,#fffdfd,#fffdfd,#fffdfd,#fffdfd,#fffdfd,#fffdfd,#fffdfd,#fffdfd,#fffdfd,#fffdfd)"></div><div style="height:2px;background:linear-gradient(90deg,#fffdfd,#fffdfd,#fffdfd,#fffdfd,#fffdfd,#fffdfd,#fffdfd,#fffdfd,#fffdfd,#fffdfd,#fffdfd,#fffdfd,#fffdfd,#fffdfd,#fffdfd,#fffdfd,#fffdfd,#fffdfd,#fffdfd,#fffdfd,#fffdfd,#fffdfd,#fffdfd,#fffdfd,#fffdfd,#fffdfd,#fffdfd,#fffdfd,#fffdfd,#fffdfd,#fffdfd,#fffdfd,#fffdfd,#fffdfd,#fffdfd,#fffdfd,#fffdfd,#fffdfd,#fffdfd,#fffdfd,#fffdfd,#fffdfd,#fffdfd,#fffdfd,#fffdfd,#fffdfd,#fffdfd,#fffdfd,#fffdfd,#fffdfd,#fffdfd,#fffdfd,#fffdfd)"></div><div style="height:2px;background:linear-gradient(90deg,#fffdfd,#fffdfd,#fffdfd,#fffdfd,#fffdfd,#fffdfd,#fffdfd,#fffdfd,#fffdfd,#fffdfd,#fffdfd,#fffdfd,#fffdfd,#fffdfd,#fffdfd,#fffdfd,#fffdfd,#fffdfd,#fffdfd,#fffdfd,#fffdfd,#fffdfd,#fffdfd,#fffdfd,#fffdfd,#fffdfd,#fffdfd,#fffdfd,#fffdfd,#fffdfd,#fffdfd,#fffdfd,#fffdfd,#fffdfd,#fffdfd,#fffdfd,#fffdfd,#fffdfd,#fffdfd,#fffdfd,#fffdfd,#fffdfd,#fffdfd,#fffdfd,#fffdfd,#fffdfd,#fffdfd,#fffdfd,#fffdfd,#fffdfd,#fffdfd,#fffdfd,#fffdfd)"></div><div style="height:2px;background:linear-gradient(90deg,#fffdfd,#fffdfd,#fffdfd,#fffdfd,#fffdfd,#fffdfd,#fffdfd,#fffdfd,#fffdfd,#fffdfd,#fffdfd,#fffdfd,#fffdfd,#fffdfd,#fffdfd,#fffdfd,#fffdfd,#fffdfd,#fffdfd,#fffdfd,#fffdfd,#fffdfd,#fffdfd,#fffdfd,#fffdfd,#fffdfd,#fffdfd,#fffdfd,#fffdfd,#fffdfd,#fffdfd,#fffdfd,#fffdfd,#fffdfd,#fffdfd,#fffdfd,#fffdfd,#fffdfd,#fffdfd,#fffdfd,#fffdfd,#fffdfd,#fffdfd,#fffdfd,#fffdfd,#fffdfd,#fffdfd,#fffdfd,#fffdfd,#fffdfd,#fffdfd,#fffdfd,#fffdfd)"></div><div style="height:1px;background:linear-gradient(90deg,#fffdfd,#fffdfd,#fffdfd,#fffdfd,#fffdfd,#fffdfd,#fffdfd,#fffdfd,#fffdfd,#fffdfd,#fffdfd,#fffdfd,#fffdfd,#fffdfd,#fffdfd,#fffdfd,#fffdfd,#fffdfd,#fffdfd,#fffdfd,#fffdfd,#fffdfd,#fffdfd,#fffdfd,#fffdfd,#fffdfd,#fffdfd,#fffdfd,#fffdfd,#fffdfd,#fffdfd,#fffdfd,#fffdfd,#fffdfd,#fffdfd,#fffdfd,#fffdfd,#fffdfd,#fffdfd,#fffdfd,#fffdfd,#fffdfd,#fffdfd,#fffdfd,#fffdfd,#fffdfd,#fffdfd,#fffdfd,#fffdfd,#fffdfd,#fffdfd,#fffdfd,#fffdfd)"></div></div><div style="position:absolute;left:503px;top:157px;width:105px;height:105px"><div style="height:2px;background:linear-gradient(90deg,#ededff,#ededff,#ededff,#eeeeff,#eeeeff,#efefff,#f0f0ff,#f1f1ff,#f1f1ff,#f2f2ff,#f3f3ff,#f4f4ff,#f5f5ff,#f6f6ff,#f7f7ff,#f8f8ff,#f8f8ff,#f9f9ff,#fafaff,#fafaff,#fbfbff,#fbfbff,#fbfbff,#fbfbff,#fcfcff,#fcfcff,#fcfcff,#fcfcff,#fbfbff,#fbfbff,#fbfbff,#fbfbff,#fafaff,#fafaff,#f9f9ff,#f8f8ff,#f8f8ff,#f7f7ff,#f6f6ff,#f5f5ff,#f4f4ff,#f3f3ff,#f2f2ff,#f1f1ff,#f1f1ff,#f0f0ff,#efefff,#eeeeff,#eeeeff,#ededff,#ededff,#ededff,#ececff)"></div><div style="height:2px;background:linear-gradient(90deg,#ececff,#ededff,#ededff,#ededff,#eeeeff,#efefff,#f0f0ff,#f0f0ff,#f1f1ff,#f2f2ff,#f3f3ff,#f4f4ff,#f5f5ff,#f6f6ff,#f7f7ff,#f8f8ff,#f8f8ff,#f9f9ff,#fafaff,#fafaff,#fbfbff,#fbfbff,#fbfbff,#fbfbff,#fcfcff,#fcfcff,#fcfcff,#fcfcff,#fbfbff,#fbfbff,#fbfbff,#fbfbff,#fafaff,#fafaff,#f9f9ff,#f8f8ff,#f8f8ff,#f7f7ff,#f6f6ff,#f5f5ff,#f4f4ff,#f3f3ff,#f2f2ff,#f1f1ff,#f0f0ff,#f0f0ff,#efefff,#eeeeff,#ededff,#ededff,#ededff,#ececff,#ececff)"></div><div style="height:2px;background:linear-gradient(90deg,#ececfe,#ececff,#ededff,#ededff,#eeeeff,#efefff,#f0f0ff,#f0f0ff,#f1f1ff,#f2f2ff,#f3f3ff,#f4f4ff,#f5f5ff,#f6f6ff,#f7f7ff,#f8f8ff,#f8f8ff,#f9f9ff,#fafaff,#fafaff,#fbfbff,#fbfbff,#fbfbff,#fbfbff,#fcfcff,#fcfcff,#fcfcff,#fcfcff,#fbfbff,#fbfbff,#fbfbff,#fbfbff,#fafaff,#fafaff,#f9f9ff,#f8f8ff,#f8f8ff,#f7f7ff,#f6f6ff,#f5f5ff,#f4f4ff,#f3f3ff,#f2f2ff,#f1f1ff,#f0f0ff,#f0f0ff,#efefff,#eeeeff,#ededff,#ededff,#ececff,#ececfe,#ececfe)"></div><div style="height:2px;background:linear-gradient(90deg,#ececfe,#ececff,#ededff,#ededff,#eeeeff,#efefff,#f0f0ff,#f1f1ff,#f2f2ff,#f2f2ff,#f3f3ff,#f4f4ff,#f5f5ff,#f6f6ff,#f7f7ff,#f8f8ff,#f9f9ff,#f9f9ff,#fafaff,#fafaff,#fbfbff,#fbfbff,#fbfbff,#fbfbff,#fcfcff,#fcfcff,#fcfcff,#fcfcff,#fbfbff,#fbfbff,#fbfbff,#fbfbff,#fafaff,#fafaff,#f9f9ff,#f9f9ff,#f8f8ff,#f7f7ff,#f6f6ff,#f5f5ff,#f4f4ff,#f3f3ff,#f2f2ff,#f2f2ff,#f1f1ff,#f0f0ff,#efefff,#eeeeff,#ededff,#ededff,#ececff,#ececfe,#ececfe)"></div><div style="height:2px;background:linear-gradient(90deg,#ececfe,#ececfe,#ededff,#ededff,#eeeeff,#efefff,#f0f0ff,#f1f1ff,#f2f2ff,#f3f3ff,#f4f4ff,#f5f5ff,#f6f6ff,#f6f6ff,#f7f7ff,#f8f8ff,#f9f9ff,#f9f9ff,#fafaff,#fafaff,#fbfbff,#fbfbff,#fbfbff,#fcfcff,#fcfcff,#fcfcff,#fcfcff,#fcfcff,#fcfcff,#fbfbff,#fbfbff,#fbfbff,#fafaff,#fafaff,#f9f9ff,#f9f9ff,#f8f8ff,#f7f7ff,#f6f6ff,#f6f6ff,#f5f5ff,#f4f4ff,#f3f3ff,#f2f2ff,#f1f1ff,#f0f0ff,#efefff,#eeeeff,#ededff,#ededff,#ececfe,#ececfe,#ececfe)"></div><div style="height:2px;background:linear-gradient(90deg,#ececfe,#ececfe,#ededff,#ededff,#eeeeff,#efefff,#f0f0ff,#f1f1ff,#f2f2ff,#f3f3ff,#f4f4ff,#f5f5ff,#f6f6ff,#f7f7ff,#f7f7ff,#f8f8ff,#f9f9ff,#f9f9ff,#fafaff,#fafaff,#fbfbff,#fbfbff,#fbfbff,#fcfcff,#fcfcff,#fcfcff,#fcfcff,#fcfcff,#fcfcff,#fbfbff,#fbfbff,#fbfbff,#fafaff,#fafaff,#f9f9ff,#f9f9ff,#f8f8ff,#f7f7ff,#f7f7ff,#f6f6ff,#f5f5ff,#f4f4ff,#f3f3ff,#f2f2ff,#f1f1ff,#f0f0ff,#efefff,#eeeeff,#ededff,#ededff,#ececfe,#ececfe,#ececfe)"></div><div style="height:2px;background:linear-gradient(90deg,#ebebfe,#ececfe,#ececff,#ededff,#eeeeff,#efefff,#f0f0ff,#f1f1ff,#f2f2ff,#f3f3ff,#f4f4ff,#f5f5ff,#f6f6ff,#f7f7ff,#f8f8ff,#f8f8ff,#f9f9ff,#fafaff,#fafaff,#fbfbff,#fbfbff,#fbfbff,#fcfcff,#fcfcff,#fcfcff,#fcfcff,#fcfcff,#fcfcff,#fcfcff,#fcfcff,#fbfbff,#fbfbff,#fbfbff,#fafaff,#fafaff,#f9f9ff,#f8f8ff,#f8f8ff,#f7f7ff,#f6f6ff,#f5f5ff,#f4f4ff,#f3f3ff,#f2f2ff,#f1f1ff,#f0f0ff,#efefff,#eeeeff,#ededff,#ececff,#ececfe,#ebebfe,#ebebfe)"></div><div style="height:2px;background:linear-gradient(90deg,#ebebfe,#ececfe,#ececff,#ededff,#eeeeff,#efefff,#f0f0ff,#f1f1ff,#f2f2ff,#f3f3ff,#f4f4ff,#f5f5ff,#f6f6ff,#f7f7ff,#f8f8ff,#f9f9ff,#f9f9ff,#fafaff,#fafaff,#fbfbff,#fbfbff,#fbfbff,#fcfcff,#fcfcff,#fcfcff,#fcfcff,#fcfcff,#fcfcff,#fcfcff,#fcfcff,#fbfbff,#fbfbff,#fbfbff,#fafaff,#fafaff,#f9f9ff,#f9f9ff,#f8f8ff,#f7f7ff,#f6f6ff,#f5f5ff,#f4f4ff,#f3f3ff,#f2f2ff,#f1f1ff,#f0f0ff,#efefff,#eeeeff,#ededff,#ececff,#ececfe,#ebebfe,#ebebfe)"></div><div style="height:2px;background:linear-gradient(90deg,#ebebfe,#ebebfe,#ececfe,#ededff,#eeeeff,#f0f0ff,#f1f1ff,#f2f2ff,#f3f3ff,#f4f4ff,#f5f5ff,#f6f6ff,#f7f7ff,#f7f7ff,#f8f8ff,#f9f9ff,#f9f9ff,#fafaff,#fafaff,#fbfbff,#fbfbff,#fbfbff,#fcfcff,#fcfcff,#fcfcff,#fcfcff,#fcfcff,#fcfcff,#fcfcff,#fcfcff,#fbfbff,#fbfbff,#fbfbff,#fafaff,#fafaff,#f9f9ff,#f9f9ff,#f8f8ff,#f7f7ff,#f7f7ff,#f6f6ff,#f5f5ff,#f4f4ff,#f3f3ff,#f2f2ff,#f1f1ff,#f0f0ff,#eeeeff,#ededff,#ececfe,#ebebfe,#ebebfe,#ebebfe)"></div><div style="height:2px;background:linear-gradient(90deg,#eaeafe,#ebebfe,#ececfe,#ededff,#efefff,#f0f0ff,#f1f1ff,#f2f2ff,#f3f3ff,#f4f4ff,#f5f5ff,#f6f6ff,#f7f7ff,#f8f8ff,#f8f8ff,#f9f9ff,#fafaff,#fafaff,#fbfbff,#fbfbff,#fbfbff,#fcfcff,#fcfcff,#fcfcff,#fcfcff,#fcfcff,#fcfcff,#fcfcff,#fcfcff,#fcfcff,#fcfcff,#fbfbff,#fbfbff,#fbfbff,#fafaff,#fafaff,#f9f9ff,#f8f8ff,#f8f8ff,#f7f7ff,#f6f6ff,#f5f5ff,#f4f4ff,#f3f3ff,#f2f2ff,#f1f1ff,#f0f0ff,#efefff,#ededff,#ececfe,#ebebfe,#eaeafe,#eaeafe)"></div><div style="height:2px;background:linear-gradient(90deg,#e9e9fe,#eaeafe,#ebebfe,#ededff,#efefff,#f0f0ff,#f1f1ff,#f2f2ff,#f3f3ff,#f4f4ff,#f5f5ff,#f6f6ff,#f7f7ff,#f8f8ff,#f9f9ff,#f9f9ff,#fafaff,#fafaff,#fbfbff,#fbfbff,#fcfcff,#fcfcff,#fcfcff,#fcfcff,#fcfcff,#fcfcff,#fcfcff,#fcfcff,#fcfcff,#fcfcff,#fcfcff,#fcfcff,#fbfbff,#fbfbff,#fafaff,#fafaff,#f9f9ff,#f9f9ff,#f8f8ff,#f7f7ff,#f6f6ff,#f5f5ff,#f4f4ff,#f3f3ff,#f2f2ff,#f1f1ff,#f0f0ff,#efefff,#ededff,#ebebfe,#eaeafe,#e9e9fe,#e9e9fe)"></div><div style="height:2px;background:linear-gradient(90deg,#e7e7fe,#e9e9fe,#ebebfe,#ededff,#efefff,#f0f0ff,#f1f1ff,#f3f3ff,#f4f4ff,#f5f5ff,#f6f6ff,#f7f7ff,#f7f7ff,#f8f8ff,#f9f9ff,#fafaff,#fafaff,#fbfbff,#fbfbff,#fbfbff,#fcfcff,#fcfcff,#fcfcff,#fcfcff,#fcfcff,#fcfcff,#fcfcff,#fcfcff,#fcfcff,#fcfcff,#fcfcff,#fcfcff,#fbfbff,#fbfbff,#fbfbff,#fafaff,#fafaff,#f9f9ff,#f8f8ff,#f7f7ff,#f7f7ff,#f6f6ff,#f5f5ff,#f4f4ff,#f3f3ff,#f1f1ff,#f0f0ff,#efefff,#ededff,#ebebfe,#e9e9fe,#e7e7fe,#e7e7fe)"></div><div style="height:2px;background:linear-gradient(90deg,#e6e6fe,#e7e7fe,#eaeafe,#ececfe,#eeeeff,#f0f0ff,#f2f2ff,#f3f3ff,#f4f4ff,#f5f5ff,#f6f6ff,#f7f7ff,#f8f8ff,#f9f9ff,#f9f9ff,#fafaff,#fafaff,#fbfbff,#fbfbff,#fcfcff,#fcfcff,#fcfcff,#fcfcff,#fcfcff,#fcfcff,#fcfcff,#fcfcff,#fcfcff,#fcfcff,#fcfcff,#fcfcff,#fcfcff,#fcfcff,#fbfbff,#fbfbff,#fafaff,#fafaff,#f9f9ff,#f9f9ff,#f8f8ff,#f7f7ff,#f6f6ff,#f5f5ff,#f4f4ff,#f3f3ff,#f2f2ff,#f0f0ff,#eeeeff,#ececfe,#eaeafe,#e7e7fe,#e6e6fe,#e6e6fe)"></div><div style="height:2px;background:linear-gradient(90deg,#e4e4fe,#e6e6fe,#e9e9fe,#ececfe,#eeeeff,#f0f0ff,#f2f2ff,#f3f3ff,#f4f4ff,#f5f5ff,#f6f6ff,#f7f7ff,#f8f8ff,#f9f9ff,#fafaff,#fafaff,#fbfbff,#fbfbff,#fbfbff,#fcfcff,#fcfcff,#fcfcff,#fcfcff,#fcfcff,#fdfdff,#fdfdff,#fdfdff,#fdfdff,#fcfcff,#fcfcff,#fcfcff,#fcfcff,#fcfcff,#fbfbff,#fbfbff,#fbfbff,#fafaff,#fafaff,#f9f9ff,#f8f8ff,#f7f7ff,#f6f6ff,#f5f5ff,#f4f4ff,#f3f3ff,#f2f2ff,#f0f0ff,#eeeeff,#ececfe,#e9e9fe,#e6e6fe,#e4e4fe,#e4e4fe)"></div><div style="height:2px;background:linear-gradient(90deg,#e2e2fe,#e4e4fe,#e7e7fe,#ebebfe,#eeeeff,#f0f0ff,#f2f2ff,#f4f4ff,#f5f5ff,#f6f6ff,#f7f7ff,#f8f8ff,#f8f8ff,#f9f9ff,#fafaff,#fafaff,#fbfbff,#fbfbff,#fcfcff,#fcfcff,#fcfcff,#fcfcff,#fdfdff,#fdfdff,#fdfdff,#fdfdff,#fdfdff,#fdfdff,#fdfdff,#fcfcff,#fcfcff,#fcfcff,#fcfcff,#fcfcff,#fbfbff,#fbfbff,#fafaff,#fafaff,#f9f9ff,#f8f8ff,#f8f8ff,#f7f7ff,#f6f6ff,#f5f5ff,#f4f4ff,#f2f2ff,#f0f0ff,#eeeeff,#ebebfe,#e7e7fe,#e4e4fe,#e2e2fe,#e1e1fe)"></div><div style="height:2px;background:linear-gradient(90deg,#dfdffe,#e2e2fe,#e6e6fe,#eaeafe,#eeeeff,#f1f1ff,#f2f2ff,#f4f4ff,#f5f5ff,#f6f6ff,#f7f7ff,#f8f8ff,#f9f9ff,#fafaff,#fafaff,#fbfbff,#fbfbff,#fcfcff,#fcfcff,#fcfcff,#fdfdff,#fdfdff,#fdfdff,#fdfdff,#fdfdff,#fdfdff,#fdfdff,#fdfdff,#fdfdff,#fdfdff,#fcfcff,#fcfcff,#fcfcff,#fcfcff,#fbfbff,#fbfbff,#fbfbff,#fafaff,#f9f9ff,#f9f9ff,#f8f8ff,#f7f7ff,#f6f6ff,#f5f5ff,#f4f4ff,#f2f2ff,#f1f1ff,#eeeeff,#eaeafe,#e6e6fe,#e2e2fe,#dfdffe,#dfdffe)"></div><div style="height:2px;background:linear-gradient(90deg,#ddddfe,#e0e0fe,#e5e5fe,#eaeafe,#eeeeff,#f1f1ff,#f3f3ff,#f4f4ff,#f5f5ff,#f6f6ff,#f7f7ff,#f8f8ff,#f9f9ff,#fafaff,#fbfbff,#fbfbff,#fcfcff,#fcfcff,#fdfdff,#fdfdff,#fdfdff,#fdfdff,#fdfdff,#fdfdff,#fdfdff,#fdfdff,#fdfdff,#fdfdff,#fdfdff,#fdfdff,#fdfdff,#fcfcff,#fcfcff,#fcfcff,#fcfcff,#fbfbff,#fbfbff,#fafaff,#fafaff,#f9f9ff,#f8f8ff,#f7f7ff,#f6f6ff,#f5f5ff,#f4f4ff,#f3f3ff,#f1f1ff,#eeeeff,#eaeafe,#e5e5fe,#e0e0fe,#ddddfe,#ddddfe)"></div><div style="height:2px;background:linear-gradient(90deg,#dbdbfe,#dedefe,#e3e3fe,#e9e9fe,#ededff,#f1f1ff,#f3f3ff,#f4f4ff,#f6f6ff,#f7f7ff,#f8f8ff,#f9f9ff,#fafaff,#fafaff,#fbfbff,#fcfcff,#fcfcff,#fdfdff,#fdfdff,#fefeff,#fefeff,#fefeff,#fefeff,#fefeff,#fefeff,#fefeff,#fdfdff,#fdfdff,#fdfdff,#fdfdff,#fdfdff,#fdfdff,#fcfcff,#fcfcff,#fcfcff,#fbfbff,#fbfbff,#fbfbff,#fafaff,#f9f9ff,#f8f8ff,#f8f8ff,#f7f7ff,#f6f6ff,#f4f4ff,#f3f3ff,#f1f1ff,#ededff,#e9e9fe,#e3e3fe,#dedefe,#dbdbfe,#dadafe)"></div><div style="height:2px;background:linear-gradient(90deg,#d9d9fe,#ddddfe,#e2e2fe,#e8e8fe,#ededff,#f1f1ff,#f3f3ff,#f5f5ff,#f6f6ff,#f7f7ff,#f8f8ff,#f9f9ff,#fafaff,#fbfbff,#fcfcff,#fdfdff,#fdfdff,#fefeff,#fefeff,#ffffff,#ffffff,#ffffff,#ffffff,#ffffff,#fefeff,#fefeff,#fefeff,#fefeff,#fdfdff,#fdfdff,#fdfdff,#fdfdff,#fdfdff,#fcfcff,#fcfcff,#fcfcff,#fbfbff,#fbfbff,#fafaff,#f9f9ff,#f9f9ff,#f8f8ff,#f7f7ff,#f6f6ff,#f5f5ff,#f3f3ff,#f1f1ff,#ededff,#e8e8fe,#e2e2fe,#ddddfe,#d9d9fe,#d9d9fe)"></div><div style="height:2px;background:linear-gradient(90deg,#d8d8fe,#dcdcfe,#e2e2fe,#e8e8fe,#ededff,#f1f1ff,#f3f3ff,#f5f5ff,#f6f6ff,#f8f8ff,#f9f9ff,#fafaff,#fbfbff,#fcfcff,#fdfdff,#fefeff,#fefeff,#ffffff,#ffffff,#fffefe,#fffefe,#fffefe,#fffefe,#ffffff,#ffffff,#ffffff,#fefeff,#fefeff,#fefeff,#fdfdff,#fdfdff,#fdfdff,#fdfdff,#fcfcff,#fcfcff,#fcfcff,#fbfbff,#fbfbff,#fafaff,#fafaff,#f9f9ff,#f8f8ff,#f7f7ff,#f6f6ff,#f5f5ff,#f3f3ff,#f1f1ff,#ededff,#e8e8fe,#e2e2fe,#dcdcfe,#d8d8fe,#d7d7fe)"></div><div style="height:2px;background:linear-gradient(90deg,#d7d7fe,#dbdbfe,#e1e1fe,#e8e8fe,#ededff,#f1f1ff,#f4f4ff,#f5f5ff,#f7f7ff,#f8f8ff,#f9f9ff,#fafaff,#fbfbff,#fcfcff,#fdfdff,#fefeff,#ffffff,#fffefe,#fffefe,#fffdfd,#fffdfd,#fffdfd,#fffdfd,#fffefe,#fffefe,#ffffff,#ffffff,#fefeff,#fefeff,#fefeff,#fdfdff,#fdfdff,#fdfdff,#fdfdff,#fcfcff,#fcfcff,#fcfcff,#fbfbff,#fbfbff,#fafaff,#f9f9ff,#f8f8ff,#f7f7ff,#f6f6ff,#f5f5ff,#f4f4ff,#f1f1ff,#ededff,#e8e8fe,#e1e1fe,#dbdbfe,#d7d7fe,#d6d6fe)"></div><div style="height:2px;background:linear-gradient(90deg,#d7d7fe,#dbdbfe,#e1e1fe,#e8e8fe,#eeeeff,#f1f1ff,#f4f4ff,#f6f6ff,#f7f7ff,#f8f8ff,#f9f9ff,#fbfbff,#fcfcff,#fdfdff,#fefeff,#ffffff,#fffefe,#fffdfd,#fffdfd,#fffcfc,#fffcfc,#fffcfc,#fffdfd,#fffdfd,#fffefe,#fffefe,#ffffff,#ffffff,#fefeff,#fefeff,#fdfdff,#fdfdff,#fdfdff,#fdfdff,#fcfcff,#fcfcff,#fcfcff,#fbfbff,#fbfbff,#fafaff,#f9f9ff,#f9f9ff,#f8f8ff,#f7f7ff,#f5f5ff,#f4f4ff,#f1f1ff,#eeeeff,#e8e8fe,#e1e1fe,#dbdbfe,#d7d7fe,#d6d6fe)"></div><div style="height:2px;background:linear-gradient(90deg,#d7d7fe,#dcdcfe,#e2e2fe,#e9e9fe,#eeeeff,#f2f2ff,#f4f4ff,#f6f6ff,#f7f7ff,#f8f8ff,#fafaff,#fbfbff,#fcfcff,#fdfdff,#fefeff,#ffffff,#fffefe,#fffdfd,#fffcfc,#fffcfc,#fffcfc,#fffcfc,#fffcfc,#fffdfd,#fffdfd,#fffefe,#ffffff,#ffffff,#fefeff,#fefeff,#fefeff,#fdfdff,#fdfdff,#fdfdff,#fcfcff,#fcfcff,#fcfcff,#fbfbff,#fbfbff,#fafaff,#fafaff,#f9f9ff,#f8f8ff,#f7f7ff,#f6f6ff,#f4f4ff,#f2f2ff,#eeeeff,#e8e8fe,#e2e2fe,#dcdcfe,#d7d7fe,#d7d7fe)"></div><div style="height:2px;background:linear-gradient(90deg,#d9d9fe,#ddddfe,#e3e3fe,#e9e9fe,#eeeeff,#f2f2ff,#f5f5ff,#f6f6ff,#f8f8ff,#f9f9ff,#fafaff,#fbfbff,#fcfcff,#fdfdff,#fefeff,#ffffff,#fffefe,#fffdfd,#fffdfd,#fffcfc,#fffcfc,#fffcfc,#fffcfc,#fffdfd,#fffdfd,#fffefe,#ffffff,#ffffff,#fefeff,#fefeff,#fefeff,#fdfdff,#fdfdff,#fdfdff,#fdfdff,#fcfcff,#fcfcff,#fcfcff,#fbfbff,#fafaff,#fafaff,#f9f9ff,#f8f8ff,#f7f7ff,#f6f6ff,#f4f4ff,#f2f2ff,#eeeeff,#e9e9fe,#e3e3fe,#ddddfe,#d9d9fe,#d8d8fe)"></div><div style="height:2px;background:linear-gradient(90deg,#dbdbfe,#dedefe,#e4e4fe,#eaeafe,#efefff,#f3f3ff,#f5f5ff,#f6f6ff,#f8f8ff,#f9f9ff,#fafaff,#fbfbff,#fcfcff,#fdfdff,#fefeff,#ffffff,#fffefe,#fffefe,#fffdfd,#fffdfd,#fffdfd,#fffdfd,#fffdfd,#fffdfd,#fffefe,#fffefe,#ffffff,#ffffff,#fefeff,#fefeff,#fefeff,#fdfdff,#fdfdff,#fdfdff,#fdfdff,#fcfcff,#fcfcff,#fcfcff,#fbfbff,#fbfbff,#fafaff,#f9f9ff,#f8f8ff,#f7f7ff,#f6f6ff,#f5f5ff,#f3f3ff,#efefff,#eaeafe,#e4e4fe,#dedefe,#dbdbfe,#dadafe)"></div><div style="height:2px;background:linear-gradient(90deg,#ddddfe,#e1e1fe,#e6e6fe,#ebebfe,#f0f0ff,#f3f3ff,#f5f5ff,#f7f7ff,#f8f8ff,#f9f9ff,#fafaff,#fbfbff,#fcfcff,#fdfdff,#fefeff,#fefeff,#ffffff,#ffffff,#fffefe,#fffefe,#fffefe,#fffefe,#fffefe,#fffefe,#ffffff,#ffffff,#ffffff,#fefeff,#fefeff,#fefeff,#fefeff,#fdfdff,#fdfdff,#fdfdff,#fdfdff,#fcfcff,#fcfcff,#fcfcff,#fbfbff,#fbfbff,#fafaff,#f9f9ff,#f9f9ff,#f8f8ff,#f7f7ff,#f5f5ff,#f3f3ff,#f0f0ff,#ebebfe,#e6e6fe,#e1e1fe,#ddddfe,#dcdcfe)"></div><div style="height:2px;background:linear-gradient(90deg,#dfdffe,#e3e3fe,#e8e8fe,#ededff,#f1f1ff,#f4f4ff,#f6f6ff,#f7f7ff,#f8f8ff,#f9f9ff,#fafaff,#fbfbff,#fcfcff,#fcfcff,#fdfdff,#fefeff,#fefeff,#ffffff,#ffffff,#ffffff,#ffffff,#ffffff,#ffffff,#ffffff,#ffffff,#fefeff,#fefeff,#fefeff,#fefeff,#fefeff,#fdfdff,#fdfdff,#fdfdff,#fdfdff,#fdfdff,#fdfdff,#fcfcff,#fcfcff,#fbfbff,#fbfbff,#fafaff,#fafaff,#f9f9ff,#f8f8ff,#f7f7ff,#f6f6ff,#f4f4ff,#f1f1ff,#ededff,#e8e8fe,#e3e3fe,#dfdffe,#dedefe)"></div><div style="height:2px;background:linear-gradient(90deg,#e2e2fe,#e5e5fe,#eaeafe,#eeeeff,#f2f2ff,#f4f4ff,#f6f6ff,#f7f7ff,#f8f8ff,#f9f9ff,#fafaff,#fbfbff,#fcfcff,#fcfcff,#fdfdff,#fdfdff,#fefeff,#fefeff,#fefeff,#fefeff,#fefeff,#fefeff,#fefeff,#fefeff,#fefeff,#fefeff,#fefeff,#fefeff,#fefeff,#fdfdff,#fdfdff,#fdfdff,#fdfdff,#fdfdff,#fdfdff,#fdfdff,#fcfcff,#fcfcff,#fcfcff,#fbfbff,#fbfbff,#fafaff,#f9f9ff,#f8f8ff,#f7f7ff,#f6f6ff,#f4f4ff,#f2f2ff,#eeeeff,#eaeafe,#e5e5fe,#e2e2fe,#e0e0fe)"></div><div style="height:2px;background:linear-gradient(90deg,#e4e4fe,#e7e7fe,#ebebfe,#efefff,#f3f3ff,#f5f5ff,#f6f6ff,#f8f8ff,#f9f9ff,#f9f9ff,#fafaff,#fbfbff,#fbfbff,#fcfcff,#fcfcff,#fdfdff,#fdfdff,#fdfdff,#fefeff,#fefeff,#fefeff,#fefeff,#fefeff,#fefeff,#fefeff,#fefeff,#fefeff,#fefeff,#fdfdff,#fdfdff,#fdfdff,#fdfdff,#fdfdff,#fdfdff,#fdfdff,#fdfdff,#fcfcff,#fcfcff,#fcfcff,#fbfbff,#fbfbff,#fafaff,#f9f9ff,#f9f9ff,#f8f8ff,#f6f6ff,#f5f5ff,#f3f3ff,#efefff,#ebebfe,#e7e7fe,#e4e4fe,#e2e2fe)"></div><div style="height:2px;background:linear-gradient(90deg,#e5e5fe,#e9e9fe,#ededff,#f0f0ff,#f3f3ff,#f5f5ff,#f7f7ff,#f8f8ff,#f9f9ff,#fafaff,#fafaff,#fbfbff,#fbfbff,#fcfcff,#fcfcff,#fdfdff,#fdfdff,#fdfdff,#fdfdff,#fdfdff,#fefeff,#fefeff,#fefeff,#fefeff,#fefeff,#fefeff,#fdfdff,#fdfdff,#fdfdff,#fdfdff,#fdfdff,#fdfdff,#fdfdff,#fdfdff,#fdfdff,#fdfdff,#fcfcff,#fcfcff,#fcfcff,#fbfbff,#fbfbff,#fafaff,#fafaff,#f9f9ff,#f8f8ff,#f7f7ff,#f5f5ff,#f3f3ff,#f0f0ff,#ededff,#e9e9fe,#e5e5fe,#e4e4fe)"></div><div style="height:2px;background:linear-gradient(90deg,#e7e7fe,#eaeafe,#ededff,#f1f1ff,#f4f4ff,#f6f6ff,#f7f7ff,#f8f8ff,#f9f9ff,#fafaff,#fafaff,#fbfbff,#fcfcff,#fcfcff,#fcfcff,#fdfdff,#fdfdff,#fdfdff,#fdfdff,#fdfdff,#fdfdff,#fdfdff,#fdfdff,#fdfdff,#fdfdff,#fdfdff,#fdfdff,#fdfdff,#fdfdff,#fdfdff,#fdfdff,#fdfdff,#fdfdff,#fdfdff,#fdfdff,#fdfdff,#fdfdff,#fcfcff,#fcfcff,#fcfcff,#fbfbff,#fafaff,#fafaff,#f9f9ff,#f8f8ff,#f7f7ff,#f6f6ff,#f4f4ff,#f1f1ff,#ededff,#eaeafe,#e7e7fe,#e6e6fe)"></div><div style="height:2px;background:linear-gradient(90deg,#e9e9fe,#eaeafe,#eeeeff,#f1f1ff,#f4f4ff,#f6f6ff,#f8f8ff,#f9f9ff,#f9f9ff,#fafaff,#fbfbff,#fbfbff,#fcfcff,#fcfcff,#fcfcff,#fdfdff,#fdfdff,#fdfdff,#fdfdff,#fdfdff,#fdfdff,#fdfdff,#fdfdff,#fdfdff,#fdfdff,#fdfdff,#fdfdff,#fdfdff,#fdfdff,#fdfdff,#fdfdff,#fdfdff,#fdfdff,#fdfdff,#fdfdff,#fdfdff,#fdfdff,#fcfcff,#fcfcff,#fcfcff,#fbfbff,#fbfbff,#fafaff,#f9f9ff,#f9f9ff,#f8f8ff,#f6f6ff,#f4f4ff,#f1f1ff,#eeeeff,#eaeafe,#e9e9fe,#e9e9fe)"></div><div style="height:2px;background:linear-gradient(90deg,#ebebfe,#ebebfe,#ededff,#f0f0ff,#f4f4ff,#f6f6ff,#f8f8ff,#f9f9ff,#fafaff,#fafaff,#fbfbff,#fbfbff,#fcfcff,#fcfcff,#fcfcff,#fdfdff,#fdfdff,#fdfdff,#fdfdff,#fdfdff,#fdfdff,#fdfdff,#fdfdff,#fdfdff,#fdfdff,#fdfdff,#fdfdff,#fdfdff,#fdfdff,#fdfdff,#fdfdff,#fdfdff,#fdfdff,#fdfdff,#fdfdff,#fdfdff,#fdfdff,#fcfcff,#fcfcff,#fcfcff,#fbfbff,#fbfbff,#fafaff,#fafaff,#f9f9ff,#f8f8ff,#f6f6ff,#f4f4ff,#f0f0ff,#ededff,#ebebfe,#ebebfe,#ededff)"></div><div style="height:2px;background:linear-gradient(90deg,#efefff,#ececff,#ededff,#efefff,#f2f2ff,#f5f5ff,#f7f7ff,#f9f9ff,#fafaff,#fafaff,#fbfbff,#fcfcff,#fcfcff,#fcfcff,#fdfdff,#fdfdff,#fdfdff,#fdfdff,#fdfdff,#fdfdff,#fdfdff,#fdfdff,#fdfdff,#fdfdff,#fdfdff,#fdfdff,#fdfdff,#fdfdff,#fdfdff,#fdfdff,#fdfdff,#fdfdff,#fdfdff,#fdfdff,#fdfdff,#fdfdff,#fdfdff,#fdfdff,#fcfcff,#fcfcff,#fcfcff,#fbfbff,#fafaff,#fafaff,#f9f9ff,#f7f7ff,#f5f5ff,#f2f2ff,#efefff,#ededff,#ececff,#efefff,#f3f3ff)"></div><div style="height:2px;background:linear-gradient(90deg,#f5f5ff,#f0f0ff,#eeeeff,#eeeeff,#f0f0ff,#f3f3ff,#f6f6ff,#f8f8ff,#f9f9ff,#fafaff,#fbfbff,#fcfcff,#fcfcff,#fcfcff,#fdfdff,#fdfdff,#fdfdff,#fdfdff,#fdfdff,#fdfdff,#fdfdff,#fdfdff,#fdfdff,#fdfdff,#fdfdff,#fdfdff,#fdfdff,#fdfdff,#fdfdff,#fdfdff,#fdfdff,#fdfdff,#fdfdff,#fdfdff,#fdfdff,#fdfdff,#fdfdff,#fdfdff,#fcfcff,#fcfcff,#fcfcff,#fbfbff,#fafaff,#f9f9ff,#f8f8ff,#f6f6ff,#f3f3ff,#f0f0ff,#eeeeff,#eeeeff,#f0f0ff,#f5f5ff,#fcfcff)"></div><div style="height:2px;background:linear-gradient(90deg,#fdfcfd,#f5f5ff,#f0f0ff,#eeeeff,#efefff,#f1f1ff,#f4f4ff,#f6f6ff,#f8f8ff,#fafaff,#fbfbff,#fcfcff,#fcfcff,#fcfcff,#fdfdff,#fdfdff,#fdfdff,#fdfdff,#fdfdff,#fdfdff,#fdfdff,#fdfdff,#fdfdff,#fdfdff,#fdfdff,#fdfdff,#fdfdff,#fdfdff,#fdfdff,#fdfdff,#fdfdff,#fdfdff,#fdfdff,#fdfdff,#fdfdff,#fdfdff,#fdfdff,#fdfdff,#fcfcff,#fcfcff,#fcfcff,#fbfbff,#fafaff,#f8f8ff,#f6f6ff,#f4f4ff,#f1f1ff,#efefff,#eeeeff,#f0f0ff,#f5f5ff,#fdfcfd,#fff4f4)"></div><div style="height:2px;background:linear-gradient(90deg,#fff1f1,#fdfcfd,#f6f6ff,#f1f1ff,#efefff,#efefff,#f1f1ff,#f3f3ff,#f6f6ff,#f8f8ff,#fafaff,#fbfbff,#fcfcff,#fcfcff,#fdfdff,#fdfdff,#fdfdff,#fdfdff,#fdfdff,#fdfdff,#fdfdff,#fdfdff,#fdfdff,#fdfdff,#fdfdff,#fdfdff,#fdfdff,#fdfdff,#fdfdff,#fdfdff,#fdfdff,#fdfdff,#fdfdff,#fdfdff,#fdfdff,#fdfdff,#fdfdff,#fdfdff,#fcfcff,#fcfcff,#fbfbff,#fafaff,#f8f8ff,#f6f6ff,#f3f3ff,#f1f1ff,#efefff,#efefff,#f1f1ff,#f6f6ff,#fdfcfd,#fff1f1,#fee3e3)"></div><div style="height:2px;background:linear-gradient(90deg,#fedfdf,#fff0f0,#fefcfd,#f7f7ff,#f2f2ff,#efefff,#efefff,#f0f0ff,#f2f2ff,#f5f5ff,#f7f7ff,#f9f9ff,#fbfbff,#fcfcff,#fcfcff,#fdfdff,#fdfdff,#fdfdff,#fdfdff,#fdfdff,#fdfdff,#fdfdff,#fdfdff,#fdfdff,#fdfdff,#fdfdff,#fdfdff,#fdfdff,#fdfdff,#fdfdff,#fdfdff,#fdfdff,#fdfdff,#fdfdff,#fdfdff,#fdfdff,#fdfdff,#fcfcff,#fcfcff,#fbfbff,#f9f9ff,#f7f7ff,#f5f5ff,#f2f2ff,#f0f0ff,#efefff,#efefff,#f2f2ff,#f7f7ff,#fefcfd,#fff0f0,#fedfdf,#fed5d5)"></div><div style="height:2px;background:linear-gradient(90deg,#fed2d2,#fedfdf,#ffefef,#fefbfc,#f9f9ff,#f3f3ff,#efefff,#eeeeff,#efefff,#f1f1ff,#f3f3ff,#f6f6ff,#f8f8ff,#fafaff,#fbfbff,#fcfcff,#fcfcff,#fdfdff,#fdfdff,#fdfdff,#fdfdff,#fdfdff,#fdfdff,#fdfdff,#fdfdff,#fdfdff,#fdfdff,#fdfdff,#fdfdff,#fdfdff,#fdfdff,#fdfdff,#fdfdff,#fdfdff,#fdfdff,#fcfcff,#fcfcff,#fbfbff,#fafaff,#f8f8ff,#f6f6ff,#f3f3ff,#f1f1ff,#efefff,#eeeeff,#efefff,#f3f3ff,#f9f9ff,#fefbfc,#ffefef,#fedfdf,#fed2d2,#fecece)"></div><div style="height:2px;background:linear-gradient(90deg,#fecece,#fed2d2,#fedddd,#ffecec,#fff9f9,#fbfbff,#f4f4ff,#f0f0ff,#eeeeff,#eeeeff,#efefff,#f1f1ff,#f4f4ff,#f6f6ff,#f8f8ff,#fafaff,#fbfbff,#fcfcff,#fcfcff,#fdfdff,#fdfdff,#fdfdff,#fdfdff,#fdfdff,#fdfdff,#fdfdff,#fdfdff,#fdfdff,#fdfdff,#fdfdff,#fdfdff,#fdfdff,#fdfdff,#fcfcff,#fcfcff,#fbfbff,#fafaff,#f8f8ff,#f6f6ff,#f4f4ff,#f1f1ff,#efefff,#eeeeff,#eeeeff,#f0f0ff,#f4f4ff,#fbfbff,#fff9f9,#ffecec,#fedddd,#fed2d2,#fecece,#fed1d1)"></div><div style="height:2px;background:linear-gradient(90deg,#fed3d3,#fecfcf,#fed1d1,#fedada,#ffe8e8,#fff6f6,#fdfcfe,#f7f7ff,#f1f1ff,#eeeeff,#ececff,#ededff,#eeeeff,#f0f0ff,#f2f2ff,#f5f5ff,#f7f7ff,#f8f8ff,#fafaff,#fbfbff,#fbfbff,#fcfcff,#fcfcff,#fcfcff,#fcfcff,#fcfcff,#fcfcff,#fcfcff,#fcfcff,#fcfcff,#fcfcff,#fbfbff,#fbfbff,#fafaff,#f8f8ff,#f7f7ff,#f5f5ff,#f2f2ff,#f0f0ff,#eeeeff,#ededff,#ececff,#eeeeff,#f1f1ff,#f7f7ff,#fdfcfe,#fff6f6,#ffe8e8,#fedada,#fed1d1,#fecfcf,#fed3d3,#fed9d9)"></div><div style="height:2px;background:linear-gradient(90deg,#fedcdc,#fed4d4,#fecfcf,#fecfcf,#fed7d7,#fee3e3,#fff0f0,#fefafb,#fbfaff,#f4f4ff,#efefff,#ececfe,#ebebfe,#ebebfe,#ececff,#eeeeff,#f1f1ff,#f3f3ff,#f5f5ff,#f6f6ff,#f7f7ff,#f8f8ff,#f9f9ff,#f9f9ff,#fafaff,#fafaff,#fafaff,#fafaff,#f9f9ff,#f9f9ff,#f8f8ff,#f7f7ff,#f6f6ff,#f5f5ff,#f3f3ff,#f1f1ff,#eeeeff,#ececff,#ebebfe,#ebebfe,#ececfe,#efefff,#f4f4ff,#fbfaff,#fefafb,#fff0f0,#fee3e3,#fed7d7,#fecfcf,#fecfcf,#fed4d4,#fedcdc,#fee4e4)"></div><div style="height:2px;background:linear-gradient(90deg,#fee7e7,#fedede,#fed5d5,#fed0d0,#fecece,#fed3d3,#fedddd,#ffe9e9,#fff4f4,#fefbfc,#f9f9ff,#f3f3ff,#eeeeff,#ebebfe,#e9e9fe,#e9e9fe,#ebebfe,#ececff,#eeeeff,#f0f0ff,#f1f1ff,#f2f2ff,#f3f3ff,#f4f4ff,#f4f4ff,#f4f4ff,#f4f4ff,#f4f4ff,#f4f4ff,#f3f3ff,#f2f2ff,#f1f1ff,#f0f0ff,#eeeeff,#ececff,#ebebfe,#e9e9fe,#e9e9fe,#ebebfe,#eeeeff,#f3f3ff,#f9f9ff,#fefbfc,#fff4f4,#ffe9e9,#fedddd,#fed3d3,#fecece,#fed0d0,#fed5d5,#fedede,#fee7e7,#ffeeee)"></div><div style="height:2px;background:linear-gradient(90deg,#fff1f1,#ffe9e9,#fee1e1,#fed8d8,#fed2d2,#fecece,#fed0d0,#fed6d6,#fee0e0,#ffecec,#fff6f6,#fefbfd,#f9f9ff,#f3f3ff,#efefff,#ebebfe,#eaeafe,#e9e9fe,#e9e9fe,#eaeafe,#ebebfe,#ececfe,#ececff,#ededff,#ededff,#ededff,#ededff,#ededff,#ededff,#ececff,#ececfe,#ebebfe,#eaeafe,#e9e9fe,#e9e9fe,#eaeafe,#ebebfe,#efefff,#f3f3ff,#f9f9ff,#fefbfd,#fff6f6,#ffecec,#fee0e0,#fed6d6,#fed0d0,#fecece,#fed2d2,#fed8d8,#fee1e1,#ffe9e9,#fff1f1,#fff6f6)"></div><div style="height:2px;background:linear-gradient(90deg,#fff8f8,#fff3f3,#ffecec,#fee4e4,#fedbdb,#fed4d4,#fed0d0,#fecece,#fed1d1,#fed8d8,#fee1e1,#ffebeb,#fff4f4,#fefafb,#fbfbfe,#f7f7ff,#f2f2ff,#efefff,#ececff,#ebebfe,#eaeafe,#e9e9fe,#e9e9fe,#e9e9fe,#e9e9fe,#e9e9fe,#e9e9fe,#e9e9fe,#e9e9fe,#e9e9fe,#e9e9fe,#eaeafe,#ebebfe,#ececff,#efefff,#f2f2ff,#f7f7ff,#fbfbfe,#fefafb,#fff4f4,#ffebeb,#fee1e1,#fed8d8,#fed1d1,#fecece,#fed0d0,#fed4d4,#fedbdb,#fee4e4,#ffecec,#fff3f3,#fff8f8,#fffbfb)"></div><div style="height:2px;background:linear-gradient(90deg,#fffcfc,#fff9f9,#fff5f5,#ffefef,#ffe8e8,#fee0e0,#fed8d8,#fed3d3,#fecfcf,#fecece,#fed1d1,#fed7d7,#fedfdf,#ffe8e8,#fff0f0,#fff6f6,#fefafb,#fcfbfe,#f9f9ff,#f6f6ff,#f3f3ff,#f1f1ff,#f0f0ff,#efefff,#eeeeff,#eeeeff,#eeeeff,#eeeeff,#efefff,#f0f0ff,#f1f1ff,#f3f3ff,#f6f6ff,#f9f9ff,#fcfbfe,#fefafb,#fff6f6,#fff0f0,#ffe8e8,#fedfdf,#fed7d7,#fed1d1,#fecece,#fecfcf,#fed3d3,#fed8d8,#fee0e0,#ffe8e8,#ffefef,#fff5f5,#fff9f9,#fffcfc,#fffdfd)"></div><div style="height:2px;background:linear-gradient(90deg,#fffefe,#fffdfd,#fffbfb,#fff7f7,#fff2f2,#ffecec,#fee5e5,#fedede,#fed7d7,#fed2d2,#fecfcf,#fecece,#fed0d0,#fed4d4,#fedada,#fee1e1,#fee7e7,#ffeded,#fff2f2,#fff7f7,#fffafa,#fefafc,#fdfbfd,#fcfbfe,#fcfbfe,#fbfbfe,#fbfbfe,#fcfbfe,#fcfbfe,#fdfbfd,#fefafc,#fffafa,#fff7f7,#fff2f2,#ffeded,#fee7e7,#fee1e1,#fedada,#fed4d4,#fed0d0,#fecece,#fecfcf,#fed2d2,#fed7d7,#fedede,#fee5e5,#ffecec,#fff2f2,#fff7f7,#fffbfb,#fffdfd,#fffefe,#fffefe)"></div><div style="height:2px;background:linear-gradient(90deg,#ffffff,#fffefe,#fffdfd,#fffcfc,#fff9f9,#fff5f5,#fff1f1,#ffebeb,#fee4e4,#fedede,#fed8d8,#fed3d3,#fed0d0,#fecece,#fecfcf,#fed0d0,#fed4d4,#fed8d8,#fedcdc,#fee0e0,#fee4e4,#ffe8e8,#ffeaea,#ffecec,#ffeeee,#ffeeee,#ffeeee,#ffeeee,#ffecec,#ffeaea,#ffe8e8,#fee4e4,#fee0e0,#fedcdc,#fed8d8,#fed4d4,#fed0d0,#fecfcf,#fecece,#fed0d0,#fed3d3,#fed8d8,#fedede,#fee4e4,#ffebeb,#fff1f1,#fff5f5,#fff9f9,#fffcfc,#fffdfd,#fffefe,#ffffff,#ffffff)"></div><div style="height:2px;background:linear-gradient(90deg,#ffffff,#ffffff,#fffefe,#fffefe,#fffdfd,#fffbfb,#fff8f8,#fff5f5,#fff0f0,#ffebeb,#fee5e5,#fedfdf,#fedada,#fed6d6,#fed2d2,#fed0d0,#fecfcf,#fecece,#fecfcf,#fed0d0,#fed2d2,#fed3d3,#fed5d5,#fed6d6,#fed7d7,#fed8d8,#fed8d8,#fed7d7,#fed6d6,#fed5d5,#fed3d3,#fed2d2,#fed0d0,#fecfcf,#fecece,#fecfcf,#fed0d0,#fed2d2,#fed6d6,#fedada,#fedfdf,#fee5e5,#ffebeb,#fff0f0,#fff5f5,#fff8f8,#fffbfb,#fffdfd,#fffefe,#fffefe,#ffffff,#ffffff,#ffffff)"></div><div style="height:2px;background:linear-gradient(90deg,#ffffff,#ffffff,#ffffff,#ffffff,#fffefe,#fffefe,#fffcfc,#fffbfb,#fff8f8,#fff5f5,#fff1f1,#ffeded,#ffe8e8,#fee3e3,#fedede,#fedada,#fed7d7,#fed4d4,#fed2d2,#fed0d0,#fecfcf,#fecfcf,#fecece,#fecece,#fecece,#fecece,#fecece,#fecece,#fecece,#fecece,#fecfcf,#fecfcf,#fed0d0,#fed2d2,#fed4d4,#fed7d7,#fedada,#fedede,#fee3e3,#ffe8e8,#ffeded,#fff1f1,#fff5f5,#fff8f8,#fffbfb,#fffcfc,#fffefe,#fffefe,#ffffff,#ffffff,#ffffff,#ffffff,#ffffff)"></div><div style="height:2px;background:linear-gradient(90deg,#ffffff,#ffffff,#ffffff,#ffffff,#ffffff,#ffffff,#fffefe,#fffefe,#fffdfd,#fffbfb,#fff9f9,#fff6f6,#fff3f3,#fff0f0,#ffecec,#ffe8e8,#fee5e5,#fee1e1,#fedede,#fedcdc,#fed9d9,#fed8d8,#fed6d6,#fed5d5,#fed5d5,#fed4d4,#fed4d4,#fed5d5,#fed5d5,#fed6d6,#fed8d8,#fed9d9,#fedcdc,#fedede,#fee1e1,#fee5e5,#ffe8e8,#ffecec,#fff0f0,#fff3f3,#fff6f6,#fff9f9,#fffbfb,#fffdfd,#fffefe,#fffefe,#ffffff,#ffffff,#ffffff,#ffffff,#ffffff,#ffffff,#ffffff)"></div><div style="height:2px;background:linear-gradient(90deg,#ffffff,#ffffff,#ffffff,#ffffff,#ffffff,#ffffff,#ffffff,#ffffff,#fffefe,#fffefe,#fffdfd,#fffcfc,#fffafa,#fff8f8,#fff6f6,#fff4f4,#fff1f1,#ffefef,#ffecec,#ffeaea,#ffe8e8,#fee6e6,#fee5e5,#fee3e3,#fee3e3,#fee2e2,#fee2e2,#fee3e3,#fee3e3,#fee5e5,#fee6e6,#ffe8e8,#ffeaea,#ffecec,#ffefef,#fff1f1,#fff4f4,#fff6f6,#fff8f8,#fffafa,#fffcfc,#fffdfd,#fffefe,#fffefe,#ffffff,#ffffff,#ffffff,#ffffff,#ffffff,#ffffff,#ffffff,#ffffff,#ffffff)"></div><div style="height:1px;background:linear-gradient(90deg,#ffffff,#ffffff,#ffffff,#ffffff,#ffffff,#ffffff,#ffffff,#ffffff,#ffffff,#ffffff,#fffefe,#fffefe,#fffdfd,#fffcfc,#fffbfb,#fffafa,#fff8f8,#fff6f6,#fff5f5,#fff3f3,#fff1f1,#fff0f0,#ffefef,#ffeeee,#ffeded,#ffeded,#ffeded,#ffeded,#ffeeee,#ffefef,#fff0f0,#fff1f1,#fff3f3,#fff5f5,#fff6f6,#fff8f8,#fffafa,#fffbfb,#fffcfc,#fffdfd,#fffefe,#fffefe,#ffffff,#ffffff,#ffffff,#ffffff,#ffffff,#ffffff,#ffffff,#ffffff,#ffffff,#ffffff,#ffffff)"></div></div><svg width="685" height="283" viewBox="0 0 685 283" style="position:absolute;left:0;top:0" font-family='"Liberation Sans", sans-serif' fill="#1a1a1a" text-rendering="geometricPrecision"><defs><linearGradient id="cb" x1="0" y1="0" x2="0" y2="1"><stop offset="0.0000" stop-color="#7d0101"/><stop offset="0.0625" stop-color="#9c0101"/><stop offset="0.1250" stop-color="#bb0202"/><stop offset="0.1875" stop-color="#da0202"/><stop offset="0.2500" stop-color="#fa0202"/><stop offset="0.3125" stop-color="#fb4141"/><stop offset="0.3750" stop-color="#fc8181"/><stop offset="0.4375" stop-color="#fec0c0"/><stop offset="0.5000" stop-color="#ffffff"/><stop offset="0.5625" stop-color="#bfbffd"/><stop offset="0.6250" stop-color="#8080fc"/><stop offset="0.6875" stop-color="#4040fa"/><stop offset="0.7500" stop-color="#0101f8"/><stop offset="0.8125" stop-color="#0101cd"/><stop offset="0.8750" stop-color="#0101a1"/><stop offset="0.9375" stop-color="#000076"/><stop offset="1.0000" stop-color="#00004a"/></linearGradient></defs><rect x="74" y="9" width="104" height="104" fill="none" stroke="#878787" stroke-width="1" transform="translate(.5 .5)"/><line x1="72.5" x2="74" y1="113.50" y2="113.50" stroke="#999999" stroke-width="1"/><text x="71.2" y="117.35" font-size="9.4" text-anchor="end">0</text><line x1="72.5" x2="74" y1="92.65" y2="92.65" stroke="#999999" stroke-width="1"/><text x="71.2" y="96.50" font-size="9.4" text-anchor="end">1</text><line x1="72.5" x2="74" y1="71.80" y2="71.80" stroke="#999999" stroke-width="1"/><text x="71.2" y="75.65" font-size="9.4" text-anchor="end">2</text><line x1="72.5" x2="74" y1="50.95" y2="50.95" stroke="#999999" stroke-width="1"/><text x="71.2" y="54.80" font-size="9.4" text-anchor="end">3</text><line x1="72.5" x2="74" y1="30.10" y2="30.10" stroke="#999999" stroke-width="1"/><text x="71.2" y="33.95" font-size="9.4" text-anchor="end">4</text><line x1="72.5" x2="74" y1="9.25" y2="9.25" stroke="#999999" stroke-width="1"/><text x="71.2" y="13.10" font-size="9.4" text-anchor="end">5</text><line x1="74.50" x2="74.50" y1="114" y2="115.5" stroke="#999999" stroke-width="1"/><text x="74.50" y="122.80" font-size="9.4" text-anchor="middle">0</text><line x1="116.20" x2="116.20" y1="114" y2="115.5" stroke="#999999" stroke-width="1"/><text x="116.20" y="122.80" font-size="9.4" text-anchor="middle">2</text><line x1="157.90" x2="157.90" y1="114" y2="115.5" stroke="#999999" stroke-width="1"/><text x="157.90" y="122.80" font-size="9.4" text-anchor="middle">4</text><text x="126.50" y="133.70" font-size="9.3" text-anchor="middle" textLength="27.3" lengthAdjust="spacingAndGlyphs">x (km)</text><text transform="translate(62,62.00) rotate(-90)" font-size="9.3" text-anchor="middle" textLength="27" lengthAdjust="spacingAndGlyphs">y (km)</text><text x="126.50" y="7.0" font-size="10.2" text-anchor="middle" textLength="41.2" lengthAdjust="spacingAndGlyphs">t=0.00 s</text><rect x="217" y="9" width="104" height="104" fill="none" stroke="#878787" stroke-width="1" transform="translate(.5 .5)"/><line x1="215.5" x2="217" y1="113.50" y2="113.50" stroke="#999999" stroke-width="1"/><text x="214.2" y="117.35" font-size="9.4" text-anchor="end">0</text><line x1="215.5" x2="217" y1="92.65" y2="92.65" stroke="#999999" stroke-width="1"/><text x="214.2" y="96.50" font-size="9.4" text-anchor="end">1</text><line x1="215.5" x2="217" y1="71.80" y2="71.80" stroke="#999999" stroke-width="1"/><text x="214.2" y="75.65" font-size="9.4" text-anchor="end">2</text><line x1="215.5" x2="217" y1="50.95" y2="50.95" stroke="#999999" stroke-width="1"/><text x="214.2" y="54.80" font-size="9.4" text-anchor="end">3</text><line x1="215.5" x2="217" y1="30.10" y2="30.10" stroke="#999999" stroke-width="1"/><text x="214.2" y="33.95" font-size="9.4" text-anchor="end">4</text><line x1="215.5" x2="217" y1="9.25" y2="9.25" stroke="#999999" stroke-width="1"/><text x="214.2" y="13.10" font-size="9.4" text-anchor="end">5</text><line x1="217.50" x2="217.50" y1="114" y2="115.5" stroke="#999999" stroke-width="1"/><text x="217.50" y="122.80" font-size="9.4" text-anchor="middle">0</text><line x1="259.20" x2="259.20" y1="114" y2="115.5" stroke="#999999" stroke-width="1"/><text x="259.20" y="122.80" font-size="9.4" text-anchor="middle">2</text><line x1="300.90" x2="300.90" y1="114" y2="115.5" stroke="#999999" stroke-width="1"/><text x="300.90" y="122.80" font-size="9.4" text-anchor="middle">4</text><text x="269.50" y="133.70" font-size="9.3" text-anchor="middle" textLength="27.3" lengthAdjust="spacingAndGlyphs">x (km)</text><text transform="translate(205,62.00) rotate(-90)" font-size="9.3" text-anchor="middle" textLength="27" lengthAdjust="spacingAndGlyphs">y (km)</text><text x="269.50" y="7.0" font-size="10.2" text-anchor="middle" textLength="41.2" lengthAdjust="spacingAndGlyphs">t=0.43 s</text><rect x="360" y="9" width="104" height="104" fill="none" stroke="#878787" stroke-width="1" transform="translate(.5 .5)"/><line x1="358.5" x2="360" y1="113.50" y2="113.50" stroke="#999999" stroke-width="1"/><text x="357.2" y="117.35" font-size="9.4" text-anchor="end">0</text><line x1="358.5" x2="360" y1="92.65" y2="92.65" stroke="#999999" stroke-width="1"/><text x="357.2" y="96.50" font-size="9.4" text-anchor="end">1</text><line x1="358.5" x2="360" y1="71.80" y2="71.80" stroke="#999999" stroke-width="1"/><text x="357.2" y="75.65" font-size="9.4" text-anchor="end">2</text><line x1="358.5" x2="360" y1="50.95" y2="50.95" stroke="#999999" stroke-width="1"/><text x="357.2" y="54.80" font-size="9.4" text-anchor="end">3</text><line x1="358.5" x2="360" y1="30.10" y2="30.10" stroke="#999999" stroke-width="1"/><text x="357.2" y="33.95" font-size="9.4" text-anchor="end">4</text><line x1="358.5" x2="360" y1="9.25" y2="9.25" stroke="#999999" stroke-width="1"/><text x="357.2" y="13.10" font-size="9.4" text-anchor="end">5</text><line x1="360.50" x2="360.50" y1="114" y2="115.5" stroke="#999999" stroke-width="1"/><text x="360.50" y="122.80" font-size="9.4" text-anchor="middle">0</text><line x1="402.20" x2="402.20" y1="114" y2="115.5" stroke="#999999" stroke-width="1"/><text x="402.20" y="122.80" font-size="9.4" text-anchor="middle">2</text><line x1="443.90" x2="443.90" y1="114" y2="115.5" stroke="#999999" stroke-width="1"/><text x="443.90" y="122.80" font-size="9.4" text-anchor="middle">4</text><text x="412.50" y="133.70" font-size="9.3" text-anchor="middle" textLength="27.3" lengthAdjust="spacingAndGlyphs">x (km)</text><text transform="translate(348,62.00) rotate(-90)" font-size="9.3" text-anchor="middle" textLength="27" lengthAdjust="spacingAndGlyphs">y (km)</text><text x="412.50" y="7.0" font-size="10.2" text-anchor="middle" textLength="41.2" lengthAdjust="spacingAndGlyphs">t=0.87 s</text><rect x="503" y="9" width="104" height="104" fill="none" stroke="#878787" stroke-width="1" transform="translate(.5 .5)"/><line x1="501.5" x2="503" y1="113.50" y2="113.50" stroke="#999999" stroke-width="1"/><text x="500.2" y="117.35" font-size="9.4" text-anchor="end">0</text><line x1="501.5" x2="503" y1="92.65" y2="92.65" stroke="#999999" stroke-width="1"/><text x="500.2" y="96.50" font-size="9.4" text-anchor="end">1</text><line x1="501.5" x2="503" y1="71.80" y2="71.80" stroke="#999999" stroke-width="1"/><text x="500.2" y="75.65" font-size="9.4" text-anchor="end">2</text><line x1="501.5" x2="503" y1="50.95" y2="50.95" stroke="#999999" stroke-width="1"/><text x="500.2" y="54.80" font-size="9.4" text-anchor="end">3</text><line x1="501.5" x2="503" y1="30.10" y2="30.10" stroke="#999999" stroke-width="1"/><text x="500.2" y="33.95" font-size="9.4" text-anchor="end">4</text><line x1="501.5" x2="503" y1="9.25" y2="9.25" stroke="#999999" stroke-width="1"/><text x="500.2" y="13.10" font-size="9.4" text-anchor="end">5</text><line x1="503.50" x2="503.50" y1="114" y2="115.5" stroke="#999999" stroke-width="1"/><text x="503.50" y="122.80" font-size="9.4" text-anchor="middle">0</text><line x1="545.20" x2="545.20" y1="114" y2="115.5" stroke="#999999" stroke-width="1"/><text x="545.20" y="122.80" font-size="9.4" text-anchor="middle">2</text><line x1="586.90" x2="586.90" y1="114" y2="115.5" stroke="#999999" stroke-width="1"/><text x="586.90" y="122.80" font-size="9.4" text-anchor="middle">4</text><text x="555.50" y="133.70" font-size="9.3" text-anchor="middle" textLength="27.3" lengthAdjust="spacingAndGlyphs">x (km)</text><text transform="translate(491,62.00) rotate(-90)" font-size="9.3" text-anchor="middle" textLength="27" lengthAdjust="spacingAndGlyphs">y (km)</text><text x="555.50" y="7.0" font-size="10.2" text-anchor="middle" textLength="41.2" lengthAdjust="spacingAndGlyphs">t=1.32 s</text><text x="25.3" y="64.20" font-size="10.2" text-anchor="middle" textLength="50.6" lengthAdjust="spacingAndGlyphs">Reference</text><rect x="74" y="157" width="104" height="104" fill="none" stroke="#878787" stroke-width="1" transform="translate(.5 .5)"/><line x1="72.5" x2="74" y1="261.50" y2="261.50" stroke="#999999" stroke-width="1"/><text x="71.2" y="265.35" font-size="9.4" text-anchor="end">0</text><line x1="72.5" x2="74" y1="240.65" y2="240.65" stroke="#999999" stroke-width="1"/><text x="71.2" y="244.50" font-size="9.4" text-anchor="end">1</text><line x1="72.5" x2="74" y1="219.80" y2="219.80" stroke="#999999" stroke-width="1"/><text x="71.2" y="223.65" font-size="9.4" text-anchor="end">2</text><line x1="72.5" x2="74" y1="198.95" y2="198.95" stroke="#999999" stroke-width="1"/><text x="71.2" y="202.80" font-size="9.4" text-anchor="end">3</text><line x1="72.5" x2="74" y1="178.10" y2="178.10" stroke="#999999" stroke-width="1"/><text x="71.2" y="181.95" font-size="9.4" text-anchor="end">4</text><line x1="72.5" x2="74" y1="157.25" y2="157.25" stroke="#999999" stroke-width="1"/><text x="71.2" y="161.10" font-size="9.4" text-anchor="end">5</text><line x1="74.50" x2="74.50" y1="262" y2="263.5" stroke="#999999" stroke-width="1"/><text x="74.50" y="270.80" font-size="9.4" text-anchor="middle">0</text><line x1="116.20" x2="116.20" y1="262" y2="263.5" stroke="#999999" stroke-width="1"/><text x="116.20" y="270.80" font-size="9.4" text-anchor="middle">2</text><line x1="157.90" x2="157.90" y1="262" y2="263.5" stroke="#999999" stroke-width="1"/><text x="157.90" y="270.80" font-size="9.4" text-anchor="middle">4</text><text x="126.50" y="281.70" font-size="9.3" text-anchor="middle" textLength="27.3" lengthAdjust="spacingAndGlyphs">x (km)</text><text transform="translate(62,210.00) rotate(-90)" font-size="9.3" text-anchor="middle" textLength="27" lengthAdjust="spacingAndGlyphs">y (km)</text><rect x="217" y="157" width="104" height="104" fill="none" stroke="#878787" stroke-width="1" transform="translate(.5 .5)"/><line x1="215.5" x2="217" y1="261.50" y2="261.50" stroke="#999999" stroke-width="1"/><text x="214.2" y="265.35" font-size="9.4" text-anchor="end">0</text><line x1="215.5" x2="217" y1="240.65" y2="240.65" stroke="#999999" stroke-width="1"/><text x="214.2" y="244.50" font-size="9.4" text-anchor="end">1</text><line x1="215.5" x2="217" y1="219.80" y2="219.80" stroke="#999999" stroke-width="1"/><text x="214.2" y="223.65" font-size="9.4" text-anchor="end">2</text><line x1="215.5" x2="217" y1="198.95" y2="198.95" stroke="#999999" stroke-width="1"/><text x="214.2" y="202.80" font-size="9.4" text-anchor="end">3</text><line x1="215.5" x2="217" y1="178.10" y2="178.10" stroke="#999999" stroke-width="1"/><text x="214.2" y="181.95" font-size="9.4" text-anchor="end">4</text><line x1="215.5" x2="217" y1="157.25" y2="157.25" stroke="#999999" stroke-width="1"/><text x="214.2" y="161.10" font-size="9.4" text-anchor="end">5</text><line x1="217.50" x2="217.50" y1="262" y2="263.5" stroke="#999999" stroke-width="1"/><text x="217.50" y="270.80" font-size="9.4" text-anchor="middle">0</text><line x1="259.20" x2="259.20" y1="262" y2="263.5" stroke="#999999" stroke-width="1"/><text x="259.20" y="270.80" font-size="9.4" text-anchor="middle">2</text><line x1="300.90" x2="300.90" y1="262" y2="263.5" stroke="#999999" stroke-width="1"/><text x="300.90" y="270.80" font-size="9.4" text-anchor="middle">4</text><text x="269.50" y="281.70" font-size="9.3" text-anchor="middle" textLength="27.3" lengthAdjust="spacingAndGlyphs">x (km)</text><text transform="translate(205,210.00) rotate(-90)" font-size="9.3" text-anchor="middle" textLength="27" lengthAdjust="spacingAndGlyphs">y (km)</text><rect x="360" y="157" width="104" height="104" fill="none" stroke="#878787" stroke-width="1" transform="translate(.5 .5)"/><line x1="358.5" x2="360" y1="261.50" y2="261.50" stroke="#999999" stroke-width="1"/><text x="357.2" y="265.35" font-size="9.4" text-anchor="end">0</text><line x1="358.5" x2="360" y1="240.65" y2="240.65" stroke="#999999" stroke-width="1"/><text x="357.2" y="244.50" font-size="9.4" text-anchor="end">1</text><line x1="358.5" x2="360" y1="219.80" y2="219.80" stroke="#999999" stroke-width="1"/><text x="357.2" y="223.65" font-size="9.4" text-anchor="end">2</text><line x1="358.5" x2="360" y1="198.95" y2="198.95" stroke="#999999" stroke-width="1"/><text x="357.2" y="202.80" font-size="9.4" text-anchor="end">3</text><line x1="358.5" x2="360" y1="178.10" y2="178.10" stroke="#999999" stroke-width="1"/><text x="357.2" y="181.95" font-size="9.4" text-anchor="end">4</text><line x1="358.5" x2="360" y1="157.25" y2="157.25" stroke="#999999" stroke-width="1"/><text x="357.2" y="161.10" font-size="9.4" text-anchor="end">5</text><line x1="360.50" x2="360.50" y1="262" y2="263.5" stroke="#999999" stroke-width="1"/><text x="360.50" y="270.80" font-size="9.4" text-anchor="middle">0</text><line x1="402.20" x2="402.20" y1="262" y2="263.5" stroke="#999999" stroke-width="1"/><text x="402.20" y="270.80" font-size="9.4" text-anchor="middle">2</text><line x1="443.90" x2="443.90" y1="262" y2="263.5" stroke="#999999" stroke-width="1"/><text x="443.90" y="270.80" font-size="9.4" text-anchor="middle">4</text><text x="412.50" y="281.70" font-size="9.3" text-anchor="middle" textLength="27.3" lengthAdjust="spacingAndGlyphs">x (km)</text><text transform="translate(348,210.00) rotate(-90)" font-size="9.3" text-anchor="middle" textLength="27" lengthAdjust="spacingAndGlyphs">y (km)</text><rect x="503" y="157" width="104" height="104" fill="none" stroke="#878787" stroke-width="1" transform="translate(.5 .5)"/><line x1="501.5" x2="503" y1="261.50" y2="261.50" stroke="#999999" stroke-width="1"/><text x="500.2" y="265.35" font-size="9.4" text-anchor="end">0</text><line x1="501.5" x2="503" y1="240.65" y2="240.65" stroke="#999999" stroke-width="1"/><text x="500.2" y="244.50" font-size="9.4" text-anchor="end">1</text><line x1="501.5" x2="503" y1="219.80" y2="219.80" stroke="#999999" stroke-width="1"/><text x="500.2" y="223.65" font-size="9.4" text-anchor="end">2</text><line x1="501.5" x2="503" y1="198.95" y2="198.95" stroke="#999999" stroke-width="1"/><text x="500.2" y="202.80" font-size="9.4" text-anchor="end">3</text><line x1="501.5" x2="503" y1="178.10" y2="178.10" stroke="#999999" stroke-width="1"/><text x="500.2" y="181.95" font-size="9.4" text-anchor="end">4</text><line x1="501.5" x2="503" y1="157.25" y2="157.25" stroke="#999999" stroke-width="1"/><text x="500.2" y="161.10" font-size="9.4" text-anchor="end">5</text><line x1="503.50" x2="503.50" y1="262" y2="263.5" stroke="#999999" stroke-width="1"/><text x="503.50" y="270.80" font-size="9.4" text-anchor="middle">0</text><line x1="545.20" x2="545.20" y1="262" y2="263.5" stroke="#999999" stroke-width="1"/><text x="545.20" y="270.80" font-size="9.4" text-anchor="middle">2</text><line x1="586.90" x2="586.90" y1="262" y2="263.5" stroke="#999999" stroke-width="1"/><text x="586.90" y="270.80" font-size="9.4" text-anchor="middle">4</text><text x="555.50" y="281.70" font-size="9.3" text-anchor="middle" textLength="27.3" lengthAdjust="spacingAndGlyphs">x (km)</text><text transform="translate(491,210.00) rotate(-90)" font-size="9.3" text-anchor="middle" textLength="27" lengthAdjust="spacingAndGlyphs">y (km)</text><text x="25.3" y="212.20" font-size="10.2" text-anchor="middle" textLength="23" lengthAdjust="spacingAndGlyphs">PINN</text><rect x="630" y="34" width="14" height="215" fill="url(#cb)"/><rect x="630.5" y="34.5" width="13" height="214" fill="none" stroke="#222" stroke-opacity=".45" stroke-width=".8"/><line x1="644" x2="645.5" y1="57.52" y2="57.52" stroke="#999999" stroke-width="1"/><text x="647.2" y="61.22" font-size="9.3" textLength="18.3" lengthAdjust="spacingAndGlyphs">0.75</text><line x1="644" x2="645.5" y1="85.51" y2="85.51" stroke="#999999" stroke-width="1"/><text x="647.2" y="89.21" font-size="9.3" textLength="18.3" lengthAdjust="spacingAndGlyphs">0.50</text><line x1="644" x2="645.5" y1="113.51" y2="113.51" stroke="#999999" stroke-width="1"/><text x="647.2" y="117.21" font-size="9.3" textLength="18.3" lengthAdjust="spacingAndGlyphs">0.25</text><line x1="644" x2="645.5" y1="141.50" y2="141.50" stroke="#999999" stroke-width="1"/><text x="647.2" y="145.20" font-size="9.3" textLength="18.3" lengthAdjust="spacingAndGlyphs">0.00</text><line x1="644" x2="645.5" y1="169.49" y2="169.49" stroke="#999999" stroke-width="1"/><text x="647.2" y="173.19" font-size="9.3" textLength="24.9" lengthAdjust="spacingAndGlyphs">−0.25</text><line x1="644" x2="645.5" y1="197.49" y2="197.49" stroke="#999999" stroke-width="1"/><text x="647.2" y="201.19" font-size="9.3" textLength="24.9" lengthAdjust="spacingAndGlyphs">−0.50</text><line x1="644" x2="645.5" y1="225.48" y2="225.48" stroke="#999999" stroke-width="1"/><text x="647.2" y="229.18" font-size="9.3" textLength="24.9" lengthAdjust="spacingAndGlyphs">−0.75</text><text transform="translate(682.3,141.5) rotate(-90)" font-size="10" text-anchor="middle" textLength="105" lengthAdjust="spacingAndGlyphs">Normalized pressure</text></svg></div></body></html>
